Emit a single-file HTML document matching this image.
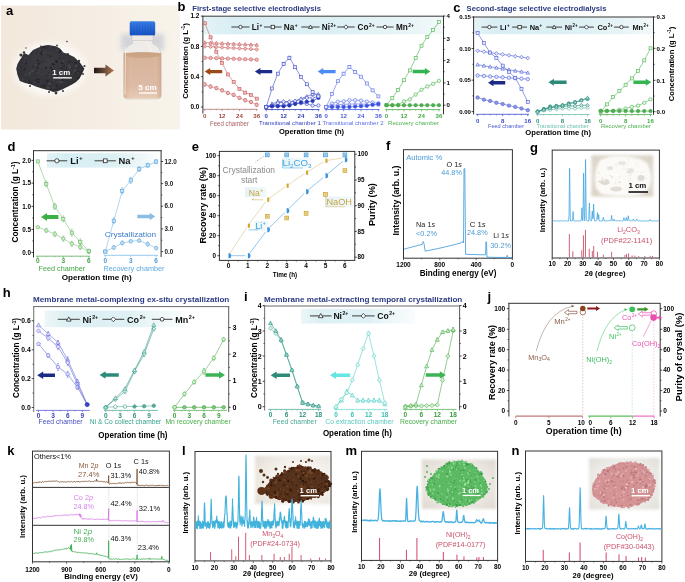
<!DOCTYPE html>
<html><head><meta charset="utf-8"><style>
html,body{margin:0;padding:0;background:#fff;width:685px;height:582px;overflow:hidden}
svg{display:block;font-family:"Liberation Sans",sans-serif;will-change:transform}

</style></head><body><div id="w">
<svg width="685" height="582" viewBox="0 0 685 582">
<rect width="685" height="582" fill="#fff"/>
<defs>
<linearGradient id="abg" x1="0" y1="0" x2="1" y2="0">
<stop offset="0" stop-color="#f2e8dc"/><stop offset="0.5" stop-color="#f5ede3"/><stop offset="1" stop-color="#f8f4eb"/></linearGradient>
<radialGradient id="ahalo" cx="0.5" cy="0.5" r="0.5"><stop offset="0.6" stop-color="#ffffff" stop-opacity="0.95"/><stop offset="1" stop-color="#ffffff" stop-opacity="0"/></radialGradient>
<linearGradient id="aarr" x1="0" y1="0" x2="1" y2="0"><stop offset="0" stop-color="#1e1818"/><stop offset="1" stop-color="#b27a56"/></linearGradient>
<linearGradient id="aliq" x1="0" y1="0" x2="0" y2="1"><stop offset="0" stop-color="#cfa888"/><stop offset="0.12" stop-color="#d8b49a"/><stop offset="0.7" stop-color="#dcbaa6"/><stop offset="1" stop-color="#e6ccb4"/></linearGradient>
<linearGradient id="aliq2" x1="0" y1="0" x2="1" y2="0"><stop offset="0" stop-color="#c09070" stop-opacity="0.45"/><stop offset="0.25" stop-color="#f0d0b4" stop-opacity="0"/><stop offset="0.8" stop-color="#f0d0b4" stop-opacity="0"/><stop offset="1" stop-color="#c09070" stop-opacity="0.45"/></linearGradient>
<linearGradient id="acap" x1="0" y1="0" x2="0" y2="1"><stop offset="0" stop-color="#3a7ee6"/><stop offset="1" stop-color="#1452c4"/></linearGradient>
<radialGradient id="powder" cx="0.45" cy="0.4" r="0.65"><stop offset="0" stop-color="#3c3c42"/><stop offset="0.7" stop-color="#323237"/><stop offset="1" stop-color="#2c2c31"/></radialGradient>
<filter id="ablur"><feGaussianBlur stdDeviation="0.5"/></filter>
<filter id="ablur2" x="-20%" y="-20%" width="140%" height="140%"><feGaussianBlur stdDeviation="2.5"/></filter>
</defs>
<rect x="1.00" y="5.50" width="179.00" height="124.00" fill="url(#abg)" />
<rect x="121" y="34" width="43" height="16.5" fill="#cfd1d8" filter="url(#ablur2)" opacity="0.9"/>
<ellipse cx="50" cy="69" rx="42" ry="31" fill="url(#ahalo)"/>
<defs><clipPath id="aclip"><path d="M16.2,68.5 L18.0,63.0 L21.8,57.0 L24.0,53.0 L28.6,54.9 L33.0,50.0 L38.5,47.4 L43.0,46.0 L47.2,44.9 L51.0,45.5 L55.9,46.2 L60.0,48.5 L63.3,52.4 L69.0,54.5 L74.5,57.3 L79.5,62.3 L84.4,68.5 L82.0,74.0 L79.5,78.4 L76.0,82.0 L72.0,84.6 L67.0,87.0 L62.1,89.6 L57.0,91.5 L53.4,92.1 L48.0,90.0 L41.0,88.3 L36.0,86.5 L31.1,84.6 L25.0,83.0 L19.9,80.9 L17.4,74.7 Z"/></clipPath></defs>
<path d="M16.2,68.5 L18.0,63.0 L21.8,57.0 L24.0,53.0 L28.6,54.9 L33.0,50.0 L38.5,47.4 L43.0,46.0 L47.2,44.9 L51.0,45.5 L55.9,46.2 L60.0,48.5 L63.3,52.4 L69.0,54.5 L74.5,57.3 L79.5,62.3 L84.4,68.5 L82.0,74.0 L79.5,78.4 L76.0,82.0 L72.0,84.6 L67.0,87.0 L62.1,89.6 L57.0,91.5 L53.4,92.1 L48.0,90.0 L41.0,88.3 L36.0,86.5 L31.1,84.6 L25.0,83.0 L19.9,80.9 L17.4,74.7 Z" fill="url(#powder)" filter="url(#ablur)"/>
<g clip-path="url(#aclip)" opacity="0.8"><circle cx="32.4" cy="70.7" r="1.3" fill="#4a4a52"/><circle cx="48.7" cy="72.5" r="0.5" fill="#242428"/><circle cx="73.8" cy="56.7" r="0.7" fill="#1e1e22"/><circle cx="65.5" cy="70.5" r="0.9" fill="#242428"/><circle cx="60.1" cy="51.4" r="1.3" fill="#1e1e22"/><circle cx="52.1" cy="80.3" r="0.6" fill="#404048"/><circle cx="82.1" cy="46.1" r="1.2" fill="#404048"/><circle cx="34.6" cy="73.1" r="1.1" fill="#333339"/><circle cx="79.6" cy="63.4" r="0.9" fill="#242428"/><circle cx="80.6" cy="87.1" r="0.5" fill="#404048"/><circle cx="50.1" cy="56.6" r="1.2" fill="#333339"/><circle cx="75.0" cy="64.6" r="1.0" fill="#333339"/><circle cx="52.9" cy="64.0" r="1.3" fill="#1e1e22"/><circle cx="63.1" cy="89.5" r="1.4" fill="#4a4a52"/><circle cx="62.3" cy="52.0" r="1.4" fill="#4a4a52"/><circle cx="78.4" cy="71.9" r="1.1" fill="#1e1e22"/><circle cx="84.2" cy="57.1" r="0.6" fill="#404048"/><circle cx="74.9" cy="92.5" r="0.8" fill="#404048"/><circle cx="20.6" cy="88.0" r="0.8" fill="#404048"/><circle cx="69.0" cy="86.8" r="1.0" fill="#404048"/><circle cx="68.6" cy="62.5" r="0.8" fill="#242428"/><circle cx="76.8" cy="92.1" r="0.7" fill="#242428"/><circle cx="18.5" cy="44.4" r="1.0" fill="#404048"/><circle cx="18.2" cy="53.7" r="0.8" fill="#333339"/><circle cx="34.2" cy="77.8" r="0.8" fill="#4a4a52"/><circle cx="82.1" cy="87.9" r="0.8" fill="#333339"/><circle cx="76.0" cy="62.9" r="1.1" fill="#242428"/><circle cx="23.1" cy="91.7" r="0.7" fill="#242428"/><circle cx="59.8" cy="79.1" r="0.9" fill="#4a4a52"/><circle cx="33.8" cy="58.8" r="0.5" fill="#4a4a52"/><circle cx="44.6" cy="72.4" r="0.8" fill="#404048"/><circle cx="56.7" cy="50.5" r="0.9" fill="#4a4a52"/><circle cx="62.9" cy="61.3" r="1.2" fill="#4a4a52"/><circle cx="17.5" cy="47.0" r="1.4" fill="#404048"/><circle cx="33.3" cy="66.4" r="1.0" fill="#242428"/><circle cx="28.2" cy="53.1" r="1.3" fill="#4a4a52"/><circle cx="34.2" cy="82.6" r="1.2" fill="#404048"/><circle cx="17.9" cy="71.9" r="0.8" fill="#1e1e22"/><circle cx="31.4" cy="83.4" r="0.8" fill="#1e1e22"/><circle cx="62.8" cy="75.8" r="0.6" fill="#404048"/><circle cx="38.2" cy="60.4" r="0.9" fill="#1e1e22"/><circle cx="75.0" cy="52.3" r="1.2" fill="#4a4a52"/><circle cx="31.0" cy="71.9" r="0.7" fill="#4a4a52"/><circle cx="24.3" cy="70.0" r="0.8" fill="#1e1e22"/><circle cx="73.7" cy="72.2" r="0.8" fill="#4a4a52"/><circle cx="73.1" cy="48.2" r="0.8" fill="#242428"/><circle cx="24.9" cy="58.3" r="0.9" fill="#4a4a52"/><circle cx="59.8" cy="58.2" r="0.9" fill="#242428"/><circle cx="79.5" cy="51.6" r="0.9" fill="#404048"/><circle cx="73.4" cy="74.5" r="0.9" fill="#242428"/><circle cx="81.6" cy="89.4" r="0.5" fill="#1e1e22"/><circle cx="47.5" cy="80.9" r="1.4" fill="#242428"/><circle cx="53.5" cy="87.6" r="1.3" fill="#404048"/><circle cx="83.0" cy="49.9" r="0.5" fill="#1e1e22"/><circle cx="78.3" cy="78.0" r="1.3" fill="#1e1e22"/><circle cx="78.1" cy="72.3" r="0.9" fill="#404048"/><circle cx="24.3" cy="68.7" r="1.1" fill="#1e1e22"/><circle cx="52.2" cy="64.3" r="0.6" fill="#242428"/><circle cx="24.7" cy="91.6" r="0.9" fill="#242428"/><circle cx="70.0" cy="61.2" r="0.6" fill="#1e1e22"/><circle cx="77.2" cy="49.8" r="1.2" fill="#1e1e22"/><circle cx="79.6" cy="83.5" r="0.9" fill="#404048"/><circle cx="55.4" cy="63.6" r="0.7" fill="#4a4a52"/><circle cx="58.6" cy="69.5" r="0.9" fill="#404048"/><circle cx="69.6" cy="44.1" r="1.2" fill="#404048"/><circle cx="19.2" cy="46.4" r="1.4" fill="#333339"/><circle cx="75.0" cy="48.2" r="0.9" fill="#242428"/><circle cx="26.8" cy="47.5" r="1.1" fill="#333339"/><circle cx="56.5" cy="61.7" r="1.4" fill="#1e1e22"/><circle cx="45.6" cy="50.3" r="1.1" fill="#404048"/><circle cx="42.2" cy="47.9" r="0.5" fill="#1e1e22"/><circle cx="47.8" cy="75.9" r="0.8" fill="#242428"/><circle cx="71.3" cy="74.5" r="0.5" fill="#333339"/><circle cx="59.3" cy="81.2" r="0.9" fill="#4a4a52"/><circle cx="63.9" cy="66.6" r="0.7" fill="#1e1e22"/><circle cx="34.6" cy="72.9" r="0.7" fill="#333339"/><circle cx="25.0" cy="45.4" r="0.8" fill="#4a4a52"/><circle cx="78.0" cy="82.8" r="0.6" fill="#4a4a52"/><circle cx="63.6" cy="90.0" r="1.2" fill="#242428"/><circle cx="62.1" cy="80.0" r="1.0" fill="#242428"/><circle cx="72.0" cy="79.1" r="0.6" fill="#333339"/><circle cx="69.4" cy="46.2" r="1.0" fill="#404048"/><circle cx="61.5" cy="62.4" r="0.8" fill="#404048"/><circle cx="74.8" cy="45.2" r="1.1" fill="#404048"/><circle cx="73.7" cy="90.7" r="0.8" fill="#242428"/><circle cx="22.1" cy="92.8" r="1.0" fill="#242428"/><circle cx="65.3" cy="49.2" r="1.3" fill="#404048"/><circle cx="20.2" cy="59.9" r="0.7" fill="#242428"/><circle cx="21.3" cy="92.9" r="0.9" fill="#1e1e22"/><circle cx="64.3" cy="90.2" r="0.8" fill="#4a4a52"/><circle cx="43.4" cy="61.2" r="1.4" fill="#333339"/><circle cx="41.9" cy="55.5" r="1.3" fill="#333339"/><circle cx="82.7" cy="64.3" r="1.2" fill="#242428"/><circle cx="62.5" cy="69.3" r="0.6" fill="#333339"/><circle cx="43.7" cy="87.5" r="0.6" fill="#1e1e22"/><circle cx="67.6" cy="88.9" r="1.4" fill="#242428"/><circle cx="56.5" cy="86.0" r="0.7" fill="#1e1e22"/><circle cx="29.7" cy="72.7" r="1.3" fill="#4a4a52"/><circle cx="74.8" cy="70.4" r="1.1" fill="#4a4a52"/><circle cx="75.0" cy="73.2" r="1.0" fill="#242428"/><circle cx="34.4" cy="54.7" r="0.7" fill="#404048"/><circle cx="71.5" cy="53.8" r="0.8" fill="#242428"/><circle cx="38.2" cy="81.9" r="0.9" fill="#1e1e22"/><circle cx="64.1" cy="78.4" r="0.9" fill="#1e1e22"/><circle cx="73.6" cy="84.3" r="0.5" fill="#242428"/><circle cx="84.5" cy="47.5" r="1.2" fill="#333339"/><circle cx="76.8" cy="46.2" r="1.3" fill="#1e1e22"/><circle cx="60.7" cy="82.1" r="1.4" fill="#404048"/><circle cx="74.9" cy="55.9" r="1.2" fill="#1e1e22"/><circle cx="25.5" cy="74.5" r="1.3" fill="#404048"/><circle cx="33.6" cy="86.4" r="0.7" fill="#4a4a52"/><circle cx="22.3" cy="83.1" r="0.6" fill="#404048"/><circle cx="73.5" cy="58.3" r="0.9" fill="#4a4a52"/><circle cx="66.7" cy="60.5" r="0.8" fill="#404048"/><circle cx="46.1" cy="67.8" r="1.1" fill="#1e1e22"/><circle cx="67.2" cy="68.0" r="1.0" fill="#1e1e22"/><circle cx="24.2" cy="57.5" r="0.6" fill="#333339"/><circle cx="77.2" cy="88.5" r="1.0" fill="#404048"/><circle cx="64.3" cy="77.2" r="1.2" fill="#4a4a52"/><circle cx="36.4" cy="77.1" r="0.6" fill="#4a4a52"/><circle cx="81.2" cy="60.6" r="1.0" fill="#242428"/><circle cx="23.8" cy="68.2" r="0.6" fill="#4a4a52"/><circle cx="36.3" cy="79.7" r="1.1" fill="#1e1e22"/><circle cx="66.4" cy="51.3" r="1.3" fill="#4a4a52"/><circle cx="61.2" cy="50.0" r="0.6" fill="#242428"/><circle cx="38.9" cy="79.3" r="0.9" fill="#242428"/><circle cx="36.7" cy="53.2" r="0.8" fill="#333339"/><circle cx="28.2" cy="47.4" r="1.2" fill="#1e1e22"/><circle cx="53.5" cy="80.2" r="0.6" fill="#4a4a52"/><circle cx="34.7" cy="46.6" r="0.5" fill="#1e1e22"/><circle cx="50.8" cy="56.1" r="0.8" fill="#242428"/><circle cx="39.0" cy="63.8" r="1.2" fill="#242428"/><circle cx="20.8" cy="68.4" r="0.6" fill="#404048"/><circle cx="56.7" cy="77.4" r="1.2" fill="#242428"/><circle cx="66.2" cy="53.1" r="1.0" fill="#1e1e22"/><circle cx="62.2" cy="63.2" r="1.0" fill="#1e1e22"/><circle cx="26.1" cy="63.5" r="1.0" fill="#1e1e22"/><circle cx="27.8" cy="52.8" r="0.8" fill="#4a4a52"/><circle cx="36.2" cy="85.3" r="1.3" fill="#333339"/><circle cx="81.5" cy="62.8" r="1.3" fill="#242428"/><circle cx="37.4" cy="68.4" r="1.1" fill="#242428"/><circle cx="36.7" cy="86.1" r="0.5" fill="#333339"/><circle cx="29.1" cy="75.1" r="1.2" fill="#404048"/><circle cx="61.7" cy="68.1" r="1.1" fill="#242428"/><circle cx="29.7" cy="82.3" r="0.5" fill="#1e1e22"/><circle cx="50.5" cy="75.7" r="0.6" fill="#333339"/><circle cx="35.5" cy="76.2" r="0.6" fill="#1e1e22"/><circle cx="70.7" cy="74.5" r="0.5" fill="#404048"/><circle cx="58.7" cy="68.8" r="1.0" fill="#333339"/><circle cx="80.2" cy="59.8" r="1.1" fill="#4a4a52"/><circle cx="25.3" cy="86.1" r="1.2" fill="#242428"/><circle cx="18.3" cy="47.9" r="1.4" fill="#4a4a52"/><circle cx="30.2" cy="47.1" r="0.9" fill="#1e1e22"/><circle cx="68.2" cy="67.8" r="1.2" fill="#404048"/><circle cx="44.2" cy="85.4" r="0.9" fill="#1e1e22"/><circle cx="48.7" cy="47.3" r="0.7" fill="#333339"/><circle cx="49.7" cy="45.1" r="1.2" fill="#333339"/><circle cx="43.7" cy="52.8" r="1.1" fill="#404048"/><circle cx="41.3" cy="62.2" r="0.8" fill="#242428"/><circle cx="43.7" cy="91.5" r="0.7" fill="#1e1e22"/><circle cx="41.5" cy="85.9" r="0.7" fill="#242428"/><circle cx="30.4" cy="52.4" r="1.0" fill="#333339"/><circle cx="59.9" cy="50.8" r="0.7" fill="#242428"/><circle cx="49.8" cy="46.9" r="0.9" fill="#404048"/><circle cx="37.9" cy="45.6" r="0.7" fill="#404048"/><circle cx="18.7" cy="68.2" r="0.7" fill="#1e1e22"/><circle cx="42.8" cy="53.3" r="1.1" fill="#4a4a52"/><circle cx="39.9" cy="50.1" r="1.2" fill="#404048"/><circle cx="36.1" cy="92.1" r="1.2" fill="#333339"/><circle cx="82.4" cy="67.9" r="0.7" fill="#242428"/><circle cx="72.2" cy="74.8" r="0.8" fill="#4a4a52"/><circle cx="19.9" cy="65.3" r="1.0" fill="#404048"/><circle cx="16.3" cy="45.5" r="0.5" fill="#404048"/><circle cx="50.7" cy="67.6" r="1.1" fill="#1e1e22"/><circle cx="78.1" cy="53.8" r="0.8" fill="#333339"/><circle cx="49.0" cy="61.2" r="0.8" fill="#404048"/><circle cx="67.9" cy="74.9" r="0.6" fill="#333339"/><circle cx="36.2" cy="85.6" r="1.0" fill="#404048"/><circle cx="53.8" cy="70.3" r="0.7" fill="#333339"/><circle cx="67.0" cy="80.0" r="0.8" fill="#242428"/><circle cx="28.7" cy="83.3" r="0.7" fill="#333339"/><circle cx="69.8" cy="67.6" r="1.2" fill="#4a4a52"/><circle cx="51.0" cy="80.9" r="1.4" fill="#333339"/><circle cx="18.9" cy="52.4" r="1.2" fill="#404048"/><circle cx="22.3" cy="77.9" r="0.8" fill="#404048"/><circle cx="57.4" cy="83.3" r="1.3" fill="#404048"/><circle cx="76.2" cy="66.0" r="1.4" fill="#4a4a52"/><circle cx="16.1" cy="53.5" r="0.8" fill="#404048"/><circle cx="37.5" cy="66.1" r="0.7" fill="#1e1e22"/><circle cx="19.4" cy="51.5" r="1.0" fill="#1e1e22"/><circle cx="16.8" cy="55.3" r="0.7" fill="#1e1e22"/><circle cx="54.8" cy="64.6" r="0.8" fill="#242428"/><circle cx="76.9" cy="82.3" r="0.7" fill="#333339"/><circle cx="21.5" cy="84.5" r="1.0" fill="#404048"/><circle cx="75.3" cy="49.0" r="0.6" fill="#4a4a52"/><circle cx="48.1" cy="54.9" r="0.6" fill="#242428"/><circle cx="49.5" cy="76.8" r="0.9" fill="#4a4a52"/><circle cx="61.6" cy="82.1" r="1.3" fill="#4a4a52"/><circle cx="57.0" cy="83.9" r="0.6" fill="#1e1e22"/><circle cx="16.5" cy="58.7" r="0.8" fill="#404048"/><circle cx="29.2" cy="80.9" r="1.1" fill="#242428"/><circle cx="41.2" cy="82.4" r="1.0" fill="#404048"/><circle cx="30.8" cy="61.2" r="0.8" fill="#404048"/><circle cx="45.7" cy="48.1" r="0.8" fill="#1e1e22"/><circle cx="67.7" cy="54.1" r="1.3" fill="#1e1e22"/><circle cx="84.1" cy="74.0" r="1.3" fill="#242428"/><circle cx="41.4" cy="53.4" r="1.4" fill="#242428"/><circle cx="49.4" cy="81.9" r="0.9" fill="#333339"/><circle cx="56.5" cy="45.7" r="0.7" fill="#404048"/><circle cx="22.6" cy="79.4" r="1.0" fill="#4a4a52"/><circle cx="20.2" cy="67.1" r="1.2" fill="#1e1e22"/><circle cx="35.0" cy="65.2" r="0.9" fill="#4a4a52"/><circle cx="29.6" cy="82.3" r="0.6" fill="#1e1e22"/><circle cx="36.7" cy="64.1" r="0.7" fill="#404048"/><circle cx="49.6" cy="83.7" r="1.4" fill="#4a4a52"/><circle cx="83.6" cy="86.9" r="1.3" fill="#4a4a52"/><circle cx="45.8" cy="90.1" r="1.0" fill="#333339"/><circle cx="53.4" cy="61.6" r="0.8" fill="#4a4a52"/><circle cx="48.0" cy="87.5" r="1.2" fill="#4a4a52"/><circle cx="80.2" cy="69.5" r="0.6" fill="#404048"/><circle cx="52.6" cy="70.3" r="1.4" fill="#1e1e22"/><circle cx="16.1" cy="92.2" r="0.8" fill="#333339"/><circle cx="82.6" cy="61.8" r="0.5" fill="#242428"/><circle cx="28.8" cy="44.6" r="1.3" fill="#333339"/><circle cx="73.7" cy="73.6" r="0.9" fill="#404048"/><circle cx="34.1" cy="76.9" r="0.9" fill="#333339"/><circle cx="34.0" cy="46.2" r="0.5" fill="#333339"/><circle cx="84.7" cy="52.1" r="0.7" fill="#242428"/><circle cx="25.4" cy="81.2" r="1.0" fill="#333339"/><circle cx="73.3" cy="71.0" r="0.5" fill="#4a4a52"/><circle cx="19.1" cy="67.8" r="1.3" fill="#404048"/><circle cx="78.5" cy="66.9" r="1.0" fill="#242428"/><circle cx="41.6" cy="75.0" r="0.7" fill="#4a4a52"/><circle cx="63.2" cy="92.6" r="0.6" fill="#242428"/><circle cx="69.4" cy="65.8" r="1.2" fill="#4a4a52"/><circle cx="47.2" cy="91.0" r="1.0" fill="#1e1e22"/><circle cx="25.6" cy="45.9" r="1.3" fill="#333339"/><circle cx="73.1" cy="89.6" r="0.7" fill="#242428"/><circle cx="37.8" cy="73.3" r="0.9" fill="#404048"/><circle cx="35.3" cy="78.8" r="0.6" fill="#4a4a52"/><circle cx="62.1" cy="62.2" r="0.9" fill="#242428"/><circle cx="67.9" cy="84.5" r="0.7" fill="#333339"/><circle cx="79.5" cy="52.9" r="1.3" fill="#333339"/><circle cx="43.4" cy="46.4" r="1.4" fill="#1e1e22"/><circle cx="81.1" cy="59.6" r="1.0" fill="#333339"/><circle cx="18.5" cy="64.5" r="1.4" fill="#333339"/><circle cx="21.5" cy="55.3" r="1.2" fill="#1e1e22"/><circle cx="64.2" cy="49.6" r="1.1" fill="#404048"/><circle cx="72.4" cy="44.3" r="1.4" fill="#4a4a52"/><circle cx="63.8" cy="65.1" r="0.9" fill="#333339"/><circle cx="36.0" cy="71.4" r="0.7" fill="#1e1e22"/><circle cx="82.1" cy="51.1" r="1.1" fill="#1e1e22"/><circle cx="48.2" cy="63.5" r="0.6" fill="#404048"/><circle cx="19.8" cy="81.2" r="0.8" fill="#1e1e22"/><circle cx="60.8" cy="50.4" r="0.5" fill="#1e1e22"/><circle cx="82.3" cy="70.2" r="1.2" fill="#333339"/><circle cx="45.9" cy="52.9" r="0.8" fill="#404048"/><circle cx="25.1" cy="51.1" r="0.8" fill="#1e1e22"/><circle cx="80.7" cy="73.6" r="0.5" fill="#1e1e22"/><circle cx="41.6" cy="51.0" r="0.7" fill="#333339"/></g>
<circle cx="21" cy="55" r="1.6" fill="#38383e"/>
<circle cx="24" cy="52.5" r="1.2" fill="#38383e"/>
<circle cx="68" cy="54" r="1.0" fill="#38383e"/>
<circle cx="79" cy="61" r="1.2" fill="#38383e"/>
<circle cx="84.5" cy="66" r="1.1" fill="#38383e"/>
<circle cx="83" cy="74" r="1.0" fill="#38383e"/>
<circle cx="56" cy="93" r="1.4" fill="#38383e"/>
<circle cx="49" cy="92" r="1.0" fill="#38383e"/>
<circle cx="30" cy="86" r="1.0" fill="#38383e"/>
<circle cx="18" cy="72" r="1.0" fill="#38383e"/>
<circle cx="63" cy="91" r="1.0" fill="#38383e"/>
<circle cx="41" cy="46.5" r="1.0" fill="#38383e"/>
<circle cx="57" cy="45.5" r="0.9" fill="#38383e"/>
<circle cx="67" cy="41.5" r="0.8" fill="#38383e"/>
<circle cx="26" cy="48" r="0.7" fill="#38383e"/>
<text x="61.20" y="74.86" font-size="7.4" fill="#fff" font-weight="bold" text-anchor="middle" textLength="18" lengthAdjust="spacingAndGlyphs" >1 cm</text>
<rect x="53.20" y="77.20" width="18.60" height="1.30" fill="#fff" />
<path d="M94,67.8 L105.5,67.8 L105.5,64.5 L114,70.5 L105.5,76.5 L105.5,73.2 L94,73.2 Z" fill="url(#aarr)"/>
<path d="M132.5,40 L132.5,43.5 Q124,47 123.5,56 L123.5,95.5 Q123.5,99 128,99 L157,99 Q161.4,99 161.4,95.5 L161.4,56 Q161,47 152.8,43.5 L152.8,40 Z" fill="#efebe8" stroke="#c8c0b8" stroke-width="0.5"/>
<path d="M123.8,53 Q142,51.5 161.1,53 L161.1,95.5 Q161.1,98.5 157,98.5 L128,98.5 Q123.8,98.5 123.8,95.5 Z" fill="url(#aliq)"/>
<path d="M123.8,53 Q142,51.5 161.1,53 L161.1,95.5 Q161.1,98.5 157,98.5 L128,98.5 Q123.8,98.5 123.8,95.5 Z" fill="url(#aliq2)"/>
<ellipse cx="142.5" cy="55" rx="17" ry="3" fill="#c49a78" opacity="0.55"/>
<path d="M125.5,47 L125,95" stroke="#ffffff" stroke-width="1.0" opacity="0.6"/>
<path d="M146,42 Q150,46 151,52" stroke="#ffffff" stroke-width="0.8" opacity="0.6" fill="none"/>
<rect x="129.7" y="21.2" width="25.5" height="14.5" rx="1.8" fill="url(#acap)"/>
<line x1="131.20" y1="23.00" x2="131.20" y2="34.50" stroke="#0a3a90" stroke-width="0.5" opacity="0.45"/>
<line x1="134.00" y1="23.00" x2="134.00" y2="34.50" stroke="#0a3a90" stroke-width="0.5" opacity="0.45"/>
<line x1="136.80" y1="23.00" x2="136.80" y2="34.50" stroke="#0a3a90" stroke-width="0.5" opacity="0.45"/>
<line x1="139.60" y1="23.00" x2="139.60" y2="34.50" stroke="#0a3a90" stroke-width="0.5" opacity="0.45"/>
<line x1="142.40" y1="23.00" x2="142.40" y2="34.50" stroke="#0a3a90" stroke-width="0.5" opacity="0.45"/>
<line x1="145.20" y1="23.00" x2="145.20" y2="34.50" stroke="#0a3a90" stroke-width="0.5" opacity="0.45"/>
<line x1="148.00" y1="23.00" x2="148.00" y2="34.50" stroke="#0a3a90" stroke-width="0.5" opacity="0.45"/>
<line x1="150.80" y1="23.00" x2="150.80" y2="34.50" stroke="#0a3a90" stroke-width="0.5" opacity="0.45"/>
<line x1="153.60" y1="23.00" x2="153.60" y2="34.50" stroke="#0a3a90" stroke-width="0.5" opacity="0.45"/>
<rect x="132" y="35.5" width="21" height="5" fill="#ece9e6" stroke="#c0bcb8" stroke-width="0.4"/>
<text x="147.50" y="90.26" font-size="7.4" fill="#fff" font-weight="bold" text-anchor="middle" textLength="18.5" lengthAdjust="spacingAndGlyphs" >5 cm</text>
<rect x="139.00" y="92.40" width="18.00" height="1.30" fill="#fff" />
<text x="6.00" y="14.88" font-size="13" fill="#000" font-weight="bold" >a</text>
<text x="177.40" y="11.28" font-size="13" fill="#000" font-weight="bold" >b</text>
<text x="192.30" y="11.46" font-size="7.4" fill="#2b3a80" font-weight="bold" textLength="128.7" lengthAdjust="spacingAndGlyphs" >First-stage selective electrodialysis</text>
<defs><linearGradient id="legb" x1="0" y1="0" x2="1" y2="0"><stop offset="0" stop-color="#e4f2f5"/><stop offset="0.12" stop-color="#d9eef3"/><stop offset="0.55" stop-color="#dcf0f4"/><stop offset="0.85" stop-color="#e8f4f7"/><stop offset="1" stop-color="#f3f9fa"/></linearGradient></defs>
<rect x="203.50" y="16.80" width="239.50" height="17.50" fill="url(#legb)" />
<line x1="202.40" y1="16.20" x2="444.00" y2="16.20" stroke="#333" stroke-width="1.0" />
<line x1="202.90" y1="15.80" x2="202.90" y2="113.50" stroke="#333" stroke-width="1.0" />
<line x1="443.50" y1="15.80" x2="443.50" y2="114.30" stroke="#333" stroke-width="1.0" />
<line x1="200.90" y1="107.00" x2="202.90" y2="107.00" stroke="#000" stroke-width="0.7" />
<text x="199.30" y="109.30" font-size="6.3999999999999995" fill="#000" font-weight="bold" text-anchor="end" >0.0</text>
<line x1="200.90" y1="76.70" x2="202.90" y2="76.70" stroke="#000" stroke-width="0.7" />
<text x="199.30" y="79.00" font-size="6.3999999999999995" fill="#000" font-weight="bold" text-anchor="end" >0.4</text>
<line x1="200.90" y1="46.40" x2="202.90" y2="46.40" stroke="#000" stroke-width="0.7" />
<text x="199.30" y="48.70" font-size="6.3999999999999995" fill="#000" font-weight="bold" text-anchor="end" >0.8</text>
<line x1="200.90" y1="16.10" x2="202.90" y2="16.10" stroke="#000" stroke-width="0.7" />
<text x="199.30" y="18.40" font-size="6.3999999999999995" fill="#000" font-weight="bold" text-anchor="end" >1.2</text>
<line x1="201.70" y1="91.85" x2="202.90" y2="91.85" stroke="#000" stroke-width="0.6" />
<line x1="201.70" y1="61.55" x2="202.90" y2="61.55" stroke="#000" stroke-width="0.6" />
<line x1="201.70" y1="31.25" x2="202.90" y2="31.25" stroke="#000" stroke-width="0.6" />
<line x1="443.50" y1="105.20" x2="445.50" y2="105.20" stroke="#000" stroke-width="0.7" />
<text x="446.60" y="107.40" font-size="6.1" fill="#000" font-weight="bold" >0</text>
<line x1="443.50" y1="82.90" x2="445.50" y2="82.90" stroke="#000" stroke-width="0.7" />
<text x="446.60" y="85.10" font-size="6.1" fill="#000" font-weight="bold" >1</text>
<line x1="443.50" y1="60.60" x2="445.50" y2="60.60" stroke="#000" stroke-width="0.7" />
<text x="446.60" y="62.80" font-size="6.1" fill="#000" font-weight="bold" >2</text>
<line x1="443.50" y1="38.30" x2="445.50" y2="38.30" stroke="#000" stroke-width="0.7" />
<text x="446.60" y="40.50" font-size="6.1" fill="#000" font-weight="bold" >3</text>
<line x1="443.50" y1="16.00" x2="445.50" y2="16.00" stroke="#000" stroke-width="0.7" />
<text x="446.60" y="18.20" font-size="6.1" fill="#000" font-weight="bold" >4</text>
<line x1="443.50" y1="94.05" x2="444.70" y2="94.05" stroke="#000" stroke-width="0.6" />
<line x1="443.50" y1="71.75" x2="444.70" y2="71.75" stroke="#000" stroke-width="0.6" />
<line x1="443.50" y1="49.45" x2="444.70" y2="49.45" stroke="#000" stroke-width="0.6" />
<line x1="443.50" y1="27.15" x2="444.70" y2="27.15" stroke="#000" stroke-width="0.6" />
<text transform="translate(184.80,61.00) rotate(-90)" x="0" y="2.77" font-size="7.7" fill="#000" font-weight="bold" text-anchor="middle" textLength="75.7" lengthAdjust="spacingAndGlyphs" >Concentration (g L<tspan font-size="4.8" dy="-2.8">-1</tspan><tspan dy="2.8">)</tspan></text>
<line x1="231.40" y1="27.00" x2="249.50" y2="27.00" stroke="#2a2a2a" stroke-width="0.9" />
<circle cx="240.45" cy="27.00" r="1.71" fill="#fff" stroke="#2a2a2a" stroke-width="0.8"/>
<text x="251.70" y="29.95" font-size="8.2" fill="#111" font-weight="bold" >Li<tspan font-size="4.92" dx="0.49" dy="-3.44">+</tspan></text>
<line x1="264.00" y1="27.00" x2="281.60" y2="27.00" stroke="#2a2a2a" stroke-width="0.9" />
<rect x="271.09" y="25.29" width="3.42" height="3.42" fill="#fff" stroke="#2a2a2a" stroke-width="0.8"/>
<text x="283.80" y="29.95" font-size="8.2" fill="#111" font-weight="bold" >Na<tspan font-size="4.92" dx="0.49" dy="-3.44">+</tspan></text>
<line x1="301.30" y1="27.00" x2="319.60" y2="27.00" stroke="#2a2a2a" stroke-width="0.9" />
<path d="M310.45,25.03 L312.33,28.47 L308.57,28.47 Z" fill="#fff" stroke="#2a2a2a" stroke-width="0.8"/>
<text x="321.80" y="29.95" font-size="8.2" fill="#111" font-weight="bold" >Ni<tspan font-size="4.92" dx="0.49" dy="-3.44">2+</tspan></text>
<line x1="337.20" y1="27.00" x2="354.70" y2="27.00" stroke="#2a2a2a" stroke-width="0.9" />
<path d="M345.95,24.86 L348.09,27.00 L345.95,29.14 L343.81,27.00 Z" fill="#fff" stroke="#2a2a2a" stroke-width="0.8"/>
<text x="357.50" y="29.95" font-size="8.2" fill="#111" font-weight="bold" >Co<tspan font-size="4.92" dx="0.49" dy="-3.44">2+</tspan></text>
<line x1="376.50" y1="27.00" x2="393.60" y2="27.00" stroke="#2a2a2a" stroke-width="0.9" />
<circle cx="385.05" cy="27.00" r="1.71" fill="#fff" stroke="#2a2a2a" stroke-width="0.8"/>
<text x="396.00" y="29.95" font-size="8.2" fill="#111" font-weight="bold" >Mn<tspan font-size="4.92" dx="0.49" dy="-3.44">2+</tspan></text>
<polyline points="204.80,42.61 210.57,42.86 216.34,43.12 222.11,43.37 227.88,43.62 233.65,43.88 239.42,44.13 245.19,44.38 250.96,44.63 256.73,44.89" fill="none" stroke="#bf6a6a" stroke-width="0.6" />
<path d="M204.80,40.76 L206.58,44.01 L203.02,44.01 Z" fill="#f2b8b8" stroke="#c25c5c" stroke-width="0.6"/>
<path d="M210.57,41.01 L212.35,44.26 L208.79,44.26 Z" fill="#f2b8b8" stroke="#c25c5c" stroke-width="0.6"/>
<path d="M216.34,41.26 L218.12,44.51 L214.56,44.51 Z" fill="#f2b8b8" stroke="#c25c5c" stroke-width="0.6"/>
<path d="M222.11,41.51 L223.89,44.76 L220.33,44.76 Z" fill="#f2b8b8" stroke="#c25c5c" stroke-width="0.6"/>
<path d="M227.88,41.77 L229.66,45.02 L226.10,45.02 Z" fill="#f2b8b8" stroke="#c25c5c" stroke-width="0.6"/>
<path d="M233.65,42.02 L235.43,45.27 L231.87,45.27 Z" fill="#f2b8b8" stroke="#c25c5c" stroke-width="0.6"/>
<path d="M239.42,42.27 L241.20,45.52 L237.64,45.52 Z" fill="#f2b8b8" stroke="#c25c5c" stroke-width="0.6"/>
<path d="M245.19,42.52 L246.97,45.77 L243.41,45.77 Z" fill="#f2b8b8" stroke="#c25c5c" stroke-width="0.6"/>
<path d="M250.96,42.78 L252.74,46.03 L249.18,46.03 Z" fill="#f2b8b8" stroke="#c25c5c" stroke-width="0.6"/>
<path d="M256.73,43.03 L258.51,46.28 L254.95,46.28 Z" fill="#f2b8b8" stroke="#c25c5c" stroke-width="0.6"/>
<polyline points="204.80,46.40 210.57,46.74 216.34,47.07 222.11,47.41 227.88,47.75 233.65,48.08 239.42,48.42 245.19,48.76 250.96,49.09 256.73,49.43" fill="none" stroke="#bf6a6a" stroke-width="0.6" />
<path d="M204.80,44.50 L206.70,46.40 L204.80,48.30 L202.90,46.40 Z" fill="#f2b8b8" stroke="#c25c5c" stroke-width="0.6"/>
<path d="M210.57,44.84 L212.47,46.74 L210.57,48.64 L208.67,46.74 Z" fill="#f2b8b8" stroke="#c25c5c" stroke-width="0.6"/>
<path d="M216.34,45.17 L218.24,47.07 L216.34,48.97 L214.44,47.07 Z" fill="#f2b8b8" stroke="#c25c5c" stroke-width="0.6"/>
<path d="M222.11,45.51 L224.01,47.41 L222.11,49.31 L220.21,47.41 Z" fill="#f2b8b8" stroke="#c25c5c" stroke-width="0.6"/>
<path d="M227.88,45.85 L229.78,47.75 L227.88,49.65 L225.98,47.75 Z" fill="#f2b8b8" stroke="#c25c5c" stroke-width="0.6"/>
<path d="M233.65,46.18 L235.55,48.08 L233.65,49.98 L231.75,48.08 Z" fill="#f2b8b8" stroke="#c25c5c" stroke-width="0.6"/>
<path d="M239.42,46.52 L241.32,48.42 L239.42,50.32 L237.52,48.42 Z" fill="#f2b8b8" stroke="#c25c5c" stroke-width="0.6"/>
<path d="M245.19,46.86 L247.09,48.76 L245.19,50.66 L243.29,48.76 Z" fill="#f2b8b8" stroke="#c25c5c" stroke-width="0.6"/>
<path d="M250.96,47.19 L252.86,49.09 L250.96,50.99 L249.06,49.09 Z" fill="#f2b8b8" stroke="#c25c5c" stroke-width="0.6"/>
<path d="M256.73,47.53 L258.63,49.43 L256.73,51.33 L254.83,49.43 Z" fill="#f2b8b8" stroke="#c25c5c" stroke-width="0.6"/>
<polyline points="204.80,57.76 210.57,57.97 216.34,58.18 222.11,58.39 227.88,58.60 233.65,58.81 239.42,59.03 245.19,59.24 250.96,59.45 256.73,59.66" fill="none" stroke="#bf6a6a" stroke-width="0.6" />
<circle cx="204.80" cy="57.76" r="1.71" fill="#f2b8b8" stroke="#c25c5c" stroke-width="0.6"/>
<circle cx="210.57" cy="57.97" r="1.71" fill="#f2b8b8" stroke="#c25c5c" stroke-width="0.6"/>
<circle cx="216.34" cy="58.18" r="1.71" fill="#f2b8b8" stroke="#c25c5c" stroke-width="0.6"/>
<circle cx="222.11" cy="58.39" r="1.71" fill="#f2b8b8" stroke="#c25c5c" stroke-width="0.6"/>
<circle cx="227.88" cy="58.60" r="1.71" fill="#f2b8b8" stroke="#c25c5c" stroke-width="0.6"/>
<circle cx="233.65" cy="58.81" r="1.71" fill="#f2b8b8" stroke="#c25c5c" stroke-width="0.6"/>
<circle cx="239.42" cy="59.03" r="1.71" fill="#f2b8b8" stroke="#c25c5c" stroke-width="0.6"/>
<circle cx="245.19" cy="59.24" r="1.71" fill="#f2b8b8" stroke="#c25c5c" stroke-width="0.6"/>
<circle cx="250.96" cy="59.45" r="1.71" fill="#f2b8b8" stroke="#c25c5c" stroke-width="0.6"/>
<circle cx="256.73" cy="59.66" r="1.71" fill="#f2b8b8" stroke="#c25c5c" stroke-width="0.6"/>
<polyline points="204.80,84.50 210.57,86.55 216.34,88.06 222.11,90.34 227.88,92.99 233.65,94.88 239.42,97.91 245.19,100.18 250.96,102.00 256.73,104.80" fill="none" stroke="#bf6a6a" stroke-width="0.6" />
<line x1="204.80" y1="82.90" x2="204.80" y2="86.10" stroke="#c25c5c" stroke-width="0.5" />
<line x1="203.80" y1="82.90" x2="205.80" y2="82.90" stroke="#c25c5c" stroke-width="0.5" />
<line x1="203.80" y1="86.10" x2="205.80" y2="86.10" stroke="#c25c5c" stroke-width="0.5" />
<circle cx="204.80" cy="84.50" r="1.71" fill="#f2b8b8" stroke="#c25c5c" stroke-width="0.6"/>
<line x1="210.57" y1="84.95" x2="210.57" y2="88.15" stroke="#c25c5c" stroke-width="0.5" />
<line x1="209.57" y1="84.95" x2="211.57" y2="84.95" stroke="#c25c5c" stroke-width="0.5" />
<line x1="209.57" y1="88.15" x2="211.57" y2="88.15" stroke="#c25c5c" stroke-width="0.5" />
<circle cx="210.57" cy="86.55" r="1.71" fill="#f2b8b8" stroke="#c25c5c" stroke-width="0.6"/>
<line x1="216.34" y1="86.46" x2="216.34" y2="89.66" stroke="#c25c5c" stroke-width="0.5" />
<line x1="215.34" y1="86.46" x2="217.34" y2="86.46" stroke="#c25c5c" stroke-width="0.5" />
<line x1="215.34" y1="89.66" x2="217.34" y2="89.66" stroke="#c25c5c" stroke-width="0.5" />
<circle cx="216.34" cy="88.06" r="1.71" fill="#f2b8b8" stroke="#c25c5c" stroke-width="0.6"/>
<line x1="222.11" y1="88.74" x2="222.11" y2="91.94" stroke="#c25c5c" stroke-width="0.5" />
<line x1="221.11" y1="88.74" x2="223.11" y2="88.74" stroke="#c25c5c" stroke-width="0.5" />
<line x1="221.11" y1="91.94" x2="223.11" y2="91.94" stroke="#c25c5c" stroke-width="0.5" />
<circle cx="222.11" cy="90.34" r="1.71" fill="#f2b8b8" stroke="#c25c5c" stroke-width="0.6"/>
<line x1="227.88" y1="91.39" x2="227.88" y2="94.59" stroke="#c25c5c" stroke-width="0.5" />
<line x1="226.88" y1="91.39" x2="228.88" y2="91.39" stroke="#c25c5c" stroke-width="0.5" />
<line x1="226.88" y1="94.59" x2="228.88" y2="94.59" stroke="#c25c5c" stroke-width="0.5" />
<circle cx="227.88" cy="92.99" r="1.71" fill="#f2b8b8" stroke="#c25c5c" stroke-width="0.6"/>
<line x1="233.65" y1="93.28" x2="233.65" y2="96.48" stroke="#c25c5c" stroke-width="0.5" />
<line x1="232.65" y1="93.28" x2="234.65" y2="93.28" stroke="#c25c5c" stroke-width="0.5" />
<line x1="232.65" y1="96.48" x2="234.65" y2="96.48" stroke="#c25c5c" stroke-width="0.5" />
<circle cx="233.65" cy="94.88" r="1.71" fill="#f2b8b8" stroke="#c25c5c" stroke-width="0.6"/>
<line x1="239.42" y1="96.31" x2="239.42" y2="99.51" stroke="#c25c5c" stroke-width="0.5" />
<line x1="238.42" y1="96.31" x2="240.42" y2="96.31" stroke="#c25c5c" stroke-width="0.5" />
<line x1="238.42" y1="99.51" x2="240.42" y2="99.51" stroke="#c25c5c" stroke-width="0.5" />
<circle cx="239.42" cy="97.91" r="1.71" fill="#f2b8b8" stroke="#c25c5c" stroke-width="0.6"/>
<line x1="245.19" y1="98.58" x2="245.19" y2="101.78" stroke="#c25c5c" stroke-width="0.5" />
<line x1="244.19" y1="98.58" x2="246.19" y2="98.58" stroke="#c25c5c" stroke-width="0.5" />
<line x1="244.19" y1="101.78" x2="246.19" y2="101.78" stroke="#c25c5c" stroke-width="0.5" />
<circle cx="245.19" cy="100.18" r="1.71" fill="#f2b8b8" stroke="#c25c5c" stroke-width="0.6"/>
<line x1="250.96" y1="100.40" x2="250.96" y2="103.60" stroke="#c25c5c" stroke-width="0.5" />
<line x1="249.96" y1="100.40" x2="251.96" y2="100.40" stroke="#c25c5c" stroke-width="0.5" />
<line x1="249.96" y1="103.60" x2="251.96" y2="103.60" stroke="#c25c5c" stroke-width="0.5" />
<circle cx="250.96" cy="102.00" r="1.71" fill="#f2b8b8" stroke="#c25c5c" stroke-width="0.6"/>
<line x1="256.73" y1="103.20" x2="256.73" y2="106.40" stroke="#c25c5c" stroke-width="0.5" />
<line x1="255.73" y1="103.20" x2="257.73" y2="103.20" stroke="#c25c5c" stroke-width="0.5" />
<line x1="255.73" y1="106.40" x2="257.73" y2="106.40" stroke="#c25c5c" stroke-width="0.5" />
<circle cx="256.73" cy="104.80" r="1.71" fill="#f2b8b8" stroke="#c25c5c" stroke-width="0.6"/>
<polyline points="204.80,23.30 210.57,37.31 216.34,51.70 222.11,63.07 227.88,74.43 233.65,82.00 239.42,88.82 245.19,92.61 250.96,94.88 256.73,98.67" fill="none" stroke="#bf6a6a" stroke-width="0.6" />
<rect x="203.28" y="21.78" width="3.04" height="3.04" fill="#f2b8b8" stroke="#c25c5c" stroke-width="0.6"/>
<rect x="209.05" y="35.79" width="3.04" height="3.04" fill="#f2b8b8" stroke="#c25c5c" stroke-width="0.6"/>
<rect x="214.82" y="50.18" width="3.04" height="3.04" fill="#f2b8b8" stroke="#c25c5c" stroke-width="0.6"/>
<rect x="220.59" y="61.55" width="3.04" height="3.04" fill="#f2b8b8" stroke="#c25c5c" stroke-width="0.6"/>
<rect x="226.36" y="72.91" width="3.04" height="3.04" fill="#f2b8b8" stroke="#c25c5c" stroke-width="0.6"/>
<rect x="232.13" y="80.48" width="3.04" height="3.04" fill="#f2b8b8" stroke="#c25c5c" stroke-width="0.6"/>
<rect x="237.90" y="87.30" width="3.04" height="3.04" fill="#f2b8b8" stroke="#c25c5c" stroke-width="0.6"/>
<rect x="243.67" y="91.09" width="3.04" height="3.04" fill="#f2b8b8" stroke="#c25c5c" stroke-width="0.6"/>
<rect x="249.44" y="93.36" width="3.04" height="3.04" fill="#f2b8b8" stroke="#c25c5c" stroke-width="0.6"/>
<rect x="255.21" y="97.15" width="3.04" height="3.04" fill="#f2b8b8" stroke="#c25c5c" stroke-width="0.6"/>
<line x1="203.00" y1="109.30" x2="257.50" y2="109.30" stroke="#b47272" stroke-width="0.8" />
<line x1="204.80" y1="109.30" x2="204.80" y2="111.10" stroke="#b47272" stroke-width="0.7" />
<text x="204.80" y="117.60" font-size="6.1" fill="#a4453c" font-weight="bold" text-anchor="middle" >0</text>
<line x1="222.11" y1="109.30" x2="222.11" y2="111.10" stroke="#b47272" stroke-width="0.7" />
<text x="222.11" y="117.60" font-size="6.1" fill="#a4453c" font-weight="bold" text-anchor="middle" >12</text>
<line x1="239.42" y1="109.30" x2="239.42" y2="111.10" stroke="#b47272" stroke-width="0.7" />
<text x="239.42" y="117.60" font-size="6.1" fill="#a4453c" font-weight="bold" text-anchor="middle" >24</text>
<line x1="256.73" y1="109.30" x2="256.73" y2="111.10" stroke="#b47272" stroke-width="0.7" />
<text x="256.73" y="117.60" font-size="6.1" fill="#a4453c" font-weight="bold" text-anchor="middle" >36</text>
<line x1="210.57" y1="109.30" x2="210.57" y2="110.40" stroke="#b47272" stroke-width="0.6" />
<line x1="216.34" y1="109.30" x2="216.34" y2="110.40" stroke="#b47272" stroke-width="0.6" />
<line x1="227.88" y1="109.30" x2="227.88" y2="110.40" stroke="#b47272" stroke-width="0.6" />
<line x1="233.65" y1="109.30" x2="233.65" y2="110.40" stroke="#b47272" stroke-width="0.6" />
<line x1="245.19" y1="109.30" x2="245.19" y2="110.40" stroke="#b47272" stroke-width="0.6" />
<line x1="250.96" y1="109.30" x2="250.96" y2="110.40" stroke="#b47272" stroke-width="0.6" />
<text x="229.50" y="125.70" font-size="6.4" fill="#a85f5f" text-anchor="middle" textLength="39" lengthAdjust="spacingAndGlyphs" >Feed chamber</text>
<path d="M222.20,69.90 L210.20,69.90 L210.20,68.10 L204.70,71.60 L210.20,75.10 L210.20,73.30 L222.20,73.30 Z" fill="#9c4a1a" />
<polyline points="266.20,107.00 272.00,106.24 277.80,105.48 283.60,105.48 289.40,104.73 295.20,103.21 301.00,103.21 306.80,103.97 312.60,105.48 318.40,105.48" fill="none" stroke="#3c4cc4" stroke-width="0.6" />
<circle cx="266.20" cy="107.00" r="1.71" fill="#e4e7ff" stroke="#3c4cc4" stroke-width="0.6"/>
<circle cx="272.00" cy="106.24" r="1.71" fill="#e4e7ff" stroke="#3c4cc4" stroke-width="0.6"/>
<circle cx="277.80" cy="105.48" r="1.71" fill="#e4e7ff" stroke="#3c4cc4" stroke-width="0.6"/>
<circle cx="283.60" cy="105.48" r="1.71" fill="#e4e7ff" stroke="#3c4cc4" stroke-width="0.6"/>
<circle cx="289.40" cy="104.73" r="1.71" fill="#e4e7ff" stroke="#3c4cc4" stroke-width="0.6"/>
<circle cx="295.20" cy="103.21" r="1.71" fill="#e4e7ff" stroke="#3c4cc4" stroke-width="0.6"/>
<circle cx="301.00" cy="103.21" r="1.71" fill="#e4e7ff" stroke="#3c4cc4" stroke-width="0.6"/>
<circle cx="306.80" cy="103.97" r="1.71" fill="#e4e7ff" stroke="#3c4cc4" stroke-width="0.6"/>
<circle cx="312.60" cy="105.48" r="1.71" fill="#e4e7ff" stroke="#3c4cc4" stroke-width="0.6"/>
<circle cx="318.40" cy="105.48" r="1.71" fill="#e4e7ff" stroke="#3c4cc4" stroke-width="0.6"/>
<polyline points="266.20,107.00 272.00,103.97 277.80,101.70 283.60,101.70 289.40,101.70 295.20,100.94 301.00,98.67 306.80,96.39 312.60,94.12 318.40,94.12" fill="none" stroke="#3c4cc4" stroke-width="0.6" />
<path d="M266.20,105.14 L267.98,108.39 L264.42,108.39 Z" fill="#e4e7ff" stroke="#3c4cc4" stroke-width="0.6"/>
<line x1="272.00" y1="102.47" x2="272.00" y2="105.47" stroke="#3c4cc4" stroke-width="0.5" />
<line x1="271.00" y1="102.47" x2="273.00" y2="102.47" stroke="#3c4cc4" stroke-width="0.5" />
<line x1="271.00" y1="105.47" x2="273.00" y2="105.47" stroke="#3c4cc4" stroke-width="0.5" />
<path d="M272.00,102.11 L273.78,105.36 L270.22,105.36 Z" fill="#e4e7ff" stroke="#3c4cc4" stroke-width="0.6"/>
<line x1="277.80" y1="99.70" x2="277.80" y2="103.70" stroke="#3c4cc4" stroke-width="0.5" />
<line x1="276.80" y1="99.70" x2="278.80" y2="99.70" stroke="#3c4cc4" stroke-width="0.5" />
<line x1="276.80" y1="103.70" x2="278.80" y2="103.70" stroke="#3c4cc4" stroke-width="0.5" />
<path d="M277.80,99.84 L279.58,103.09 L276.02,103.09 Z" fill="#e4e7ff" stroke="#3c4cc4" stroke-width="0.6"/>
<path d="M283.60,99.84 L285.38,103.09 L281.82,103.09 Z" fill="#e4e7ff" stroke="#3c4cc4" stroke-width="0.6"/>
<path d="M289.40,99.84 L291.18,103.09 L287.62,103.09 Z" fill="#e4e7ff" stroke="#3c4cc4" stroke-width="0.6"/>
<path d="M295.20,99.08 L296.98,102.33 L293.42,102.33 Z" fill="#e4e7ff" stroke="#3c4cc4" stroke-width="0.6"/>
<path d="M301.00,96.81 L302.78,100.06 L299.22,100.06 Z" fill="#e4e7ff" stroke="#3c4cc4" stroke-width="0.6"/>
<path d="M306.80,94.54 L308.58,97.79 L305.02,97.79 Z" fill="#e4e7ff" stroke="#3c4cc4" stroke-width="0.6"/>
<path d="M312.60,92.27 L314.38,95.52 L310.82,95.52 Z" fill="#e4e7ff" stroke="#3c4cc4" stroke-width="0.6"/>
<path d="M318.40,92.27 L320.18,95.52 L316.62,95.52 Z" fill="#e4e7ff" stroke="#3c4cc4" stroke-width="0.6"/>
<polyline points="266.20,107.00 272.00,105.48 277.80,103.21 283.60,101.70 289.40,101.70 295.20,100.94 301.00,99.42 306.80,97.91 312.60,97.91 318.40,96.39" fill="none" stroke="#3c4cc4" stroke-width="0.6" />
<path d="M266.20,105.10 L268.10,107.00 L266.20,108.90 L264.30,107.00 Z" fill="#e4e7ff" stroke="#3c4cc4" stroke-width="0.6"/>
<path d="M272.00,103.58 L273.90,105.48 L272.00,107.39 L270.10,105.48 Z" fill="#e4e7ff" stroke="#3c4cc4" stroke-width="0.6"/>
<path d="M277.80,101.31 L279.70,103.21 L277.80,105.11 L275.90,103.21 Z" fill="#e4e7ff" stroke="#3c4cc4" stroke-width="0.6"/>
<path d="M283.60,99.80 L285.50,101.70 L283.60,103.60 L281.70,101.70 Z" fill="#e4e7ff" stroke="#3c4cc4" stroke-width="0.6"/>
<path d="M289.40,99.80 L291.30,101.70 L289.40,103.60 L287.50,101.70 Z" fill="#e4e7ff" stroke="#3c4cc4" stroke-width="0.6"/>
<path d="M295.20,99.04 L297.10,100.94 L295.20,102.84 L293.30,100.94 Z" fill="#e4e7ff" stroke="#3c4cc4" stroke-width="0.6"/>
<path d="M301.00,97.52 L302.90,99.42 L301.00,101.33 L299.10,99.42 Z" fill="#e4e7ff" stroke="#3c4cc4" stroke-width="0.6"/>
<path d="M306.80,96.01 L308.70,97.91 L306.80,99.81 L304.90,97.91 Z" fill="#e4e7ff" stroke="#3c4cc4" stroke-width="0.6"/>
<path d="M312.60,96.01 L314.50,97.91 L312.60,99.81 L310.70,97.91 Z" fill="#e4e7ff" stroke="#3c4cc4" stroke-width="0.6"/>
<path d="M318.40,94.49 L320.30,96.39 L318.40,98.30 L316.50,96.39 Z" fill="#e4e7ff" stroke="#3c4cc4" stroke-width="0.6"/>
<polyline points="266.20,107.00 272.00,106.24 277.80,106.24 283.60,106.24 289.40,105.48 295.20,103.97 301.00,102.45 306.80,101.70 312.60,100.94 318.40,97.91" fill="none" stroke="#2536b8" stroke-width="0.6" />
<circle cx="266.20" cy="107.00" r="1.71" fill="#2536b8" stroke="#2536b8" stroke-width="0.6"/>
<circle cx="272.00" cy="106.24" r="1.71" fill="#2536b8" stroke="#2536b8" stroke-width="0.6"/>
<circle cx="277.80" cy="106.24" r="1.71" fill="#2536b8" stroke="#2536b8" stroke-width="0.6"/>
<circle cx="283.60" cy="106.24" r="1.71" fill="#2536b8" stroke="#2536b8" stroke-width="0.6"/>
<circle cx="289.40" cy="105.48" r="1.71" fill="#2536b8" stroke="#2536b8" stroke-width="0.6"/>
<circle cx="295.20" cy="103.97" r="1.71" fill="#2536b8" stroke="#2536b8" stroke-width="0.6"/>
<circle cx="301.00" cy="102.45" r="1.71" fill="#2536b8" stroke="#2536b8" stroke-width="0.6"/>
<circle cx="306.80" cy="101.70" r="1.71" fill="#2536b8" stroke="#2536b8" stroke-width="0.6"/>
<circle cx="312.60" cy="100.94" r="1.71" fill="#2536b8" stroke="#2536b8" stroke-width="0.6"/>
<circle cx="318.40" cy="97.91" r="1.71" fill="#2536b8" stroke="#2536b8" stroke-width="0.6"/>
<polyline points="266.20,107.00 272.00,88.44 277.80,73.67 283.60,63.82 289.40,57.76 295.20,67.23 301.00,77.08 306.80,84.28 312.60,91.85 318.40,96.39" fill="none" stroke="#3c4cc4" stroke-width="0.6" />
<rect x="264.68" y="105.48" width="3.04" height="3.04" fill="#e4e7ff" stroke="#3c4cc4" stroke-width="0.6"/>
<rect x="270.48" y="86.92" width="3.04" height="3.04" fill="#e4e7ff" stroke="#3c4cc4" stroke-width="0.6"/>
<rect x="276.28" y="72.15" width="3.04" height="3.04" fill="#e4e7ff" stroke="#3c4cc4" stroke-width="0.6"/>
<line x1="283.60" y1="62.32" x2="283.60" y2="65.32" stroke="#3c4cc4" stroke-width="0.5" />
<line x1="282.60" y1="62.32" x2="284.60" y2="62.32" stroke="#3c4cc4" stroke-width="0.5" />
<line x1="282.60" y1="65.32" x2="284.60" y2="65.32" stroke="#3c4cc4" stroke-width="0.5" />
<rect x="282.08" y="62.30" width="3.04" height="3.04" fill="#e4e7ff" stroke="#3c4cc4" stroke-width="0.6"/>
<line x1="289.40" y1="56.26" x2="289.40" y2="59.26" stroke="#3c4cc4" stroke-width="0.5" />
<line x1="288.40" y1="56.26" x2="290.40" y2="56.26" stroke="#3c4cc4" stroke-width="0.5" />
<line x1="288.40" y1="59.26" x2="290.40" y2="59.26" stroke="#3c4cc4" stroke-width="0.5" />
<rect x="287.88" y="56.24" width="3.04" height="3.04" fill="#e4e7ff" stroke="#3c4cc4" stroke-width="0.6"/>
<rect x="293.68" y="65.71" width="3.04" height="3.04" fill="#e4e7ff" stroke="#3c4cc4" stroke-width="0.6"/>
<rect x="299.48" y="75.56" width="3.04" height="3.04" fill="#e4e7ff" stroke="#3c4cc4" stroke-width="0.6"/>
<rect x="305.28" y="82.76" width="3.04" height="3.04" fill="#e4e7ff" stroke="#3c4cc4" stroke-width="0.6"/>
<rect x="311.08" y="90.33" width="3.04" height="3.04" fill="#e4e7ff" stroke="#3c4cc4" stroke-width="0.6"/>
<rect x="316.88" y="94.88" width="3.04" height="3.04" fill="#e4e7ff" stroke="#3c4cc4" stroke-width="0.6"/>
<line x1="264.80" y1="109.50" x2="319.50" y2="109.50" stroke="#2f3fb5" stroke-width="0.8" />
<line x1="266.20" y1="109.50" x2="266.20" y2="111.30" stroke="#2f3fb5" stroke-width="0.7" />
<text x="266.20" y="117.60" font-size="6.1" fill="#2f3fb5" font-weight="bold" text-anchor="middle" >0</text>
<line x1="283.60" y1="109.50" x2="283.60" y2="111.30" stroke="#2f3fb5" stroke-width="0.7" />
<text x="283.60" y="117.60" font-size="6.1" fill="#2f3fb5" font-weight="bold" text-anchor="middle" >12</text>
<line x1="301.00" y1="109.50" x2="301.00" y2="111.30" stroke="#2f3fb5" stroke-width="0.7" />
<text x="301.00" y="117.60" font-size="6.1" fill="#2f3fb5" font-weight="bold" text-anchor="middle" >24</text>
<line x1="318.40" y1="109.50" x2="318.40" y2="111.30" stroke="#2f3fb5" stroke-width="0.7" />
<text x="318.40" y="117.60" font-size="6.1" fill="#2f3fb5" font-weight="bold" text-anchor="middle" >36</text>
<line x1="272.00" y1="109.50" x2="272.00" y2="110.60" stroke="#2f3fb5" stroke-width="0.6" />
<line x1="277.80" y1="109.50" x2="277.80" y2="110.60" stroke="#2f3fb5" stroke-width="0.6" />
<line x1="289.40" y1="109.50" x2="289.40" y2="110.60" stroke="#2f3fb5" stroke-width="0.6" />
<line x1="295.20" y1="109.50" x2="295.20" y2="110.60" stroke="#2f3fb5" stroke-width="0.6" />
<line x1="306.80" y1="109.50" x2="306.80" y2="110.60" stroke="#2f3fb5" stroke-width="0.6" />
<line x1="312.60" y1="109.50" x2="312.60" y2="110.60" stroke="#2f3fb5" stroke-width="0.6" />
<text x="290.00" y="124.83" font-size="6.2" fill="#3444c0" text-anchor="middle" textLength="62" lengthAdjust="spacingAndGlyphs" >Transitional chamber 1</text>
<path d="M272.20,69.90 L260.40,69.90 L260.40,68.10 L254.90,71.60 L260.40,75.10 L260.40,73.30 L272.20,73.30 Z" fill="#1c2a88" />
<polyline points="326.20,107.00 332.00,103.52 337.80,101.70 343.60,101.32 349.40,100.18 355.20,100.18 361.00,100.56 366.80,101.70 372.60,102.45 378.40,103.21" fill="none" stroke="#5b6ee8" stroke-width="0.6" />
<circle cx="326.20" cy="107.00" r="1.71" fill="#eceeff" stroke="#5b6ee8" stroke-width="0.6"/>
<circle cx="332.00" cy="103.52" r="1.71" fill="#eceeff" stroke="#5b6ee8" stroke-width="0.6"/>
<circle cx="337.80" cy="101.70" r="1.71" fill="#eceeff" stroke="#5b6ee8" stroke-width="0.6"/>
<circle cx="343.60" cy="101.32" r="1.71" fill="#eceeff" stroke="#5b6ee8" stroke-width="0.6"/>
<circle cx="349.40" cy="100.18" r="1.71" fill="#eceeff" stroke="#5b6ee8" stroke-width="0.6"/>
<circle cx="355.20" cy="100.18" r="1.71" fill="#eceeff" stroke="#5b6ee8" stroke-width="0.6"/>
<circle cx="361.00" cy="100.56" r="1.71" fill="#eceeff" stroke="#5b6ee8" stroke-width="0.6"/>
<circle cx="366.80" cy="101.70" r="1.71" fill="#eceeff" stroke="#5b6ee8" stroke-width="0.6"/>
<circle cx="372.60" cy="102.45" r="1.71" fill="#eceeff" stroke="#5b6ee8" stroke-width="0.6"/>
<circle cx="378.40" cy="103.21" r="1.71" fill="#eceeff" stroke="#5b6ee8" stroke-width="0.6"/>
<polyline points="326.20,107.00 332.00,105.48 337.80,104.73 343.60,104.35 349.40,103.97 355.20,103.97 361.00,103.97 366.80,104.35 372.60,104.73 378.40,104.73" fill="none" stroke="#5b6ee8" stroke-width="0.6" />
<path d="M326.20,105.25 L327.87,108.31 L324.53,108.31 Z" fill="#eceeff" stroke="#5b6ee8" stroke-width="0.6"/>
<path d="M332.00,103.74 L333.67,106.80 L330.33,106.80 Z" fill="#eceeff" stroke="#5b6ee8" stroke-width="0.6"/>
<path d="M337.80,102.98 L339.47,106.04 L336.13,106.04 Z" fill="#eceeff" stroke="#5b6ee8" stroke-width="0.6"/>
<path d="M343.60,102.60 L345.27,105.66 L341.93,105.66 Z" fill="#eceeff" stroke="#5b6ee8" stroke-width="0.6"/>
<path d="M349.40,102.22 L351.07,105.28 L347.73,105.28 Z" fill="#eceeff" stroke="#5b6ee8" stroke-width="0.6"/>
<path d="M355.20,102.22 L356.87,105.28 L353.53,105.28 Z" fill="#eceeff" stroke="#5b6ee8" stroke-width="0.6"/>
<path d="M361.00,102.22 L362.67,105.28 L359.33,105.28 Z" fill="#eceeff" stroke="#5b6ee8" stroke-width="0.6"/>
<path d="M366.80,102.60 L368.47,105.66 L365.13,105.66 Z" fill="#eceeff" stroke="#5b6ee8" stroke-width="0.6"/>
<path d="M372.60,102.98 L374.27,106.04 L370.93,106.04 Z" fill="#eceeff" stroke="#5b6ee8" stroke-width="0.6"/>
<path d="M378.40,102.98 L380.07,106.04 L376.73,106.04 Z" fill="#eceeff" stroke="#5b6ee8" stroke-width="0.6"/>
<polyline points="326.20,107.00 332.00,107.00 337.80,107.00 343.60,107.00 349.40,107.00 355.20,106.62 361.00,106.24 366.80,105.86 372.60,104.73 378.40,103.97" fill="none" stroke="#3b50e0" stroke-width="0.6" />
<circle cx="326.20" cy="107.00" r="1.71" fill="#3b50e0" stroke="#3b50e0" stroke-width="0.6"/>
<circle cx="332.00" cy="107.00" r="1.71" fill="#3b50e0" stroke="#3b50e0" stroke-width="0.6"/>
<circle cx="337.80" cy="107.00" r="1.71" fill="#3b50e0" stroke="#3b50e0" stroke-width="0.6"/>
<circle cx="343.60" cy="107.00" r="1.71" fill="#3b50e0" stroke="#3b50e0" stroke-width="0.6"/>
<circle cx="349.40" cy="107.00" r="1.71" fill="#3b50e0" stroke="#3b50e0" stroke-width="0.6"/>
<circle cx="355.20" cy="106.62" r="1.71" fill="#3b50e0" stroke="#3b50e0" stroke-width="0.6"/>
<circle cx="361.00" cy="106.24" r="1.71" fill="#3b50e0" stroke="#3b50e0" stroke-width="0.6"/>
<circle cx="366.80" cy="105.86" r="1.71" fill="#3b50e0" stroke="#3b50e0" stroke-width="0.6"/>
<circle cx="372.60" cy="104.73" r="1.71" fill="#3b50e0" stroke="#3b50e0" stroke-width="0.6"/>
<circle cx="378.40" cy="103.97" r="1.71" fill="#3b50e0" stroke="#3b50e0" stroke-width="0.6"/>
<polyline points="326.20,107.00 332.00,94.12 337.80,81.25 343.60,73.67 349.40,66.85 355.20,72.16 361.00,76.70 366.80,83.52 372.60,90.34 378.40,96.39" fill="none" stroke="#5b6ee8" stroke-width="0.6" />
<rect x="324.68" y="105.48" width="3.04" height="3.04" fill="#eceeff" stroke="#5b6ee8" stroke-width="0.6"/>
<rect x="330.48" y="92.60" width="3.04" height="3.04" fill="#eceeff" stroke="#5b6ee8" stroke-width="0.6"/>
<rect x="336.28" y="79.73" width="3.04" height="3.04" fill="#eceeff" stroke="#5b6ee8" stroke-width="0.6"/>
<line x1="343.60" y1="72.37" x2="343.60" y2="74.97" stroke="#5b6ee8" stroke-width="0.5" />
<line x1="342.60" y1="72.37" x2="344.60" y2="72.37" stroke="#5b6ee8" stroke-width="0.5" />
<line x1="342.60" y1="74.97" x2="344.60" y2="74.97" stroke="#5b6ee8" stroke-width="0.5" />
<rect x="342.08" y="72.15" width="3.04" height="3.04" fill="#eceeff" stroke="#5b6ee8" stroke-width="0.6"/>
<line x1="349.40" y1="65.55" x2="349.40" y2="68.15" stroke="#5b6ee8" stroke-width="0.5" />
<line x1="348.40" y1="65.55" x2="350.40" y2="65.55" stroke="#5b6ee8" stroke-width="0.5" />
<line x1="348.40" y1="68.15" x2="350.40" y2="68.15" stroke="#5b6ee8" stroke-width="0.5" />
<rect x="347.88" y="65.33" width="3.04" height="3.04" fill="#eceeff" stroke="#5b6ee8" stroke-width="0.6"/>
<line x1="355.20" y1="70.86" x2="355.20" y2="73.45" stroke="#5b6ee8" stroke-width="0.5" />
<line x1="354.20" y1="70.86" x2="356.20" y2="70.86" stroke="#5b6ee8" stroke-width="0.5" />
<line x1="354.20" y1="73.45" x2="356.20" y2="73.45" stroke="#5b6ee8" stroke-width="0.5" />
<rect x="353.68" y="70.64" width="3.04" height="3.04" fill="#eceeff" stroke="#5b6ee8" stroke-width="0.6"/>
<rect x="359.48" y="75.18" width="3.04" height="3.04" fill="#eceeff" stroke="#5b6ee8" stroke-width="0.6"/>
<rect x="365.28" y="82.00" width="3.04" height="3.04" fill="#eceeff" stroke="#5b6ee8" stroke-width="0.6"/>
<rect x="371.08" y="88.82" width="3.04" height="3.04" fill="#eceeff" stroke="#5b6ee8" stroke-width="0.6"/>
<rect x="376.88" y="94.88" width="3.04" height="3.04" fill="#eceeff" stroke="#5b6ee8" stroke-width="0.6"/>
<line x1="324.80" y1="109.50" x2="379.50" y2="109.50" stroke="#4a5fe0" stroke-width="0.8" />
<line x1="326.20" y1="109.50" x2="326.20" y2="111.30" stroke="#4a5fe0" stroke-width="0.7" />
<text x="326.20" y="117.60" font-size="6.1" fill="#4a5fe0" font-weight="bold" text-anchor="middle" >0</text>
<line x1="343.60" y1="109.50" x2="343.60" y2="111.30" stroke="#4a5fe0" stroke-width="0.7" />
<text x="343.60" y="117.60" font-size="6.1" fill="#4a5fe0" font-weight="bold" text-anchor="middle" >12</text>
<line x1="361.00" y1="109.50" x2="361.00" y2="111.30" stroke="#4a5fe0" stroke-width="0.7" />
<text x="361.00" y="117.60" font-size="6.1" fill="#4a5fe0" font-weight="bold" text-anchor="middle" >24</text>
<line x1="378.40" y1="109.50" x2="378.40" y2="111.30" stroke="#4a5fe0" stroke-width="0.7" />
<text x="378.40" y="117.60" font-size="6.1" fill="#4a5fe0" font-weight="bold" text-anchor="middle" >36</text>
<line x1="332.00" y1="109.50" x2="332.00" y2="110.60" stroke="#4a5fe0" stroke-width="0.6" />
<line x1="337.80" y1="109.50" x2="337.80" y2="110.60" stroke="#4a5fe0" stroke-width="0.6" />
<line x1="349.40" y1="109.50" x2="349.40" y2="110.60" stroke="#4a5fe0" stroke-width="0.6" />
<line x1="355.20" y1="109.50" x2="355.20" y2="110.60" stroke="#4a5fe0" stroke-width="0.6" />
<line x1="366.80" y1="109.50" x2="366.80" y2="110.60" stroke="#4a5fe0" stroke-width="0.6" />
<line x1="372.60" y1="109.50" x2="372.60" y2="110.60" stroke="#4a5fe0" stroke-width="0.6" />
<text x="353.00" y="124.83" font-size="6.2" fill="#5a6de6" text-anchor="middle" textLength="61" lengthAdjust="spacingAndGlyphs" >Transitional chamber 2</text>
<path d="M335.60,69.90 L323.20,69.90 L323.20,68.10 L317.70,71.60 L323.20,75.10 L323.20,73.30 L335.60,73.30 Z" fill="#4a8af2" />
<polyline points="386.50,105.20 392.33,105.20 398.16,104.75 403.99,101.41 409.82,99.40 415.65,94.50 421.48,89.81 427.31,86.47 433.14,83.79 438.97,80.89" fill="none" stroke="#4bb34f" stroke-width="0.6" />
<circle cx="386.50" cy="105.20" r="1.71" fill="#e9f7e6" stroke="#4bb34f" stroke-width="0.6"/>
<circle cx="392.33" cy="105.20" r="1.71" fill="#e9f7e6" stroke="#4bb34f" stroke-width="0.6"/>
<circle cx="398.16" cy="104.75" r="1.71" fill="#e9f7e6" stroke="#4bb34f" stroke-width="0.6"/>
<circle cx="403.99" cy="101.41" r="1.71" fill="#e9f7e6" stroke="#4bb34f" stroke-width="0.6"/>
<circle cx="409.82" cy="99.40" r="1.71" fill="#e9f7e6" stroke="#4bb34f" stroke-width="0.6"/>
<circle cx="415.65" cy="94.50" r="1.71" fill="#e9f7e6" stroke="#4bb34f" stroke-width="0.6"/>
<circle cx="421.48" cy="89.81" r="1.71" fill="#e9f7e6" stroke="#4bb34f" stroke-width="0.6"/>
<circle cx="427.31" cy="86.47" r="1.71" fill="#e9f7e6" stroke="#4bb34f" stroke-width="0.6"/>
<circle cx="433.14" cy="83.79" r="1.71" fill="#e9f7e6" stroke="#4bb34f" stroke-width="0.6"/>
<circle cx="438.97" cy="80.89" r="1.71" fill="#e9f7e6" stroke="#4bb34f" stroke-width="0.6"/>
<polyline points="386.50,105.20 392.33,97.84 398.16,90.04 403.99,80.22 409.82,70.41 415.65,57.92 421.48,45.66 427.31,36.96 433.14,30.05 438.97,22.02" fill="none" stroke="#4bb34f" stroke-width="0.6" />
<rect x="384.98" y="103.68" width="3.04" height="3.04" fill="#e9f7e6" stroke="#4bb34f" stroke-width="0.6"/>
<rect x="390.81" y="96.32" width="3.04" height="3.04" fill="#e9f7e6" stroke="#4bb34f" stroke-width="0.6"/>
<rect x="396.64" y="88.52" width="3.04" height="3.04" fill="#e9f7e6" stroke="#4bb34f" stroke-width="0.6"/>
<rect x="402.47" y="78.70" width="3.04" height="3.04" fill="#e9f7e6" stroke="#4bb34f" stroke-width="0.6"/>
<rect x="408.30" y="68.89" width="3.04" height="3.04" fill="#e9f7e6" stroke="#4bb34f" stroke-width="0.6"/>
<rect x="414.13" y="56.40" width="3.04" height="3.04" fill="#e9f7e6" stroke="#4bb34f" stroke-width="0.6"/>
<rect x="419.96" y="44.14" width="3.04" height="3.04" fill="#e9f7e6" stroke="#4bb34f" stroke-width="0.6"/>
<rect x="425.79" y="35.44" width="3.04" height="3.04" fill="#e9f7e6" stroke="#4bb34f" stroke-width="0.6"/>
<rect x="431.62" y="28.53" width="3.04" height="3.04" fill="#e9f7e6" stroke="#4bb34f" stroke-width="0.6"/>
<rect x="437.45" y="20.50" width="3.04" height="3.04" fill="#e9f7e6" stroke="#4bb34f" stroke-width="0.6"/>
<polyline points="386.50,105.20 392.33,105.20 398.16,105.20 403.99,105.20 409.82,105.20 415.65,105.20 421.48,105.20 427.31,105.20 433.14,105.20 438.97,105.20" fill="none" stroke="#3fa043" stroke-width="0.6" />
<circle cx="386.50" cy="105.20" r="1.71" fill="#4cb050" stroke="#3fa043" stroke-width="0.6"/>
<circle cx="392.33" cy="105.20" r="1.71" fill="#4cb050" stroke="#3fa043" stroke-width="0.6"/>
<circle cx="398.16" cy="105.20" r="1.71" fill="#4cb050" stroke="#3fa043" stroke-width="0.6"/>
<circle cx="403.99" cy="105.20" r="1.71" fill="#4cb050" stroke="#3fa043" stroke-width="0.6"/>
<circle cx="409.82" cy="105.20" r="1.71" fill="#4cb050" stroke="#3fa043" stroke-width="0.6"/>
<circle cx="415.65" cy="105.20" r="1.71" fill="#4cb050" stroke="#3fa043" stroke-width="0.6"/>
<circle cx="421.48" cy="105.20" r="1.71" fill="#4cb050" stroke="#3fa043" stroke-width="0.6"/>
<circle cx="427.31" cy="105.20" r="1.71" fill="#4cb050" stroke="#3fa043" stroke-width="0.6"/>
<circle cx="433.14" cy="105.20" r="1.71" fill="#4cb050" stroke="#3fa043" stroke-width="0.6"/>
<circle cx="438.97" cy="105.20" r="1.71" fill="#4cb050" stroke="#3fa043" stroke-width="0.6"/>
<line x1="385.30" y1="109.60" x2="440.20" y2="109.60" stroke="#44aa44" stroke-width="0.8" />
<line x1="386.50" y1="109.60" x2="386.50" y2="111.40" stroke="#44aa44" stroke-width="0.7" />
<text x="386.50" y="117.60" font-size="6.1" fill="#44aa44" font-weight="bold" text-anchor="middle" >0</text>
<line x1="403.99" y1="109.60" x2="403.99" y2="111.40" stroke="#44aa44" stroke-width="0.7" />
<text x="403.99" y="117.60" font-size="6.1" fill="#44aa44" font-weight="bold" text-anchor="middle" >12</text>
<line x1="421.48" y1="109.60" x2="421.48" y2="111.40" stroke="#44aa44" stroke-width="0.7" />
<text x="421.48" y="117.60" font-size="6.1" fill="#44aa44" font-weight="bold" text-anchor="middle" >24</text>
<line x1="438.97" y1="109.60" x2="438.97" y2="111.40" stroke="#44aa44" stroke-width="0.7" />
<text x="438.97" y="117.60" font-size="6.1" fill="#44aa44" font-weight="bold" text-anchor="middle" >36</text>
<line x1="392.33" y1="109.60" x2="392.33" y2="110.70" stroke="#44aa44" stroke-width="0.6" />
<line x1="398.16" y1="109.60" x2="398.16" y2="110.70" stroke="#44aa44" stroke-width="0.6" />
<line x1="409.82" y1="109.60" x2="409.82" y2="110.70" stroke="#44aa44" stroke-width="0.6" />
<line x1="415.65" y1="109.60" x2="415.65" y2="110.70" stroke="#44aa44" stroke-width="0.6" />
<line x1="427.31" y1="109.60" x2="427.31" y2="110.70" stroke="#44aa44" stroke-width="0.6" />
<line x1="433.14" y1="109.60" x2="433.14" y2="110.70" stroke="#44aa44" stroke-width="0.6" />
<text x="413.50" y="125.23" font-size="6.2" fill="#4cae4c" text-anchor="middle" textLength="51" lengthAdjust="spacingAndGlyphs" >Recovery chamber</text>
<path d="M412.70,69.80 L424.90,69.80 L424.90,68.00 L430.40,71.50 L424.90,75.00 L424.90,73.20 L412.70,73.20 Z" fill="#34b552" />
<text x="311.50" y="134.04" font-size="7.6" fill="#000" font-weight="bold" text-anchor="middle" textLength="65.2" lengthAdjust="spacingAndGlyphs" >Operation time (h)</text>
<text x="453.30" y="11.88" font-size="13" fill="#000" font-weight="bold" >c</text>
<text x="466.60" y="11.26" font-size="7.4" fill="#2b3a80" font-weight="bold" textLength="139.9" lengthAdjust="spacingAndGlyphs" >Second-stage selective electrodialysis</text>
<rect x="474.20" y="17.50" width="178.80" height="16.70" fill="url(#legb)" />
<line x1="473.10" y1="17.00" x2="654.00" y2="17.00" stroke="#333" stroke-width="1.0" />
<line x1="473.60" y1="16.60" x2="473.60" y2="114.50" stroke="#333" stroke-width="1.0" />
<line x1="653.50" y1="16.60" x2="653.50" y2="114.80" stroke="#333" stroke-width="1.0" />
<line x1="471.60" y1="111.60" x2="473.60" y2="111.60" stroke="#000" stroke-width="0.7" />
<text x="471.00" y="113.80" font-size="6.1" fill="#000" font-weight="bold" text-anchor="end" >0.00</text>
<line x1="471.60" y1="80.10" x2="473.60" y2="80.10" stroke="#000" stroke-width="0.7" />
<text x="471.00" y="82.30" font-size="6.1" fill="#000" font-weight="bold" text-anchor="end" >0.05</text>
<line x1="471.60" y1="48.50" x2="473.60" y2="48.50" stroke="#000" stroke-width="0.7" />
<text x="471.00" y="50.70" font-size="6.1" fill="#000" font-weight="bold" text-anchor="end" >0.10</text>
<line x1="471.60" y1="17.00" x2="473.60" y2="17.00" stroke="#000" stroke-width="0.7" />
<text x="471.00" y="19.20" font-size="6.1" fill="#000" font-weight="bold" text-anchor="end" >0.15</text>
<line x1="472.40" y1="95.85" x2="473.60" y2="95.85" stroke="#000" stroke-width="0.6" />
<line x1="472.40" y1="64.30" x2="473.60" y2="64.30" stroke="#000" stroke-width="0.6" />
<line x1="472.40" y1="32.75" x2="473.60" y2="32.75" stroke="#000" stroke-width="0.6" />
<line x1="653.50" y1="111.70" x2="655.50" y2="111.70" stroke="#000" stroke-width="0.7" />
<text x="656.60" y="113.90" font-size="6.1" fill="#000" font-weight="bold" >0.0</text>
<line x1="653.50" y1="80.30" x2="655.50" y2="80.30" stroke="#000" stroke-width="0.7" />
<text x="656.60" y="82.50" font-size="6.1" fill="#000" font-weight="bold" >0.1</text>
<line x1="653.50" y1="48.30" x2="655.50" y2="48.30" stroke="#000" stroke-width="0.7" />
<text x="656.60" y="50.50" font-size="6.1" fill="#000" font-weight="bold" >0.2</text>
<line x1="653.50" y1="17.00" x2="655.50" y2="17.00" stroke="#000" stroke-width="0.7" />
<text x="656.60" y="19.20" font-size="6.1" fill="#000" font-weight="bold" >0.3</text>
<line x1="653.50" y1="96.00" x2="654.70" y2="96.00" stroke="#000" stroke-width="0.6" />
<line x1="653.50" y1="64.30" x2="654.70" y2="64.30" stroke="#000" stroke-width="0.6" />
<line x1="653.50" y1="32.60" x2="654.70" y2="32.60" stroke="#000" stroke-width="0.6" />
<text transform="translate(671.30,64.00) rotate(-90)" x="0" y="2.74" font-size="7.6" fill="#000" font-weight="bold" text-anchor="middle" textLength="74.5" lengthAdjust="spacingAndGlyphs" >Concentration (g L<tspan font-size="4.8" dy="-2.8">-1</tspan><tspan dy="2.8">)</tspan></text>
<line x1="481.50" y1="27.10" x2="497.30" y2="27.10" stroke="#2a2a2a" stroke-width="0.9" />
<circle cx="489.40" cy="27.10" r="1.71" fill="#fff" stroke="#2a2a2a" stroke-width="0.8"/>
<text x="499.90" y="29.76" font-size="7.4" fill="#111" font-weight="bold" >Li<tspan font-size="4.44" dx="0.44" dy="-3.11">+</tspan></text>
<line x1="512.20" y1="27.10" x2="527.00" y2="27.10" stroke="#2a2a2a" stroke-width="0.9" />
<rect x="517.89" y="25.39" width="3.42" height="3.42" fill="#fff" stroke="#2a2a2a" stroke-width="0.8"/>
<text x="529.70" y="29.76" font-size="7.4" fill="#111" font-weight="bold" >Na<tspan font-size="4.44" dx="0.44" dy="-3.11">+</tspan></text>
<line x1="546.30" y1="27.10" x2="562.00" y2="27.10" stroke="#2a2a2a" stroke-width="0.9" />
<path d="M554.15,25.13 L556.03,28.57 L552.27,28.57 Z" fill="#fff" stroke="#2a2a2a" stroke-width="0.8"/>
<text x="564.70" y="29.76" font-size="7.4" fill="#111" font-weight="bold" >Ni<tspan font-size="4.44" dx="0.44" dy="-3.11">2+</tspan></text>
<line x1="579.00" y1="27.10" x2="593.90" y2="27.10" stroke="#2a2a2a" stroke-width="0.9" />
<path d="M586.45,24.96 L588.59,27.10 L586.45,29.24 L584.31,27.10 Z" fill="#fff" stroke="#2a2a2a" stroke-width="0.8"/>
<text x="597.40" y="29.76" font-size="7.4" fill="#111" font-weight="bold" >Co<tspan font-size="4.44" dx="0.44" dy="-3.11">2+</tspan></text>
<line x1="614.00" y1="27.10" x2="628.90" y2="27.10" stroke="#2a2a2a" stroke-width="0.9" />
<circle cx="621.45" cy="27.10" r="1.71" fill="#fff" stroke="#2a2a2a" stroke-width="0.8"/>
<text x="632.40" y="29.76" font-size="7.4" fill="#111" font-weight="bold" >Mn<tspan font-size="4.44" dx="0.44" dy="-3.11">2+</tspan></text>
<polyline points="477.60,50.80 483.87,51.71 490.14,52.62 496.41,53.52 502.68,54.43 508.95,55.33 515.22,56.24 521.49,57.14 527.76,58.05" fill="none" stroke="#4a5ad2" stroke-width="0.6" />
<path d="M477.60,48.90 L479.50,50.80 L477.60,52.70 L475.70,50.80 Z" fill="#e2e6ff" stroke="#4a5ad2" stroke-width="0.6"/>
<path d="M483.87,49.81 L485.77,51.71 L483.87,53.61 L481.97,51.71 Z" fill="#e2e6ff" stroke="#4a5ad2" stroke-width="0.6"/>
<path d="M490.14,50.72 L492.04,52.62 L490.14,54.52 L488.24,52.62 Z" fill="#e2e6ff" stroke="#4a5ad2" stroke-width="0.6"/>
<path d="M496.41,51.62 L498.31,53.52 L496.41,55.42 L494.51,53.52 Z" fill="#e2e6ff" stroke="#4a5ad2" stroke-width="0.6"/>
<path d="M502.68,52.53 L504.58,54.43 L502.68,56.33 L500.78,54.43 Z" fill="#e2e6ff" stroke="#4a5ad2" stroke-width="0.6"/>
<path d="M508.95,53.43 L510.85,55.33 L508.95,57.23 L507.05,55.33 Z" fill="#e2e6ff" stroke="#4a5ad2" stroke-width="0.6"/>
<path d="M515.22,54.34 L517.12,56.24 L515.22,58.14 L513.32,56.24 Z" fill="#e2e6ff" stroke="#4a5ad2" stroke-width="0.6"/>
<path d="M521.49,55.24 L523.39,57.14 L521.49,59.04 L519.59,57.14 Z" fill="#e2e6ff" stroke="#4a5ad2" stroke-width="0.6"/>
<path d="M527.76,56.15 L529.66,58.05 L527.76,59.95 L525.86,58.05 Z" fill="#e2e6ff" stroke="#4a5ad2" stroke-width="0.6"/>
<polyline points="477.60,64.73 483.87,65.74 490.14,66.74 496.41,67.75 502.68,68.76 508.95,69.77 515.22,70.78 521.49,71.78 527.76,72.79" fill="none" stroke="#4a5ad2" stroke-width="0.6" />
<path d="M477.60,62.87 L479.38,66.12 L475.82,66.12 Z" fill="#e2e6ff" stroke="#4a5ad2" stroke-width="0.6"/>
<path d="M483.87,63.88 L485.65,67.13 L482.09,67.13 Z" fill="#e2e6ff" stroke="#4a5ad2" stroke-width="0.6"/>
<path d="M490.14,64.89 L491.92,68.14 L488.36,68.14 Z" fill="#e2e6ff" stroke="#4a5ad2" stroke-width="0.6"/>
<path d="M496.41,65.89 L498.19,69.14 L494.63,69.14 Z" fill="#e2e6ff" stroke="#4a5ad2" stroke-width="0.6"/>
<path d="M502.68,66.90 L504.46,70.15 L500.90,70.15 Z" fill="#e2e6ff" stroke="#4a5ad2" stroke-width="0.6"/>
<path d="M508.95,67.91 L510.73,71.16 L507.17,71.16 Z" fill="#e2e6ff" stroke="#4a5ad2" stroke-width="0.6"/>
<path d="M515.22,68.92 L517.00,72.17 L513.44,72.17 Z" fill="#e2e6ff" stroke="#4a5ad2" stroke-width="0.6"/>
<path d="M521.49,69.93 L523.27,73.18 L519.71,73.18 Z" fill="#e2e6ff" stroke="#4a5ad2" stroke-width="0.6"/>
<path d="M527.76,70.93 L529.54,74.18 L525.98,74.18 Z" fill="#e2e6ff" stroke="#4a5ad2" stroke-width="0.6"/>
<polyline points="477.60,75.50 483.87,75.95 490.14,76.40 496.41,76.85 502.68,77.30 508.95,77.75 515.22,78.19 521.49,78.64 527.76,79.09" fill="none" stroke="#4a5ad2" stroke-width="0.6" />
<circle cx="477.60" cy="75.50" r="1.71" fill="#e2e6ff" stroke="#4a5ad2" stroke-width="0.6"/>
<circle cx="483.87" cy="75.95" r="1.71" fill="#e2e6ff" stroke="#4a5ad2" stroke-width="0.6"/>
<circle cx="490.14" cy="76.40" r="1.71" fill="#e2e6ff" stroke="#4a5ad2" stroke-width="0.6"/>
<circle cx="496.41" cy="76.85" r="1.71" fill="#e2e6ff" stroke="#4a5ad2" stroke-width="0.6"/>
<circle cx="502.68" cy="77.30" r="1.71" fill="#e2e6ff" stroke="#4a5ad2" stroke-width="0.6"/>
<circle cx="508.95" cy="77.75" r="1.71" fill="#e2e6ff" stroke="#4a5ad2" stroke-width="0.6"/>
<circle cx="515.22" cy="78.19" r="1.71" fill="#e2e6ff" stroke="#4a5ad2" stroke-width="0.6"/>
<circle cx="521.49" cy="78.64" r="1.71" fill="#e2e6ff" stroke="#4a5ad2" stroke-width="0.6"/>
<circle cx="527.76" cy="79.09" r="1.71" fill="#e2e6ff" stroke="#4a5ad2" stroke-width="0.6"/>
<polyline points="477.60,97.49 483.87,99.63 490.14,100.89 496.41,102.78 502.68,104.04 508.95,105.61 515.22,106.88 521.49,108.45 527.76,110.21" fill="none" stroke="#4a5ad2" stroke-width="0.6" />
<circle cx="477.60" cy="97.49" r="1.71" fill="#8f97e4" stroke="#4a5ad2" stroke-width="0.6"/>
<circle cx="483.87" cy="99.63" r="1.71" fill="#8f97e4" stroke="#4a5ad2" stroke-width="0.6"/>
<circle cx="490.14" cy="100.89" r="1.71" fill="#8f97e4" stroke="#4a5ad2" stroke-width="0.6"/>
<circle cx="496.41" cy="102.78" r="1.71" fill="#8f97e4" stroke="#4a5ad2" stroke-width="0.6"/>
<circle cx="502.68" cy="104.04" r="1.71" fill="#8f97e4" stroke="#4a5ad2" stroke-width="0.6"/>
<circle cx="508.95" cy="105.61" r="1.71" fill="#8f97e4" stroke="#4a5ad2" stroke-width="0.6"/>
<circle cx="515.22" cy="106.88" r="1.71" fill="#8f97e4" stroke="#4a5ad2" stroke-width="0.6"/>
<circle cx="521.49" cy="108.45" r="1.71" fill="#8f97e4" stroke="#4a5ad2" stroke-width="0.6"/>
<circle cx="527.76" cy="110.21" r="1.71" fill="#8f97e4" stroke="#4a5ad2" stroke-width="0.6"/>
<polyline points="477.60,33.10 483.87,42.93 490.14,52.57 496.41,58.05 502.68,65.61 508.95,71.91 515.22,77.77 521.49,88.92 527.76,102.15" fill="none" stroke="#4a5ad2" stroke-width="0.6" />
<rect x="476.08" y="31.58" width="3.04" height="3.04" fill="#e2e6ff" stroke="#4a5ad2" stroke-width="0.6"/>
<rect x="482.35" y="41.41" width="3.04" height="3.04" fill="#e2e6ff" stroke="#4a5ad2" stroke-width="0.6"/>
<rect x="488.62" y="51.05" width="3.04" height="3.04" fill="#e2e6ff" stroke="#4a5ad2" stroke-width="0.6"/>
<rect x="494.89" y="56.53" width="3.04" height="3.04" fill="#e2e6ff" stroke="#4a5ad2" stroke-width="0.6"/>
<rect x="501.16" y="64.09" width="3.04" height="3.04" fill="#e2e6ff" stroke="#4a5ad2" stroke-width="0.6"/>
<rect x="507.43" y="70.39" width="3.04" height="3.04" fill="#e2e6ff" stroke="#4a5ad2" stroke-width="0.6"/>
<rect x="513.70" y="76.25" width="3.04" height="3.04" fill="#e2e6ff" stroke="#4a5ad2" stroke-width="0.6"/>
<rect x="519.97" y="87.40" width="3.04" height="3.04" fill="#e2e6ff" stroke="#4a5ad2" stroke-width="0.6"/>
<rect x="526.24" y="100.63" width="3.04" height="3.04" fill="#e2e6ff" stroke="#4a5ad2" stroke-width="0.6"/>
<line x1="476.00" y1="114.30" x2="529.00" y2="114.30" stroke="#3a4ac8" stroke-width="0.8" />
<line x1="477.60" y1="114.30" x2="477.60" y2="116.10" stroke="#3a4ac8" stroke-width="0.7" />
<text x="477.60" y="123.20" font-size="6.1" fill="#3a4ac8" font-weight="bold" text-anchor="middle" >0</text>
<line x1="502.68" y1="114.30" x2="502.68" y2="116.10" stroke="#3a4ac8" stroke-width="0.7" />
<text x="502.68" y="123.20" font-size="6.1" fill="#3a4ac8" font-weight="bold" text-anchor="middle" >8</text>
<line x1="527.76" y1="114.30" x2="527.76" y2="116.10" stroke="#3a4ac8" stroke-width="0.7" />
<text x="527.76" y="123.20" font-size="6.1" fill="#3a4ac8" font-weight="bold" text-anchor="middle" >16</text>
<line x1="483.87" y1="114.30" x2="483.87" y2="115.40" stroke="#3a4ac8" stroke-width="0.6" />
<line x1="490.14" y1="114.30" x2="490.14" y2="115.40" stroke="#3a4ac8" stroke-width="0.6" />
<line x1="496.41" y1="114.30" x2="496.41" y2="115.40" stroke="#3a4ac8" stroke-width="0.6" />
<line x1="508.95" y1="114.30" x2="508.95" y2="115.40" stroke="#3a4ac8" stroke-width="0.6" />
<line x1="515.22" y1="114.30" x2="515.22" y2="115.40" stroke="#3a4ac8" stroke-width="0.6" />
<line x1="521.49" y1="114.30" x2="521.49" y2="115.40" stroke="#3a4ac8" stroke-width="0.6" />
<text x="506.00" y="128.36" font-size="6.0" fill="#4a5ad2" text-anchor="middle" textLength="36" lengthAdjust="spacingAndGlyphs" >Feed chamber</text>
<path d="M505.20,81.00 L493.50,81.00 L493.50,79.20 L488.00,82.70 L493.50,86.20 L493.50,84.40 L505.20,84.40 Z" fill="#1c2a88" />
<polyline points="537.60,111.60 543.84,110.34 550.08,109.71 556.32,109.08 562.56,108.45 568.80,108.45 575.04,108.45 581.28,107.82 587.52,107.82" fill="none" stroke="#5fb5a5" stroke-width="0.6" />
<circle cx="537.60" cy="111.60" r="1.61" fill="#ffffff" stroke="#5fb5a5" stroke-width="0.6"/>
<circle cx="543.84" cy="110.34" r="1.61" fill="#ffffff" stroke="#5fb5a5" stroke-width="0.6"/>
<circle cx="550.08" cy="109.71" r="1.61" fill="#ffffff" stroke="#5fb5a5" stroke-width="0.6"/>
<circle cx="556.32" cy="109.08" r="1.61" fill="#ffffff" stroke="#5fb5a5" stroke-width="0.6"/>
<circle cx="562.56" cy="108.45" r="1.61" fill="#ffffff" stroke="#5fb5a5" stroke-width="0.6"/>
<circle cx="568.80" cy="108.45" r="1.61" fill="#ffffff" stroke="#5fb5a5" stroke-width="0.6"/>
<circle cx="575.04" cy="108.45" r="1.61" fill="#ffffff" stroke="#5fb5a5" stroke-width="0.6"/>
<circle cx="581.28" cy="107.82" r="1.61" fill="#ffffff" stroke="#5fb5a5" stroke-width="0.6"/>
<circle cx="587.52" cy="107.82" r="1.61" fill="#ffffff" stroke="#5fb5a5" stroke-width="0.6"/>
<polyline points="537.60,111.60 543.84,109.08 550.08,107.82 556.32,107.19 562.56,106.56 568.80,105.93 575.04,105.93 581.28,105.30 587.52,105.30" fill="none" stroke="#2f8f7e" stroke-width="0.6" />
<path d="M537.60,109.70 L539.50,111.60 L537.60,113.50 L535.70,111.60 Z" fill="#bfe3dc" stroke="#2f8f7e" stroke-width="0.6"/>
<path d="M543.84,107.18 L545.74,109.08 L543.84,110.98 L541.94,109.08 Z" fill="#bfe3dc" stroke="#2f8f7e" stroke-width="0.6"/>
<path d="M550.08,105.92 L551.98,107.82 L550.08,109.72 L548.18,107.82 Z" fill="#bfe3dc" stroke="#2f8f7e" stroke-width="0.6"/>
<path d="M556.32,105.29 L558.22,107.19 L556.32,109.09 L554.42,107.19 Z" fill="#bfe3dc" stroke="#2f8f7e" stroke-width="0.6"/>
<path d="M562.56,104.66 L564.46,106.56 L562.56,108.46 L560.66,106.56 Z" fill="#bfe3dc" stroke="#2f8f7e" stroke-width="0.6"/>
<path d="M568.80,104.03 L570.70,105.93 L568.80,107.83 L566.90,105.93 Z" fill="#bfe3dc" stroke="#2f8f7e" stroke-width="0.6"/>
<path d="M575.04,104.03 L576.94,105.93 L575.04,107.83 L573.14,105.93 Z" fill="#bfe3dc" stroke="#2f8f7e" stroke-width="0.6"/>
<path d="M581.28,103.40 L583.18,105.30 L581.28,107.20 L579.38,105.30 Z" fill="#bfe3dc" stroke="#2f8f7e" stroke-width="0.6"/>
<path d="M587.52,103.40 L589.42,105.30 L587.52,107.20 L585.62,105.30 Z" fill="#bfe3dc" stroke="#2f8f7e" stroke-width="0.6"/>
<polyline points="537.60,111.60 543.84,109.08 550.08,106.56 556.32,105.93 562.56,105.30 568.80,103.41 575.04,102.15 581.28,100.26 587.52,99.00" fill="none" stroke="#2f8f7e" stroke-width="0.6" />
<circle cx="537.60" cy="111.60" r="1.71" fill="#5aa89a" stroke="#2f8f7e" stroke-width="0.6"/>
<circle cx="543.84" cy="109.08" r="1.71" fill="#5aa89a" stroke="#2f8f7e" stroke-width="0.6"/>
<circle cx="550.08" cy="106.56" r="1.71" fill="#5aa89a" stroke="#2f8f7e" stroke-width="0.6"/>
<circle cx="556.32" cy="105.93" r="1.71" fill="#5aa89a" stroke="#2f8f7e" stroke-width="0.6"/>
<circle cx="562.56" cy="105.30" r="1.71" fill="#5aa89a" stroke="#2f8f7e" stroke-width="0.6"/>
<circle cx="568.80" cy="103.41" r="1.71" fill="#5aa89a" stroke="#2f8f7e" stroke-width="0.6"/>
<circle cx="575.04" cy="102.15" r="1.71" fill="#5aa89a" stroke="#2f8f7e" stroke-width="0.6"/>
<circle cx="581.28" cy="100.26" r="1.71" fill="#5aa89a" stroke="#2f8f7e" stroke-width="0.6"/>
<circle cx="587.52" cy="99.00" r="1.71" fill="#5aa89a" stroke="#2f8f7e" stroke-width="0.6"/>
<polyline points="537.60,111.60 543.84,109.71 550.08,107.82 556.32,106.56 562.56,105.30 568.80,104.04 575.04,102.15 581.28,100.26 587.52,97.74" fill="none" stroke="#2f8f7e" stroke-width="0.6" />
<path d="M537.60,109.74 L539.38,112.99 L535.82,112.99 Z" fill="#bfe3dc" stroke="#2f8f7e" stroke-width="0.6"/>
<path d="M543.84,107.85 L545.62,111.10 L542.06,111.10 Z" fill="#bfe3dc" stroke="#2f8f7e" stroke-width="0.6"/>
<path d="M550.08,105.96 L551.86,109.21 L548.30,109.21 Z" fill="#bfe3dc" stroke="#2f8f7e" stroke-width="0.6"/>
<path d="M556.32,104.70 L558.10,107.95 L554.54,107.95 Z" fill="#bfe3dc" stroke="#2f8f7e" stroke-width="0.6"/>
<path d="M562.56,103.44 L564.34,106.69 L560.78,106.69 Z" fill="#bfe3dc" stroke="#2f8f7e" stroke-width="0.6"/>
<path d="M568.80,102.18 L570.58,105.43 L567.02,105.43 Z" fill="#bfe3dc" stroke="#2f8f7e" stroke-width="0.6"/>
<path d="M575.04,100.29 L576.82,103.54 L573.26,103.54 Z" fill="#bfe3dc" stroke="#2f8f7e" stroke-width="0.6"/>
<path d="M581.28,98.40 L583.06,101.65 L579.50,101.65 Z" fill="#bfe3dc" stroke="#2f8f7e" stroke-width="0.6"/>
<path d="M587.52,95.88 L589.30,99.13 L585.74,99.13 Z" fill="#bfe3dc" stroke="#2f8f7e" stroke-width="0.6"/>
<line x1="536.00" y1="114.50" x2="589.50" y2="114.50" stroke="#70c0b0" stroke-width="0.8" />
<line x1="537.60" y1="114.50" x2="537.60" y2="116.30" stroke="#70c0b0" stroke-width="0.7" />
<text x="537.60" y="123.20" font-size="6.1" fill="#2f8f7e" font-weight="bold" text-anchor="middle" >0</text>
<line x1="562.56" y1="114.50" x2="562.56" y2="116.30" stroke="#70c0b0" stroke-width="0.7" />
<text x="562.56" y="123.20" font-size="6.1" fill="#2f8f7e" font-weight="bold" text-anchor="middle" >8</text>
<line x1="587.52" y1="114.50" x2="587.52" y2="116.30" stroke="#70c0b0" stroke-width="0.7" />
<text x="587.52" y="123.20" font-size="6.1" fill="#2f8f7e" font-weight="bold" text-anchor="middle" >16</text>
<line x1="543.84" y1="114.50" x2="543.84" y2="115.60" stroke="#70c0b0" stroke-width="0.6" />
<line x1="550.08" y1="114.50" x2="550.08" y2="115.60" stroke="#70c0b0" stroke-width="0.6" />
<line x1="556.32" y1="114.50" x2="556.32" y2="115.60" stroke="#70c0b0" stroke-width="0.6" />
<line x1="568.80" y1="114.50" x2="568.80" y2="115.60" stroke="#70c0b0" stroke-width="0.6" />
<line x1="575.04" y1="114.50" x2="575.04" y2="115.60" stroke="#70c0b0" stroke-width="0.6" />
<line x1="581.28" y1="114.50" x2="581.28" y2="115.60" stroke="#70c0b0" stroke-width="0.6" />
<text x="562.50" y="128.36" font-size="6.0" fill="#6cc0b0" text-anchor="middle" textLength="52" lengthAdjust="spacingAndGlyphs" >Transitional chamber</text>
<path d="M566.60,80.60 L553.90,80.60 L553.90,78.80 L548.40,82.30 L553.90,85.80 L553.90,84.00 L566.60,84.00 Z" fill="#2e8b7a" />
<polyline points="600.70,110.75 606.93,110.75 613.15,110.75 619.38,109.80 625.60,108.53 631.83,106.95 638.05,105.68 644.28,102.82 650.50,99.34" fill="none" stroke="#4bb34f" stroke-width="0.6" />
<circle cx="600.70" cy="110.75" r="1.71" fill="#e9f7e6" stroke="#4bb34f" stroke-width="0.6"/>
<circle cx="606.93" cy="110.75" r="1.71" fill="#e9f7e6" stroke="#4bb34f" stroke-width="0.6"/>
<circle cx="613.15" cy="110.75" r="1.71" fill="#e9f7e6" stroke="#4bb34f" stroke-width="0.6"/>
<circle cx="619.38" cy="109.80" r="1.71" fill="#e9f7e6" stroke="#4bb34f" stroke-width="0.6"/>
<circle cx="625.60" cy="108.53" r="1.71" fill="#e9f7e6" stroke="#4bb34f" stroke-width="0.6"/>
<circle cx="631.83" cy="106.95" r="1.71" fill="#e9f7e6" stroke="#4bb34f" stroke-width="0.6"/>
<circle cx="638.05" cy="105.68" r="1.71" fill="#e9f7e6" stroke="#4bb34f" stroke-width="0.6"/>
<circle cx="644.28" cy="102.82" r="1.71" fill="#e9f7e6" stroke="#4bb34f" stroke-width="0.6"/>
<circle cx="650.50" cy="99.34" r="1.71" fill="#e9f7e6" stroke="#4bb34f" stroke-width="0.6"/>
<polyline points="600.70,111.70 606.93,104.41 613.15,97.12 619.38,91.09 625.60,84.75 631.83,78.42 638.05,70.81 644.28,60.35 650.50,48.30" fill="none" stroke="#4bb34f" stroke-width="0.6" />
<rect x="599.18" y="110.18" width="3.04" height="3.04" fill="#e9f7e6" stroke="#4bb34f" stroke-width="0.6"/>
<rect x="605.41" y="102.89" width="3.04" height="3.04" fill="#e9f7e6" stroke="#4bb34f" stroke-width="0.6"/>
<rect x="611.63" y="95.60" width="3.04" height="3.04" fill="#e9f7e6" stroke="#4bb34f" stroke-width="0.6"/>
<rect x="617.86" y="89.58" width="3.04" height="3.04" fill="#e9f7e6" stroke="#4bb34f" stroke-width="0.6"/>
<rect x="624.08" y="83.23" width="3.04" height="3.04" fill="#e9f7e6" stroke="#4bb34f" stroke-width="0.6"/>
<rect x="630.31" y="76.90" width="3.04" height="3.04" fill="#e9f7e6" stroke="#4bb34f" stroke-width="0.6"/>
<rect x="636.53" y="69.29" width="3.04" height="3.04" fill="#e9f7e6" stroke="#4bb34f" stroke-width="0.6"/>
<rect x="642.76" y="58.83" width="3.04" height="3.04" fill="#e9f7e6" stroke="#4bb34f" stroke-width="0.6"/>
<rect x="648.98" y="46.78" width="3.04" height="3.04" fill="#e9f7e6" stroke="#4bb34f" stroke-width="0.6"/>
<polyline points="600.70,111.07 606.93,111.07 613.15,111.07 619.38,111.07 625.60,111.07 631.83,111.07 638.05,111.07 644.28,111.07 650.50,111.07" fill="none" stroke="#3fa043" stroke-width="0.6" />
<circle cx="600.70" cy="111.07" r="1.71" fill="#4cb050" stroke="#3fa043" stroke-width="0.6"/>
<circle cx="606.93" cy="111.07" r="1.71" fill="#4cb050" stroke="#3fa043" stroke-width="0.6"/>
<circle cx="613.15" cy="111.07" r="1.71" fill="#4cb050" stroke="#3fa043" stroke-width="0.6"/>
<circle cx="619.38" cy="111.07" r="1.71" fill="#4cb050" stroke="#3fa043" stroke-width="0.6"/>
<circle cx="625.60" cy="111.07" r="1.71" fill="#4cb050" stroke="#3fa043" stroke-width="0.6"/>
<circle cx="631.83" cy="111.07" r="1.71" fill="#4cb050" stroke="#3fa043" stroke-width="0.6"/>
<circle cx="638.05" cy="111.07" r="1.71" fill="#4cb050" stroke="#3fa043" stroke-width="0.6"/>
<circle cx="644.28" cy="111.07" r="1.71" fill="#4cb050" stroke="#3fa043" stroke-width="0.6"/>
<circle cx="650.50" cy="111.07" r="1.71" fill="#4cb050" stroke="#3fa043" stroke-width="0.6"/>
<line x1="599.00" y1="114.60" x2="652.00" y2="114.60" stroke="#44aa44" stroke-width="0.8" />
<line x1="600.70" y1="114.60" x2="600.70" y2="116.40" stroke="#44aa44" stroke-width="0.7" />
<text x="600.70" y="123.20" font-size="6.1" fill="#44aa44" font-weight="bold" text-anchor="middle" >0</text>
<line x1="625.60" y1="114.60" x2="625.60" y2="116.40" stroke="#44aa44" stroke-width="0.7" />
<text x="625.60" y="123.20" font-size="6.1" fill="#44aa44" font-weight="bold" text-anchor="middle" >8</text>
<line x1="650.50" y1="114.60" x2="650.50" y2="116.40" stroke="#44aa44" stroke-width="0.7" />
<text x="650.50" y="123.20" font-size="6.1" fill="#44aa44" font-weight="bold" text-anchor="middle" >16</text>
<line x1="606.93" y1="114.60" x2="606.93" y2="115.70" stroke="#44aa44" stroke-width="0.6" />
<line x1="613.15" y1="114.60" x2="613.15" y2="115.70" stroke="#44aa44" stroke-width="0.6" />
<line x1="619.38" y1="114.60" x2="619.38" y2="115.70" stroke="#44aa44" stroke-width="0.6" />
<line x1="631.83" y1="114.60" x2="631.83" y2="115.70" stroke="#44aa44" stroke-width="0.6" />
<line x1="638.05" y1="114.60" x2="638.05" y2="115.70" stroke="#44aa44" stroke-width="0.6" />
<line x1="644.28" y1="114.60" x2="644.28" y2="115.70" stroke="#44aa44" stroke-width="0.6" />
<text x="626.00" y="128.36" font-size="6.0" fill="#4cae4c" text-anchor="middle" textLength="50" lengthAdjust="spacingAndGlyphs" >Recovery chamber</text>
<path d="M633.40,80.60 L645.80,80.60 L645.80,78.80 L651.30,82.30 L645.80,85.80 L645.80,84.00 L633.40,84.00 Z" fill="#34b552" />
<text x="558.20" y="134.54" font-size="7.6" fill="#000" font-weight="bold" text-anchor="middle" textLength="65.7" lengthAdjust="spacingAndGlyphs" >Operation time (h)</text>
<text x="7.60" y="150.98" font-size="13" fill="#000" font-weight="bold" >d</text>
<defs><linearGradient id="legd" x1="0" y1="0" x2="1" y2="0"><stop offset="0" stop-color="#e2f2f5"/><stop offset="0.15" stop-color="#d6eef3"/><stop offset="0.6" stop-color="#dcf0f4"/><stop offset="0.85" stop-color="#eef7f9"/><stop offset="1" stop-color="#ffffff"/></linearGradient></defs>
<rect x="47.00" y="153.20" width="113.20" height="14.40" fill="url(#legd)" />
<line x1="33.00" y1="150.70" x2="161.60" y2="150.70" stroke="#333" stroke-width="1.0" />
<line x1="33.50" y1="150.30" x2="33.50" y2="257.50" stroke="#333" stroke-width="1.0" />
<line x1="161.10" y1="150.30" x2="161.10" y2="257.00" stroke="#333" stroke-width="1.0" />
<line x1="31.50" y1="252.50" x2="33.50" y2="252.50" stroke="#000" stroke-width="0.7" />
<text x="31.00" y="254.77" font-size="6.3" fill="#000" font-weight="bold" text-anchor="end" >0.0</text>
<line x1="31.50" y1="229.40" x2="33.50" y2="229.40" stroke="#000" stroke-width="0.7" />
<text x="31.00" y="231.67" font-size="6.3" fill="#000" font-weight="bold" text-anchor="end" >0.5</text>
<line x1="31.50" y1="206.40" x2="33.50" y2="206.40" stroke="#000" stroke-width="0.7" />
<text x="31.00" y="208.67" font-size="6.3" fill="#000" font-weight="bold" text-anchor="end" >1.0</text>
<line x1="31.50" y1="183.10" x2="33.50" y2="183.10" stroke="#000" stroke-width="0.7" />
<text x="31.00" y="185.37" font-size="6.3" fill="#000" font-weight="bold" text-anchor="end" >1.5</text>
<line x1="31.50" y1="160.40" x2="33.50" y2="160.40" stroke="#000" stroke-width="0.7" />
<text x="31.00" y="162.67" font-size="6.3" fill="#000" font-weight="bold" text-anchor="end" >2.0</text>
<line x1="32.30" y1="240.95" x2="33.50" y2="240.95" stroke="#000" stroke-width="0.6" />
<line x1="32.30" y1="217.90" x2="33.50" y2="217.90" stroke="#000" stroke-width="0.6" />
<line x1="32.30" y1="194.75" x2="33.50" y2="194.75" stroke="#000" stroke-width="0.6" />
<line x1="32.30" y1="171.75" x2="33.50" y2="171.75" stroke="#000" stroke-width="0.6" />
<line x1="161.10" y1="251.60" x2="163.10" y2="251.60" stroke="#000" stroke-width="0.7" />
<text x="164.40" y="253.87" font-size="6.3" fill="#1a1a1a" font-weight="bold" >0.0</text>
<line x1="161.10" y1="228.90" x2="163.10" y2="228.90" stroke="#000" stroke-width="0.7" />
<text x="164.40" y="231.17" font-size="6.3" fill="#1a1a1a" font-weight="bold" >3.0</text>
<line x1="161.10" y1="206.20" x2="163.10" y2="206.20" stroke="#000" stroke-width="0.7" />
<text x="164.40" y="208.47" font-size="6.3" fill="#1a1a1a" font-weight="bold" >6.0</text>
<line x1="161.10" y1="183.60" x2="163.10" y2="183.60" stroke="#000" stroke-width="0.7" />
<text x="164.40" y="185.87" font-size="6.3" fill="#1a1a1a" font-weight="bold" >9.0</text>
<line x1="161.10" y1="161.50" x2="163.10" y2="161.50" stroke="#000" stroke-width="0.7" />
<text x="164.40" y="163.77" font-size="6.3" fill="#1a1a1a" font-weight="bold" >12.0</text>
<line x1="161.10" y1="240.25" x2="162.30" y2="240.25" stroke="#000" stroke-width="0.6" />
<line x1="161.10" y1="217.55" x2="162.30" y2="217.55" stroke="#000" stroke-width="0.6" />
<line x1="161.10" y1="194.90" x2="162.30" y2="194.90" stroke="#000" stroke-width="0.6" />
<line x1="161.10" y1="172.55" x2="162.30" y2="172.55" stroke="#000" stroke-width="0.6" />
<text transform="translate(15.30,202.00) rotate(-90)" x="0" y="2.99" font-size="8.3" fill="#000" font-weight="bold" text-anchor="middle" textLength="81" lengthAdjust="spacingAndGlyphs" >Concentration (g L<tspan font-size="5.2" dy="-3">-1</tspan><tspan dy="3">)</tspan></text>
<line x1="46.60" y1="160.80" x2="67.20" y2="160.80" stroke="#2a2a2a" stroke-width="0.9" />
<circle cx="56.90" cy="160.80" r="2.09" fill="#fff" stroke="#2a2a2a" stroke-width="0.8"/>
<text x="70.30" y="164.18" font-size="9.4" fill="#111" font-weight="bold" >Li<tspan font-size="5.64" dx="0.56" dy="-3.95">+</tspan></text>
<line x1="94.60" y1="160.80" x2="115.90" y2="160.80" stroke="#2a2a2a" stroke-width="0.9" />
<rect x="103.35" y="158.90" width="3.80" height="3.80" fill="#fff" stroke="#2a2a2a" stroke-width="0.8"/>
<text x="118.60" y="164.18" font-size="9.4" fill="#111" font-weight="bold" >Na<tspan font-size="5.64" dx="0.56" dy="-3.95">+</tspan></text>
<polyline points="37.80,227.20 46.30,230.42 54.80,234.10 63.30,238.70 71.80,243.76 80.30,246.98 88.80,251.58" fill="none" stroke="#7fbf7f" stroke-width="0.6" />
<circle cx="37.80" cy="227.20" r="1.80" fill="#c8ebc0" stroke="#6fb86f" stroke-width="0.6"/>
<line x1="46.30" y1="228.22" x2="46.30" y2="232.62" stroke="#6fb86f" stroke-width="0.5" />
<line x1="45.30" y1="228.22" x2="47.30" y2="228.22" stroke="#6fb86f" stroke-width="0.5" />
<line x1="45.30" y1="232.62" x2="47.30" y2="232.62" stroke="#6fb86f" stroke-width="0.5" />
<circle cx="46.30" cy="230.42" r="1.80" fill="#c8ebc0" stroke="#6fb86f" stroke-width="0.6"/>
<line x1="54.80" y1="231.60" x2="54.80" y2="236.60" stroke="#6fb86f" stroke-width="0.5" />
<line x1="53.80" y1="231.60" x2="55.80" y2="231.60" stroke="#6fb86f" stroke-width="0.5" />
<line x1="53.80" y1="236.60" x2="55.80" y2="236.60" stroke="#6fb86f" stroke-width="0.5" />
<circle cx="54.80" cy="234.10" r="1.80" fill="#c8ebc0" stroke="#6fb86f" stroke-width="0.6"/>
<line x1="63.30" y1="236.20" x2="63.30" y2="241.20" stroke="#6fb86f" stroke-width="0.5" />
<line x1="62.30" y1="236.20" x2="64.30" y2="236.20" stroke="#6fb86f" stroke-width="0.5" />
<line x1="62.30" y1="241.20" x2="64.30" y2="241.20" stroke="#6fb86f" stroke-width="0.5" />
<circle cx="63.30" cy="238.70" r="1.80" fill="#c8ebc0" stroke="#6fb86f" stroke-width="0.6"/>
<line x1="71.80" y1="241.26" x2="71.80" y2="246.26" stroke="#6fb86f" stroke-width="0.5" />
<line x1="70.80" y1="241.26" x2="72.80" y2="241.26" stroke="#6fb86f" stroke-width="0.5" />
<line x1="70.80" y1="246.26" x2="72.80" y2="246.26" stroke="#6fb86f" stroke-width="0.5" />
<circle cx="71.80" cy="243.76" r="1.80" fill="#c8ebc0" stroke="#6fb86f" stroke-width="0.6"/>
<line x1="80.30" y1="244.48" x2="80.30" y2="249.48" stroke="#6fb86f" stroke-width="0.5" />
<line x1="79.30" y1="244.48" x2="81.30" y2="244.48" stroke="#6fb86f" stroke-width="0.5" />
<line x1="79.30" y1="249.48" x2="81.30" y2="249.48" stroke="#6fb86f" stroke-width="0.5" />
<circle cx="80.30" cy="246.98" r="1.80" fill="#c8ebc0" stroke="#6fb86f" stroke-width="0.6"/>
<line x1="88.80" y1="249.58" x2="88.80" y2="253.58" stroke="#6fb86f" stroke-width="0.5" />
<line x1="87.80" y1="249.58" x2="89.80" y2="249.58" stroke="#6fb86f" stroke-width="0.5" />
<line x1="87.80" y1="253.58" x2="89.80" y2="253.58" stroke="#6fb86f" stroke-width="0.5" />
<circle cx="88.80" cy="251.58" r="1.80" fill="#c8ebc0" stroke="#6fb86f" stroke-width="0.6"/>
<polyline points="37.80,161.42 46.30,183.96 54.80,206.50 63.30,218.92 71.80,232.72 80.30,241.92 88.80,251.12" fill="none" stroke="#7fbf7f" stroke-width="0.6" />
<rect x="36.18" y="159.81" width="3.23" height="3.23" fill="#c8ebc0" stroke="#6fb86f" stroke-width="0.6"/>
<line x1="46.30" y1="180.96" x2="46.30" y2="186.96" stroke="#6fb86f" stroke-width="0.5" />
<line x1="45.30" y1="180.96" x2="47.30" y2="180.96" stroke="#6fb86f" stroke-width="0.5" />
<line x1="45.30" y1="186.96" x2="47.30" y2="186.96" stroke="#6fb86f" stroke-width="0.5" />
<rect x="44.68" y="182.34" width="3.23" height="3.23" fill="#c8ebc0" stroke="#6fb86f" stroke-width="0.6"/>
<line x1="54.80" y1="203.50" x2="54.80" y2="209.50" stroke="#6fb86f" stroke-width="0.5" />
<line x1="53.80" y1="203.50" x2="55.80" y2="203.50" stroke="#6fb86f" stroke-width="0.5" />
<line x1="53.80" y1="209.50" x2="55.80" y2="209.50" stroke="#6fb86f" stroke-width="0.5" />
<rect x="53.18" y="204.88" width="3.23" height="3.23" fill="#c8ebc0" stroke="#6fb86f" stroke-width="0.6"/>
<line x1="63.30" y1="215.92" x2="63.30" y2="221.92" stroke="#6fb86f" stroke-width="0.5" />
<line x1="62.30" y1="215.92" x2="64.30" y2="215.92" stroke="#6fb86f" stroke-width="0.5" />
<line x1="62.30" y1="221.92" x2="64.30" y2="221.92" stroke="#6fb86f" stroke-width="0.5" />
<rect x="61.68" y="217.31" width="3.23" height="3.23" fill="#c8ebc0" stroke="#6fb86f" stroke-width="0.6"/>
<line x1="71.80" y1="229.22" x2="71.80" y2="236.22" stroke="#6fb86f" stroke-width="0.5" />
<line x1="70.80" y1="229.22" x2="72.80" y2="229.22" stroke="#6fb86f" stroke-width="0.5" />
<line x1="70.80" y1="236.22" x2="72.80" y2="236.22" stroke="#6fb86f" stroke-width="0.5" />
<rect x="70.19" y="231.10" width="3.23" height="3.23" fill="#c8ebc0" stroke="#6fb86f" stroke-width="0.6"/>
<line x1="80.30" y1="238.92" x2="80.30" y2="244.92" stroke="#6fb86f" stroke-width="0.5" />
<line x1="79.30" y1="238.92" x2="81.30" y2="238.92" stroke="#6fb86f" stroke-width="0.5" />
<line x1="79.30" y1="244.92" x2="81.30" y2="244.92" stroke="#6fb86f" stroke-width="0.5" />
<rect x="78.69" y="240.30" width="3.23" height="3.23" fill="#c8ebc0" stroke="#6fb86f" stroke-width="0.6"/>
<line x1="88.80" y1="249.12" x2="88.80" y2="253.12" stroke="#6fb86f" stroke-width="0.5" />
<line x1="87.80" y1="249.12" x2="89.80" y2="249.12" stroke="#6fb86f" stroke-width="0.5" />
<line x1="87.80" y1="253.12" x2="89.80" y2="253.12" stroke="#6fb86f" stroke-width="0.5" />
<rect x="87.19" y="249.50" width="3.23" height="3.23" fill="#c8ebc0" stroke="#6fb86f" stroke-width="0.6"/>
<line x1="36.00" y1="256.20" x2="90.00" y2="256.20" stroke="#5cb05c" stroke-width="0.8" />
<line x1="37.80" y1="256.20" x2="37.80" y2="258.00" stroke="#5cb05c" stroke-width="0.7" />
<text x="37.80" y="263.14" font-size="6.5" fill="#44a044" font-weight="bold" text-anchor="middle" >0</text>
<line x1="63.30" y1="256.20" x2="63.30" y2="258.00" stroke="#5cb05c" stroke-width="0.7" />
<text x="63.30" y="263.14" font-size="6.5" fill="#44a044" font-weight="bold" text-anchor="middle" >3</text>
<line x1="88.80" y1="256.20" x2="88.80" y2="258.00" stroke="#5cb05c" stroke-width="0.7" />
<text x="88.80" y="263.14" font-size="6.5" fill="#44a044" font-weight="bold" text-anchor="middle" >6</text>
<line x1="46.30" y1="256.20" x2="46.30" y2="257.30" stroke="#5cb05c" stroke-width="0.6" />
<line x1="54.80" y1="256.20" x2="54.80" y2="257.30" stroke="#5cb05c" stroke-width="0.6" />
<line x1="71.80" y1="256.20" x2="71.80" y2="257.30" stroke="#5cb05c" stroke-width="0.6" />
<line x1="80.30" y1="256.20" x2="80.30" y2="257.30" stroke="#5cb05c" stroke-width="0.6" />
<text x="61.90" y="270.59" font-size="7.2" fill="#44a644" text-anchor="middle" textLength="46.6" lengthAdjust="spacingAndGlyphs" >Feed chamber</text>
<path d="M58.40,215.10 L47.00,215.10 L47.00,213.00 L41.00,217.00 L47.00,221.00 L47.00,218.90 L58.40,218.90 Z" fill="#3cb043" />
<polyline points="105.30,251.60 113.78,247.47 122.26,242.97 130.74,241.32 139.22,240.50 147.70,244.10 156.18,248.07" fill="none" stroke="#7fb8e4" stroke-width="0.6" />
<circle cx="105.30" cy="251.60" r="1.80" fill="#bfe0f6" stroke="#5aa5dc" stroke-width="0.6"/>
<line x1="113.78" y1="245.47" x2="113.78" y2="249.47" stroke="#5aa5dc" stroke-width="0.5" />
<line x1="112.78" y1="245.47" x2="114.78" y2="245.47" stroke="#5aa5dc" stroke-width="0.5" />
<line x1="112.78" y1="249.47" x2="114.78" y2="249.47" stroke="#5aa5dc" stroke-width="0.5" />
<circle cx="113.78" cy="247.47" r="1.80" fill="#bfe0f6" stroke="#5aa5dc" stroke-width="0.6"/>
<line x1="122.26" y1="240.97" x2="122.26" y2="244.97" stroke="#5aa5dc" stroke-width="0.5" />
<line x1="121.26" y1="240.97" x2="123.26" y2="240.97" stroke="#5aa5dc" stroke-width="0.5" />
<line x1="121.26" y1="244.97" x2="123.26" y2="244.97" stroke="#5aa5dc" stroke-width="0.5" />
<circle cx="122.26" cy="242.97" r="1.80" fill="#bfe0f6" stroke="#5aa5dc" stroke-width="0.6"/>
<line x1="130.74" y1="239.82" x2="130.74" y2="242.82" stroke="#5aa5dc" stroke-width="0.5" />
<line x1="129.74" y1="239.82" x2="131.74" y2="239.82" stroke="#5aa5dc" stroke-width="0.5" />
<line x1="129.74" y1="242.82" x2="131.74" y2="242.82" stroke="#5aa5dc" stroke-width="0.5" />
<circle cx="130.74" cy="241.32" r="1.80" fill="#bfe0f6" stroke="#5aa5dc" stroke-width="0.6"/>
<line x1="139.22" y1="239.00" x2="139.22" y2="242.00" stroke="#5aa5dc" stroke-width="0.5" />
<line x1="138.22" y1="239.00" x2="140.22" y2="239.00" stroke="#5aa5dc" stroke-width="0.5" />
<line x1="138.22" y1="242.00" x2="140.22" y2="242.00" stroke="#5aa5dc" stroke-width="0.5" />
<circle cx="139.22" cy="240.50" r="1.80" fill="#bfe0f6" stroke="#5aa5dc" stroke-width="0.6"/>
<line x1="147.70" y1="242.10" x2="147.70" y2="246.10" stroke="#5aa5dc" stroke-width="0.5" />
<line x1="146.70" y1="242.10" x2="148.70" y2="242.10" stroke="#5aa5dc" stroke-width="0.5" />
<line x1="146.70" y1="246.10" x2="148.70" y2="246.10" stroke="#5aa5dc" stroke-width="0.5" />
<circle cx="147.70" cy="244.10" r="1.80" fill="#bfe0f6" stroke="#5aa5dc" stroke-width="0.6"/>
<line x1="156.18" y1="246.57" x2="156.18" y2="249.57" stroke="#5aa5dc" stroke-width="0.5" />
<line x1="155.18" y1="246.57" x2="157.18" y2="246.57" stroke="#5aa5dc" stroke-width="0.5" />
<line x1="155.18" y1="249.57" x2="157.18" y2="249.57" stroke="#5aa5dc" stroke-width="0.5" />
<circle cx="156.18" cy="248.07" r="1.80" fill="#bfe0f6" stroke="#5aa5dc" stroke-width="0.6"/>
<polyline points="105.30,251.60 113.78,220.85 122.26,190.85 130.74,180.35 139.22,169.10 147.70,165.35 156.18,161.60" fill="none" stroke="#7fb8e4" stroke-width="0.6" />
<rect x="103.69" y="249.98" width="3.23" height="3.23" fill="#bfe0f6" stroke="#5aa5dc" stroke-width="0.6"/>
<line x1="113.78" y1="217.85" x2="113.78" y2="223.85" stroke="#5aa5dc" stroke-width="0.5" />
<line x1="112.78" y1="217.85" x2="114.78" y2="217.85" stroke="#5aa5dc" stroke-width="0.5" />
<line x1="112.78" y1="223.85" x2="114.78" y2="223.85" stroke="#5aa5dc" stroke-width="0.5" />
<rect x="112.17" y="219.23" width="3.23" height="3.23" fill="#bfe0f6" stroke="#5aa5dc" stroke-width="0.6"/>
<line x1="122.26" y1="187.85" x2="122.26" y2="193.85" stroke="#5aa5dc" stroke-width="0.5" />
<line x1="121.26" y1="187.85" x2="123.26" y2="187.85" stroke="#5aa5dc" stroke-width="0.5" />
<line x1="121.26" y1="193.85" x2="123.26" y2="193.85" stroke="#5aa5dc" stroke-width="0.5" />
<rect x="120.64" y="189.23" width="3.23" height="3.23" fill="#bfe0f6" stroke="#5aa5dc" stroke-width="0.6"/>
<line x1="130.74" y1="177.35" x2="130.74" y2="183.35" stroke="#5aa5dc" stroke-width="0.5" />
<line x1="129.74" y1="177.35" x2="131.74" y2="177.35" stroke="#5aa5dc" stroke-width="0.5" />
<line x1="129.74" y1="183.35" x2="131.74" y2="183.35" stroke="#5aa5dc" stroke-width="0.5" />
<rect x="129.12" y="178.73" width="3.23" height="3.23" fill="#bfe0f6" stroke="#5aa5dc" stroke-width="0.6"/>
<line x1="139.22" y1="166.60" x2="139.22" y2="171.60" stroke="#5aa5dc" stroke-width="0.5" />
<line x1="138.22" y1="166.60" x2="140.22" y2="166.60" stroke="#5aa5dc" stroke-width="0.5" />
<line x1="138.22" y1="171.60" x2="140.22" y2="171.60" stroke="#5aa5dc" stroke-width="0.5" />
<rect x="137.60" y="167.48" width="3.23" height="3.23" fill="#bfe0f6" stroke="#5aa5dc" stroke-width="0.6"/>
<line x1="147.70" y1="163.35" x2="147.70" y2="167.35" stroke="#5aa5dc" stroke-width="0.5" />
<line x1="146.70" y1="163.35" x2="148.70" y2="163.35" stroke="#5aa5dc" stroke-width="0.5" />
<line x1="146.70" y1="167.35" x2="148.70" y2="167.35" stroke="#5aa5dc" stroke-width="0.5" />
<rect x="146.08" y="163.73" width="3.23" height="3.23" fill="#bfe0f6" stroke="#5aa5dc" stroke-width="0.6"/>
<line x1="156.18" y1="159.60" x2="156.18" y2="163.60" stroke="#5aa5dc" stroke-width="0.5" />
<line x1="155.18" y1="159.60" x2="157.18" y2="159.60" stroke="#5aa5dc" stroke-width="0.5" />
<line x1="155.18" y1="163.60" x2="157.18" y2="163.60" stroke="#5aa5dc" stroke-width="0.5" />
<rect x="154.56" y="159.98" width="3.23" height="3.23" fill="#bfe0f6" stroke="#5aa5dc" stroke-width="0.6"/>
<line x1="104.00" y1="255.30" x2="158.00" y2="255.30" stroke="#80bce8" stroke-width="0.8" />
<line x1="105.30" y1="255.30" x2="105.30" y2="257.10" stroke="#80bce8" stroke-width="0.7" />
<text x="105.30" y="263.14" font-size="6.5" fill="#4a98d8" font-weight="bold" text-anchor="middle" >0</text>
<line x1="130.74" y1="255.30" x2="130.74" y2="257.10" stroke="#80bce8" stroke-width="0.7" />
<text x="130.74" y="263.14" font-size="6.5" fill="#4a98d8" font-weight="bold" text-anchor="middle" >3</text>
<line x1="156.18" y1="255.30" x2="156.18" y2="257.10" stroke="#80bce8" stroke-width="0.7" />
<text x="156.18" y="263.14" font-size="6.5" fill="#4a98d8" font-weight="bold" text-anchor="middle" >6</text>
<line x1="113.78" y1="255.30" x2="113.78" y2="256.40" stroke="#80bce8" stroke-width="0.6" />
<line x1="122.26" y1="255.30" x2="122.26" y2="256.40" stroke="#80bce8" stroke-width="0.6" />
<line x1="139.22" y1="255.30" x2="139.22" y2="256.40" stroke="#80bce8" stroke-width="0.6" />
<line x1="147.70" y1="255.30" x2="147.70" y2="256.40" stroke="#80bce8" stroke-width="0.6" />
<text x="134.00" y="270.59" font-size="7.2" fill="#5aa8e0" text-anchor="middle" textLength="61" lengthAdjust="spacingAndGlyphs" >Recovery chamber</text>
<path d="M137.30,214.70 L149.70,214.70 L149.70,212.75 L155.20,216.50 L149.70,220.25 L149.70,218.30 L137.30,218.30 Z" fill="#8cbce2" />
<text x="130.50" y="236.88" font-size="8.0" fill="#3c7cc8" text-anchor="middle" textLength="51.3" lengthAdjust="spacingAndGlyphs" >Crystallization</text>
<text x="96.80" y="280.32" font-size="8.1" fill="#000" font-weight="bold" text-anchor="middle" textLength="70" lengthAdjust="spacingAndGlyphs" >Operation time (h)</text>
<text x="191.80" y="150.78" font-size="13" fill="#000" font-weight="bold" >e</text>
<rect x="219.40" y="151.40" width="135.40" height="109.00" fill="none" stroke="#333" stroke-width="1.0"/>
<line x1="217.40" y1="255.70" x2="219.40" y2="255.70" stroke="#000" stroke-width="0.7" />
<text x="216.00" y="257.97" font-size="6.3" fill="#000" font-weight="bold" text-anchor="end" >0</text>
<line x1="217.40" y1="235.70" x2="219.40" y2="235.70" stroke="#000" stroke-width="0.7" />
<text x="216.00" y="237.97" font-size="6.3" fill="#000" font-weight="bold" text-anchor="end" >20</text>
<line x1="217.40" y1="215.70" x2="219.40" y2="215.70" stroke="#000" stroke-width="0.7" />
<text x="216.00" y="217.97" font-size="6.3" fill="#000" font-weight="bold" text-anchor="end" >40</text>
<line x1="217.40" y1="195.70" x2="219.40" y2="195.70" stroke="#000" stroke-width="0.7" />
<text x="216.00" y="197.97" font-size="6.3" fill="#000" font-weight="bold" text-anchor="end" >60</text>
<line x1="217.40" y1="175.70" x2="219.40" y2="175.70" stroke="#000" stroke-width="0.7" />
<text x="216.00" y="177.97" font-size="6.3" fill="#000" font-weight="bold" text-anchor="end" >80</text>
<line x1="217.40" y1="155.70" x2="219.40" y2="155.70" stroke="#000" stroke-width="0.7" />
<text x="216.00" y="157.97" font-size="6.3" fill="#000" font-weight="bold" text-anchor="end" >100</text>
<line x1="218.20" y1="245.70" x2="219.40" y2="245.70" stroke="#000" stroke-width="0.6" />
<line x1="218.20" y1="225.70" x2="219.40" y2="225.70" stroke="#000" stroke-width="0.6" />
<line x1="218.20" y1="205.70" x2="219.40" y2="205.70" stroke="#000" stroke-width="0.6" />
<line x1="218.20" y1="185.70" x2="219.40" y2="185.70" stroke="#000" stroke-width="0.6" />
<line x1="218.20" y1="165.70" x2="219.40" y2="165.70" stroke="#000" stroke-width="0.6" />
<line x1="354.80" y1="257.20" x2="356.80" y2="257.20" stroke="#000" stroke-width="0.7" />
<text x="357.60" y="259.47" font-size="6.3" fill="#000" font-weight="bold" >80</text>
<line x1="354.80" y1="231.40" x2="356.80" y2="231.40" stroke="#000" stroke-width="0.7" />
<text x="357.60" y="233.67" font-size="6.3" fill="#000" font-weight="bold" >85</text>
<line x1="354.80" y1="205.70" x2="356.80" y2="205.70" stroke="#000" stroke-width="0.7" />
<text x="357.60" y="207.97" font-size="6.3" fill="#000" font-weight="bold" >90</text>
<line x1="354.80" y1="180.00" x2="356.80" y2="180.00" stroke="#000" stroke-width="0.7" />
<text x="357.60" y="182.27" font-size="6.3" fill="#000" font-weight="bold" >95</text>
<line x1="354.80" y1="154.20" x2="356.80" y2="154.20" stroke="#000" stroke-width="0.7" />
<text x="357.60" y="156.47" font-size="6.3" fill="#000" font-weight="bold" >100</text>
<line x1="354.80" y1="244.30" x2="356.00" y2="244.30" stroke="#000" stroke-width="0.6" />
<line x1="354.80" y1="218.50" x2="356.00" y2="218.50" stroke="#000" stroke-width="0.6" />
<line x1="354.80" y1="192.80" x2="356.00" y2="192.80" stroke="#000" stroke-width="0.6" />
<line x1="354.80" y1="167.10" x2="356.00" y2="167.10" stroke="#000" stroke-width="0.6" />
<line x1="228.50" y1="260.40" x2="228.50" y2="262.40" stroke="#333" stroke-width="0.7" />
<text x="228.50" y="267.94" font-size="6.5" fill="#000" font-weight="bold" text-anchor="middle" >0</text>
<line x1="247.90" y1="260.40" x2="247.90" y2="262.40" stroke="#333" stroke-width="0.7" />
<text x="247.90" y="267.94" font-size="6.5" fill="#000" font-weight="bold" text-anchor="middle" >1</text>
<line x1="267.30" y1="260.40" x2="267.30" y2="262.40" stroke="#333" stroke-width="0.7" />
<text x="267.30" y="267.94" font-size="6.5" fill="#000" font-weight="bold" text-anchor="middle" >2</text>
<line x1="286.70" y1="260.40" x2="286.70" y2="262.40" stroke="#333" stroke-width="0.7" />
<text x="286.70" y="267.94" font-size="6.5" fill="#000" font-weight="bold" text-anchor="middle" >3</text>
<line x1="306.10" y1="260.40" x2="306.10" y2="262.40" stroke="#333" stroke-width="0.7" />
<text x="306.10" y="267.94" font-size="6.5" fill="#000" font-weight="bold" text-anchor="middle" >4</text>
<line x1="325.50" y1="260.40" x2="325.50" y2="262.40" stroke="#333" stroke-width="0.7" />
<text x="325.50" y="267.94" font-size="6.5" fill="#000" font-weight="bold" text-anchor="middle" >5</text>
<line x1="344.90" y1="260.40" x2="344.90" y2="262.40" stroke="#333" stroke-width="0.7" />
<text x="344.90" y="267.94" font-size="6.5" fill="#000" font-weight="bold" text-anchor="middle" >6</text>
<line x1="238.20" y1="260.40" x2="238.20" y2="261.60" stroke="#333" stroke-width="0.6" />
<line x1="257.60" y1="260.40" x2="257.60" y2="261.60" stroke="#333" stroke-width="0.6" />
<line x1="277.00" y1="260.40" x2="277.00" y2="261.60" stroke="#333" stroke-width="0.6" />
<line x1="296.40" y1="260.40" x2="296.40" y2="261.60" stroke="#333" stroke-width="0.6" />
<line x1="315.80" y1="260.40" x2="315.80" y2="261.60" stroke="#333" stroke-width="0.6" />
<line x1="335.20" y1="260.40" x2="335.20" y2="261.60" stroke="#333" stroke-width="0.6" />
<text x="284.90" y="276.51" font-size="7.8" fill="#000" font-weight="bold" text-anchor="middle" textLength="24.5" lengthAdjust="spacingAndGlyphs" >Time (h)</text>
<text transform="translate(202.80,205.30) rotate(-90)" x="0" y="2.99" font-size="8.3" fill="#000" font-weight="bold" text-anchor="middle" textLength="76.5" lengthAdjust="spacingAndGlyphs" >Recovery rate (%)</text>
<text transform="translate(371.60,204.60) rotate(-90)" x="0" y="2.99" font-size="8.3" fill="#000" font-weight="bold" text-anchor="middle" textLength="43" lengthAdjust="spacingAndGlyphs" >Purity (%)</text>
<defs><linearGradient id="lblbg" x1="0" y1="0" x2="1" y2="0"><stop offset="0" stop-color="#e4f3f8"/><stop offset="1" stop-color="#f2f9fb"/></linearGradient></defs>
<rect x="282.00" y="157.80" width="29.50" height="10.00" fill="url(#lblbg)" />
<rect x="245.00" y="187.20" width="21.50" height="10.00" fill="url(#lblbg)" />
<rect x="325.00" y="196.60" width="28.50" height="10.50" fill="url(#lblbg)" />
<rect x="254.50" y="220.80" width="13.00" height="10.00" fill="url(#lblbg)" />
<polyline points="228.50,255.70 247.90,225.70 267.30,199.70 286.70,185.70 306.10,172.70 325.50,160.70 344.90,157.70" fill="none" stroke="#d8c48a" stroke-width="0.6" />
<polyline points="228.50,255.70 247.90,255.70 267.30,229.70 286.70,210.70 306.10,191.70 325.50,175.70 344.90,159.70" fill="none" stroke="#6aaee4" stroke-width="0.7" />
<rect x="226.90" y="253.50" width="3.2" height="4.4" fill="#fff"/>
<rect x="228.40" y="253.60" width="2.1" height="4.2" fill="#d4a52c"/>
<rect x="246.30" y="223.50" width="3.2" height="4.4" fill="#fff"/>
<rect x="247.80" y="223.60" width="2.1" height="4.2" fill="#d4a52c"/>
<rect x="265.70" y="197.50" width="3.2" height="4.4" fill="#fff"/>
<rect x="267.20" y="197.60" width="2.1" height="4.2" fill="#d4a52c"/>
<rect x="285.10" y="183.50" width="3.2" height="4.4" fill="#fff"/>
<rect x="286.60" y="183.60" width="2.1" height="4.2" fill="#d4a52c"/>
<rect x="304.50" y="170.50" width="3.2" height="4.4" fill="#fff"/>
<rect x="306.00" y="170.60" width="2.1" height="4.2" fill="#d4a52c"/>
<rect x="323.90" y="158.50" width="3.2" height="4.4" fill="#fff"/>
<rect x="325.40" y="158.60" width="2.1" height="4.2" fill="#d4a52c"/>
<rect x="343.30" y="155.50" width="3.2" height="4.4" fill="#fff"/>
<rect x="344.80" y="155.60" width="2.1" height="4.2" fill="#d4a52c"/>
<circle cx="228.50" cy="255.70" r="2.60" fill="#fff"/>
<path d="M228.50,253.10 A2.60,2.60 0 0 1 228.50,258.30 Z" fill="#3a92dc"/>
<circle cx="247.90" cy="255.70" r="2.60" fill="#fff"/>
<path d="M247.90,253.10 A2.60,2.60 0 0 1 247.90,258.30 Z" fill="#3a92dc"/>
<circle cx="267.30" cy="229.70" r="2.60" fill="#fff"/>
<path d="M267.30,227.10 A2.60,2.60 0 0 1 267.30,232.30 Z" fill="#3a92dc"/>
<circle cx="286.70" cy="210.70" r="2.60" fill="#fff"/>
<path d="M286.70,208.10 A2.60,2.60 0 0 1 286.70,213.30 Z" fill="#3a92dc"/>
<circle cx="306.10" cy="191.70" r="2.60" fill="#fff"/>
<path d="M306.10,189.10 A2.60,2.60 0 0 1 306.10,194.30 Z" fill="#3a92dc"/>
<circle cx="325.50" cy="175.70" r="2.60" fill="#fff"/>
<path d="M325.50,173.10 A2.60,2.60 0 0 1 325.50,178.30 Z" fill="#3a92dc"/>
<circle cx="344.90" cy="159.70" r="2.60" fill="#fff"/>
<path d="M344.90,157.10 A2.60,2.60 0 0 1 344.90,162.30 Z" fill="#3a92dc"/>
<rect x="265.40" y="153.00" width="3.80" height="3.80" fill="#cfe7f8" stroke="#3a96d8" stroke-width="0.7"/>
<line x1="266.16" y1="153.76" x2="268.44" y2="156.04" stroke="#3a96d8" stroke-width="0.6" />
<line x1="266.16" y1="156.04" x2="268.44" y2="153.76" stroke="#3a96d8" stroke-width="0.6" />
<rect x="284.80" y="153.00" width="3.80" height="3.80" fill="#cfe7f8" stroke="#3a96d8" stroke-width="0.7"/>
<line x1="285.56" y1="153.76" x2="287.84" y2="156.04" stroke="#3a96d8" stroke-width="0.6" />
<line x1="285.56" y1="156.04" x2="287.84" y2="153.76" stroke="#3a96d8" stroke-width="0.6" />
<rect x="304.20" y="153.00" width="3.80" height="3.80" fill="#cfe7f8" stroke="#3a96d8" stroke-width="0.7"/>
<line x1="304.96" y1="153.76" x2="307.24" y2="156.04" stroke="#3a96d8" stroke-width="0.6" />
<line x1="304.96" y1="156.04" x2="307.24" y2="153.76" stroke="#3a96d8" stroke-width="0.6" />
<rect x="323.60" y="153.00" width="3.80" height="3.80" fill="#cfe7f8" stroke="#3a96d8" stroke-width="0.7"/>
<line x1="324.36" y1="153.76" x2="326.64" y2="156.04" stroke="#3a96d8" stroke-width="0.6" />
<line x1="324.36" y1="156.04" x2="326.64" y2="153.76" stroke="#3a96d8" stroke-width="0.6" />
<rect x="343.00" y="153.00" width="3.80" height="3.80" fill="#cfe7f8" stroke="#3a96d8" stroke-width="0.7"/>
<line x1="343.76" y1="153.76" x2="346.04" y2="156.04" stroke="#3a96d8" stroke-width="0.6" />
<line x1="343.76" y1="156.04" x2="346.04" y2="153.76" stroke="#3a96d8" stroke-width="0.6" />
<rect x="265.40" y="214.40" width="3.80" height="3.80" fill="#f2e2a8" stroke="#caa030" stroke-width="0.7"/>
<line x1="266.16" y1="215.16" x2="268.44" y2="217.44" stroke="#caa030" stroke-width="0.6" />
<line x1="266.16" y1="217.44" x2="268.44" y2="215.16" stroke="#caa030" stroke-width="0.6" />
<rect x="284.80" y="216.10" width="3.80" height="3.80" fill="#f2e2a8" stroke="#caa030" stroke-width="0.7"/>
<line x1="285.56" y1="216.86" x2="287.84" y2="219.14" stroke="#caa030" stroke-width="0.6" />
<line x1="285.56" y1="219.14" x2="287.84" y2="216.86" stroke="#caa030" stroke-width="0.6" />
<rect x="304.20" y="211.50" width="3.80" height="3.80" fill="#f2e2a8" stroke="#caa030" stroke-width="0.7"/>
<line x1="304.96" y1="212.26" x2="307.24" y2="214.54" stroke="#caa030" stroke-width="0.6" />
<line x1="304.96" y1="214.54" x2="307.24" y2="212.26" stroke="#caa030" stroke-width="0.6" />
<rect x="323.60" y="192.50" width="3.80" height="3.80" fill="#f2e2a8" stroke="#caa030" stroke-width="0.7"/>
<line x1="324.36" y1="193.26" x2="326.64" y2="195.54" stroke="#caa030" stroke-width="0.6" />
<line x1="324.36" y1="195.54" x2="326.64" y2="193.26" stroke="#caa030" stroke-width="0.6" />
<rect x="343.00" y="168.70" width="3.80" height="3.80" fill="#f2e2a8" stroke="#caa030" stroke-width="0.7"/>
<line x1="343.76" y1="169.46" x2="346.04" y2="171.74" stroke="#caa030" stroke-width="0.6" />
<line x1="343.76" y1="171.74" x2="346.04" y2="169.46" stroke="#caa030" stroke-width="0.6" />
<text x="248.80" y="172.80" font-size="8.6" fill="#8a8a8a" text-anchor="middle" textLength="52.5" lengthAdjust="spacingAndGlyphs" >Crystallization</text>
<text x="249.20" y="183.10" font-size="8.6" fill="#8a8a8a" text-anchor="middle" textLength="16.4" lengthAdjust="spacingAndGlyphs" >start</text>
<line x1="255.50" y1="162.00" x2="264.00" y2="156.20" stroke="#666" stroke-width="0.5" stroke-dasharray="1,0.8"/>
<text x="282.60" y="165.80" font-size="8.6" fill="#4aa6e0" textLength="29" lengthAdjust="spacingAndGlyphs" >Li<tspan font-size="5.6" dy="2">2</tspan><tspan dy="-2">CO</tspan><tspan font-size="5.6" dy="2">3</tspan></text>
<line x1="282.50" y1="159.50" x2="282.50" y2="168.00" stroke="#4aa6e0" stroke-width="0.5" />
<line x1="282.50" y1="168.00" x2="303.00" y2="168.00" stroke="#4aa6e0" stroke-width="0.5" />
<text x="256.00" y="195.50" font-size="8.6" fill="#c8a43a" text-anchor="middle" >Na<tspan font-size="5.16" dx="0.52" dy="-3.61">+</tspan></text>
<line x1="252.00" y1="199.80" x2="263.00" y2="199.80" stroke="#c8a43a" stroke-width="0.5" />
<line x1="252.00" y1="199.80" x2="254.00" y2="198.80" stroke="#c8a43a" stroke-width="0.5" />
<text x="326.50" y="204.90" font-size="8.6" fill="#c8a43a" textLength="25.5" lengthAdjust="spacingAndGlyphs" >NaOH</text>
<line x1="326.00" y1="197.00" x2="326.00" y2="206.80" stroke="#d4b060" stroke-width="0.5" />
<line x1="326.00" y1="206.80" x2="345.00" y2="206.80" stroke="#d4b060" stroke-width="0.5" />
<text x="260.70" y="229.10" font-size="8.6" fill="#3aa0e0" text-anchor="middle" >Li<tspan font-size="5.16" dx="0.52" dy="-3.61">+</tspan></text>
<line x1="248.50" y1="229.80" x2="258.00" y2="229.80" stroke="#3a9ae0" stroke-width="0.5" />
<text x="386.00" y="149.58" font-size="13" fill="#000" font-weight="bold" >f</text>
<rect x="403.50" y="149.70" width="108.90" height="108.50" fill="none" stroke="#333" stroke-width="1.0"/>
<line x1="403.50" y1="258.20" x2="403.50" y2="260.20" stroke="#333" stroke-width="0.7" />
<text x="403.50" y="267.34" font-size="6.5" fill="#000" font-weight="bold" text-anchor="middle" >1200</text>
<line x1="439.80" y1="258.20" x2="439.80" y2="260.20" stroke="#333" stroke-width="0.7" />
<text x="439.80" y="267.34" font-size="6.5" fill="#000" font-weight="bold" text-anchor="middle" >800</text>
<line x1="476.10" y1="258.20" x2="476.10" y2="260.20" stroke="#333" stroke-width="0.7" />
<text x="476.10" y="267.34" font-size="6.5" fill="#000" font-weight="bold" text-anchor="middle" >400</text>
<line x1="512.40" y1="258.20" x2="512.40" y2="260.20" stroke="#333" stroke-width="0.7" />
<text x="512.40" y="267.34" font-size="6.5" fill="#000" font-weight="bold" text-anchor="middle" >0</text>
<line x1="421.65" y1="258.20" x2="421.65" y2="259.40" stroke="#333" stroke-width="0.6" />
<line x1="457.95" y1="258.20" x2="457.95" y2="259.40" stroke="#333" stroke-width="0.6" />
<line x1="494.25" y1="258.20" x2="494.25" y2="259.40" stroke="#333" stroke-width="0.6" />
<text x="458.00" y="275.75" font-size="8.2" fill="#000" font-weight="bold" text-anchor="middle" textLength="76.7" lengthAdjust="spacingAndGlyphs" >Binding energy (eV)</text>
<text transform="translate(396.10,200.50) rotate(-90)" x="0" y="3.10" font-size="8.6" fill="#000" font-weight="bold" text-anchor="middle" textLength="69.9" lengthAdjust="spacingAndGlyphs" >Intensity (arb. u.)</text>
<polyline points="404.00,249.10 412.00,247.00 422.30,244.30 423.20,241.50 424.00,243.50 425.20,251.20 440.00,248.10 455.00,244.50 461.00,242.90 462.50,241.50 463.50,243.00 464.00,168.70 464.80,168.70 465.60,254.30 475.00,254.60 485.60,254.80 485.90,241.90 486.50,241.90 487.00,257.20 495.00,257.40 506.50,257.40 507.20,255.30 508.00,257.50 512.00,257.60" fill="none" stroke="#3a98da" stroke-width="0.8" />
<text x="406.20" y="160.10" font-size="7.5" fill="#4a9ad4" textLength="36" lengthAdjust="spacingAndGlyphs" >Automic %</text>
<text x="446.40" y="167.26" font-size="7.4" fill="#222" textLength="15.5" lengthAdjust="spacingAndGlyphs" >O 1<tspan font-style="italic">s</tspan></text>
<text x="441.20" y="175.06" font-size="7.4" fill="#4a9ad4" textLength="20.7" lengthAdjust="spacingAndGlyphs" >44.8%</text>
<text x="416.10" y="226.66" font-size="7.4" fill="#222" textLength="19" lengthAdjust="spacingAndGlyphs" >Na 1<tspan font-style="italic">s</tspan></text>
<text x="416.10" y="235.86" font-size="7.4" fill="#4a9ad4" textLength="21" lengthAdjust="spacingAndGlyphs" >&lt;0.2%</text>
<text x="469.70" y="226.66" font-size="7.4" fill="#222" textLength="16" lengthAdjust="spacingAndGlyphs" >C 1<tspan font-style="italic">s</tspan></text>
<text x="467.00" y="234.66" font-size="7.4" fill="#4a9ad4" textLength="20.6" lengthAdjust="spacingAndGlyphs" >24.8%</text>
<text x="493.20" y="238.36" font-size="7.4" fill="#222" textLength="15.7" lengthAdjust="spacingAndGlyphs" >Li 1<tspan font-style="italic">s</tspan></text>
<text x="490.30" y="248.06" font-size="7.4" fill="#4a9ad4" textLength="20.6" lengthAdjust="spacingAndGlyphs" >30.2%</text>
<text x="530.00" y="151.68" font-size="13" fill="#000" font-weight="bold" >g</text>
<defs><radialGradient id="gph" cx="0.5" cy="0.5" r="0.7"><stop offset="0.3" stop-color="#ece8e0"/><stop offset="1" stop-color="#d6cfc2"/></radialGradient>
<filter id="blur06"><feGaussianBlur stdDeviation="0.6"/></filter><filter id="blur15" x="-10%" y="-10%" width="120%" height="120%"><feGaussianBlur stdDeviation="1.5"/></filter><filter id="blur1"><feGaussianBlur stdDeviation="1.2"/></filter></defs>
<rect x="591.40" y="155.30" width="61.80" height="41.20" fill="url(#gph)" filter="url(#blur15)"/>
<path d="M600,160 L610,156.5 L620,155.8 L630,157 L640,159 L647,163 L650,170 L651.5,178 L650,186 L646,192 L638,195 L625,196 L612,195.5 L601,194 L596,188 L595,178 L596.5,168 Z" fill="#fbfaf7" filter="url(#blur1)"/>
<ellipse cx="605" cy="182" rx="5" ry="3" fill="#dedad2" filter="url(#blur06)"/>
<ellipse cx="616" cy="189" rx="6" ry="2.5" fill="#e2ddd4" filter="url(#blur06)"/>
<ellipse cx="630" cy="171" rx="4" ry="2.5" fill="#e6e2da" filter="url(#blur06)"/>
<ellipse cx="641" cy="178" rx="3.5" ry="3" fill="#e0dcd4" filter="url(#blur06)"/>
<ellipse cx="610" cy="168" rx="3" ry="2" fill="#e8e4dc" filter="url(#blur06)"/>
<ellipse cx="622" cy="163" rx="4" ry="2" fill="#ebe7e0" filter="url(#blur06)"/>
<circle cx="618.5" cy="182.3" r="0.8" fill="#ebe7de"/>
<circle cx="626.5" cy="171.0" r="0.7" fill="#ffffff"/>
<circle cx="639.6" cy="178.8" r="0.4" fill="#ebe7de"/>
<circle cx="617.0" cy="174.6" r="0.7" fill="#ffffff"/>
<circle cx="609.5" cy="165.9" r="0.4" fill="#f4f2ec"/>
<circle cx="634.6" cy="178.6" r="0.7" fill="#ffffff"/>
<circle cx="620.6" cy="182.6" r="0.5" fill="#e4dfd4"/>
<circle cx="603.0" cy="170.5" r="0.5" fill="#ffffff"/>
<circle cx="609.6" cy="185.6" r="0.4" fill="#ebe7de"/>
<circle cx="609.6" cy="167.4" r="0.7" fill="#e4dfd4"/>
<circle cx="598.6" cy="179.7" r="0.6" fill="#ffffff"/>
<circle cx="629.0" cy="161.5" r="0.5" fill="#e4dfd4"/>
<circle cx="599.0" cy="173.3" r="0.8" fill="#e4dfd4"/>
<circle cx="617.6" cy="172.9" r="0.7" fill="#ffffff"/>
<circle cx="623.5" cy="169.0" r="0.7" fill="#ebe7de"/>
<circle cx="630.0" cy="174.8" r="0.7" fill="#e4dfd4"/>
<circle cx="614.7" cy="185.0" r="0.7" fill="#f4f2ec"/>
<circle cx="630.2" cy="178.3" r="0.6" fill="#ebe7de"/>
<circle cx="643.2" cy="181.6" r="0.8" fill="#f4f2ec"/>
<circle cx="619.5" cy="186.9" r="0.8" fill="#ebe7de"/>
<circle cx="637.4" cy="172.1" r="0.8" fill="#f4f2ec"/>
<circle cx="644.2" cy="181.7" r="0.5" fill="#ffffff"/>
<circle cx="603.1" cy="186.3" r="0.7" fill="#ffffff"/>
<circle cx="604.7" cy="180.2" r="0.9" fill="#f4f2ec"/>
<circle cx="632.0" cy="168.8" r="0.6" fill="#e4dfd4"/>
<circle cx="616.4" cy="165.9" r="0.5" fill="#ebe7de"/>
<circle cx="628.6" cy="183.8" r="0.5" fill="#f4f2ec"/>
<circle cx="628.4" cy="169.3" r="0.6" fill="#ffffff"/>
<circle cx="609.2" cy="181.3" r="0.7" fill="#ffffff"/>
<circle cx="616.2" cy="164.0" r="0.8" fill="#ebe7de"/>
<circle cx="599.6" cy="180.5" r="1.0" fill="#f4f2ec"/>
<circle cx="609.9" cy="182.8" r="0.7" fill="#f4f2ec"/>
<circle cx="629.2" cy="177.8" r="0.5" fill="#ffffff"/>
<circle cx="638.5" cy="184.9" r="0.5" fill="#ffffff"/>
<circle cx="598.3" cy="172.0" r="0.8" fill="#ebe7de"/>
<circle cx="637.3" cy="166.0" r="0.5" fill="#e4dfd4"/>
<circle cx="642.4" cy="172.1" r="0.7" fill="#ebe7de"/>
<circle cx="638.1" cy="161.4" r="0.7" fill="#f4f2ec"/>
<circle cx="619.3" cy="182.3" r="0.8" fill="#e4dfd4"/>
<circle cx="601.6" cy="178.0" r="0.7" fill="#ffffff"/>
<circle cx="641.0" cy="172.0" r="0.5" fill="#ebe7de"/>
<circle cx="623.7" cy="166.2" r="0.8" fill="#ebe7de"/>
<circle cx="618.6" cy="167.3" r="0.6" fill="#ffffff"/>
<circle cx="615.4" cy="182.7" r="0.7" fill="#e4dfd4"/>
<circle cx="609.7" cy="165.3" r="0.9" fill="#ffffff"/>
<circle cx="631.1" cy="160.7" r="0.8" fill="#ffffff"/>
<circle cx="628.6" cy="188.0" r="0.8" fill="#ebe7de"/>
<circle cx="627.5" cy="164.0" r="0.5" fill="#e4dfd4"/>
<circle cx="599.2" cy="181.7" r="1.0" fill="#e4dfd4"/>
<circle cx="630.3" cy="178.8" r="0.7" fill="#e4dfd4"/>
<circle cx="628.8" cy="189.6" r="0.9" fill="#ebe7de"/>
<circle cx="602.2" cy="177.9" r="0.9" fill="#ebe7de"/>
<circle cx="627.6" cy="170.6" r="0.6" fill="#ffffff"/>
<circle cx="612.1" cy="177.0" r="0.9" fill="#e4dfd4"/>
<circle cx="644.6" cy="185.1" r="0.8" fill="#f4f2ec"/>
<circle cx="602.4" cy="186.2" r="0.8" fill="#ffffff"/>
<circle cx="627.3" cy="175.9" r="0.8" fill="#f4f2ec"/>
<circle cx="626.5" cy="169.5" r="0.9" fill="#f4f2ec"/>
<circle cx="614.5" cy="167.1" r="0.7" fill="#ffffff"/>
<circle cx="646.0" cy="178.2" r="0.8" fill="#ebe7de"/>
<circle cx="598.2" cy="173.1" r="0.7" fill="#ffffff"/>
<circle cx="628.5" cy="168.7" r="0.6" fill="#e4dfd4"/>
<circle cx="600.3" cy="175.9" r="0.6" fill="#f4f2ec"/>
<circle cx="626.2" cy="172.2" r="0.8" fill="#f4f2ec"/>
<circle cx="610.7" cy="162.1" r="0.7" fill="#ffffff"/>
<circle cx="604.6" cy="173.4" r="0.4" fill="#f4f2ec"/>
<circle cx="626.4" cy="162.2" r="0.9" fill="#ffffff"/>
<circle cx="631.4" cy="186.9" r="0.8" fill="#ebe7de"/>
<circle cx="614.4" cy="187.5" r="0.7" fill="#ebe7de"/>
<circle cx="627.6" cy="173.1" r="0.5" fill="#ebe7de"/>
<circle cx="625.6" cy="163.3" r="0.7" fill="#ebe7de"/>
<circle cx="603.9" cy="180.9" r="0.7" fill="#ffffff"/>
<circle cx="616.8" cy="164.7" r="0.7" fill="#f4f2ec"/>
<circle cx="610.1" cy="175.6" r="0.7" fill="#e4dfd4"/>
<circle cx="644.7" cy="168.1" r="0.5" fill="#f4f2ec"/>
<circle cx="628.9" cy="180.8" r="0.7" fill="#ebe7de"/>
<circle cx="614.9" cy="165.6" r="0.5" fill="#e4dfd4"/>
<circle cx="628.2" cy="159.3" r="0.5" fill="#e4dfd4"/>
<circle cx="638.2" cy="189.2" r="1.0" fill="#ffffff"/>
<circle cx="622.8" cy="170.5" r="0.9" fill="#ffffff"/>
<circle cx="646.7" cy="175.0" r="0.5" fill="#f4f2ec"/>
<circle cx="639.5" cy="175.6" r="0.7" fill="#e4dfd4"/>
<circle cx="613.8" cy="189.9" r="0.4" fill="#f4f2ec"/>
<circle cx="619.7" cy="176.9" r="0.6" fill="#e4dfd4"/>
<circle cx="616.4" cy="175.6" r="1.0" fill="#ffffff"/>
<circle cx="631.3" cy="175.0" r="0.6" fill="#ebe7de"/>
<circle cx="632.2" cy="171.7" r="0.9" fill="#f4f2ec"/>
<circle cx="635.5" cy="164.0" r="1.0" fill="#f4f2ec"/>
<circle cx="637.7" cy="189.9" r="0.7" fill="#e4dfd4"/>
<circle cx="628.3" cy="178.3" r="0.8" fill="#f4f2ec"/>
<text x="637.40" y="188.46" font-size="7.4" fill="#111" font-weight="bold" text-anchor="middle" textLength="18" lengthAdjust="spacingAndGlyphs" >1 cm</text>
<rect x="628.50" y="191.20" width="19.50" height="1.60" fill="#111" />
<rect x="552.20" y="150.10" width="107.20" height="107.90" fill="none" stroke="#333" stroke-width="1.0"/>
<text transform="translate(542.30,200.00) rotate(-90)" x="0" y="2.92" font-size="8.1" fill="#000" font-weight="bold" text-anchor="middle" textLength="64.3" lengthAdjust="spacingAndGlyphs" >Intensity (arb. u.)</text>
<line x1="552.20" y1="258.00" x2="552.20" y2="260.00" stroke="#333" stroke-width="0.7" />
<text x="552.20" y="265.94" font-size="6.5" fill="#000" font-weight="bold" text-anchor="middle" >10</text>
<line x1="567.51" y1="258.00" x2="567.51" y2="260.00" stroke="#333" stroke-width="0.7" />
<text x="567.51" y="265.94" font-size="6.5" fill="#000" font-weight="bold" text-anchor="middle" >20</text>
<line x1="582.83" y1="258.00" x2="582.83" y2="260.00" stroke="#333" stroke-width="0.7" />
<text x="582.83" y="265.94" font-size="6.5" fill="#000" font-weight="bold" text-anchor="middle" >30</text>
<line x1="598.14" y1="258.00" x2="598.14" y2="260.00" stroke="#333" stroke-width="0.7" />
<text x="598.14" y="265.94" font-size="6.5" fill="#000" font-weight="bold" text-anchor="middle" >40</text>
<line x1="613.46" y1="258.00" x2="613.46" y2="260.00" stroke="#333" stroke-width="0.7" />
<text x="613.46" y="265.94" font-size="6.5" fill="#000" font-weight="bold" text-anchor="middle" >50</text>
<line x1="628.77" y1="258.00" x2="628.77" y2="260.00" stroke="#333" stroke-width="0.7" />
<text x="628.77" y="265.94" font-size="6.5" fill="#000" font-weight="bold" text-anchor="middle" >60</text>
<line x1="644.09" y1="258.00" x2="644.09" y2="260.00" stroke="#333" stroke-width="0.7" />
<text x="644.09" y="265.94" font-size="6.5" fill="#000" font-weight="bold" text-anchor="middle" >70</text>
<line x1="659.40" y1="258.00" x2="659.40" y2="260.00" stroke="#333" stroke-width="0.7" />
<text x="659.40" y="265.94" font-size="6.5" fill="#000" font-weight="bold" text-anchor="middle" >80</text>
<line x1="559.86" y1="258.00" x2="559.86" y2="259.20" stroke="#333" stroke-width="0.6" />
<line x1="575.17" y1="258.00" x2="575.17" y2="259.20" stroke="#333" stroke-width="0.6" />
<line x1="590.49" y1="258.00" x2="590.49" y2="259.20" stroke="#333" stroke-width="0.6" />
<line x1="605.80" y1="258.00" x2="605.80" y2="259.20" stroke="#333" stroke-width="0.6" />
<line x1="621.11" y1="258.00" x2="621.11" y2="259.20" stroke="#333" stroke-width="0.6" />
<line x1="636.43" y1="258.00" x2="636.43" y2="259.20" stroke="#333" stroke-width="0.6" />
<line x1="651.74" y1="258.00" x2="651.74" y2="259.20" stroke="#333" stroke-width="0.6" />
<text x="605.00" y="275.64" font-size="7.9" fill="#000" font-weight="bold" text-anchor="middle" textLength="41" lengthAdjust="spacingAndGlyphs" >2θ (degree)</text>
<polyline points="552.60,221.22 553.00,221.21 553.40,220.59 553.80,220.61 554.21,221.13 554.61,221.07 555.01,221.02 555.41,220.77 555.81,220.97 556.21,220.97 556.62,220.96 557.02,220.66 557.42,220.85 557.82,220.83 558.22,221.06 558.62,221.25 559.02,221.21 559.43,220.93 559.83,220.86 560.23,220.74 560.63,220.58 561.03,220.57 561.43,220.88 561.83,220.77 562.24,220.82 562.64,221.17 563.04,220.92 563.44,220.94 563.84,220.72 564.24,220.57 564.65,220.78 565.05,220.65 565.45,220.91 565.85,221.25 566.25,221.02 566.65,220.68 567.05,221.18 567.46,221.11 567.86,221.06 568.26,221.18 568.66,221.00 569.06,215.18 569.46,176.63 569.62,168.44 569.86,185.90 570.27,217.63 570.67,221.05 571.07,221.05 571.47,220.87 571.87,220.92 572.27,220.83 572.68,218.78 573.08,211.52 573.12,211.63 573.48,216.90 573.88,220.99 574.28,221.18 574.68,220.87 575.08,220.95 575.49,221.19 575.89,221.06 576.29,220.89 576.69,220.71 577.09,220.78 577.49,221.04 577.90,220.67 578.30,221.19 578.70,220.74 579.10,221.19 579.50,220.77 579.90,221.22 580.30,221.04 580.71,220.90 581.11,220.88 581.51,218.47 581.91,208.04 581.94,207.77 582.31,217.02 582.71,220.66 583.11,212.41 583.52,176.27 583.61,173.20 583.92,196.73 584.32,219.63 584.72,220.83 585.12,206.73 585.52,161.49 585.58,159.49 585.93,193.73 586.33,219.40 586.73,220.70 587.13,221.16 587.53,220.62 587.93,220.92 588.33,221.14 588.74,219.73 589.14,208.75 589.38,202.97 589.54,205.43 589.94,218.92 590.34,220.54 590.74,220.80 591.14,220.67 591.55,220.76 591.95,215.78 592.27,211.22 592.35,210.97 592.75,218.95 593.15,217.22 593.55,204.48 593.64,204.02 593.96,212.08 594.36,220.19 594.76,221.03 595.16,220.82 595.56,220.58 595.96,221.24 596.36,220.65 596.77,220.21 597.17,215.71 597.44,212.48 597.57,213.50 597.97,219.38 598.37,218.26 598.66,214.57 598.77,215.70 599.18,220.76 599.58,221.07 599.98,221.18 600.38,221.08 600.78,221.15 601.18,221.04 601.58,220.88 601.99,220.71 602.39,220.98 602.79,220.03 603.19,217.44 603.37,217.16 603.59,218.25 603.99,220.07 604.39,220.94 604.80,220.82 605.20,220.91 605.60,220.65 606.00,221.22 606.40,220.73 606.80,220.97 607.21,220.84 607.61,220.56 608.01,220.94 608.41,220.65 608.81,220.59 609.21,220.57 609.61,220.66 610.02,220.62 610.42,220.99 610.82,220.80 611.22,218.82 611.58,215.40 611.62,215.53 612.02,219.26 612.42,220.82 612.83,220.72 613.23,220.86 613.63,219.98 614.01,219.11 614.03,219.05 614.43,219.89 614.83,220.77 615.24,220.92 615.64,220.55 616.04,220.57 616.44,220.84 616.84,220.63 617.24,221.06 617.64,220.72 618.05,220.62 618.45,220.68 618.85,220.71 619.25,220.70 619.65,220.91 620.05,220.88 620.46,220.77 620.86,221.00 621.26,220.70 621.66,221.18 622.06,221.22 622.46,221.06 622.86,220.83 623.27,220.46 623.67,218.66 623.89,217.69 624.07,218.36 624.47,220.35 624.87,220.65 625.27,220.60 625.67,220.65 626.08,218.25 626.32,217.51 626.48,218.18 626.88,220.22 627.28,220.68 627.68,220.45 628.08,216.95 628.30,215.76 628.49,216.99 628.89,219.72 629.29,220.72 629.69,221.14 630.09,221.02 630.49,220.56 630.89,220.87 631.30,220.84 631.70,220.89 632.10,220.70 632.50,220.94 632.90,220.19 633.30,219.07 633.46,218.91 633.70,219.77 634.11,220.34 634.51,221.07 634.91,220.68 635.31,220.95 635.71,220.80 636.11,220.41 636.52,219.35 636.66,218.93 636.92,219.27 637.32,220.41 637.72,220.60 638.12,221.14 638.52,221.00 638.92,221.22 639.33,221.03 639.73,220.57 640.13,221.01 640.53,221.09 640.93,221.06 641.33,220.90 641.74,220.80 642.14,220.87 642.54,221.11 642.94,220.74 643.34,220.92 643.74,220.88 644.14,221.22 644.55,221.11 644.95,221.20 645.35,221.14 645.75,220.76 646.15,220.71 646.55,220.89 646.95,220.73 647.36,220.85 647.76,221.03 648.16,221.19 648.56,220.96 648.96,221.10 649.36,220.23 649.77,219.49 649.88,219.85 650.17,219.71 650.57,220.70 650.97,220.59 651.37,220.61 651.77,221.18 652.17,221.24 652.58,221.00 652.98,220.64 653.38,220.76 653.78,220.71 654.18,221.02 654.58,221.03 654.98,220.86 655.39,220.92 655.79,220.63 656.19,220.93 656.59,221.21 656.99,221.08 657.39,220.62 657.80,220.91 658.20,221.05 658.60,220.73 659.00,221.18" fill="none" stroke="#41a6e2" stroke-width="0.8" stroke-linejoin="round"/>
<line x1="569.35" y1="257.50" x2="569.35" y2="234.10" stroke="#c8506a" stroke-width="0.9" />
<line x1="572.87" y1="257.50" x2="572.87" y2="251.20" stroke="#c8506a" stroke-width="0.9" />
<line x1="581.76" y1="257.50" x2="581.76" y2="250.20" stroke="#c8506a" stroke-width="0.9" />
<line x1="583.44" y1="257.50" x2="583.44" y2="235.30" stroke="#c8506a" stroke-width="0.9" />
<line x1="585.43" y1="257.50" x2="585.43" y2="230.00" stroke="#c8506a" stroke-width="0.9" />
<line x1="589.26" y1="257.50" x2="589.26" y2="248.70" stroke="#c8506a" stroke-width="0.9" />
<line x1="592.32" y1="257.50" x2="592.32" y2="251.00" stroke="#c8506a" stroke-width="0.9" />
<line x1="593.70" y1="257.50" x2="593.70" y2="246.00" stroke="#c8506a" stroke-width="0.9" />
<line x1="597.53" y1="257.50" x2="597.53" y2="251.80" stroke="#c8506a" stroke-width="0.9" />
<line x1="603.35" y1="257.50" x2="603.35" y2="254.70" stroke="#c8506a" stroke-width="0.9" />
<line x1="611.62" y1="257.50" x2="611.62" y2="251.80" stroke="#c8506a" stroke-width="0.9" />
<line x1="624.94" y1="257.50" x2="624.94" y2="255.00" stroke="#c8506a" stroke-width="0.9" />
<line x1="626.47" y1="257.50" x2="626.47" y2="254.00" stroke="#c8506a" stroke-width="0.9" />
<line x1="628.47" y1="257.50" x2="628.47" y2="253.50" stroke="#c8506a" stroke-width="0.9" />
<line x1="632.14" y1="257.50" x2="632.14" y2="255.50" stroke="#c8506a" stroke-width="0.9" />
<line x1="634.90" y1="257.50" x2="634.90" y2="255.50" stroke="#c8506a" stroke-width="0.9" />
<line x1="638.73" y1="257.50" x2="638.73" y2="256.00" stroke="#c8506a" stroke-width="0.9" />
<line x1="644.85" y1="257.50" x2="644.85" y2="256.00" stroke="#c8506a" stroke-width="0.9" />
<line x1="650.21" y1="257.50" x2="650.21" y2="255.80" stroke="#c8506a" stroke-width="0.9" />
<line x1="652.51" y1="257.50" x2="652.51" y2="256.00" stroke="#c8506a" stroke-width="0.9" />
<text x="617.20" y="232.24" font-size="7.6" fill="#c8506a" textLength="22.6" lengthAdjust="spacingAndGlyphs" >Li<tspan font-size="5.2" dy="2">2</tspan><tspan dy="-2">CO</tspan><tspan font-size="5.2" dy="2">3</tspan></text>
<text x="601.10" y="243.24" font-size="7.6" fill="#c8506a" textLength="51.1" lengthAdjust="spacingAndGlyphs" >(PDF#22-1141)</text>
<text x="2.80" y="297.38" font-size="13" fill="#000" font-weight="bold" >h</text>
<text x="33.10" y="301.64" font-size="7.6" fill="#2b3a80" font-weight="bold" textLength="196.2" lengthAdjust="spacingAndGlyphs" >Membrane metal-complexing ex-situ crystallization</text>
<defs><linearGradient id="legh" x1="0" y1="0" x2="1" y2="0"><stop offset="0" stop-color="#ecf6f7"/><stop offset="0.15" stop-color="#ddf0f4"/><stop offset="0.6" stop-color="#dff1f4"/><stop offset="1" stop-color="#f4fafb" stop-opacity="0.6"/></linearGradient></defs>
<rect x="44.70" y="310.50" width="140.00" height="16.70" fill="url(#legh)" />
<line x1="33.10" y1="306.60" x2="229.20" y2="306.60" stroke="#6a6a6a" stroke-width="1.0" />
<line x1="33.70" y1="306.20" x2="33.70" y2="412.00" stroke="#7a7a7a" stroke-width="1.1" />
<line x1="228.70" y1="306.20" x2="228.70" y2="412.00" stroke="#5a5a5a" stroke-width="1.0" />
<line x1="31.70" y1="407.50" x2="33.70" y2="407.50" stroke="#000" stroke-width="0.7" />
<text x="30.80" y="409.95" font-size="6.8" fill="#000" font-weight="bold" text-anchor="end" >0.0</text>
<line x1="31.70" y1="378.60" x2="33.70" y2="378.60" stroke="#000" stroke-width="0.7" />
<text x="30.80" y="381.05" font-size="6.8" fill="#000" font-weight="bold" text-anchor="end" >0.2</text>
<line x1="31.70" y1="349.80" x2="33.70" y2="349.80" stroke="#000" stroke-width="0.7" />
<text x="30.80" y="352.25" font-size="6.8" fill="#000" font-weight="bold" text-anchor="end" >0.4</text>
<line x1="31.70" y1="320.80" x2="33.70" y2="320.80" stroke="#000" stroke-width="0.7" />
<text x="30.80" y="323.25" font-size="6.8" fill="#000" font-weight="bold" text-anchor="end" >0.6</text>
<line x1="32.50" y1="393.05" x2="33.70" y2="393.05" stroke="#000" stroke-width="0.6" />
<line x1="32.50" y1="364.20" x2="33.70" y2="364.20" stroke="#000" stroke-width="0.6" />
<line x1="32.50" y1="335.30" x2="33.70" y2="335.30" stroke="#000" stroke-width="0.6" />
<line x1="228.70" y1="407.30" x2="230.70" y2="407.30" stroke="#000" stroke-width="0.7" />
<text x="232.40" y="409.86" font-size="7.1" fill="#000" font-weight="bold" >0</text>
<line x1="228.70" y1="380.60" x2="230.70" y2="380.60" stroke="#000" stroke-width="0.7" />
<text x="232.40" y="383.16" font-size="7.1" fill="#000" font-weight="bold" >1</text>
<line x1="228.70" y1="354.20" x2="230.70" y2="354.20" stroke="#000" stroke-width="0.7" />
<text x="232.40" y="356.76" font-size="7.1" fill="#000" font-weight="bold" >2</text>
<line x1="228.70" y1="327.60" x2="230.70" y2="327.60" stroke="#000" stroke-width="0.7" />
<text x="232.40" y="330.16" font-size="7.1" fill="#000" font-weight="bold" >3</text>
<line x1="228.70" y1="393.95" x2="229.90" y2="393.95" stroke="#000" stroke-width="0.6" />
<line x1="228.70" y1="367.40" x2="229.90" y2="367.40" stroke="#000" stroke-width="0.6" />
<line x1="228.70" y1="340.90" x2="229.90" y2="340.90" stroke="#000" stroke-width="0.6" />
<text transform="translate(15.80,358.00) rotate(-90)" x="0" y="2.99" font-size="8.3" fill="#000" font-weight="bold" text-anchor="middle" textLength="80" lengthAdjust="spacingAndGlyphs" >Concentration (g L<tspan font-size="5.2" dy="-3">-1</tspan><tspan dy="3">)</tspan></text>
<line x1="57.80" y1="319.30" x2="79.80" y2="319.30" stroke="#2a2a2a" stroke-width="0.9" />
<path d="M68.80,316.90 L71.10,321.10 L66.50,321.10 Z" fill="#fff" stroke="#2a2a2a" stroke-width="0.8"/>
<text x="82.60" y="322.54" font-size="9.0" fill="#111" font-weight="bold" >Ni<tspan font-size="5.40" dx="0.54" dy="-3.78">2+</tspan></text>
<line x1="102.40" y1="319.30" x2="124.30" y2="319.30" stroke="#2a2a2a" stroke-width="0.9" />
<path d="M113.35,316.93 L115.72,319.30 L113.35,321.68 L110.97,319.30 Z" fill="#fff" stroke="#2a2a2a" stroke-width="0.8"/>
<text x="127.10" y="322.54" font-size="9.0" fill="#111" font-weight="bold" >Co<tspan font-size="5.40" dx="0.54" dy="-3.78">2+</tspan></text>
<line x1="151.80" y1="319.30" x2="172.40" y2="319.30" stroke="#2a2a2a" stroke-width="0.9" />
<polygon points="162.10,317.21 164.09,318.65 163.33,320.99 160.87,320.99 160.11,318.65" fill="#fff" stroke="#2a2a2a" stroke-width="0.8"/>
<text x="175.20" y="322.54" font-size="9.0" fill="#111" font-weight="bold" >Mn<tspan font-size="5.40" dx="0.54" dy="-3.78">2+</tspan></text>
<polyline points="38.50,325.13 48.24,333.81 57.98,342.48 67.72,359.81 77.46,381.49" fill="none" stroke="#6a6fd8" stroke-width="0.6" />
<path d="M38.50,322.95 L40.59,326.77 L36.41,326.77 Z" fill="#e0e0ff" stroke="#6a6fd8" stroke-width="0.6"/>
<line x1="48.24" y1="331.81" x2="48.24" y2="335.81" stroke="#6a6fd8" stroke-width="0.5" />
<line x1="47.24" y1="331.81" x2="49.24" y2="331.81" stroke="#6a6fd8" stroke-width="0.5" />
<line x1="47.24" y1="335.81" x2="49.24" y2="335.81" stroke="#6a6fd8" stroke-width="0.5" />
<path d="M48.24,331.62 L50.33,335.44 L46.15,335.44 Z" fill="#e0e0ff" stroke="#6a6fd8" stroke-width="0.6"/>
<line x1="57.98" y1="340.48" x2="57.98" y2="344.48" stroke="#6a6fd8" stroke-width="0.5" />
<line x1="56.98" y1="340.48" x2="58.98" y2="340.48" stroke="#6a6fd8" stroke-width="0.5" />
<line x1="56.98" y1="344.48" x2="58.98" y2="344.48" stroke="#6a6fd8" stroke-width="0.5" />
<path d="M57.98,340.29 L60.07,344.11 L55.89,344.11 Z" fill="#e0e0ff" stroke="#6a6fd8" stroke-width="0.6"/>
<line x1="67.72" y1="356.81" x2="67.72" y2="362.81" stroke="#6a6fd8" stroke-width="0.5" />
<line x1="66.72" y1="356.81" x2="68.72" y2="356.81" stroke="#6a6fd8" stroke-width="0.5" />
<line x1="66.72" y1="362.81" x2="68.72" y2="362.81" stroke="#6a6fd8" stroke-width="0.5" />
<path d="M67.72,357.63 L69.81,361.45 L65.63,361.45 Z" fill="#e0e0ff" stroke="#6a6fd8" stroke-width="0.6"/>
<line x1="77.46" y1="379.49" x2="77.46" y2="383.49" stroke="#6a6fd8" stroke-width="0.5" />
<line x1="76.46" y1="379.49" x2="78.46" y2="379.49" stroke="#6a6fd8" stroke-width="0.5" />
<line x1="76.46" y1="383.49" x2="78.46" y2="383.49" stroke="#6a6fd8" stroke-width="0.5" />
<path d="M77.46,379.31 L79.55,383.13 L75.37,383.13 Z" fill="#e0e0ff" stroke="#6a6fd8" stroke-width="0.6"/>
<polyline points="38.50,330.91 48.24,338.14 57.98,346.81 67.72,362.70 77.46,384.38" fill="none" stroke="#6a6fd8" stroke-width="0.6" />
<path d="M38.50,328.78 L40.64,330.91 L38.50,333.05 L36.36,330.91 Z" fill="#e0e0ff" stroke="#6a6fd8" stroke-width="0.6"/>
<line x1="48.24" y1="336.14" x2="48.24" y2="340.14" stroke="#6a6fd8" stroke-width="0.5" />
<line x1="47.24" y1="336.14" x2="49.24" y2="336.14" stroke="#6a6fd8" stroke-width="0.5" />
<line x1="47.24" y1="340.14" x2="49.24" y2="340.14" stroke="#6a6fd8" stroke-width="0.5" />
<path d="M48.24,336.00 L50.38,338.14 L48.24,340.28 L46.10,338.14 Z" fill="#e0e0ff" stroke="#6a6fd8" stroke-width="0.6"/>
<line x1="57.98" y1="344.31" x2="57.98" y2="349.31" stroke="#6a6fd8" stroke-width="0.5" />
<line x1="56.98" y1="344.31" x2="58.98" y2="344.31" stroke="#6a6fd8" stroke-width="0.5" />
<line x1="56.98" y1="349.31" x2="58.98" y2="349.31" stroke="#6a6fd8" stroke-width="0.5" />
<path d="M57.98,344.67 L60.12,346.81 L57.98,348.95 L55.84,346.81 Z" fill="#e0e0ff" stroke="#6a6fd8" stroke-width="0.6"/>
<line x1="67.72" y1="359.70" x2="67.72" y2="365.70" stroke="#6a6fd8" stroke-width="0.5" />
<line x1="66.72" y1="359.70" x2="68.72" y2="359.70" stroke="#6a6fd8" stroke-width="0.5" />
<line x1="66.72" y1="365.70" x2="68.72" y2="365.70" stroke="#6a6fd8" stroke-width="0.5" />
<path d="M67.72,360.57 L69.86,362.70 L67.72,364.84 L65.58,362.70 Z" fill="#e0e0ff" stroke="#6a6fd8" stroke-width="0.6"/>
<line x1="77.46" y1="382.38" x2="77.46" y2="386.38" stroke="#6a6fd8" stroke-width="0.5" />
<line x1="76.46" y1="382.38" x2="78.46" y2="382.38" stroke="#6a6fd8" stroke-width="0.5" />
<line x1="76.46" y1="386.38" x2="78.46" y2="386.38" stroke="#6a6fd8" stroke-width="0.5" />
<path d="M77.46,382.24 L79.60,384.38 L77.46,386.52 L75.32,384.38 Z" fill="#e0e0ff" stroke="#6a6fd8" stroke-width="0.6"/>
<polyline points="38.50,343.92 48.24,355.48 57.98,367.04 67.72,374.26 77.46,387.27" fill="none" stroke="#6a6fd8" stroke-width="0.6" />
<polygon points="38.50,341.93 40.39,343.31 39.67,345.53 37.33,345.53 36.61,343.31" fill="#e0e0ff" stroke="#6a6fd8" stroke-width="0.6"/>
<line x1="48.24" y1="353.48" x2="48.24" y2="357.48" stroke="#6a6fd8" stroke-width="0.5" />
<line x1="47.24" y1="353.48" x2="49.24" y2="353.48" stroke="#6a6fd8" stroke-width="0.5" />
<line x1="47.24" y1="357.48" x2="49.24" y2="357.48" stroke="#6a6fd8" stroke-width="0.5" />
<polygon points="48.24,353.49 50.13,354.87 49.41,357.09 47.07,357.09 46.35,354.87" fill="#e0e0ff" stroke="#6a6fd8" stroke-width="0.6"/>
<line x1="57.98" y1="363.54" x2="57.98" y2="370.54" stroke="#6a6fd8" stroke-width="0.5" />
<line x1="56.98" y1="363.54" x2="58.98" y2="363.54" stroke="#6a6fd8" stroke-width="0.5" />
<line x1="56.98" y1="370.54" x2="58.98" y2="370.54" stroke="#6a6fd8" stroke-width="0.5" />
<polygon points="57.98,365.05 59.87,366.43 59.15,368.65 56.81,368.65 56.09,366.43" fill="#e0e0ff" stroke="#6a6fd8" stroke-width="0.6"/>
<line x1="67.72" y1="371.26" x2="67.72" y2="377.26" stroke="#6a6fd8" stroke-width="0.5" />
<line x1="66.72" y1="371.26" x2="68.72" y2="371.26" stroke="#6a6fd8" stroke-width="0.5" />
<line x1="66.72" y1="377.26" x2="68.72" y2="377.26" stroke="#6a6fd8" stroke-width="0.5" />
<polygon points="67.72,372.28 69.61,373.65 68.89,375.87 66.55,375.87 65.83,373.65" fill="#e0e0ff" stroke="#6a6fd8" stroke-width="0.6"/>
<line x1="77.46" y1="385.27" x2="77.46" y2="389.27" stroke="#6a6fd8" stroke-width="0.5" />
<line x1="76.46" y1="385.27" x2="78.46" y2="385.27" stroke="#6a6fd8" stroke-width="0.5" />
<line x1="76.46" y1="389.27" x2="78.46" y2="389.27" stroke="#6a6fd8" stroke-width="0.5" />
<polygon points="77.46,385.28 79.35,386.66 78.63,388.88 76.29,388.88 75.57,386.66" fill="#e0e0ff" stroke="#6a6fd8" stroke-width="0.6"/>
<polyline points="77.46,381.49 87.20,404.61" fill="none" stroke="#6a6fd8" stroke-width="0.6" />
<polyline points="77.46,384.38 87.20,404.61" fill="none" stroke="#6a6fd8" stroke-width="0.6" />
<polyline points="77.46,387.27 87.20,404.61" fill="none" stroke="#6a6fd8" stroke-width="0.6" />
<circle cx="87.20" cy="404.61" r="2.09" fill="#3a40c8" stroke="#2a30b0" stroke-width="0.6"/>
<line x1="36.00" y1="410.40" x2="90.00" y2="410.40" stroke="#5a60d0" stroke-width="0.8" />
<line x1="38.50" y1="410.40" x2="38.50" y2="412.20" stroke="#5a60d0" stroke-width="0.7" />
<text x="38.50" y="418.34" font-size="6.5" fill="#3a40b8" font-weight="bold" text-anchor="middle" >0</text>
<line x1="53.11" y1="410.40" x2="53.11" y2="412.20" stroke="#5a60d0" stroke-width="0.7" />
<text x="53.11" y="418.34" font-size="6.5" fill="#3a40b8" font-weight="bold" text-anchor="middle" >3</text>
<line x1="67.72" y1="410.40" x2="67.72" y2="412.20" stroke="#5a60d0" stroke-width="0.7" />
<text x="67.72" y="418.34" font-size="6.5" fill="#3a40b8" font-weight="bold" text-anchor="middle" >6</text>
<line x1="82.33" y1="410.40" x2="82.33" y2="412.20" stroke="#5a60d0" stroke-width="0.7" />
<text x="82.33" y="418.34" font-size="6.5" fill="#3a40b8" font-weight="bold" text-anchor="middle" >9</text>
<line x1="45.80" y1="410.40" x2="45.80" y2="411.50" stroke="#5a60d0" stroke-width="0.6" />
<line x1="60.41" y1="410.40" x2="60.41" y2="411.50" stroke="#5a60d0" stroke-width="0.6" />
<line x1="75.03" y1="410.40" x2="75.03" y2="411.50" stroke="#5a60d0" stroke-width="0.6" />
<text x="60.50" y="424.25" font-size="6.8" fill="#4a50c0" text-anchor="middle" textLength="44" lengthAdjust="spacingAndGlyphs" >Feed chamber</text>
<path d="M55.00,373.50 L43.20,373.50 L43.20,371.55 L37.20,375.30 L43.20,379.05 L43.20,377.10 L55.00,377.10 Z" fill="#1c2a88" />
<polyline points="105.70,407.30 115.32,406.77 124.94,406.50 134.56,406.50 144.18,406.24 153.80,405.70" fill="none" stroke="#5ab0a0" stroke-width="0.6" />
<polygon points="105.70,405.31 107.59,406.69 106.87,408.91 104.53,408.91 103.81,406.69" fill="#5aa89a" stroke="#3a9a8a" stroke-width="0.6"/>
<polygon points="115.32,404.78 117.21,406.15 116.49,408.37 114.15,408.37 113.43,406.15" fill="#ffffff" stroke="#3a9a8a" stroke-width="0.6"/>
<polygon points="124.94,404.52 126.83,405.89 126.11,408.11 123.77,408.11 123.05,405.89" fill="#ffffff" stroke="#3a9a8a" stroke-width="0.6"/>
<polygon points="134.56,404.52 136.45,405.89 135.73,408.11 133.39,408.11 132.67,405.89" fill="#5aa89a" stroke="#3a9a8a" stroke-width="0.6"/>
<polygon points="144.18,404.25 146.07,405.62 145.35,407.84 143.01,407.84 142.29,405.62" fill="#5aa89a" stroke="#3a9a8a" stroke-width="0.6"/>
<polygon points="153.80,403.72 155.69,405.09 154.97,407.31 152.63,407.31 151.91,405.09" fill="#5aa89a" stroke="#3a9a8a" stroke-width="0.6"/>
<polyline points="105.70,407.30 115.32,399.32 124.94,391.34 134.56,371.39 144.18,354.10 153.80,328.83" fill="none" stroke="#3a9a8a" stroke-width="0.6" />
<path d="M105.70,405.16 L107.84,407.30 L105.70,409.44 L103.56,407.30 Z" fill="#c8ebe4" stroke="#3a9a8a" stroke-width="0.6"/>
<line x1="115.32" y1="397.82" x2="115.32" y2="400.82" stroke="#3a9a8a" stroke-width="0.5" />
<line x1="114.32" y1="397.82" x2="116.32" y2="397.82" stroke="#3a9a8a" stroke-width="0.5" />
<line x1="114.32" y1="400.82" x2="116.32" y2="400.82" stroke="#3a9a8a" stroke-width="0.5" />
<path d="M115.32,397.18 L117.46,399.32 L115.32,401.46 L113.18,399.32 Z" fill="#c8ebe4" stroke="#3a9a8a" stroke-width="0.6"/>
<line x1="124.94" y1="389.34" x2="124.94" y2="393.34" stroke="#3a9a8a" stroke-width="0.5" />
<line x1="123.94" y1="389.34" x2="125.94" y2="389.34" stroke="#3a9a8a" stroke-width="0.5" />
<line x1="123.94" y1="393.34" x2="125.94" y2="393.34" stroke="#3a9a8a" stroke-width="0.5" />
<path d="M124.94,389.20 L127.08,391.34 L124.94,393.48 L122.80,391.34 Z" fill="#c8ebe4" stroke="#3a9a8a" stroke-width="0.6"/>
<line x1="134.56" y1="369.39" x2="134.56" y2="373.39" stroke="#3a9a8a" stroke-width="0.5" />
<line x1="133.56" y1="369.39" x2="135.56" y2="369.39" stroke="#3a9a8a" stroke-width="0.5" />
<line x1="133.56" y1="373.39" x2="135.56" y2="373.39" stroke="#3a9a8a" stroke-width="0.5" />
<path d="M134.56,369.25 L136.70,371.39 L134.56,373.53 L132.42,371.39 Z" fill="#c8ebe4" stroke="#3a9a8a" stroke-width="0.6"/>
<line x1="144.18" y1="351.60" x2="144.18" y2="356.60" stroke="#3a9a8a" stroke-width="0.5" />
<line x1="143.18" y1="351.60" x2="145.18" y2="351.60" stroke="#3a9a8a" stroke-width="0.5" />
<line x1="143.18" y1="356.60" x2="145.18" y2="356.60" stroke="#3a9a8a" stroke-width="0.5" />
<path d="M144.18,351.96 L146.32,354.10 L144.18,356.24 L142.04,354.10 Z" fill="#c8ebe4" stroke="#3a9a8a" stroke-width="0.6"/>
<line x1="153.80" y1="326.83" x2="153.80" y2="330.83" stroke="#3a9a8a" stroke-width="0.5" />
<line x1="152.80" y1="326.83" x2="154.80" y2="326.83" stroke="#3a9a8a" stroke-width="0.5" />
<line x1="152.80" y1="330.83" x2="154.80" y2="330.83" stroke="#3a9a8a" stroke-width="0.5" />
<path d="M153.80,326.69 L155.94,328.83 L153.80,330.97 L151.66,328.83 Z" fill="#c8ebe4" stroke="#3a9a8a" stroke-width="0.6"/>
<polyline points="105.70,407.30 115.32,397.99 124.94,388.68 134.56,370.06 144.18,351.44 153.80,324.84" fill="none" stroke="#3a9a8a" stroke-width="0.6" />
<path d="M105.70,405.22 L107.69,408.86 L103.71,408.86 Z" fill="#c8ebe4" stroke="#3a9a8a" stroke-width="0.6"/>
<path d="M115.32,395.91 L117.31,399.55 L113.33,399.55 Z" fill="#c8ebe4" stroke="#3a9a8a" stroke-width="0.6"/>
<path d="M124.94,386.60 L126.93,390.24 L122.95,390.24 Z" fill="#c8ebe4" stroke="#3a9a8a" stroke-width="0.6"/>
<path d="M134.56,367.98 L136.55,371.62 L132.57,371.62 Z" fill="#c8ebe4" stroke="#3a9a8a" stroke-width="0.6"/>
<path d="M144.18,349.36 L146.17,353.00 L142.19,353.00 Z" fill="#c8ebe4" stroke="#3a9a8a" stroke-width="0.6"/>
<path d="M153.80,322.76 L155.79,326.40 L151.81,326.40 Z" fill="#c8ebe4" stroke="#3a9a8a" stroke-width="0.6"/>
<line x1="104.00" y1="410.40" x2="158.00" y2="410.40" stroke="#5ab0a0" stroke-width="0.8" />
<line x1="105.70" y1="410.40" x2="105.70" y2="412.20" stroke="#5ab0a0" stroke-width="0.7" />
<text x="105.70" y="418.34" font-size="6.5" fill="#2f8f7e" font-weight="bold" text-anchor="middle" >0</text>
<line x1="120.13" y1="410.40" x2="120.13" y2="412.20" stroke="#5ab0a0" stroke-width="0.7" />
<text x="120.13" y="418.34" font-size="6.5" fill="#2f8f7e" font-weight="bold" text-anchor="middle" >3</text>
<line x1="134.56" y1="410.40" x2="134.56" y2="412.20" stroke="#5ab0a0" stroke-width="0.7" />
<text x="134.56" y="418.34" font-size="6.5" fill="#2f8f7e" font-weight="bold" text-anchor="middle" >6</text>
<line x1="148.99" y1="410.40" x2="148.99" y2="412.20" stroke="#5ab0a0" stroke-width="0.7" />
<text x="148.99" y="418.34" font-size="6.5" fill="#2f8f7e" font-weight="bold" text-anchor="middle" >9</text>
<line x1="112.92" y1="410.40" x2="112.92" y2="411.50" stroke="#5ab0a0" stroke-width="0.6" />
<line x1="127.34" y1="410.40" x2="127.34" y2="411.50" stroke="#5ab0a0" stroke-width="0.6" />
<line x1="141.78" y1="410.40" x2="141.78" y2="411.50" stroke="#5ab0a0" stroke-width="0.6" />
<text x="125.60" y="424.25" font-size="6.8" fill="#3aa08e" text-anchor="middle" textLength="71.5" lengthAdjust="spacingAndGlyphs" >Ni &amp; Co collect chamber</text>
<path d="M118.80,373.20 L105.60,373.20 L105.60,371.25 L99.60,375.00 L105.60,378.75 L105.60,376.80 L118.80,376.80 Z" fill="#2e8b7a" />
<polyline points="174.60,407.30 184.40,407.30 194.20,407.30 204.00,407.30 213.80,407.30 223.60,407.30" fill="none" stroke="#3a9a3a" stroke-width="0.6" />
<circle cx="174.60" cy="407.30" r="1.80" fill="#80cc80" stroke="#3a9a3a" stroke-width="0.6"/>
<circle cx="184.40" cy="407.30" r="1.80" fill="#80cc80" stroke="#3a9a3a" stroke-width="0.6"/>
<circle cx="194.20" cy="407.30" r="1.80" fill="#80cc80" stroke="#3a9a3a" stroke-width="0.6"/>
<circle cx="204.00" cy="407.30" r="1.80" fill="#80cc80" stroke="#3a9a3a" stroke-width="0.6"/>
<circle cx="213.80" cy="407.30" r="1.80" fill="#80cc80" stroke="#3a9a3a" stroke-width="0.6"/>
<circle cx="223.60" cy="407.30" r="1.80" fill="#80cc80" stroke="#3a9a3a" stroke-width="0.6"/>
<polyline points="174.60,407.30 184.40,394.00 194.20,382.03 204.00,371.39 213.80,358.09 223.60,339.47" fill="none" stroke="#4fb34f" stroke-width="0.6" />
<polygon points="174.60,405.31 176.49,406.69 175.77,408.91 173.43,408.91 172.71,406.69" fill="#d4f0d0" stroke="#4fb34f" stroke-width="0.6"/>
<line x1="184.40" y1="392.00" x2="184.40" y2="396.00" stroke="#4fb34f" stroke-width="0.5" />
<line x1="183.40" y1="392.00" x2="185.40" y2="392.00" stroke="#4fb34f" stroke-width="0.5" />
<line x1="183.40" y1="396.00" x2="185.40" y2="396.00" stroke="#4fb34f" stroke-width="0.5" />
<polygon points="184.40,392.01 186.29,393.39 185.57,395.61 183.23,395.61 182.51,393.39" fill="#d4f0d0" stroke="#4fb34f" stroke-width="0.6"/>
<line x1="194.20" y1="380.03" x2="194.20" y2="384.03" stroke="#4fb34f" stroke-width="0.5" />
<line x1="193.20" y1="380.03" x2="195.20" y2="380.03" stroke="#4fb34f" stroke-width="0.5" />
<line x1="193.20" y1="384.03" x2="195.20" y2="384.03" stroke="#4fb34f" stroke-width="0.5" />
<polygon points="194.20,380.04 196.09,381.42 195.37,383.64 193.03,383.64 192.31,381.42" fill="#d4f0d0" stroke="#4fb34f" stroke-width="0.6"/>
<line x1="204.00" y1="368.39" x2="204.00" y2="374.39" stroke="#4fb34f" stroke-width="0.5" />
<line x1="203.00" y1="368.39" x2="205.00" y2="368.39" stroke="#4fb34f" stroke-width="0.5" />
<line x1="203.00" y1="374.39" x2="205.00" y2="374.39" stroke="#4fb34f" stroke-width="0.5" />
<polygon points="204.00,369.40 205.89,370.78 205.17,373.00 202.83,373.00 202.11,370.78" fill="#d4f0d0" stroke="#4fb34f" stroke-width="0.6"/>
<line x1="213.80" y1="356.09" x2="213.80" y2="360.09" stroke="#4fb34f" stroke-width="0.5" />
<line x1="212.80" y1="356.09" x2="214.80" y2="356.09" stroke="#4fb34f" stroke-width="0.5" />
<line x1="212.80" y1="360.09" x2="214.80" y2="360.09" stroke="#4fb34f" stroke-width="0.5" />
<polygon points="213.80,356.10 215.69,357.48 214.97,359.70 212.63,359.70 211.91,357.48" fill="#d4f0d0" stroke="#4fb34f" stroke-width="0.6"/>
<line x1="223.60" y1="337.47" x2="223.60" y2="341.47" stroke="#4fb34f" stroke-width="0.5" />
<line x1="222.60" y1="337.47" x2="224.60" y2="337.47" stroke="#4fb34f" stroke-width="0.5" />
<line x1="222.60" y1="341.47" x2="224.60" y2="341.47" stroke="#4fb34f" stroke-width="0.5" />
<polygon points="223.60,337.48 225.49,338.86 224.77,341.08 222.43,341.08 221.71,338.86" fill="#d4f0d0" stroke="#4fb34f" stroke-width="0.6"/>
<line x1="173.00" y1="410.40" x2="227.00" y2="410.40" stroke="#5cb85c" stroke-width="0.8" />
<line x1="174.60" y1="410.40" x2="174.60" y2="412.20" stroke="#5cb85c" stroke-width="0.7" />
<text x="174.60" y="418.34" font-size="6.5" fill="#3a9a3a" font-weight="bold" text-anchor="middle" >0</text>
<line x1="189.30" y1="410.40" x2="189.30" y2="412.20" stroke="#5cb85c" stroke-width="0.7" />
<text x="189.30" y="418.34" font-size="6.5" fill="#3a9a3a" font-weight="bold" text-anchor="middle" >3</text>
<line x1="204.00" y1="410.40" x2="204.00" y2="412.20" stroke="#5cb85c" stroke-width="0.7" />
<text x="204.00" y="418.34" font-size="6.5" fill="#3a9a3a" font-weight="bold" text-anchor="middle" >6</text>
<line x1="218.70" y1="410.40" x2="218.70" y2="412.20" stroke="#5cb85c" stroke-width="0.7" />
<text x="218.70" y="418.34" font-size="6.5" fill="#3a9a3a" font-weight="bold" text-anchor="middle" >9</text>
<line x1="181.95" y1="410.40" x2="181.95" y2="411.50" stroke="#5cb85c" stroke-width="0.6" />
<line x1="196.65" y1="410.40" x2="196.65" y2="411.50" stroke="#5cb85c" stroke-width="0.6" />
<line x1="211.35" y1="410.40" x2="211.35" y2="411.50" stroke="#5cb85c" stroke-width="0.6" />
<text x="198.10" y="424.25" font-size="6.8" fill="#4aae4a" text-anchor="middle" textLength="65.2" lengthAdjust="spacingAndGlyphs" >Mn recovery chamber</text>
<path d="M205.40,373.20 L219.00,373.20 L219.00,371.25 L225.00,375.00 L219.00,378.75 L219.00,376.80 L205.40,376.80 Z" fill="#3cb455" />
<text x="132.90" y="437.76" font-size="8.5" fill="#000" font-weight="bold" text-anchor="middle" textLength="69.3" lengthAdjust="spacingAndGlyphs" >Operation time (h)</text>
<text x="244.10" y="300.88" font-size="13" fill="#000" font-weight="bold" >i</text>
<text x="264.00" y="301.64" font-size="7.6" fill="#2b3a80" font-weight="bold" textLength="198.3" lengthAdjust="spacingAndGlyphs" >Membrane metal-extracting temporal crystallization</text>
<defs><linearGradient id="legi" x1="0" y1="0" x2="1" y2="0"><stop offset="0" stop-color="#ecf6f7"/><stop offset="0.15" stop-color="#ddf0f4"/><stop offset="0.6" stop-color="#dff1f4"/><stop offset="1" stop-color="#f4fafb" stop-opacity="0.6"/></linearGradient></defs>
<rect x="301.00" y="308.80" width="114.00" height="14.70" fill="url(#legi)" />
<line x1="263.50" y1="306.00" x2="460.10" y2="306.00" stroke="#6a6a6a" stroke-width="1.0" />
<line x1="264.60" y1="305.60" x2="264.60" y2="410.50" stroke="#7a7a7a" stroke-width="1.1" />
<line x1="459.60" y1="305.60" x2="459.60" y2="410.50" stroke="#5a5a5a" stroke-width="1.0" />
<line x1="262.60" y1="406.70" x2="264.60" y2="406.70" stroke="#000" stroke-width="0.7" />
<text x="261.60" y="409.26" font-size="7.1" fill="#000" font-weight="bold" text-anchor="end" >0</text>
<line x1="262.60" y1="381.30" x2="264.60" y2="381.30" stroke="#000" stroke-width="0.7" />
<text x="261.60" y="383.86" font-size="7.1" fill="#000" font-weight="bold" text-anchor="end" >1</text>
<line x1="262.60" y1="356.00" x2="264.60" y2="356.00" stroke="#000" stroke-width="0.7" />
<text x="261.60" y="358.56" font-size="7.1" fill="#000" font-weight="bold" text-anchor="end" >2</text>
<line x1="262.60" y1="331.00" x2="264.60" y2="331.00" stroke="#000" stroke-width="0.7" />
<text x="261.60" y="333.56" font-size="7.1" fill="#000" font-weight="bold" text-anchor="end" >3</text>
<line x1="262.60" y1="305.60" x2="264.60" y2="305.60" stroke="#000" stroke-width="0.7" />
<text x="261.60" y="308.16" font-size="7.1" fill="#000" font-weight="bold" text-anchor="end" >4</text>
<line x1="263.40" y1="394.00" x2="264.60" y2="394.00" stroke="#000" stroke-width="0.6" />
<line x1="263.40" y1="368.65" x2="264.60" y2="368.65" stroke="#000" stroke-width="0.6" />
<line x1="263.40" y1="343.50" x2="264.60" y2="343.50" stroke="#000" stroke-width="0.6" />
<line x1="263.40" y1="318.30" x2="264.60" y2="318.30" stroke="#000" stroke-width="0.6" />
<line x1="459.60" y1="406.70" x2="461.60" y2="406.70" stroke="#000" stroke-width="0.7" />
<text x="462.80" y="409.26" font-size="7.1" fill="#000" font-weight="bold" >0</text>
<line x1="459.60" y1="381.30" x2="461.60" y2="381.30" stroke="#000" stroke-width="0.7" />
<text x="462.80" y="383.86" font-size="7.1" fill="#000" font-weight="bold" >1</text>
<line x1="459.60" y1="356.00" x2="461.60" y2="356.00" stroke="#000" stroke-width="0.7" />
<text x="462.80" y="358.56" font-size="7.1" fill="#000" font-weight="bold" >2</text>
<line x1="459.60" y1="331.00" x2="461.60" y2="331.00" stroke="#000" stroke-width="0.7" />
<text x="462.80" y="333.56" font-size="7.1" fill="#000" font-weight="bold" >3</text>
<line x1="459.60" y1="305.60" x2="461.60" y2="305.60" stroke="#000" stroke-width="0.7" />
<text x="462.80" y="308.16" font-size="7.1" fill="#000" font-weight="bold" >4</text>
<line x1="459.60" y1="394.00" x2="460.80" y2="394.00" stroke="#000" stroke-width="0.6" />
<line x1="459.60" y1="368.65" x2="460.80" y2="368.65" stroke="#000" stroke-width="0.6" />
<line x1="459.60" y1="343.50" x2="460.80" y2="343.50" stroke="#000" stroke-width="0.6" />
<line x1="459.60" y1="318.30" x2="460.80" y2="318.30" stroke="#000" stroke-width="0.6" />
<text transform="translate(254.30,358.00) rotate(-90)" x="0" y="2.99" font-size="8.3" fill="#000" font-weight="bold" text-anchor="middle" textLength="80" lengthAdjust="spacingAndGlyphs" >Concentration (g L<tspan font-size="5.2" dy="-3">-1</tspan><tspan dy="3">)</tspan></text>
<line x1="309.90" y1="315.90" x2="331.60" y2="315.90" stroke="#2a2a2a" stroke-width="0.9" />
<path d="M320.75,313.50 L323.05,317.70 L318.45,317.70 Z" fill="#fff" stroke="#2a2a2a" stroke-width="0.8"/>
<text x="333.40" y="319.00" font-size="8.6" fill="#111" font-weight="bold" >Ni<tspan font-size="5.16" dx="0.52" dy="-3.61">2+</tspan></text>
<line x1="352.00" y1="315.90" x2="374.70" y2="315.90" stroke="#2a2a2a" stroke-width="0.9" />
<path d="M363.35,313.52 L365.73,315.90 L363.35,318.27 L360.98,315.90 Z" fill="#fff" stroke="#2a2a2a" stroke-width="0.8"/>
<text x="377.20" y="319.00" font-size="8.6" fill="#111" font-weight="bold" >Co<tspan font-size="5.16" dx="0.52" dy="-3.61">2+</tspan></text>
<polyline points="270.50,328.27 275.84,333.33 281.19,340.92 286.53,354.83 291.88,370.01 297.22,386.46 302.56,402.15 307.91,404.17 313.25,405.44 318.60,406.19" fill="none" stroke="#4fb0a0" stroke-width="0.6" />
<path d="M270.50,326.13 L272.64,328.27 L270.50,330.41 L268.36,328.27 Z" fill="#d8f0ec" stroke="#4fb0a0" stroke-width="0.6"/>
<path d="M275.84,331.19 L277.98,333.33 L275.84,335.47 L273.71,333.33 Z" fill="#d8f0ec" stroke="#4fb0a0" stroke-width="0.6"/>
<path d="M281.19,338.78 L283.33,340.92 L281.19,343.06 L279.05,340.92 Z" fill="#d8f0ec" stroke="#4fb0a0" stroke-width="0.6"/>
<path d="M286.53,352.70 L288.67,354.83 L286.53,356.97 L284.39,354.83 Z" fill="#d8f0ec" stroke="#4fb0a0" stroke-width="0.6"/>
<path d="M291.88,367.88 L294.01,370.01 L291.88,372.15 L289.74,370.01 Z" fill="#d8f0ec" stroke="#4fb0a0" stroke-width="0.6"/>
<path d="M297.22,384.32 L299.36,386.46 L297.22,388.60 L295.08,386.46 Z" fill="#d8f0ec" stroke="#4fb0a0" stroke-width="0.6"/>
<path d="M302.56,400.01 L304.70,402.15 L302.56,404.28 L300.43,402.15 Z" fill="#d8f0ec" stroke="#4fb0a0" stroke-width="0.6"/>
<path d="M307.91,402.03 L310.05,404.17 L307.91,406.31 L305.77,404.17 Z" fill="#d8f0ec" stroke="#4fb0a0" stroke-width="0.6"/>
<path d="M313.25,403.30 L315.39,405.44 L313.25,407.57 L311.11,405.44 Z" fill="#d8f0ec" stroke="#4fb0a0" stroke-width="0.6"/>
<path d="M318.60,404.06 L320.73,406.19 L318.60,408.33 L316.46,406.19 Z" fill="#d8f0ec" stroke="#4fb0a0" stroke-width="0.6"/>
<polyline points="270.50,323.21 275.84,330.80 281.19,339.65 286.53,354.83 291.88,370.01 297.22,386.46 302.56,402.90 307.91,404.17 313.25,405.44 318.60,406.19" fill="none" stroke="#2f9280" stroke-width="0.6" />
<path d="M270.50,321.13 L272.49,324.77 L268.51,324.77 Z" fill="#9fd6cc" stroke="#2f9280" stroke-width="0.6"/>
<path d="M275.84,328.72 L277.83,332.36 L273.86,332.36 Z" fill="#9fd6cc" stroke="#2f9280" stroke-width="0.6"/>
<line x1="281.19" y1="338.15" x2="281.19" y2="341.15" stroke="#2f9280" stroke-width="0.5" />
<line x1="280.19" y1="338.15" x2="282.19" y2="338.15" stroke="#2f9280" stroke-width="0.5" />
<line x1="280.19" y1="341.15" x2="282.19" y2="341.15" stroke="#2f9280" stroke-width="0.5" />
<path d="M281.19,337.58 L283.17,341.21 L279.20,341.21 Z" fill="#9fd6cc" stroke="#2f9280" stroke-width="0.6"/>
<path d="M286.53,352.76 L288.52,356.39 L284.55,356.39 Z" fill="#9fd6cc" stroke="#2f9280" stroke-width="0.6"/>
<path d="M291.88,367.94 L293.86,371.57 L289.89,371.57 Z" fill="#9fd6cc" stroke="#2f9280" stroke-width="0.6"/>
<path d="M297.22,384.38 L299.21,388.02 L295.23,388.02 Z" fill="#9fd6cc" stroke="#2f9280" stroke-width="0.6"/>
<line x1="302.56" y1="401.40" x2="302.56" y2="404.40" stroke="#2f9280" stroke-width="0.5" />
<line x1="301.56" y1="401.40" x2="303.56" y2="401.40" stroke="#2f9280" stroke-width="0.5" />
<line x1="301.56" y1="404.40" x2="303.56" y2="404.40" stroke="#2f9280" stroke-width="0.5" />
<path d="M302.56,400.83 L304.55,404.46 L300.58,404.46 Z" fill="#9fd6cc" stroke="#2f9280" stroke-width="0.6"/>
<line x1="307.91" y1="402.67" x2="307.91" y2="405.67" stroke="#2f9280" stroke-width="0.5" />
<line x1="306.91" y1="402.67" x2="308.91" y2="402.67" stroke="#2f9280" stroke-width="0.5" />
<line x1="306.91" y1="405.67" x2="308.91" y2="405.67" stroke="#2f9280" stroke-width="0.5" />
<path d="M307.91,402.09 L309.89,405.73 L305.92,405.73 Z" fill="#9fd6cc" stroke="#2f9280" stroke-width="0.6"/>
<path d="M313.25,403.36 L315.24,406.99 L311.27,406.99 Z" fill="#9fd6cc" stroke="#2f9280" stroke-width="0.6"/>
<path d="M318.60,404.12 L320.58,407.75 L316.61,407.75 Z" fill="#9fd6cc" stroke="#2f9280" stroke-width="0.6"/>
<line x1="268.00" y1="409.40" x2="321.00" y2="409.40" stroke="#5ab0a0" stroke-width="0.8" />
<line x1="270.50" y1="409.40" x2="270.50" y2="411.20" stroke="#5ab0a0" stroke-width="0.7" />
<text x="270.50" y="417.14" font-size="6.5" fill="#2f9280" font-weight="bold" text-anchor="middle" >0</text>
<line x1="286.53" y1="409.40" x2="286.53" y2="411.20" stroke="#5ab0a0" stroke-width="0.7" />
<text x="286.53" y="417.14" font-size="6.5" fill="#2f9280" font-weight="bold" text-anchor="middle" >6</text>
<line x1="302.56" y1="409.40" x2="302.56" y2="411.20" stroke="#5ab0a0" stroke-width="0.7" />
<text x="302.56" y="417.14" font-size="6.5" fill="#2f9280" font-weight="bold" text-anchor="middle" >12</text>
<line x1="318.60" y1="409.40" x2="318.60" y2="411.20" stroke="#5ab0a0" stroke-width="0.7" />
<text x="318.60" y="417.14" font-size="6.5" fill="#2f9280" font-weight="bold" text-anchor="middle" >18</text>
<line x1="275.84" y1="409.40" x2="275.84" y2="410.50" stroke="#5ab0a0" stroke-width="0.6" />
<line x1="281.19" y1="409.40" x2="281.19" y2="410.50" stroke="#5ab0a0" stroke-width="0.6" />
<line x1="291.88" y1="409.40" x2="291.88" y2="410.50" stroke="#5ab0a0" stroke-width="0.6" />
<line x1="297.22" y1="409.40" x2="297.22" y2="410.50" stroke="#5ab0a0" stroke-width="0.6" />
<line x1="307.91" y1="409.40" x2="307.91" y2="410.50" stroke="#5ab0a0" stroke-width="0.6" />
<line x1="313.25" y1="409.40" x2="313.25" y2="410.50" stroke="#5ab0a0" stroke-width="0.6" />
<text x="294.70" y="424.25" font-size="6.8" fill="#4aa898" text-anchor="middle" textLength="44" lengthAdjust="spacingAndGlyphs" >Feed chamber</text>
<path d="M290.00,373.50 L276.70,373.50 L276.70,371.55 L270.70,375.30 L276.70,379.05 L276.70,377.10 L290.00,377.10 Z" fill="#2e8b7a" />
<polyline points="336.00,406.70 341.42,400.38 346.84,391.52 352.26,395.31 357.68,400.38 363.10,400.38 368.52,400.38 373.94,400.38 379.36,400.38 384.78,404.17" fill="none" stroke="#52d0c6" stroke-width="0.6" />
<path d="M336.00,404.62 L337.99,408.26 L334.01,408.26 Z" fill="#d8f6f3" stroke="#52d0c6" stroke-width="0.6"/>
<line x1="341.42" y1="398.88" x2="341.42" y2="401.88" stroke="#52d0c6" stroke-width="0.5" />
<line x1="340.42" y1="398.88" x2="342.42" y2="398.88" stroke="#52d0c6" stroke-width="0.5" />
<line x1="340.42" y1="401.88" x2="342.42" y2="401.88" stroke="#52d0c6" stroke-width="0.5" />
<path d="M341.42,398.30 L343.41,401.93 L339.43,401.93 Z" fill="#d8f6f3" stroke="#52d0c6" stroke-width="0.6"/>
<line x1="346.84" y1="389.52" x2="346.84" y2="393.52" stroke="#52d0c6" stroke-width="0.5" />
<line x1="345.84" y1="389.52" x2="347.84" y2="389.52" stroke="#52d0c6" stroke-width="0.5" />
<line x1="345.84" y1="393.52" x2="347.84" y2="393.52" stroke="#52d0c6" stroke-width="0.5" />
<path d="M346.84,389.44 L348.83,393.08 L344.85,393.08 Z" fill="#d8f6f3" stroke="#52d0c6" stroke-width="0.6"/>
<line x1="352.26" y1="393.81" x2="352.26" y2="396.81" stroke="#52d0c6" stroke-width="0.5" />
<line x1="351.26" y1="393.81" x2="353.26" y2="393.81" stroke="#52d0c6" stroke-width="0.5" />
<line x1="351.26" y1="396.81" x2="353.26" y2="396.81" stroke="#52d0c6" stroke-width="0.5" />
<path d="M352.26,393.24 L354.25,396.87 L350.27,396.87 Z" fill="#d8f6f3" stroke="#52d0c6" stroke-width="0.6"/>
<line x1="357.68" y1="398.38" x2="357.68" y2="402.38" stroke="#52d0c6" stroke-width="0.5" />
<line x1="356.68" y1="398.38" x2="358.68" y2="398.38" stroke="#52d0c6" stroke-width="0.5" />
<line x1="356.68" y1="402.38" x2="358.68" y2="402.38" stroke="#52d0c6" stroke-width="0.5" />
<path d="M357.68,398.30 L359.67,401.93 L355.69,401.93 Z" fill="#d8f6f3" stroke="#52d0c6" stroke-width="0.6"/>
<line x1="363.10" y1="398.38" x2="363.10" y2="402.38" stroke="#52d0c6" stroke-width="0.5" />
<line x1="362.10" y1="398.38" x2="364.10" y2="398.38" stroke="#52d0c6" stroke-width="0.5" />
<line x1="362.10" y1="402.38" x2="364.10" y2="402.38" stroke="#52d0c6" stroke-width="0.5" />
<path d="M363.10,398.30 L365.09,401.93 L361.11,401.93 Z" fill="#d8f6f3" stroke="#52d0c6" stroke-width="0.6"/>
<line x1="368.52" y1="398.38" x2="368.52" y2="402.38" stroke="#52d0c6" stroke-width="0.5" />
<line x1="367.52" y1="398.38" x2="369.52" y2="398.38" stroke="#52d0c6" stroke-width="0.5" />
<line x1="367.52" y1="402.38" x2="369.52" y2="402.38" stroke="#52d0c6" stroke-width="0.5" />
<path d="M368.52,398.30 L370.51,401.93 L366.53,401.93 Z" fill="#d8f6f3" stroke="#52d0c6" stroke-width="0.6"/>
<line x1="373.94" y1="398.38" x2="373.94" y2="402.38" stroke="#52d0c6" stroke-width="0.5" />
<line x1="372.94" y1="398.38" x2="374.94" y2="398.38" stroke="#52d0c6" stroke-width="0.5" />
<line x1="372.94" y1="402.38" x2="374.94" y2="402.38" stroke="#52d0c6" stroke-width="0.5" />
<path d="M373.94,398.30 L375.93,401.93 L371.95,401.93 Z" fill="#d8f6f3" stroke="#52d0c6" stroke-width="0.6"/>
<line x1="379.36" y1="398.38" x2="379.36" y2="402.38" stroke="#52d0c6" stroke-width="0.5" />
<line x1="378.36" y1="398.38" x2="380.36" y2="398.38" stroke="#52d0c6" stroke-width="0.5" />
<line x1="378.36" y1="402.38" x2="380.36" y2="402.38" stroke="#52d0c6" stroke-width="0.5" />
<path d="M379.36,398.30 L381.35,401.93 L377.37,401.93 Z" fill="#d8f6f3" stroke="#52d0c6" stroke-width="0.6"/>
<line x1="384.78" y1="402.67" x2="384.78" y2="405.67" stroke="#52d0c6" stroke-width="0.5" />
<line x1="383.78" y1="402.67" x2="385.78" y2="402.67" stroke="#52d0c6" stroke-width="0.5" />
<line x1="383.78" y1="405.67" x2="385.78" y2="405.67" stroke="#52d0c6" stroke-width="0.5" />
<path d="M384.78,402.09 L386.77,405.73 L382.79,405.73 Z" fill="#d8f6f3" stroke="#52d0c6" stroke-width="0.6"/>
<polyline points="336.00,406.70 341.42,399.11 346.84,392.78 352.26,380.13 357.68,364.95 363.10,348.51 368.52,333.33 373.94,356.10 379.36,380.13 384.78,402.90" fill="none" stroke="#52d0c6" stroke-width="0.6" />
<path d="M336.00,404.56 L338.14,406.70 L336.00,408.84 L333.86,406.70 Z" fill="#d8f6f3" stroke="#52d0c6" stroke-width="0.6"/>
<path d="M341.42,396.97 L343.56,399.11 L341.42,401.25 L339.28,399.11 Z" fill="#d8f6f3" stroke="#52d0c6" stroke-width="0.6"/>
<path d="M346.84,390.65 L348.98,392.78 L346.84,394.92 L344.70,392.78 Z" fill="#d8f6f3" stroke="#52d0c6" stroke-width="0.6"/>
<path d="M352.26,378.00 L354.40,380.13 L352.26,382.27 L350.12,380.13 Z" fill="#d8f6f3" stroke="#52d0c6" stroke-width="0.6"/>
<path d="M357.68,362.82 L359.82,364.95 L357.68,367.09 L355.54,364.95 Z" fill="#d8f6f3" stroke="#52d0c6" stroke-width="0.6"/>
<path d="M363.10,346.37 L365.24,348.51 L363.10,350.65 L360.96,348.51 Z" fill="#d8f6f3" stroke="#52d0c6" stroke-width="0.6"/>
<line x1="368.52" y1="331.53" x2="368.52" y2="335.13" stroke="#52d0c6" stroke-width="0.5" />
<line x1="367.52" y1="331.53" x2="369.52" y2="331.53" stroke="#52d0c6" stroke-width="0.5" />
<line x1="367.52" y1="335.13" x2="369.52" y2="335.13" stroke="#52d0c6" stroke-width="0.5" />
<path d="M368.52,331.19 L370.66,333.33 L368.52,335.47 L366.38,333.33 Z" fill="#d8f6f3" stroke="#52d0c6" stroke-width="0.6"/>
<path d="M373.94,353.96 L376.08,356.10 L373.94,358.24 L371.80,356.10 Z" fill="#d8f6f3" stroke="#52d0c6" stroke-width="0.6"/>
<path d="M379.36,378.00 L381.50,380.13 L379.36,382.27 L377.22,380.13 Z" fill="#d8f6f3" stroke="#52d0c6" stroke-width="0.6"/>
<path d="M384.78,400.77 L386.92,402.90 L384.78,405.04 L382.64,402.90 Z" fill="#d8f6f3" stroke="#52d0c6" stroke-width="0.6"/>
<line x1="334.00" y1="409.40" x2="387.50" y2="409.40" stroke="#7adcd4" stroke-width="0.8" />
<line x1="336.00" y1="409.40" x2="336.00" y2="411.20" stroke="#7adcd4" stroke-width="0.7" />
<text x="336.00" y="417.14" font-size="6.5" fill="#3cc0b4" font-weight="bold" text-anchor="middle" >0</text>
<line x1="352.26" y1="409.40" x2="352.26" y2="411.20" stroke="#7adcd4" stroke-width="0.7" />
<text x="352.26" y="417.14" font-size="6.5" fill="#3cc0b4" font-weight="bold" text-anchor="middle" >6</text>
<line x1="368.52" y1="409.40" x2="368.52" y2="411.20" stroke="#7adcd4" stroke-width="0.7" />
<text x="368.52" y="417.14" font-size="6.5" fill="#3cc0b4" font-weight="bold" text-anchor="middle" >12</text>
<line x1="384.78" y1="409.40" x2="384.78" y2="411.20" stroke="#7adcd4" stroke-width="0.7" />
<text x="384.78" y="417.14" font-size="6.5" fill="#3cc0b4" font-weight="bold" text-anchor="middle" >18</text>
<line x1="341.42" y1="409.40" x2="341.42" y2="410.50" stroke="#7adcd4" stroke-width="0.6" />
<line x1="346.84" y1="409.40" x2="346.84" y2="410.50" stroke="#7adcd4" stroke-width="0.6" />
<line x1="357.68" y1="409.40" x2="357.68" y2="410.50" stroke="#7adcd4" stroke-width="0.6" />
<line x1="363.10" y1="409.40" x2="363.10" y2="410.50" stroke="#7adcd4" stroke-width="0.6" />
<line x1="373.94" y1="409.40" x2="373.94" y2="410.50" stroke="#7adcd4" stroke-width="0.6" />
<line x1="379.36" y1="409.40" x2="379.36" y2="410.50" stroke="#7adcd4" stroke-width="0.6" />
<text x="359.50" y="424.25" font-size="6.8" fill="#5cc8c0" text-anchor="middle" textLength="68.3" lengthAdjust="spacingAndGlyphs" >Co extraction chamber</text>
<path d="M350.20,373.50 L335.90,373.50 L335.90,371.55 L329.90,375.30 L335.90,379.05 L335.90,377.10 L350.20,377.10 Z" fill="#66e6e2" />
<polyline points="405.40,406.19 410.71,406.19 416.02,405.94 421.34,405.94 426.65,405.69 431.96,405.44 437.27,404.93 442.58,380.13 447.90,356.10 453.21,330.80" fill="none" stroke="#47ad47" stroke-width="0.6" />
<path d="M405.40,404.06 L407.54,406.19 L405.40,408.33 L403.26,406.19 Z" fill="#d8f2d4" stroke="#47ad47" stroke-width="0.6"/>
<path d="M410.71,404.06 L412.85,406.19 L410.71,408.33 L408.57,406.19 Z" fill="#d8f2d4" stroke="#47ad47" stroke-width="0.6"/>
<path d="M416.02,403.80 L418.16,405.94 L416.02,408.08 L413.89,405.94 Z" fill="#d8f2d4" stroke="#47ad47" stroke-width="0.6"/>
<path d="M421.34,403.80 L423.47,405.94 L421.34,408.08 L419.20,405.94 Z" fill="#d8f2d4" stroke="#47ad47" stroke-width="0.6"/>
<path d="M426.65,403.55 L428.79,405.69 L426.65,407.83 L424.51,405.69 Z" fill="#d8f2d4" stroke="#47ad47" stroke-width="0.6"/>
<path d="M431.96,403.30 L434.10,405.44 L431.96,407.57 L429.82,405.44 Z" fill="#d8f2d4" stroke="#47ad47" stroke-width="0.6"/>
<path d="M437.27,402.79 L439.41,404.93 L437.27,407.07 L435.13,404.93 Z" fill="#d8f2d4" stroke="#47ad47" stroke-width="0.6"/>
<path d="M442.58,378.00 L444.72,380.13 L442.58,382.27 L440.45,380.13 Z" fill="#d8f2d4" stroke="#47ad47" stroke-width="0.6"/>
<path d="M447.90,353.96 L450.03,356.10 L447.90,358.24 L445.76,356.10 Z" fill="#d8f2d4" stroke="#47ad47" stroke-width="0.6"/>
<path d="M453.21,328.66 L455.35,330.80 L453.21,332.94 L451.07,330.80 Z" fill="#d8f2d4" stroke="#47ad47" stroke-width="0.6"/>
<polyline points="405.40,406.70 410.71,405.44 416.02,404.17 421.34,385.19 426.65,366.22 431.96,349.77 437.27,339.65 442.58,332.06 447.90,330.80 453.21,329.53" fill="none" stroke="#47ad47" stroke-width="0.6" />
<path d="M405.40,404.62 L407.39,408.26 L403.41,408.26 Z" fill="#d8f2d4" stroke="#47ad47" stroke-width="0.6"/>
<path d="M410.71,403.36 L412.70,406.99 L408.73,406.99 Z" fill="#d8f2d4" stroke="#47ad47" stroke-width="0.6"/>
<path d="M416.02,402.09 L418.01,405.73 L414.04,405.73 Z" fill="#d8f2d4" stroke="#47ad47" stroke-width="0.6"/>
<path d="M421.34,383.12 L423.32,386.75 L419.35,386.75 Z" fill="#d8f2d4" stroke="#47ad47" stroke-width="0.6"/>
<path d="M426.65,364.14 L428.63,367.78 L424.66,367.78 Z" fill="#d8f2d4" stroke="#47ad47" stroke-width="0.6"/>
<path d="M431.96,347.70 L433.95,351.33 L429.97,351.33 Z" fill="#d8f2d4" stroke="#47ad47" stroke-width="0.6"/>
<line x1="437.27" y1="338.15" x2="437.27" y2="341.15" stroke="#47ad47" stroke-width="0.5" />
<line x1="436.27" y1="338.15" x2="438.27" y2="338.15" stroke="#47ad47" stroke-width="0.5" />
<line x1="436.27" y1="341.15" x2="438.27" y2="341.15" stroke="#47ad47" stroke-width="0.5" />
<path d="M437.27,337.58 L439.26,341.21 L435.29,341.21 Z" fill="#d8f2d4" stroke="#47ad47" stroke-width="0.6"/>
<line x1="442.58" y1="330.56" x2="442.58" y2="333.56" stroke="#47ad47" stroke-width="0.5" />
<line x1="441.58" y1="330.56" x2="443.58" y2="330.56" stroke="#47ad47" stroke-width="0.5" />
<line x1="441.58" y1="333.56" x2="443.58" y2="333.56" stroke="#47ad47" stroke-width="0.5" />
<path d="M442.58,329.99 L444.57,333.62 L440.60,333.62 Z" fill="#d8f2d4" stroke="#47ad47" stroke-width="0.6"/>
<line x1="447.90" y1="329.30" x2="447.90" y2="332.30" stroke="#47ad47" stroke-width="0.5" />
<line x1="446.90" y1="329.30" x2="448.90" y2="329.30" stroke="#47ad47" stroke-width="0.5" />
<line x1="446.90" y1="332.30" x2="448.90" y2="332.30" stroke="#47ad47" stroke-width="0.5" />
<path d="M447.90,328.72 L449.88,332.36 L445.91,332.36 Z" fill="#d8f2d4" stroke="#47ad47" stroke-width="0.6"/>
<line x1="453.21" y1="327.53" x2="453.21" y2="331.53" stroke="#47ad47" stroke-width="0.5" />
<line x1="452.21" y1="327.53" x2="454.21" y2="327.53" stroke="#47ad47" stroke-width="0.5" />
<line x1="452.21" y1="331.53" x2="454.21" y2="331.53" stroke="#47ad47" stroke-width="0.5" />
<path d="M453.21,327.46 L455.19,331.09 L451.22,331.09 Z" fill="#d8f2d4" stroke="#47ad47" stroke-width="0.6"/>
<line x1="403.00" y1="409.40" x2="456.50" y2="409.40" stroke="#5cb85c" stroke-width="0.8" />
<line x1="405.40" y1="409.40" x2="405.40" y2="411.20" stroke="#5cb85c" stroke-width="0.7" />
<text x="405.40" y="417.14" font-size="6.5" fill="#3a9a3a" font-weight="bold" text-anchor="middle" >0</text>
<line x1="421.34" y1="409.40" x2="421.34" y2="411.20" stroke="#5cb85c" stroke-width="0.7" />
<text x="421.34" y="417.14" font-size="6.5" fill="#3a9a3a" font-weight="bold" text-anchor="middle" >6</text>
<line x1="437.27" y1="409.40" x2="437.27" y2="411.20" stroke="#5cb85c" stroke-width="0.7" />
<text x="437.27" y="417.14" font-size="6.5" fill="#3a9a3a" font-weight="bold" text-anchor="middle" >12</text>
<line x1="453.21" y1="409.40" x2="453.21" y2="411.20" stroke="#5cb85c" stroke-width="0.7" />
<text x="453.21" y="417.14" font-size="6.5" fill="#3a9a3a" font-weight="bold" text-anchor="middle" >18</text>
<line x1="410.71" y1="409.40" x2="410.71" y2="410.50" stroke="#5cb85c" stroke-width="0.6" />
<line x1="416.02" y1="409.40" x2="416.02" y2="410.50" stroke="#5cb85c" stroke-width="0.6" />
<line x1="426.65" y1="409.40" x2="426.65" y2="410.50" stroke="#5cb85c" stroke-width="0.6" />
<line x1="431.96" y1="409.40" x2="431.96" y2="410.50" stroke="#5cb85c" stroke-width="0.6" />
<line x1="442.58" y1="409.40" x2="442.58" y2="410.50" stroke="#5cb85c" stroke-width="0.6" />
<line x1="447.90" y1="409.40" x2="447.90" y2="410.50" stroke="#5cb85c" stroke-width="0.6" />
<text x="428.50" y="424.25" font-size="6.8" fill="#4aae4a" text-anchor="middle" textLength="57" lengthAdjust="spacingAndGlyphs" >Recovery chamber</text>
<path d="M425.80,373.20 L439.80,373.20 L439.80,371.25 L445.80,375.00 L439.80,378.75 L439.80,376.80 L425.80,376.80 Z" fill="#3cb455" />
<text x="357.40" y="436.46" font-size="8.5" fill="#000" font-weight="bold" text-anchor="middle" textLength="69" lengthAdjust="spacingAndGlyphs" >Operation time (h)</text>
<text x="487.50" y="300.98" font-size="13" fill="#000" font-weight="bold" >j</text>
<line x1="508.40" y1="303.30" x2="660.60" y2="303.30" stroke="#333" stroke-width="1.0" />
<line x1="508.90" y1="302.90" x2="508.90" y2="416.50" stroke="#333" stroke-width="1.0" />
<line x1="660.20" y1="303.40" x2="660.20" y2="416.50" stroke="#333" stroke-width="1.0" />
<line x1="506.90" y1="411.00" x2="508.90" y2="411.00" stroke="#000" stroke-width="0.7" />
<text x="505.20" y="413.34" font-size="6.5" fill="#000" font-weight="bold" text-anchor="end" >0</text>
<line x1="506.90" y1="390.50" x2="508.90" y2="390.50" stroke="#000" stroke-width="0.7" />
<text x="505.20" y="392.84" font-size="6.5" fill="#000" font-weight="bold" text-anchor="end" >20</text>
<line x1="506.90" y1="370.10" x2="508.90" y2="370.10" stroke="#000" stroke-width="0.7" />
<text x="505.20" y="372.44" font-size="6.5" fill="#000" font-weight="bold" text-anchor="end" >40</text>
<line x1="506.90" y1="349.70" x2="508.90" y2="349.70" stroke="#000" stroke-width="0.7" />
<text x="505.20" y="352.04" font-size="6.5" fill="#000" font-weight="bold" text-anchor="end" >60</text>
<line x1="506.90" y1="329.30" x2="508.90" y2="329.30" stroke="#000" stroke-width="0.7" />
<text x="505.20" y="331.64" font-size="6.5" fill="#000" font-weight="bold" text-anchor="end" >80</text>
<line x1="506.90" y1="308.60" x2="508.90" y2="308.60" stroke="#000" stroke-width="0.7" />
<text x="505.20" y="310.94" font-size="6.5" fill="#000" font-weight="bold" text-anchor="end" >100</text>
<line x1="507.70" y1="400.75" x2="508.90" y2="400.75" stroke="#000" stroke-width="0.6" />
<line x1="507.70" y1="380.30" x2="508.90" y2="380.30" stroke="#000" stroke-width="0.6" />
<line x1="507.70" y1="359.90" x2="508.90" y2="359.90" stroke="#000" stroke-width="0.6" />
<line x1="507.70" y1="339.50" x2="508.90" y2="339.50" stroke="#000" stroke-width="0.6" />
<line x1="507.70" y1="318.95" x2="508.90" y2="318.95" stroke="#000" stroke-width="0.6" />
<line x1="660.20" y1="411.00" x2="662.20" y2="411.00" stroke="#000" stroke-width="0.7" />
<text x="663.20" y="413.34" font-size="6.5" fill="#000" font-weight="bold" >0</text>
<line x1="660.20" y1="390.50" x2="662.20" y2="390.50" stroke="#000" stroke-width="0.7" />
<text x="663.20" y="392.84" font-size="6.5" fill="#000" font-weight="bold" >20</text>
<line x1="660.20" y1="370.10" x2="662.20" y2="370.10" stroke="#000" stroke-width="0.7" />
<text x="663.20" y="372.44" font-size="6.5" fill="#000" font-weight="bold" >40</text>
<line x1="660.20" y1="349.70" x2="662.20" y2="349.70" stroke="#000" stroke-width="0.7" />
<text x="663.20" y="352.04" font-size="6.5" fill="#000" font-weight="bold" >60</text>
<line x1="660.20" y1="329.30" x2="662.20" y2="329.30" stroke="#000" stroke-width="0.7" />
<text x="663.20" y="331.64" font-size="6.5" fill="#000" font-weight="bold" >80</text>
<line x1="660.20" y1="308.60" x2="662.20" y2="308.60" stroke="#000" stroke-width="0.7" />
<text x="663.20" y="310.94" font-size="6.5" fill="#000" font-weight="bold" >100</text>
<line x1="660.20" y1="400.75" x2="661.40" y2="400.75" stroke="#000" stroke-width="0.6" />
<line x1="660.20" y1="380.30" x2="661.40" y2="380.30" stroke="#000" stroke-width="0.6" />
<line x1="660.20" y1="359.90" x2="661.40" y2="359.90" stroke="#000" stroke-width="0.6" />
<line x1="660.20" y1="339.50" x2="661.40" y2="339.50" stroke="#000" stroke-width="0.6" />
<line x1="660.20" y1="318.95" x2="661.40" y2="318.95" stroke="#000" stroke-width="0.6" />
<text transform="translate(491.70,362.50) rotate(-90)" x="0" y="3.10" font-size="8.6" fill="#000" font-weight="bold" text-anchor="middle" textLength="75" lengthAdjust="spacingAndGlyphs" >Recovery rate (%)</text>
<text transform="translate(678.60,357.00) rotate(-90)" x="0" y="3.10" font-size="8.6" fill="#000" font-weight="bold" text-anchor="middle" textLength="88.8" lengthAdjust="spacingAndGlyphs" >Purity of crystal (%)</text>
<line x1="515.70" y1="416.10" x2="582.60" y2="416.10" stroke="#c07a7a" stroke-width="1.1" />
<line x1="588.40" y1="416.10" x2="632.50" y2="416.10" stroke="#5cc05c" stroke-width="1.1" />
<line x1="632.50" y1="416.10" x2="654.10" y2="416.10" stroke="#e860b8" stroke-width="1.1" />
<line x1="515.70" y1="416.10" x2="515.70" y2="418.30" stroke="#c07a7a" stroke-width="0.8" />
<line x1="548.90" y1="416.10" x2="548.90" y2="418.30" stroke="#c07a7a" stroke-width="0.8" />
<line x1="582.60" y1="416.10" x2="582.60" y2="418.30" stroke="#c07a7a" stroke-width="0.8" />
<line x1="589.60" y1="416.10" x2="589.60" y2="418.30" stroke="#5cc05c" stroke-width="0.8" />
<line x1="610.80" y1="416.10" x2="610.80" y2="418.30" stroke="#5cc05c" stroke-width="0.8" />
<line x1="632.50" y1="416.10" x2="632.50" y2="418.30" stroke="#5cc05c" stroke-width="0.8" />
<line x1="654.10" y1="416.10" x2="654.10" y2="418.30" stroke="#e860b8" stroke-width="0.8" />
<text x="515.70" y="425.20" font-size="6.4" fill="#000" font-weight="bold" text-anchor="middle" >0</text>
<text x="548.90" y="425.20" font-size="6.4" fill="#000" font-weight="bold" text-anchor="middle" >5</text>
<text x="581.30" y="425.20" font-size="6.4" fill="#000" font-weight="bold" text-anchor="middle" >10</text>
<text x="590.20" y="425.20" font-size="6.4" fill="#000" font-weight="bold" text-anchor="middle" >0</text>
<text x="610.80" y="425.20" font-size="6.4" fill="#000" font-weight="bold" text-anchor="middle" >6</text>
<text x="632.50" y="425.20" font-size="6.4" fill="#000" font-weight="bold" text-anchor="middle" >12</text>
<text x="654.10" y="425.20" font-size="6.4" fill="#000" font-weight="bold" text-anchor="middle" >18</text>
<text x="583.70" y="434.27" font-size="8.8" fill="#000" font-weight="bold" text-anchor="middle" textLength="75.8" lengthAdjust="spacingAndGlyphs" >Operation time (h)</text>
<line x1="582.80" y1="314.00" x2="582.80" y2="415.50" stroke="#d0a0b0" stroke-width="0.6" stroke-dasharray="1.5,1.5"/>
<line x1="632.20" y1="331.00" x2="632.20" y2="415.50" stroke="#a0d8c0" stroke-width="0.6" stroke-dasharray="1.5,1.5"/>
<line x1="653.80" y1="321.00" x2="653.80" y2="415.50" stroke="#e8a8c8" stroke-width="0.6" stroke-dasharray="1.5,1.5"/>
<circle cx="582.8" cy="312.2" r="2.7" fill="#fff" stroke="#8a4a2a" stroke-width="0.7"/>
<circle cx="582.8" cy="308.5" r="2.7" fill="#8a4218"/>
<path d="M587.30,307.40 L596.00,307.40 L596.00,306.00 L600.00,308.50 L596.00,311.00 L596.00,309.60 L587.30,309.60 Z" fill="#8a1a1a" />
<path d="M577.00,311.30 L568.50,311.30 L568.50,309.70 L564.50,312.50 L568.50,315.30 L568.50,313.70 L577.00,313.70 Z" fill="#fff" stroke="#8a5a4a" stroke-width="0.7"/>
<text x="562.40" y="324.44" font-size="7.6" fill="#8a5a48" text-anchor="middle" >Mn<tspan font-size="4.56" dx="0.46" dy="-3.19">2+</tspan></text>
<text x="538.90" y="359.66" font-size="7.4" fill="#8a5a48" text-anchor="middle" textLength="21.5" lengthAdjust="spacingAndGlyphs" >Mn<tspan font-size="5.0" dy="1.8">3</tspan><tspan dy="-1.8">O</tspan><tspan font-size="5.0" dy="1.8">4</tspan></text>
<path d="M536.2,351.2 Q546,312 572.5,306.3" fill="none" stroke="#8a6a5a" stroke-width="0.5"/>
<path d="M574.5,306 L571.3,304.8 L571.8,307.5 Z" fill="#8a6a5a"/>
<circle cx="632.2" cy="327.8" r="2.9" fill="#fff" stroke="#3cbf5c" stroke-width="0.7"/>
<circle cx="632.2" cy="309.3" r="2.9" fill="#3cbf5c"/>
<path d="M637.30,308.20 L644.50,308.20 L644.50,306.80 L648.50,309.30 L644.50,311.80 L644.50,310.40 L637.30,310.40 Z" fill="#3a9a2a" />
<path d="M627.30,326.60 L618.20,326.60 L618.20,325.00 L614.20,327.80 L618.20,330.60 L618.20,329.00 L627.30,329.00 Z" fill="#fff" stroke="#3cbf5c" stroke-width="0.7"/>
<text x="615.30" y="339.26" font-size="7.4" fill="#3cbf5c" text-anchor="middle" >Ni<tspan font-size="4.44" dx="0.44" dy="-3.11">2+</tspan></text>
<text x="599.10" y="361.86" font-size="7.4" fill="#3cbf5c" text-anchor="middle" textLength="25.8" lengthAdjust="spacingAndGlyphs" >Ni(OH)<tspan font-size="5.0" dy="1.8">2</tspan></text>
<path d="M597,351.2 Q605,318 625.8,309.6" fill="none" stroke="#3cbf5c" stroke-width="0.5"/>
<path d="M627.5,309.2 L624.3,308.2 L624.9,310.9 Z" fill="#3cbf5c"/>
<circle cx="653.6" cy="313.7" r="2.9" fill="#fff" stroke="#e850b0" stroke-width="0.8"/>
<circle cx="653.6" cy="317.6" r="3.3" fill="#e850b0"/>
<path d="M657.00,316.70 L659.00,316.70 L659.00,315.40 L662.00,317.60 L659.00,319.80 L659.00,318.50 L657.00,318.50 Z" fill="#e850b0" />
<path d="M651.40,312.80 L642.30,312.80 L642.30,311.20 L638.30,314.00 L642.30,316.80 L642.30,315.20 L651.40,315.20 Z" fill="#fff" stroke="#e850b0" stroke-width="0.7"/>
<text x="629.50" y="319.86" font-size="7.4" fill="#e850b0" text-anchor="middle" >Co<tspan font-size="4.44" dx="0.44" dy="-3.11">2+</tspan></text>
<text x="646.10" y="345.86" font-size="7.4" fill="#e850b0" text-anchor="middle" textLength="28.2" lengthAdjust="spacingAndGlyphs" >Co(OH)<tspan font-size="5.0" dy="1.8">2</tspan></text>
<line x1="643.40" y1="336.60" x2="651.00" y2="321.00" stroke="#e850b0" stroke-width="0.5" />
<text x="7.20" y="454.58" font-size="13" fill="#000" font-weight="bold" >k</text>
<rect x="32.50" y="451.10" width="136.90" height="110.70" fill="none" stroke="#333" stroke-width="1.0"/>
<line x1="32.50" y1="487.40" x2="168.90" y2="487.40" stroke="#333" stroke-width="1.0" />
<line x1="32.50" y1="525.30" x2="168.90" y2="525.30" stroke="#333" stroke-width="1.0" />
<line x1="32.50" y1="561.80" x2="32.50" y2="563.80" stroke="#333" stroke-width="0.7" />
<text x="32.50" y="571.54" font-size="6.5" fill="#000" font-weight="bold" text-anchor="middle" >1200</text>
<line x1="66.60" y1="561.80" x2="66.60" y2="563.80" stroke="#333" stroke-width="0.7" />
<text x="66.60" y="571.54" font-size="6.5" fill="#000" font-weight="bold" text-anchor="middle" >900</text>
<line x1="100.70" y1="561.80" x2="100.70" y2="563.80" stroke="#333" stroke-width="0.7" />
<text x="100.70" y="571.54" font-size="6.5" fill="#000" font-weight="bold" text-anchor="middle" >600</text>
<line x1="134.80" y1="561.80" x2="134.80" y2="563.80" stroke="#333" stroke-width="0.7" />
<text x="134.80" y="571.54" font-size="6.5" fill="#000" font-weight="bold" text-anchor="middle" >300</text>
<line x1="168.90" y1="561.80" x2="168.90" y2="563.80" stroke="#333" stroke-width="0.7" />
<text x="168.90" y="571.54" font-size="6.5" fill="#000" font-weight="bold" text-anchor="middle" >0</text>
<line x1="49.55" y1="561.80" x2="49.55" y2="563.00" stroke="#333" stroke-width="0.6" />
<line x1="83.65" y1="561.80" x2="83.65" y2="563.00" stroke="#333" stroke-width="0.6" />
<line x1="117.75" y1="561.80" x2="117.75" y2="563.00" stroke="#333" stroke-width="0.6" />
<line x1="151.85" y1="561.80" x2="151.85" y2="563.00" stroke="#333" stroke-width="0.6" />
<text x="101.00" y="579.34" font-size="7.9" fill="#000" font-weight="bold" text-anchor="middle" textLength="73.6" lengthAdjust="spacingAndGlyphs" >Binding energy (eV)</text>
<text transform="translate(22.30,506.50) rotate(-90)" x="0" y="2.84" font-size="7.9" fill="#000" font-weight="bold" text-anchor="middle" textLength="62.8" lengthAdjust="spacingAndGlyphs" >Intensity (arb. u.)</text>
<line x1="108.80" y1="488.00" x2="108.80" y2="561.00" stroke="#aaa" stroke-width="0.5" stroke-dasharray="1,1.2"/>
<line x1="137.20" y1="488.00" x2="137.20" y2="561.00" stroke="#aaa" stroke-width="0.5" stroke-dasharray="1,1.2"/>
<polyline points="32.80,482.47 33.30,483.07 33.80,482.95 34.30,482.46 34.80,482.63 35.30,482.55 35.80,482.69 36.30,482.77 36.80,482.10 37.30,482.00 37.80,482.69 38.30,482.28 38.80,482.54 39.30,481.81 39.80,482.17 40.30,482.38 40.80,481.89 41.30,482.50 41.80,482.42 42.30,481.59 42.80,481.55 43.30,481.97 43.80,482.29 44.30,481.74 44.80,481.55 45.30,481.70 45.80,481.30 46.30,481.43 46.80,481.59 47.30,481.60 47.80,481.32 48.30,481.28 48.80,481.22 49.30,481.40 49.80,481.21 50.30,480.92 50.80,481.62 51.30,481.32 51.80,481.36 52.30,480.91 52.80,481.59 53.30,481.43 53.80,480.72 54.30,480.87 54.80,481.18 55.30,481.13 55.80,481.29 56.30,480.79 56.80,481.11 57.30,481.13 57.80,481.10 58.30,481.66 58.80,482.22 59.30,482.31 59.80,481.99 60.30,482.05 60.80,481.54 61.30,481.72 61.80,482.21 62.30,481.85 62.80,481.62 63.30,481.95 63.80,482.08 64.30,482.04 64.80,481.76 65.30,481.81 65.80,481.86 66.30,482.09 66.80,481.85 67.30,481.72 67.80,481.80 68.30,481.38 68.80,481.38 69.30,481.96 69.80,482.20 70.30,481.84 70.80,481.65 71.30,481.44 71.80,481.73 72.30,482.15 72.80,481.95 73.30,481.73 73.80,482.00 74.30,481.43 74.80,481.67 75.30,482.05 75.80,481.71 76.30,481.59 76.80,481.41 77.30,481.65 77.80,482.00 78.30,481.14 78.80,481.83 79.30,481.85 79.80,481.90 80.30,481.76 80.80,481.81 81.30,481.53 81.80,481.56 82.30,481.43 82.80,481.09 83.30,481.81 83.80,481.53 84.30,481.18 84.80,481.45 85.30,481.42 85.80,481.29 86.30,481.27 86.80,481.43 87.30,481.50 87.80,481.48 88.30,481.33 88.80,480.93 89.30,481.10 89.80,481.04 90.30,481.40 90.80,481.64 91.30,481.57 91.80,481.56 92.30,481.56 92.80,481.05 93.30,481.57 93.80,481.40 94.30,480.86 94.80,480.79 95.30,480.78 95.80,481.43 96.05,480.98 96.30,480.87 96.50,479.04 96.80,481.13 96.95,480.89 97.30,481.00 97.80,481.37 98.30,481.09 98.80,481.23 99.30,481.67 99.80,481.48 100.30,481.40 100.80,481.58 101.30,481.21 101.80,481.58 102.30,481.65 102.80,481.49 103.30,481.46 103.80,482.21 104.30,481.90 104.80,481.67 105.30,482.07 105.80,482.30 106.30,481.63 106.80,481.67 107.30,481.82 107.80,482.38 108.25,482.21 108.30,482.76 108.70,475.57 108.80,483.24 109.15,483.39 109.30,484.12 109.80,483.93 110.30,483.65 110.80,483.36 111.30,483.71 111.80,483.46 112.30,483.59 112.80,483.34 113.30,483.59 113.80,483.04 114.30,483.23 114.80,483.80 115.30,483.69 115.80,483.15 116.30,483.62 116.80,483.10 117.30,483.64 117.80,483.43 118.30,483.11 118.80,482.93 119.30,482.69 119.80,483.44 120.30,482.66 120.80,483.33 121.30,483.43 121.80,483.05 122.30,482.66 122.80,483.26 123.30,483.33 123.80,483.06 124.30,482.85 124.80,482.71 125.30,482.65 125.80,482.50 126.30,482.89 126.80,482.64 127.30,482.40 127.80,482.29 128.30,482.77 128.80,482.41 129.30,482.56 129.80,482.38 130.30,482.84 130.80,482.84 131.30,482.02 131.80,482.15 132.30,482.24 132.80,482.80 133.30,482.59 133.80,482.16 134.30,482.02 134.80,482.41 135.30,482.53 135.80,482.75 136.30,483.04 136.65,484.09 136.80,484.16 137.10,468.98 137.30,485.25 137.55,484.98 137.80,485.50 138.30,484.93 138.80,485.01 139.30,485.69 139.80,485.06 140.30,485.56 140.80,485.42 141.30,485.64 141.80,485.22 142.30,485.20 142.80,485.16 143.30,485.69 143.80,485.45 144.30,485.77 144.80,485.72 145.30,485.05 145.80,485.43 146.30,485.03 146.80,484.97 147.30,485.01 147.80,485.73 148.30,485.66 148.80,485.70 149.30,485.27 149.80,485.52 150.30,485.68 150.80,485.32 151.30,485.50 151.80,485.19 152.30,485.07 152.80,485.24 153.30,485.80 153.80,485.51 154.30,485.84 154.80,485.43 155.30,485.27 155.80,485.73 156.30,485.78 156.80,485.05 157.30,485.64 157.80,485.13 158.30,485.15 158.80,485.85 159.30,485.10 159.80,485.28 160.30,485.96 160.80,485.45 161.30,485.18 161.80,485.23 162.30,485.31 162.80,485.76 163.30,485.19 163.80,485.92 164.30,485.45 164.80,485.99 165.30,485.94 165.80,485.39 166.30,485.36 166.80,485.56 167.30,485.23 167.80,485.73 168.30,485.18" fill="none" stroke="#7a4a26" stroke-width="0.8" stroke-linejoin="round"/>
<polyline points="32.80,518.91 33.30,518.84 33.80,517.97 34.30,517.93 34.80,518.55 35.30,518.39 35.80,518.27 36.30,517.88 36.80,518.08 37.30,518.02 37.80,517.93 38.30,517.49 38.80,517.67 39.30,517.57 39.80,517.80 40.30,517.98 40.80,517.88 41.30,517.45 41.80,517.30 42.30,517.07 42.80,516.80 43.30,516.73 43.80,517.06 44.30,516.86 44.80,516.85 45.30,517.25 45.80,516.86 46.30,516.83 46.80,516.47 47.30,516.21 47.80,516.42 48.30,516.19 48.80,516.46 49.30,516.84 49.80,516.48 50.30,515.97 50.80,516.55 51.30,516.40 51.80,516.28 52.30,516.37 52.80,516.17 53.30,516.13 53.80,515.68 54.30,516.18 54.80,516.10 55.30,515.31 55.80,515.78 56.30,515.68 56.80,515.39 57.30,515.42 57.80,515.36 58.30,515.73 58.80,515.33 59.30,515.61 59.80,515.17 60.30,515.62 60.80,515.62 61.30,515.21 61.80,515.28 62.30,515.58 62.80,515.39 63.30,515.16 63.80,514.90 64.30,514.97 64.80,515.29 65.30,514.79 65.80,515.44 66.30,514.85 66.80,515.41 67.30,514.85 67.80,515.41 68.30,515.17 68.80,514.97 69.30,514.96 69.80,515.06 70.30,514.99 70.80,514.72 71.30,514.61 71.80,514.87 72.30,515.23 72.80,514.93 73.30,514.42 73.80,515.07 74.30,514.97 74.80,515.11 75.30,514.45 75.80,514.93 76.30,514.29 76.80,514.81 77.30,514.45 77.80,514.39 78.30,514.95 78.80,514.38 79.30,515.45 79.35,515.82 79.80,513.63 80.25,516.49 80.30,517.16 80.35,516.82 80.80,514.51 81.25,517.72 81.30,518.08 81.80,518.60 82.30,519.07 82.80,518.55 83.30,519.34 83.80,518.52 84.30,519.16 84.80,518.54 85.30,518.76 85.80,519.27 86.30,518.70 86.80,518.73 87.30,519.20 87.80,518.94 88.30,518.64 88.80,519.50 89.30,518.76 89.80,518.67 90.30,518.96 90.80,519.21 91.30,519.34 91.80,518.78 92.30,519.00 92.80,518.73 93.30,519.12 93.80,519.42 94.30,519.41 94.80,519.56 95.30,519.44 95.80,519.55 96.30,519.42 96.80,519.22 97.30,519.01 97.80,519.42 98.30,519.12 98.80,518.94 99.30,519.26 99.80,519.65 100.30,518.99 100.80,519.42 101.30,519.26 101.80,519.38 102.30,519.05 102.80,519.80 103.30,519.18 103.80,519.51 104.30,519.35 104.80,519.00 105.30,519.50 105.80,519.13 106.30,519.07 106.80,519.06 107.30,519.19 107.80,519.20 108.25,519.98 108.30,519.90 108.70,508.65 108.80,520.60 109.15,520.88 109.30,520.29 109.80,520.56 110.30,520.39 110.80,520.70 111.30,520.74 111.80,520.91 112.30,520.83 112.80,520.43 113.30,520.59 113.80,520.69 114.30,520.23 114.80,520.26 115.30,520.61 115.80,520.35 116.30,520.91 116.80,520.48 117.30,520.36 117.80,520.44 118.30,520.49 118.80,520.49 119.30,520.77 119.80,520.73 120.30,520.59 120.80,520.90 121.30,520.52 121.80,521.15 122.30,521.21 122.80,521.01 123.30,520.75 123.80,520.83 124.30,520.90 124.80,520.43 125.30,520.77 125.80,520.87 126.30,520.57 126.80,520.50 127.30,521.14 127.80,520.76 128.30,520.90 128.80,521.27 129.30,521.00 129.80,520.72 130.30,521.35 130.80,520.81 131.30,520.50 131.80,521.11 132.30,520.59 132.80,520.78 133.30,521.27 133.80,521.13 134.30,520.54 134.80,520.94 135.30,520.91 135.80,521.02 136.30,520.91 136.65,521.35 136.80,520.93 137.10,510.40 137.30,521.34 137.55,521.92 137.80,521.22 138.30,521.83 138.80,521.32 139.30,521.66 139.80,521.50 140.30,521.57 140.80,521.83 141.30,521.51 141.80,521.26 142.30,521.26 142.80,521.22 143.30,521.92 143.80,521.73 144.30,522.01 144.80,521.77 145.30,521.17 145.80,521.74 146.30,521.85 146.80,521.80 147.30,521.60 147.80,521.47 148.30,521.56 148.80,521.87 149.30,521.39 149.80,521.62 150.30,521.58 150.80,522.01 151.30,521.87 151.80,521.99 152.30,521.90 152.80,521.42 153.30,521.36 153.80,521.59 154.30,521.38 154.80,521.53 155.30,521.76 155.80,521.98 156.30,521.68 156.80,521.89 157.30,521.24 157.80,521.47 158.30,522.05 158.80,521.28 159.30,521.53 159.80,521.21 160.30,521.23 160.80,521.96 161.30,522.04 161.80,521.73 162.30,521.27 162.35,521.42 162.80,520.27 163.25,521.93 163.30,521.95 163.80,521.84 164.30,522.03 164.80,521.78 165.30,522.28 165.80,522.76 166.30,522.70 166.80,522.22 167.30,522.72 167.80,523.01 168.30,522.71" fill="none" stroke="#d672e4" stroke-width="0.8" stroke-linejoin="round"/>
<polyline points="32.80,553.26 33.30,553.48 33.80,553.27 34.30,553.42 34.80,553.38 35.30,552.82 35.80,552.71 36.30,553.39 36.80,552.81 37.30,552.73 37.80,553.36 38.30,552.83 38.80,553.10 39.30,552.72 39.80,552.80 40.30,552.31 40.80,552.68 41.30,552.83 41.80,552.46 42.30,552.60 42.80,552.48 43.30,551.88 43.80,552.44 44.30,552.23 44.80,551.91 45.30,551.61 45.80,552.30 46.30,551.89 46.80,552.05 47.30,552.14 47.80,551.93 48.30,552.06 48.80,551.53 49.30,551.84 49.80,551.46 50.30,551.84 50.80,551.72 51.30,550.89 51.80,550.79 52.30,550.74 52.80,551.29 53.30,550.68 53.80,550.73 54.30,550.31 54.80,550.37 55.30,550.13 55.80,549.97 56.30,550.05 56.80,549.93 57.30,550.13 57.80,549.87 58.30,550.03 58.80,549.91 59.30,549.97 59.80,549.62 60.30,549.11 60.80,549.68 61.30,549.71 61.80,549.60 62.30,549.24 62.80,549.31 63.30,548.79 63.80,549.29 64.30,549.00 64.80,548.68 65.30,548.43 65.80,549.08 66.30,549.14 66.80,548.17 67.30,548.65 67.80,548.14 68.30,547.74 68.80,547.71 69.30,547.97 69.80,548.56 69.95,548.02 70.30,548.99 70.40,545.52 70.80,549.75 70.85,549.47 71.05,550.23 71.30,550.65 71.50,544.48 71.80,551.32 71.95,550.90 72.30,551.15 72.80,551.92 73.30,551.46 73.80,551.65 74.30,551.89 74.80,552.12 75.30,551.76 75.80,551.71 76.30,552.50 76.80,552.05 77.30,552.68 77.80,552.67 78.30,552.25 78.80,552.37 79.30,552.47 79.80,552.63 80.30,552.64 80.80,552.65 81.30,552.76 81.80,553.09 82.30,552.75 82.80,552.73 83.30,553.04 83.80,552.65 84.30,552.77 84.80,553.43 85.30,553.08 85.80,553.16 86.30,552.73 86.80,553.15 87.30,553.36 87.80,552.91 88.30,553.50 88.80,553.57 89.30,553.11 89.80,553.68 90.30,553.59 90.80,553.84 91.30,553.60 91.80,553.98 92.30,554.06 92.80,553.47 93.30,553.57 93.80,554.18 94.30,554.49 94.80,553.91 95.30,554.15 95.80,554.33 96.25,554.13 96.30,554.18 96.70,552.79 96.80,554.30 97.15,554.59 97.30,554.36 97.80,554.54 98.30,555.02 98.80,554.47 99.30,555.07 99.80,555.34 100.30,555.08 100.80,555.12 101.30,555.76 101.80,555.37 102.30,555.44 102.80,555.78 103.30,556.14 103.80,555.72 104.30,556.03 104.80,556.16 105.30,556.73 105.80,556.49 106.30,556.99 106.80,556.49 107.30,556.76 107.80,557.26 108.25,558.03 108.30,557.70 108.70,540.74 108.80,558.02 109.15,558.82 109.30,558.70 109.80,559.38 110.30,559.40 110.80,558.82 111.30,558.90 111.80,559.38 112.30,559.23 112.80,559.38 113.30,558.96 113.80,558.77 114.30,558.91 114.80,559.36 115.30,558.89 115.80,558.96 116.30,559.03 116.80,559.03 117.30,559.02 117.80,559.48 118.30,558.79 118.80,558.65 119.30,559.50 119.80,559.44 120.30,559.54 120.80,559.04 121.30,559.51 121.80,559.48 122.30,558.85 122.80,559.32 123.30,559.40 123.80,559.25 124.30,559.12 124.80,558.91 125.30,558.96 125.80,558.85 126.30,558.71 126.80,559.18 127.30,558.91 127.80,559.38 128.30,558.69 128.80,559.46 129.30,559.27 129.80,559.48 130.30,559.46 130.80,559.46 131.30,559.17 131.80,558.66 132.30,559.32 132.80,558.80 133.30,558.92 133.80,559.25 134.30,559.12 134.80,559.02 135.30,559.50 135.80,559.20 136.30,558.96 136.65,558.88 136.80,559.43 137.10,554.90 137.30,559.35 137.55,558.97 137.80,558.83 138.30,559.13 138.80,559.39 139.30,558.80 139.80,559.36 140.30,559.48 140.80,559.38 141.30,559.39 141.80,558.66 142.30,559.22 142.80,559.43 143.30,558.69 143.80,558.89 144.30,558.89 144.80,559.12 145.30,559.03 145.80,559.08 146.30,559.35 146.80,558.65 147.30,558.70 147.80,558.76 148.30,558.76 148.80,558.71 149.30,559.53 149.55,559.42 149.80,558.73 150.00,557.90 150.30,558.93 150.45,558.93 150.80,558.97 151.30,559.23 151.80,559.18 152.30,558.97 152.80,558.82 153.30,558.95 153.80,558.76 154.30,559.15 154.80,559.29 155.30,558.99 155.80,558.72 156.30,558.81 156.80,558.99 157.30,559.19 157.80,559.35 158.30,558.99 158.80,559.37 159.30,559.21 159.80,559.04 160.30,558.99 160.80,559.10 161.30,559.28 161.35,559.03 161.80,556.38 162.25,559.23 162.30,559.05 162.80,559.40 163.30,559.65 163.80,559.18 164.30,559.60 164.80,559.69 165.30,560.20 165.80,560.35 166.30,559.94 166.80,560.51 167.30,560.51 167.80,560.13 168.30,560.41" fill="none" stroke="#3aaa4a" stroke-width="0.8" stroke-linejoin="round"/>
<text x="34.10" y="458.93" font-size="7.3" fill="#111" textLength="36.9" lengthAdjust="spacingAndGlyphs" >Others&lt;1%</text>
<text x="78.70" y="467.63" font-size="7.3" fill="#8a5c3c" textLength="19.7" lengthAdjust="spacingAndGlyphs" >Mn 2<tspan font-style="italic">p</tspan></text>
<text x="78.10" y="477.13" font-size="7.3" fill="#8a5c3c" textLength="21.3" lengthAdjust="spacingAndGlyphs" >27.4%</text>
<text x="105.70" y="467.63" font-size="7.3" fill="#111" textLength="15.5" lengthAdjust="spacingAndGlyphs" >O 1<tspan font-style="italic">s</tspan></text>
<text x="110.40" y="478.03" font-size="7.3" fill="#111" textLength="20.8" lengthAdjust="spacingAndGlyphs" >31.3%</text>
<text x="133.60" y="463.53" font-size="7.3" fill="#111" textLength="15.0" lengthAdjust="spacingAndGlyphs" >C 1<tspan font-style="italic">s</tspan></text>
<text x="138.80" y="473.83" font-size="7.3" fill="#111" textLength="20.8" lengthAdjust="spacingAndGlyphs" >40.8%</text>
<text x="73.50" y="500.43" font-size="7.3" fill="#d882e8" textLength="19.7" lengthAdjust="spacingAndGlyphs" >Co 2<tspan font-style="italic">p</tspan></text>
<text x="73.50" y="508.63" font-size="7.3" fill="#d882e8" textLength="20.3" lengthAdjust="spacingAndGlyphs" >24.8%</text>
<text x="110.40" y="506.23" font-size="7.3" fill="#111" textLength="21.2" lengthAdjust="spacingAndGlyphs" >42.4%</text>
<text x="138.80" y="510.73" font-size="7.3" fill="#111" textLength="21.4" lengthAdjust="spacingAndGlyphs" >32.1%</text>
<text x="73.50" y="534.13" font-size="7.3" fill="#44ae54" textLength="18.7" lengthAdjust="spacingAndGlyphs" >Ni 2<tspan font-style="italic">p</tspan></text>
<text x="73.50" y="542.43" font-size="7.3" fill="#44ae54" textLength="20.3" lengthAdjust="spacingAndGlyphs" >29.8%</text>
<text x="110.40" y="541.03" font-size="7.3" fill="#111" textLength="20.8" lengthAdjust="spacingAndGlyphs" >46.3%</text>
<text x="137.80" y="550.33" font-size="7.3" fill="#111" textLength="21.1" lengthAdjust="spacingAndGlyphs" >23.4%</text>
<text x="182.10" y="454.58" font-size="13" fill="#000" font-weight="bold" >l</text>
<defs><radialGradient id="lph" cx="0.6" cy="0.5" r="0.72"><stop offset="0.3" stop-color="#fbfaf8"/><stop offset="1" stop-color="#e6e0d6"/></radialGradient></defs>
<rect x="255.00" y="455.70" width="75.60" height="48.40" fill="url(#lph)" filter="url(#blur15)"/>
<defs><clipPath id="lclip"><path d="M265.0,491.0 L268.0,484.0 L274.0,478.0 L281.0,474.0 L288.0,470.0 L295.0,467.0 L300.0,466.0 L306.0,467.0 L312.0,469.0 L318.0,471.0 L324.0,474.0 L328.0,479.0 L330.0,484.0 L328.0,490.0 L321.0,495.0 L312.0,498.0 L303.0,501.0 L295.0,502.0 L285.0,501.0 L277.0,499.0 L270.0,496.0 Z"/></clipPath></defs>
<path d="M265.0,491.0 L268.0,484.0 L274.0,478.0 L281.0,474.0 L288.0,470.0 L295.0,467.0 L300.0,466.0 L306.0,467.0 L312.0,469.0 L318.0,471.0 L324.0,474.0 L328.0,479.0 L330.0,484.0 L328.0,490.0 L321.0,495.0 L312.0,498.0 L303.0,501.0 L295.0,502.0 L285.0,501.0 L277.0,499.0 L270.0,496.0 Z" fill="#55301a" filter="url(#blur06)"/>
<g clip-path="url(#lclip)"><circle cx="268.3" cy="488.2" r="1.24" fill="#7c4a2a"/><circle cx="262.2" cy="489.2" r="0.65" fill="#5a3018"/><circle cx="266.1" cy="486.3" r="0.65" fill="#7c4a2a"/><circle cx="290.4" cy="489.4" r="1.15" fill="#2e1408"/><circle cx="275.6" cy="473.0" r="0.82" fill="#7c4a2a"/><circle cx="278.0" cy="471.7" r="0.63" fill="#3c1c0c"/><circle cx="298.4" cy="479.8" r="0.53" fill="#4a2412"/><circle cx="268.3" cy="474.2" r="0.76" fill="#5a3018"/><circle cx="308.2" cy="472.6" r="1.01" fill="#7c4a2a"/><circle cx="304.5" cy="484.2" r="1.02" fill="#7c4a2a"/><circle cx="329.9" cy="483.7" r="1.17" fill="#2e1408"/><circle cx="293.2" cy="500.5" r="0.91" fill="#3c1c0c"/><circle cx="322.5" cy="491.1" r="0.82" fill="#6a3a1e"/><circle cx="267.3" cy="496.2" r="1.18" fill="#3c1c0c"/><circle cx="301.9" cy="501.8" r="0.54" fill="#7c4a2a"/><circle cx="316.5" cy="482.5" r="0.56" fill="#2e1408"/><circle cx="303.4" cy="498.8" r="0.77" fill="#6a3a1e"/><circle cx="276.5" cy="500.2" r="1.11" fill="#3c1c0c"/><circle cx="314.1" cy="496.0" r="0.51" fill="#7c4a2a"/><circle cx="298.4" cy="476.3" r="0.95" fill="#7c4a2a"/><circle cx="258.3" cy="483.0" r="1.12" fill="#7c4a2a"/><circle cx="286.4" cy="478.9" r="0.84" fill="#4a2412"/><circle cx="327.5" cy="484.1" r="1.28" fill="#5a3018"/><circle cx="282.7" cy="500.8" r="0.67" fill="#7c4a2a"/><circle cx="321.9" cy="483.6" r="0.96" fill="#3c1c0c"/><circle cx="310.6" cy="483.4" r="0.71" fill="#5a3018"/><circle cx="284.7" cy="493.1" r="0.56" fill="#3c1c0c"/><circle cx="301.4" cy="498.7" r="0.51" fill="#6a3a1e"/><circle cx="277.2" cy="493.2" r="1.27" fill="#7c4a2a"/><circle cx="300.6" cy="477.9" r="0.81" fill="#2e1408"/><circle cx="313.4" cy="498.9" r="1.15" fill="#4a2412"/><circle cx="291.8" cy="476.5" r="1.00" fill="#5a3018"/><circle cx="305.6" cy="501.5" r="1.21" fill="#5a3018"/><circle cx="300.9" cy="486.0" r="0.59" fill="#5a3018"/><circle cx="311.1" cy="481.8" r="1.06" fill="#6a3a1e"/><circle cx="263.9" cy="492.6" r="0.89" fill="#5a3018"/><circle cx="307.8" cy="498.4" r="0.56" fill="#4a2412"/><circle cx="265.1" cy="486.0" r="0.99" fill="#3c1c0c"/><circle cx="287.5" cy="501.9" r="0.66" fill="#3c1c0c"/><circle cx="314.9" cy="489.1" r="0.70" fill="#3c1c0c"/><circle cx="303.8" cy="494.3" r="0.96" fill="#4a2412"/><circle cx="305.2" cy="487.9" r="0.86" fill="#6a3a1e"/><circle cx="277.5" cy="470.8" r="0.97" fill="#4a2412"/><circle cx="264.8" cy="474.2" r="0.88" fill="#6a3a1e"/><circle cx="283.3" cy="466.2" r="0.52" fill="#2e1408"/><circle cx="302.3" cy="486.2" r="0.75" fill="#4a2412"/><circle cx="303.9" cy="484.0" r="0.94" fill="#2e1408"/><circle cx="327.5" cy="489.1" r="1.09" fill="#4a2412"/><circle cx="303.2" cy="466.5" r="0.78" fill="#2e1408"/><circle cx="284.1" cy="484.9" r="1.19" fill="#3c1c0c"/><circle cx="311.8" cy="473.1" r="1.00" fill="#7c4a2a"/><circle cx="291.1" cy="485.5" r="0.56" fill="#3c1c0c"/><circle cx="271.0" cy="469.5" r="1.20" fill="#2e1408"/><circle cx="277.2" cy="500.1" r="1.06" fill="#7c4a2a"/><circle cx="263.3" cy="490.4" r="0.57" fill="#5a3018"/><circle cx="321.4" cy="486.7" r="0.88" fill="#4a2412"/><circle cx="305.7" cy="482.3" r="1.12" fill="#2e1408"/><circle cx="310.0" cy="479.4" r="0.51" fill="#6a3a1e"/><circle cx="311.5" cy="495.6" r="0.91" fill="#6a3a1e"/><circle cx="281.2" cy="473.3" r="1.21" fill="#6a3a1e"/><circle cx="279.1" cy="489.4" r="1.01" fill="#4a2412"/><circle cx="310.3" cy="476.0" r="0.97" fill="#6a3a1e"/><circle cx="297.3" cy="490.7" r="0.78" fill="#3c1c0c"/><circle cx="285.5" cy="466.0" r="0.72" fill="#4a2412"/><circle cx="312.8" cy="492.5" r="1.24" fill="#7c4a2a"/><circle cx="274.8" cy="493.2" r="1.04" fill="#2e1408"/><circle cx="312.9" cy="468.0" r="0.86" fill="#3c1c0c"/><circle cx="303.0" cy="475.2" r="0.99" fill="#2e1408"/><circle cx="287.0" cy="470.1" r="0.75" fill="#5a3018"/><circle cx="307.2" cy="484.8" r="0.86" fill="#3c1c0c"/><circle cx="296.2" cy="474.3" r="1.12" fill="#3c1c0c"/><circle cx="306.2" cy="483.4" r="0.59" fill="#5a3018"/><circle cx="275.8" cy="469.9" r="1.27" fill="#2e1408"/><circle cx="304.5" cy="500.3" r="0.70" fill="#2e1408"/><circle cx="318.7" cy="484.9" r="1.07" fill="#4a2412"/><circle cx="298.7" cy="500.6" r="0.93" fill="#5a3018"/><circle cx="258.1" cy="484.0" r="0.63" fill="#2e1408"/><circle cx="302.8" cy="480.9" r="1.25" fill="#2e1408"/><circle cx="275.6" cy="492.3" r="0.66" fill="#3c1c0c"/><circle cx="274.6" cy="494.0" r="1.20" fill="#6a3a1e"/><circle cx="265.7" cy="487.5" r="0.66" fill="#2e1408"/><circle cx="315.4" cy="471.3" r="1.24" fill="#3c1c0c"/><circle cx="301.8" cy="501.5" r="1.28" fill="#6a3a1e"/><circle cx="262.8" cy="480.1" r="0.76" fill="#2e1408"/><circle cx="307.1" cy="475.2" r="0.57" fill="#7c4a2a"/><circle cx="281.2" cy="494.3" r="0.72" fill="#3c1c0c"/><circle cx="300.6" cy="501.3" r="0.84" fill="#3c1c0c"/><circle cx="303.7" cy="493.7" r="1.13" fill="#4a2412"/><circle cx="258.6" cy="487.5" r="1.22" fill="#5a3018"/><circle cx="310.0" cy="470.7" r="1.26" fill="#7c4a2a"/><circle cx="267.7" cy="476.5" r="1.11" fill="#7c4a2a"/><circle cx="274.9" cy="482.3" r="1.08" fill="#2e1408"/><circle cx="307.2" cy="495.7" r="1.23" fill="#6a3a1e"/><circle cx="285.6" cy="494.9" r="1.18" fill="#5a3018"/><circle cx="302.6" cy="500.9" r="1.27" fill="#5a3018"/><circle cx="290.3" cy="497.3" r="0.83" fill="#3c1c0c"/><circle cx="266.0" cy="483.7" r="0.52" fill="#3c1c0c"/><circle cx="271.3" cy="482.8" r="1.14" fill="#5a3018"/><circle cx="301.9" cy="488.0" r="0.63" fill="#5a3018"/><circle cx="260.6" cy="488.7" r="1.14" fill="#7c4a2a"/><circle cx="291.0" cy="497.0" r="0.60" fill="#7c4a2a"/><circle cx="322.3" cy="473.3" r="1.24" fill="#5a3018"/><circle cx="287.5" cy="491.6" r="0.99" fill="#6a3a1e"/><circle cx="315.8" cy="496.2" r="0.52" fill="#4a2412"/><circle cx="296.2" cy="485.7" r="0.73" fill="#2e1408"/><circle cx="276.6" cy="495.8" r="0.58" fill="#2e1408"/><circle cx="265.1" cy="475.3" r="1.00" fill="#2e1408"/><circle cx="302.5" cy="497.1" r="0.85" fill="#7c4a2a"/><circle cx="272.1" cy="471.2" r="0.99" fill="#5a3018"/><circle cx="302.1" cy="498.5" r="1.01" fill="#5a3018"/><circle cx="299.6" cy="497.7" r="0.97" fill="#4a2412"/><circle cx="297.4" cy="500.3" r="1.15" fill="#4a2412"/><circle cx="285.9" cy="493.8" r="1.24" fill="#4a2412"/><circle cx="296.8" cy="475.8" r="0.58" fill="#4a2412"/><circle cx="301.2" cy="488.2" r="0.81" fill="#7c4a2a"/><circle cx="305.5" cy="473.3" r="1.13" fill="#4a2412"/><circle cx="302.7" cy="498.3" r="1.14" fill="#3c1c0c"/><circle cx="303.0" cy="499.0" r="1.23" fill="#6a3a1e"/><circle cx="313.2" cy="493.0" r="1.11" fill="#5a3018"/><circle cx="326.9" cy="483.8" r="1.14" fill="#7c4a2a"/><circle cx="299.5" cy="486.3" r="0.94" fill="#5a3018"/><circle cx="314.7" cy="476.6" r="0.65" fill="#3c1c0c"/><circle cx="303.4" cy="500.7" r="1.29" fill="#2e1408"/><circle cx="301.4" cy="486.7" r="1.26" fill="#7c4a2a"/><circle cx="303.9" cy="486.8" r="0.81" fill="#7c4a2a"/><circle cx="270.5" cy="482.8" r="0.98" fill="#3c1c0c"/><circle cx="289.2" cy="481.1" r="0.66" fill="#7c4a2a"/><circle cx="264.3" cy="488.7" r="0.82" fill="#4a2412"/><circle cx="285.2" cy="480.4" r="1.13" fill="#6a3a1e"/><circle cx="319.2" cy="473.4" r="1.06" fill="#2e1408"/><circle cx="319.2" cy="478.7" r="0.65" fill="#5a3018"/><circle cx="326.1" cy="482.1" r="0.71" fill="#3c1c0c"/><circle cx="292.9" cy="467.3" r="1.15" fill="#7c4a2a"/><circle cx="307.8" cy="492.1" r="0.93" fill="#6a3a1e"/><circle cx="297.4" cy="467.5" r="0.82" fill="#2e1408"/><circle cx="306.8" cy="499.6" r="0.74" fill="#3c1c0c"/><circle cx="315.4" cy="484.8" r="1.01" fill="#5a3018"/><circle cx="311.9" cy="487.0" r="1.27" fill="#6a3a1e"/><circle cx="278.7" cy="497.1" r="0.96" fill="#5a3018"/><circle cx="316.9" cy="490.3" r="0.90" fill="#4a2412"/><circle cx="284.5" cy="468.2" r="1.28" fill="#3c1c0c"/><circle cx="302.9" cy="488.1" r="0.69" fill="#7c4a2a"/><circle cx="287.4" cy="486.5" r="0.66" fill="#7c4a2a"/><circle cx="312.3" cy="484.7" r="0.72" fill="#6a3a1e"/><circle cx="269.6" cy="479.8" r="1.27" fill="#5a3018"/><circle cx="300.5" cy="479.1" r="0.86" fill="#2e1408"/><circle cx="318.7" cy="490.8" r="1.11" fill="#3c1c0c"/><circle cx="267.6" cy="496.0" r="0.81" fill="#4a2412"/><circle cx="310.3" cy="473.0" r="0.98" fill="#7c4a2a"/><circle cx="316.0" cy="479.8" r="0.92" fill="#5a3018"/><circle cx="284.0" cy="496.8" r="0.89" fill="#6a3a1e"/><circle cx="276.2" cy="480.2" r="1.07" fill="#6a3a1e"/><circle cx="325.2" cy="486.8" r="0.97" fill="#2e1408"/><circle cx="311.3" cy="497.7" r="0.81" fill="#6a3a1e"/><circle cx="293.9" cy="479.7" r="1.29" fill="#6a3a1e"/><circle cx="324.7" cy="492.1" r="0.84" fill="#7c4a2a"/><circle cx="293.8" cy="500.5" r="0.54" fill="#3c1c0c"/><circle cx="322.3" cy="477.8" r="0.87" fill="#4a2412"/><circle cx="284.3" cy="480.1" r="1.00" fill="#7c4a2a"/><circle cx="318.6" cy="495.9" r="0.79" fill="#4a2412"/><circle cx="311.0" cy="492.9" r="1.03" fill="#7c4a2a"/><circle cx="270.8" cy="475.0" r="1.05" fill="#6a3a1e"/><circle cx="298.6" cy="470.4" r="1.30" fill="#6a3a1e"/><circle cx="292.3" cy="474.8" r="0.59" fill="#6a3a1e"/><circle cx="300.1" cy="469.3" r="0.79" fill="#6a3a1e"/><circle cx="270.4" cy="473.7" r="1.06" fill="#4a2412"/><circle cx="273.1" cy="471.8" r="0.65" fill="#4a2412"/><circle cx="264.9" cy="483.8" r="0.66" fill="#2e1408"/><circle cx="302.6" cy="485.2" r="0.72" fill="#7c4a2a"/><circle cx="300.9" cy="484.6" r="0.68" fill="#6a3a1e"/><circle cx="303.5" cy="486.5" r="1.04" fill="#5a3018"/><circle cx="297.4" cy="502.7" r="0.89" fill="#6a3a1e"/><circle cx="299.2" cy="494.8" r="1.10" fill="#3c1c0c"/><circle cx="301.8" cy="472.0" r="1.16" fill="#4a2412"/><circle cx="264.8" cy="489.6" r="0.81" fill="#4a2412"/><circle cx="274.2" cy="495.3" r="1.29" fill="#6a3a1e"/><circle cx="286.0" cy="500.0" r="1.16" fill="#4a2412"/><circle cx="274.3" cy="489.1" r="0.58" fill="#6a3a1e"/><circle cx="303.1" cy="486.6" r="0.95" fill="#7c4a2a"/><circle cx="303.8" cy="472.1" r="1.16" fill="#3c1c0c"/><circle cx="308.8" cy="488.0" r="1.03" fill="#3c1c0c"/><circle cx="285.4" cy="471.4" r="1.11" fill="#6a3a1e"/><circle cx="291.2" cy="491.0" r="0.79" fill="#2e1408"/><circle cx="278.0" cy="500.0" r="0.76" fill="#7c4a2a"/><circle cx="262.7" cy="476.3" r="1.25" fill="#6a3a1e"/><circle cx="264.2" cy="490.5" r="0.74" fill="#6a3a1e"/><circle cx="300.4" cy="502.4" r="1.08" fill="#5a3018"/><circle cx="294.2" cy="495.4" r="0.79" fill="#6a3a1e"/><circle cx="281.8" cy="471.0" r="1.14" fill="#2e1408"/><circle cx="264.4" cy="477.4" r="0.93" fill="#5a3018"/><circle cx="280.0" cy="480.9" r="1.11" fill="#6a3a1e"/><circle cx="300.4" cy="475.7" r="0.55" fill="#4a2412"/><circle cx="261.7" cy="476.3" r="1.02" fill="#7c4a2a"/><circle cx="318.5" cy="489.5" r="1.13" fill="#3c1c0c"/><circle cx="284.5" cy="492.6" r="0.58" fill="#6a3a1e"/><circle cx="318.7" cy="491.7" r="0.62" fill="#2e1408"/><circle cx="303.5" cy="472.7" r="1.07" fill="#7c4a2a"/><circle cx="296.5" cy="470.3" r="1.11" fill="#7c4a2a"/><circle cx="274.9" cy="497.8" r="0.77" fill="#4a2412"/><circle cx="267.6" cy="484.6" r="1.08" fill="#2e1408"/><circle cx="288.3" cy="481.2" r="1.11" fill="#2e1408"/><circle cx="292.7" cy="485.0" r="0.80" fill="#3c1c0c"/><circle cx="321.0" cy="472.0" r="1.01" fill="#5a3018"/><circle cx="291.7" cy="485.5" r="0.59" fill="#7c4a2a"/><circle cx="309.4" cy="479.2" r="0.63" fill="#2e1408"/><circle cx="283.5" cy="489.5" r="0.66" fill="#7c4a2a"/><circle cx="275.5" cy="482.2" r="1.21" fill="#7c4a2a"/><circle cx="289.6" cy="490.0" r="1.02" fill="#4a2412"/><circle cx="320.6" cy="475.4" r="0.51" fill="#7c4a2a"/><circle cx="299.8" cy="482.0" r="0.59" fill="#4a2412"/><circle cx="276.5" cy="495.3" r="0.98" fill="#7c4a2a"/><circle cx="279.9" cy="479.0" r="0.65" fill="#6a3a1e"/><circle cx="265.9" cy="494.4" r="1.25" fill="#2e1408"/><circle cx="262.9" cy="478.9" r="0.88" fill="#6a3a1e"/><circle cx="271.3" cy="485.2" r="1.26" fill="#2e1408"/><circle cx="260.3" cy="478.6" r="0.89" fill="#4a2412"/><circle cx="280.5" cy="489.2" r="0.61" fill="#7c4a2a"/><circle cx="325.7" cy="481.5" r="1.12" fill="#3c1c0c"/><circle cx="284.4" cy="476.3" r="0.51" fill="#7c4a2a"/><circle cx="314.0" cy="476.9" r="0.70" fill="#7c4a2a"/><circle cx="282.8" cy="479.3" r="0.63" fill="#6a3a1e"/><circle cx="315.1" cy="498.3" r="1.15" fill="#4a2412"/><circle cx="270.6" cy="469.6" r="0.71" fill="#5a3018"/><circle cx="319.7" cy="488.7" r="0.64" fill="#4a2412"/><circle cx="308.4" cy="468.3" r="1.16" fill="#3c1c0c"/><circle cx="277.2" cy="496.0" r="0.92" fill="#7c4a2a"/><circle cx="290.4" cy="478.9" r="1.10" fill="#5a3018"/><circle cx="306.4" cy="475.8" r="1.13" fill="#7c4a2a"/><circle cx="304.4" cy="498.7" r="1.13" fill="#7c4a2a"/><circle cx="300.9" cy="497.5" r="0.92" fill="#4a2412"/><circle cx="327.4" cy="477.9" r="0.75" fill="#7c4a2a"/><circle cx="311.7" cy="488.8" r="0.87" fill="#2e1408"/><circle cx="303.0" cy="486.1" r="0.61" fill="#2e1408"/><circle cx="274.7" cy="492.0" r="1.27" fill="#3c1c0c"/><circle cx="291.7" cy="482.3" r="0.80" fill="#2e1408"/><circle cx="274.7" cy="485.6" r="0.59" fill="#3c1c0c"/><circle cx="314.5" cy="470.3" r="1.08" fill="#5a3018"/><circle cx="310.5" cy="496.3" r="1.25" fill="#2e1408"/><circle cx="287.8" cy="494.5" r="0.81" fill="#2e1408"/><circle cx="307.4" cy="488.3" r="0.80" fill="#3c1c0c"/><circle cx="277.3" cy="500.2" r="0.95" fill="#2e1408"/><circle cx="278.7" cy="474.2" r="0.81" fill="#3c1c0c"/><circle cx="301.0" cy="488.5" r="1.04" fill="#2e1408"/><circle cx="300.8" cy="491.5" r="0.53" fill="#7c4a2a"/><circle cx="285.0" cy="480.9" r="0.68" fill="#4a2412"/><circle cx="317.6" cy="483.0" r="1.12" fill="#6a3a1e"/><circle cx="314.7" cy="478.1" r="0.91" fill="#2e1408"/><circle cx="297.8" cy="491.0" r="1.05" fill="#7c4a2a"/><circle cx="282.7" cy="494.6" r="0.51" fill="#7c4a2a"/><circle cx="278.6" cy="477.0" r="1.13" fill="#4a2412"/><circle cx="279.0" cy="471.5" r="0.51" fill="#6a3a1e"/><circle cx="301.5" cy="493.8" r="0.85" fill="#5a3018"/><circle cx="275.5" cy="493.4" r="1.13" fill="#3c1c0c"/><circle cx="283.0" cy="479.1" r="1.11" fill="#6a3a1e"/><circle cx="273.6" cy="480.6" r="0.90" fill="#4a2412"/><circle cx="279.7" cy="480.2" r="1.25" fill="#2e1408"/><circle cx="284.7" cy="466.3" r="0.95" fill="#3c1c0c"/><circle cx="282.8" cy="477.9" r="0.57" fill="#4a2412"/><circle cx="271.0" cy="485.7" r="0.77" fill="#3c1c0c"/><circle cx="313.5" cy="479.1" r="0.87" fill="#3c1c0c"/></g>
<circle cx="266.3" cy="487.7" r="1.27" fill="#5a3018"/><circle cx="265.2" cy="488.5" r="1.08" fill="#6a3a1e"/><circle cx="267.1" cy="486.2" r="1.16" fill="#5a3018"/><circle cx="268.6" cy="484.1" r="0.94" fill="#5a3018"/><circle cx="264.7" cy="490.7" r="0.67" fill="#3c1c0c"/><circle cx="266.6" cy="486.3" r="0.69" fill="#4a2412"/><circle cx="267.4" cy="485.3" r="0.82" fill="#6a3a1e"/><circle cx="275.0" cy="478.6" r="1.02" fill="#5a3018"/><circle cx="270.6" cy="480.7" r="1.16" fill="#4a2412"/><circle cx="271.6" cy="480.7" r="0.68" fill="#6a3a1e"/><circle cx="272.4" cy="480.0" r="1.21" fill="#4a2412"/><circle cx="273.2" cy="480.3" r="0.79" fill="#3c1c0c"/><circle cx="270.8" cy="481.9" r="1.29" fill="#3c1c0c"/><circle cx="269.7" cy="483.3" r="0.96" fill="#5a3018"/><circle cx="273.7" cy="477.8" r="1.03" fill="#4a2412"/><circle cx="276.0" cy="477.2" r="0.99" fill="#4a2412"/><circle cx="280.2" cy="475.4" r="0.68" fill="#3c1c0c"/><circle cx="275.1" cy="478.1" r="0.94" fill="#4a2412"/><circle cx="278.2" cy="476.2" r="0.94" fill="#6a3a1e"/><circle cx="276.5" cy="475.8" r="1.08" fill="#5a3018"/><circle cx="277.4" cy="476.2" r="0.78" fill="#5a3018"/><circle cx="288.4" cy="471.5" r="0.87" fill="#3c1c0c"/><circle cx="281.9" cy="473.1" r="1.10" fill="#5a3018"/><circle cx="284.6" cy="470.9" r="1.60" fill="#5a3018"/><circle cx="281.8" cy="474.3" r="1.39" fill="#3c1c0c"/><circle cx="286.2" cy="472.1" r="1.13" fill="#6a3a1e"/><circle cx="285.0" cy="472.5" r="1.28" fill="#6a3a1e"/><circle cx="288.0" cy="471.3" r="0.89" fill="#4a2412"/><circle cx="289.5" cy="468.5" r="1.12" fill="#6a3a1e"/><circle cx="293.3" cy="468.9" r="0.89" fill="#3c1c0c"/><circle cx="289.2" cy="471.2" r="0.63" fill="#3c1c0c"/><circle cx="291.4" cy="469.6" r="1.04" fill="#4a2412"/><circle cx="291.9" cy="468.3" r="1.52" fill="#3c1c0c"/><circle cx="293.5" cy="468.2" r="1.19" fill="#6a3a1e"/><circle cx="293.6" cy="467.7" r="0.95" fill="#3c1c0c"/><circle cx="298.2" cy="467.0" r="0.76" fill="#5a3018"/><circle cx="299.5" cy="465.7" r="1.50" fill="#6a3a1e"/><circle cx="297.6" cy="466.0" r="0.98" fill="#4a2412"/><circle cx="298.6" cy="467.4" r="0.87" fill="#6a3a1e"/><circle cx="298.2" cy="467.7" r="1.13" fill="#6a3a1e"/><circle cx="298.0" cy="467.8" r="0.96" fill="#4a2412"/><circle cx="298.5" cy="467.6" r="0.69" fill="#3c1c0c"/><circle cx="301.7" cy="467.4" r="1.28" fill="#6a3a1e"/><circle cx="301.9" cy="467.9" r="1.09" fill="#6a3a1e"/><circle cx="302.6" cy="467.9" r="1.19" fill="#6a3a1e"/><circle cx="301.3" cy="467.0" r="1.54" fill="#4a2412"/><circle cx="305.5" cy="467.6" r="1.45" fill="#6a3a1e"/><circle cx="301.7" cy="466.6" r="0.75" fill="#3c1c0c"/><circle cx="300.9" cy="466.6" r="1.21" fill="#5a3018"/><circle cx="309.0" cy="467.6" r="0.65" fill="#5a3018"/><circle cx="308.5" cy="467.7" r="1.39" fill="#6a3a1e"/><circle cx="310.5" cy="467.6" r="1.15" fill="#3c1c0c"/><circle cx="308.2" cy="467.5" r="0.92" fill="#6a3a1e"/><circle cx="311.4" cy="468.8" r="0.77" fill="#6a3a1e"/><circle cx="307.3" cy="467.6" r="0.85" fill="#4a2412"/><circle cx="308.2" cy="468.4" r="1.01" fill="#3c1c0c"/><circle cx="314.8" cy="469.4" r="1.50" fill="#3c1c0c"/><circle cx="312.2" cy="470.0" r="0.63" fill="#6a3a1e"/><circle cx="314.5" cy="469.8" r="0.86" fill="#6a3a1e"/><circle cx="316.3" cy="470.7" r="1.54" fill="#5a3018"/><circle cx="312.3" cy="470.1" r="0.85" fill="#3c1c0c"/><circle cx="314.0" cy="471.0" r="1.44" fill="#3c1c0c"/><circle cx="318.5" cy="470.5" r="1.37" fill="#3c1c0c"/><circle cx="322.0" cy="473.9" r="1.48" fill="#4a2412"/><circle cx="320.0" cy="473.3" r="1.41" fill="#5a3018"/><circle cx="319.2" cy="471.4" r="0.90" fill="#5a3018"/><circle cx="324.2" cy="473.8" r="1.15" fill="#4a2412"/><circle cx="320.4" cy="473.4" r="1.28" fill="#5a3018"/><circle cx="320.5" cy="472.5" r="1.25" fill="#6a3a1e"/><circle cx="321.1" cy="472.5" r="1.07" fill="#6a3a1e"/><circle cx="328.1" cy="478.1" r="0.63" fill="#3c1c0c"/><circle cx="323.0" cy="474.5" r="1.36" fill="#3c1c0c"/><circle cx="327.6" cy="477.3" r="1.28" fill="#6a3a1e"/><circle cx="327.0" cy="476.5" r="0.97" fill="#4a2412"/><circle cx="326.1" cy="478.4" r="0.66" fill="#4a2412"/><circle cx="326.1" cy="476.0" r="1.44" fill="#5a3018"/><circle cx="324.3" cy="474.1" r="1.16" fill="#4a2412"/><circle cx="329.1" cy="482.0" r="1.40" fill="#5a3018"/><circle cx="328.2" cy="481.4" r="1.25" fill="#3c1c0c"/><circle cx="329.0" cy="483.0" r="1.26" fill="#3c1c0c"/><circle cx="330.8" cy="483.8" r="1.37" fill="#3c1c0c"/><circle cx="327.0" cy="479.9" r="1.09" fill="#5a3018"/><circle cx="327.8" cy="482.4" r="0.83" fill="#6a3a1e"/><circle cx="328.1" cy="481.2" r="1.01" fill="#3c1c0c"/><circle cx="328.7" cy="486.0" r="1.46" fill="#6a3a1e"/><circle cx="330.0" cy="486.1" r="1.24" fill="#3c1c0c"/><circle cx="329.1" cy="484.4" r="0.87" fill="#5a3018"/><circle cx="328.4" cy="489.1" r="1.04" fill="#3c1c0c"/><circle cx="329.0" cy="485.5" r="0.70" fill="#6a3a1e"/><circle cx="329.5" cy="485.0" r="1.20" fill="#3c1c0c"/><circle cx="328.4" cy="486.2" r="0.95" fill="#3c1c0c"/><circle cx="321.3" cy="494.7" r="0.67" fill="#6a3a1e"/><circle cx="322.5" cy="494.8" r="1.22" fill="#3c1c0c"/><circle cx="320.9" cy="493.8" r="0.94" fill="#6a3a1e"/><circle cx="327.0" cy="490.0" r="1.14" fill="#4a2412"/><circle cx="320.9" cy="493.8" r="1.09" fill="#4a2412"/><circle cx="322.2" cy="492.9" r="1.04" fill="#3c1c0c"/><circle cx="327.7" cy="490.4" r="0.79" fill="#3c1c0c"/><circle cx="315.3" cy="496.9" r="1.19" fill="#6a3a1e"/><circle cx="313.7" cy="496.7" r="0.73" fill="#6a3a1e"/><circle cx="317.1" cy="495.9" r="0.96" fill="#5a3018"/><circle cx="318.6" cy="495.6" r="1.33" fill="#3c1c0c"/><circle cx="317.1" cy="495.6" r="0.62" fill="#3c1c0c"/><circle cx="318.2" cy="496.7" r="1.50" fill="#5a3018"/><circle cx="314.6" cy="496.9" r="1.18" fill="#5a3018"/><circle cx="309.4" cy="498.3" r="0.65" fill="#4a2412"/><circle cx="307.8" cy="499.1" r="0.85" fill="#5a3018"/><circle cx="311.2" cy="498.8" r="0.98" fill="#6a3a1e"/><circle cx="308.5" cy="497.8" r="0.79" fill="#5a3018"/><circle cx="308.5" cy="498.9" r="0.86" fill="#3c1c0c"/><circle cx="304.5" cy="499.2" r="0.81" fill="#4a2412"/><circle cx="304.6" cy="499.5" r="1.13" fill="#6a3a1e"/><circle cx="302.1" cy="501.1" r="0.79" fill="#4a2412"/><circle cx="299.5" cy="499.9" r="1.09" fill="#3c1c0c"/><circle cx="296.5" cy="500.5" r="1.15" fill="#6a3a1e"/><circle cx="298.5" cy="502.1" r="1.50" fill="#6a3a1e"/><circle cx="298.6" cy="502.1" r="0.97" fill="#5a3018"/><circle cx="302.9" cy="501.5" r="1.13" fill="#3c1c0c"/><circle cx="295.3" cy="501.0" r="1.01" fill="#6a3a1e"/><circle cx="289.6" cy="501.8" r="1.28" fill="#3c1c0c"/><circle cx="288.8" cy="500.8" r="0.89" fill="#4a2412"/><circle cx="288.2" cy="501.8" r="0.71" fill="#5a3018"/><circle cx="294.7" cy="500.8" r="1.39" fill="#5a3018"/><circle cx="293.1" cy="502.3" r="1.46" fill="#5a3018"/><circle cx="287.6" cy="499.9" r="0.74" fill="#6a3a1e"/><circle cx="289.2" cy="501.6" r="1.35" fill="#3c1c0c"/><circle cx="279.7" cy="499.0" r="1.36" fill="#6a3a1e"/><circle cx="282.8" cy="501.2" r="1.53" fill="#3c1c0c"/><circle cx="283.1" cy="499.3" r="1.09" fill="#6a3a1e"/><circle cx="283.2" cy="499.2" r="0.90" fill="#4a2412"/><circle cx="282.2" cy="500.9" r="0.92" fill="#4a2412"/><circle cx="278.5" cy="498.6" r="1.15" fill="#5a3018"/><circle cx="279.0" cy="498.4" r="1.56" fill="#5a3018"/><circle cx="270.9" cy="497.2" r="1.59" fill="#3c1c0c"/><circle cx="269.6" cy="496.2" r="1.04" fill="#3c1c0c"/><circle cx="276.0" cy="497.3" r="1.56" fill="#3c1c0c"/><circle cx="272.7" cy="496.9" r="0.80" fill="#5a3018"/><circle cx="272.2" cy="497.4" r="1.27" fill="#6a3a1e"/><circle cx="270.0" cy="496.6" r="1.11" fill="#6a3a1e"/><circle cx="273.8" cy="497.1" r="0.94" fill="#5a3018"/><circle cx="265.6" cy="491.8" r="1.19" fill="#5a3018"/><circle cx="267.1" cy="493.4" r="1.59" fill="#4a2412"/><circle cx="269.5" cy="494.8" r="0.78" fill="#4a2412"/><circle cx="267.5" cy="494.7" r="1.28" fill="#4a2412"/><circle cx="268.4" cy="493.6" r="0.80" fill="#5a3018"/><circle cx="267.9" cy="492.4" r="1.14" fill="#5a3018"/><circle cx="266.4" cy="492.4" r="1.26" fill="#4a2412"/>
<circle cx="261" cy="471" r="2.0" fill="#55301a"/>
<circle cx="264" cy="475" r="1.5" fill="#55301a"/>
<circle cx="267.5" cy="477.5" r="1.4" fill="#55301a"/>
<circle cx="271" cy="480" r="1.6" fill="#55301a"/>
<circle cx="276" cy="469" r="1.5" fill="#55301a"/>
<circle cx="285" cy="467" r="1.2" fill="#55301a"/>
<circle cx="293" cy="462" r="1.0" fill="#55301a"/>
<circle cx="301" cy="461" r="1.0" fill="#55301a"/>
<circle cx="306" cy="462" r="1.1" fill="#55301a"/>
<circle cx="309" cy="460" r="1.5" fill="#55301a"/>
<circle cx="312" cy="461" r="1.0" fill="#55301a"/>
<circle cx="283" cy="477" r="1.3" fill="#55301a"/>
<circle cx="278" cy="474" r="1.2" fill="#55301a"/>
<circle cx="263" cy="482" r="1.2" fill="#55301a"/>
<circle cx="270" cy="487" r="1.5" fill="#55301a"/>
<ellipse cx="261.6" cy="490.9" rx="4.3" ry="4" fill="#5c321a"/>
<text x="308.30" y="493.24" font-size="7.6" fill="#fff" font-weight="bold" text-anchor="middle" textLength="17.4" lengthAdjust="spacingAndGlyphs" >1 cm</text>
<rect x="300.60" y="495.00" width="18.40" height="1.40" fill="#fff" />
<rect x="195.00" y="451.50" width="136.00" height="109.40" fill="none" stroke="#333" stroke-width="1.0"/>
<text transform="translate(185.60,502.80) rotate(-90)" x="0" y="2.81" font-size="7.8" fill="#000" font-weight="bold" text-anchor="middle" textLength="61.6" lengthAdjust="spacingAndGlyphs" >Intensity (arb. u.)</text>
<line x1="195.00" y1="560.90" x2="195.00" y2="562.90" stroke="#333" stroke-width="0.7" />
<text x="195.00" y="569.54" font-size="6.5" fill="#000" font-weight="bold" text-anchor="middle" >10</text>
<line x1="214.43" y1="560.90" x2="214.43" y2="562.90" stroke="#333" stroke-width="0.7" />
<text x="214.43" y="569.54" font-size="6.5" fill="#000" font-weight="bold" text-anchor="middle" >20</text>
<line x1="233.86" y1="560.90" x2="233.86" y2="562.90" stroke="#333" stroke-width="0.7" />
<text x="233.86" y="569.54" font-size="6.5" fill="#000" font-weight="bold" text-anchor="middle" >30</text>
<line x1="253.29" y1="560.90" x2="253.29" y2="562.90" stroke="#333" stroke-width="0.7" />
<text x="253.29" y="569.54" font-size="6.5" fill="#000" font-weight="bold" text-anchor="middle" >40</text>
<line x1="272.71" y1="560.90" x2="272.71" y2="562.90" stroke="#333" stroke-width="0.7" />
<text x="272.71" y="569.54" font-size="6.5" fill="#000" font-weight="bold" text-anchor="middle" >50</text>
<line x1="292.14" y1="560.90" x2="292.14" y2="562.90" stroke="#333" stroke-width="0.7" />
<text x="292.14" y="569.54" font-size="6.5" fill="#000" font-weight="bold" text-anchor="middle" >60</text>
<line x1="311.57" y1="560.90" x2="311.57" y2="562.90" stroke="#333" stroke-width="0.7" />
<text x="311.57" y="569.54" font-size="6.5" fill="#000" font-weight="bold" text-anchor="middle" >70</text>
<line x1="331.00" y1="560.90" x2="331.00" y2="562.90" stroke="#333" stroke-width="0.7" />
<text x="331.00" y="569.54" font-size="6.5" fill="#000" font-weight="bold" text-anchor="middle" >80</text>
<line x1="204.71" y1="560.90" x2="204.71" y2="562.10" stroke="#333" stroke-width="0.6" />
<line x1="224.14" y1="560.90" x2="224.14" y2="562.10" stroke="#333" stroke-width="0.6" />
<line x1="243.57" y1="560.90" x2="243.57" y2="562.10" stroke="#333" stroke-width="0.6" />
<line x1="263.00" y1="560.90" x2="263.00" y2="562.10" stroke="#333" stroke-width="0.6" />
<line x1="282.43" y1="560.90" x2="282.43" y2="562.10" stroke="#333" stroke-width="0.6" />
<line x1="301.86" y1="560.90" x2="301.86" y2="562.10" stroke="#333" stroke-width="0.6" />
<line x1="321.29" y1="560.90" x2="321.29" y2="562.10" stroke="#333" stroke-width="0.6" />
<text x="263.30" y="576.04" font-size="7.9" fill="#000" font-weight="bold" text-anchor="middle" textLength="41" lengthAdjust="spacingAndGlyphs" >2θ (degree)</text>
<polyline points="195.50,524.00 195.64,522.81 195.79,523.21 195.93,528.32 196.07,521.55 196.21,521.60 196.36,524.91 196.50,524.51 196.64,528.31 196.79,526.66 196.93,522.64 197.07,522.39 197.21,523.72 197.36,528.66 197.50,526.64 197.64,520.83 197.79,525.38 197.93,522.22 198.07,523.39 198.21,518.37 198.36,515.78 198.39,519.67 198.50,521.53 198.64,521.76 198.79,525.52 198.93,524.17 199.07,521.57 199.21,525.84 199.36,522.93 199.50,520.97 199.64,523.09 199.79,528.56 199.93,525.84 200.07,528.26 200.21,527.42 200.36,527.20 200.50,521.80 200.64,525.89 200.79,524.75 200.93,527.86 201.07,522.75 201.21,528.50 201.36,527.79 201.50,524.18 201.64,526.21 201.79,524.37 201.93,526.01 202.07,527.79 202.21,523.63 202.36,527.11 202.50,521.17 202.64,525.37 202.79,524.26 202.93,525.09 203.07,528.34 203.21,528.30 203.36,522.07 203.50,523.25 203.64,523.77 203.79,526.96 203.93,525.27 204.07,520.61 204.21,510.09 204.36,503.87 204.50,503.50 204.56,502.85 204.64,504.09 204.79,509.21 204.93,510.89 205.07,519.45 205.21,525.66 205.36,522.20 205.50,525.81 205.64,522.80 205.79,523.69 205.93,525.93 206.07,526.44 206.21,522.87 206.36,526.57 206.50,523.72 206.64,528.49 206.79,526.76 206.93,525.24 207.07,523.84 207.21,526.01 207.36,523.18 207.50,526.10 207.64,522.12 207.79,521.46 207.93,524.68 208.07,527.47 208.21,521.51 208.36,523.47 208.50,522.91 208.64,522.74 208.79,523.52 208.93,524.01 209.07,523.88 209.21,528.17 209.36,525.32 209.50,527.00 209.64,523.59 209.79,524.86 209.93,527.90 210.07,525.79 210.21,526.13 210.36,522.93 210.50,519.16 210.64,517.45 210.79,512.79 210.93,504.69 211.07,502.63 211.12,500.01 211.21,499.17 211.36,504.30 211.50,510.66 211.64,514.45 211.79,518.70 211.93,524.05 212.07,523.59 212.21,521.46 212.36,523.88 212.50,521.59 212.64,527.77 212.79,523.76 212.93,524.02 213.07,525.70 213.21,526.75 213.36,521.20 213.50,521.55 213.64,523.96 213.79,521.19 213.93,525.34 214.07,521.16 214.21,526.39 214.36,527.70 214.50,525.12 214.64,522.85 214.79,528.46 214.93,526.69 215.07,522.49 215.21,526.23 215.36,520.76 215.50,523.47 215.64,522.89 215.79,521.37 215.93,520.62 216.07,521.47 216.21,522.40 216.36,520.16 216.50,517.45 216.64,522.20 216.71,519.34 216.79,515.96 216.93,523.03 217.07,520.54 217.21,519.36 217.36,522.15 217.50,523.48 217.64,520.60 217.79,525.62 217.93,527.72 218.07,523.04 218.21,526.41 218.36,521.48 218.50,524.96 218.64,524.72 218.79,527.44 218.93,522.24 219.07,526.98 219.21,522.69 219.36,528.47 219.50,521.46 219.64,523.07 219.79,522.09 219.93,523.93 220.07,523.02 220.21,526.57 220.36,527.48 220.50,525.28 220.64,523.65 220.79,527.68 220.93,527.79 221.07,524.36 221.21,521.78 221.36,525.22 221.50,524.04 221.64,521.45 221.79,528.23 221.93,527.48 222.07,524.96 222.21,524.45 222.36,526.60 222.50,526.77 222.64,524.48 222.79,526.71 222.93,522.84 223.07,523.23 223.21,527.90 223.36,527.51 223.50,523.68 223.64,521.49 223.79,525.51 223.93,527.25 224.07,526.15 224.21,518.81 224.36,522.83 224.50,515.98 224.64,514.99 224.79,514.34 224.93,514.72 225.07,509.13 225.21,507.88 225.36,502.02 225.50,499.61 225.64,497.26 225.79,497.83 225.93,495.98 225.97,500.59 226.07,500.00 226.21,496.03 226.36,498.44 226.50,503.30 226.64,504.59 226.79,508.40 226.93,513.60 227.07,514.75 227.21,513.26 227.36,520.10 227.50,522.52 227.64,523.43 227.79,526.21 227.93,524.46 228.07,522.48 228.21,524.60 228.36,527.37 228.50,526.23 228.64,522.78 228.79,526.73 228.93,526.57 229.07,525.76 229.21,525.71 229.36,524.93 229.50,523.16 229.64,527.19 229.79,523.73 229.93,523.67 230.07,520.99 230.21,528.23 230.36,525.25 230.50,524.68 230.64,524.58 230.79,527.63 230.93,521.79 231.07,521.27 231.21,526.37 231.36,524.97 231.50,525.61 231.64,523.82 231.79,524.08 231.93,519.36 232.07,513.23 232.21,510.70 232.36,506.69 232.50,498.75 232.53,498.98 232.64,506.32 232.79,506.06 232.93,511.53 233.07,513.78 233.21,520.57 233.36,519.26 233.50,526.22 233.64,527.47 233.79,522.11 233.93,527.30 234.07,526.49 234.21,525.37 234.36,526.49 234.50,523.07 234.64,526.94 234.79,525.55 234.93,525.30 235.07,522.94 235.21,521.91 235.36,522.89 235.50,525.39 235.64,523.86 235.79,523.19 235.93,526.70 236.07,525.50 236.21,527.89 236.36,526.67 236.50,526.19 236.64,522.85 236.79,528.12 236.93,527.50 237.07,522.32 237.21,523.81 237.36,525.22 237.50,525.68 237.64,523.88 237.79,521.66 237.93,521.42 238.07,516.81 238.21,509.53 238.36,507.21 238.50,491.40 238.64,485.44 238.79,476.63 238.89,476.79 238.93,476.06 239.07,478.76 239.21,493.14 239.36,503.13 239.50,509.16 239.64,516.50 239.79,521.82 239.93,522.14 240.07,521.61 240.21,524.64 240.36,519.62 240.50,519.49 240.64,521.39 240.79,517.17 240.93,522.23 241.01,521.92 241.07,515.71 241.21,517.16 241.36,519.38 241.50,521.05 241.64,523.59 241.79,523.61 241.93,526.29 242.07,525.00 242.21,524.64 242.36,522.54 242.50,521.89 242.64,517.29 242.79,516.94 242.93,517.68 242.94,518.88 243.07,516.80 243.21,520.59 243.36,523.63 243.50,521.56 243.64,521.48 243.79,520.63 243.93,522.58 244.07,522.83 244.21,521.50 244.36,523.50 244.50,522.92 244.64,526.56 244.79,520.54 244.93,518.47 245.07,519.31 245.21,513.71 245.36,503.34 245.50,489.61 245.64,480.12 245.79,466.02 245.93,457.86 246.03,454.76 246.07,459.46 246.21,462.88 246.36,476.90 246.50,485.28 246.64,503.24 246.79,507.64 246.93,515.06 247.07,521.52 247.21,519.99 247.36,525.85 247.50,520.92 247.64,528.06 247.79,524.36 247.93,527.01 248.07,524.16 248.21,523.47 248.36,528.02 248.50,522.33 248.64,525.85 248.79,522.81 248.93,524.66 249.07,518.13 249.21,521.08 249.36,517.89 249.50,515.84 249.64,514.99 249.69,510.19 249.79,509.96 249.93,510.84 250.07,515.62 250.21,521.81 250.36,524.44 250.50,523.86 250.64,522.69 250.79,527.51 250.93,524.28 251.07,527.67 251.21,525.82 251.36,525.06 251.50,521.25 251.64,522.96 251.79,526.14 251.93,524.88 252.07,523.23 252.21,525.57 252.36,524.89 252.50,522.62 252.64,526.11 252.79,521.88 252.93,527.44 253.07,525.55 253.21,525.72 253.36,524.61 253.50,516.99 253.64,521.02 253.74,522.79 253.79,517.25 253.93,518.23 254.07,524.68 254.21,522.48 254.36,522.83 254.50,526.25 254.64,524.77 254.79,527.60 254.93,521.40 255.07,524.48 255.21,525.69 255.36,525.22 255.50,521.57 255.64,522.96 255.79,527.41 255.93,523.82 256.07,519.92 256.21,522.54 256.36,519.16 256.44,523.58 256.50,521.66 256.64,517.40 256.79,522.46 256.93,522.94 257.07,522.13 257.21,526.58 257.36,527.61 257.50,521.87 257.64,526.78 257.79,522.55 257.93,523.87 258.07,526.98 258.21,521.28 258.36,527.13 258.50,526.68 258.64,525.89 258.79,527.42 258.93,521.34 259.07,527.68 259.21,523.66 259.36,525.77 259.50,524.42 259.64,526.78 259.79,526.60 259.93,522.88 260.07,525.04 260.21,528.62 260.36,525.41 260.50,524.10 260.64,528.07 260.79,528.01 260.93,525.18 261.07,524.99 261.21,521.05 261.36,520.48 261.50,514.51 261.64,508.43 261.79,508.70 261.93,501.06 262.04,504.30 262.07,503.61 262.21,502.42 262.36,509.15 262.50,516.41 262.64,517.89 262.79,523.06 262.93,525.95 263.07,524.95 263.21,520.84 263.36,526.51 263.50,522.84 263.64,522.38 263.79,525.70 263.93,526.59 264.07,521.95 264.21,521.66 264.36,527.30 264.50,523.03 264.64,528.25 264.79,522.37 264.93,521.78 265.07,523.94 265.21,523.20 265.36,523.82 265.50,521.24 265.64,528.16 265.79,527.64 265.93,525.17 266.07,521.97 266.21,528.10 266.36,522.03 266.50,522.75 266.64,526.00 266.79,522.71 266.93,521.40 267.07,526.50 267.21,525.47 267.36,524.70 267.50,522.76 267.64,521.79 267.79,519.52 267.82,523.50 267.93,519.50 268.07,521.14 268.21,524.82 268.36,523.17 268.50,520.82 268.64,523.01 268.79,522.59 268.93,526.05 269.07,526.50 269.21,521.75 269.36,523.90 269.50,521.19 269.64,522.69 269.79,527.84 269.93,522.26 270.07,528.41 270.21,525.74 270.36,523.00 270.50,525.40 270.64,527.61 270.79,523.13 270.93,521.81 271.07,526.13 271.21,521.62 271.36,521.83 271.50,527.73 271.64,526.62 271.79,524.21 271.93,527.75 272.07,521.77 272.21,524.86 272.36,522.59 272.50,524.31 272.64,521.16 272.79,525.14 272.93,524.60 273.07,525.06 273.21,524.57 273.36,525.01 273.50,520.04 273.64,519.62 273.79,522.38 273.93,513.82 274.07,514.46 274.21,509.88 274.36,509.36 274.50,507.83 274.57,503.91 274.64,508.61 274.79,506.27 274.93,513.67 275.07,516.41 275.21,520.18 275.36,519.18 275.50,524.56 275.64,526.27 275.79,525.84 275.93,527.93 276.07,527.63 276.21,526.02 276.36,523.73 276.50,522.20 276.64,526.35 276.79,521.79 276.93,525.36 277.07,521.04 277.21,523.77 277.36,522.84 277.50,521.38 277.64,522.23 277.79,525.55 277.93,523.38 278.07,523.02 278.21,523.19 278.36,522.26 278.50,524.32 278.64,522.29 278.79,521.27 278.93,523.30 279.07,525.65 279.21,518.72 279.36,523.18 279.50,518.62 279.64,517.22 279.79,518.51 279.93,514.64 280.07,512.90 280.21,514.43 280.36,511.97 280.36,513.20 280.50,514.55 280.64,517.89 280.79,513.04 280.93,520.14 281.07,516.25 281.21,520.09 281.36,518.76 281.50,521.70 281.64,520.86 281.79,522.82 281.93,523.28 282.07,521.76 282.21,528.32 282.36,520.83 282.50,527.88 282.64,527.66 282.79,527.65 282.93,528.33 283.07,526.11 283.21,524.92 283.36,520.66 283.50,521.73 283.64,523.26 283.79,522.11 283.93,521.18 284.07,518.56 284.21,517.92 284.36,516.25 284.41,516.56 284.50,517.77 284.64,516.57 284.79,520.35 284.93,522.17 285.07,520.71 285.21,525.12 285.36,520.86 285.50,527.09 285.64,525.19 285.79,525.90 285.93,527.27 286.07,527.46 286.21,524.63 286.36,522.20 286.50,521.40 286.64,527.17 286.79,528.16 286.93,522.86 287.07,522.50 287.21,521.71 287.36,524.35 287.50,525.30 287.64,522.18 287.79,526.34 287.93,527.67 288.07,526.19 288.21,522.32 288.36,520.19 288.50,521.64 288.64,515.55 288.79,513.53 288.93,512.14 289.07,509.74 289.21,508.55 289.23,509.69 289.36,510.59 289.50,513.68 289.64,517.81 289.79,519.03 289.93,522.65 290.07,518.29 290.21,525.92 290.36,520.21 290.50,525.10 290.64,522.60 290.79,526.67 290.93,523.87 291.07,521.41 291.21,521.70 291.36,516.92 291.50,509.32 291.64,508.94 291.79,501.55 291.93,501.76 292.07,498.99 292.12,500.17 292.21,500.81 292.36,503.42 292.50,504.42 292.64,511.38 292.79,510.91 292.93,519.50 293.07,516.06 293.21,524.64 293.36,524.57 293.50,527.25 293.64,526.74 293.79,523.12 293.93,522.22 294.07,524.04 294.21,527.19 294.36,526.20 294.50,527.87 294.64,525.81 294.79,521.45 294.93,525.24 295.07,519.80 295.21,521.17 295.36,522.12 295.50,523.29 295.64,516.81 295.79,521.69 295.79,520.33 295.93,520.33 296.07,524.53 296.21,520.59 296.36,522.96 296.50,523.88 296.64,522.06 296.79,525.81 296.93,527.45 297.07,528.17 297.21,526.50 297.36,528.07 297.50,521.28 297.64,526.87 297.79,528.12 297.93,527.35 298.07,526.09 298.21,527.87 298.36,521.21 298.50,521.82 298.64,522.56 298.79,527.17 298.93,527.90 299.07,523.15 299.21,528.37 299.36,522.34 299.50,523.15 299.64,521.62 299.79,525.41 299.93,525.51 300.07,525.14 300.21,524.67 300.36,521.75 300.50,513.53 300.64,510.87 300.79,508.53 300.93,506.49 301.07,502.59 301.19,500.52 301.21,505.22 301.36,503.40 301.50,510.70 301.64,512.78 301.79,513.63 301.93,520.00 302.07,523.28 302.21,525.55 302.36,522.30 302.50,524.59 302.64,523.72 302.79,527.72 302.93,525.05 303.07,527.95 303.21,525.94 303.36,524.80 303.50,526.31 303.64,524.09 303.79,526.10 303.93,525.07 304.07,523.53 304.21,525.23 304.36,526.89 304.50,521.34 304.64,524.71 304.79,528.20 304.93,527.29 305.07,521.52 305.21,526.01 305.36,523.62 305.50,526.72 305.64,521.81 305.79,526.61 305.93,524.74 306.07,523.66 306.21,524.99 306.36,523.00 306.50,523.73 306.64,524.84 306.79,526.16 306.93,525.85 307.07,524.02 307.21,521.69 307.36,523.28 307.50,526.77 307.64,523.47 307.79,522.38 307.93,524.26 308.07,522.32 308.21,523.90 308.36,523.43 308.50,518.73 308.64,520.74 308.79,525.12 308.90,520.68 308.93,519.81 309.07,524.59 309.21,521.49 309.36,519.40 309.50,520.48 309.64,524.37 309.79,520.78 309.93,525.68 310.07,524.35 310.21,523.79 310.36,523.34 310.50,524.80 310.64,523.63 310.79,528.40 310.93,526.15 311.07,528.07 311.21,521.46 311.36,526.44 311.50,526.77 311.64,524.37 311.79,524.66 311.93,526.12 312.07,527.63 312.21,526.17 312.36,521.24 312.50,523.27 312.64,523.13 312.79,520.73 312.93,519.88 313.07,522.66 313.14,522.73 313.21,517.87 313.36,517.28 313.50,517.19 313.64,518.51 313.79,525.91 313.93,519.47 314.07,522.00 314.21,527.68 314.36,524.84 314.50,521.34 314.64,521.06 314.79,526.00 314.93,525.34 315.07,525.04 315.21,521.43 315.36,526.38 315.50,526.68 315.64,527.64 315.79,521.13 315.93,524.71 316.07,523.52 316.21,525.62 316.36,528.14 316.50,525.27 316.64,523.41 316.79,526.71 316.93,524.71 317.07,522.15 317.21,527.83 317.36,521.91 317.50,526.46 317.64,528.37 317.79,521.55 317.93,528.02 318.07,522.10 318.21,526.46 318.36,527.44 318.50,526.18 318.64,520.63 318.79,523.13 318.93,525.43 319.07,519.33 319.21,518.85 319.31,518.11 319.36,518.80 319.50,518.82 319.64,525.39 319.79,521.77 319.93,521.62 320.07,524.72 320.21,526.36 320.36,524.13 320.50,526.22 320.64,521.34 320.79,523.05 320.93,528.47 321.07,527.67 321.21,523.12 321.36,523.92 321.50,523.10 321.64,526.95 321.79,527.47 321.93,521.64 322.07,525.89 322.21,526.60 322.36,524.69 322.50,522.13 322.64,528.18 322.79,526.96 322.93,525.76 323.07,526.34 323.21,524.77 323.36,523.43 323.50,521.42 323.64,522.82 323.79,523.92 323.93,522.71 324.07,527.01 324.21,527.02 324.36,523.10 324.50,526.01 324.64,527.81 324.79,524.79 324.93,522.13 325.07,521.00 325.21,518.19 325.36,520.90 325.50,522.80 325.64,520.09 325.68,523.68 325.79,522.53 325.93,519.33 326.07,523.39 326.21,518.82 326.36,523.20 326.50,522.23 326.64,526.95 326.79,523.72 326.93,520.99 327.07,522.24 327.21,524.71 327.36,524.92 327.50,522.87 327.64,527.85 327.79,524.72 327.93,524.49 328.07,524.04 328.21,527.68 328.36,525.74 328.50,522.56 328.64,522.76 328.79,527.69 328.93,527.02 329.07,523.21 329.21,528.58 329.36,522.67 329.50,521.03 329.64,523.03 329.79,524.10 329.93,526.85 330.07,524.20 330.21,524.02 330.36,523.73 330.50,525.37" fill="none" stroke="#41b2dc" stroke-width="1.1" stroke-linejoin="round"/>
<line x1="210.54" y1="560.40" x2="210.54" y2="552.00" stroke="#d04868" stroke-width="0.9" />
<line x1="231.72" y1="560.40" x2="231.72" y2="549.30" stroke="#d04868" stroke-width="0.9" />
<line x1="235.80" y1="560.40" x2="235.80" y2="556.40" stroke="#d04868" stroke-width="0.9" />
<line x1="238.52" y1="560.40" x2="238.52" y2="536.70" stroke="#d04868" stroke-width="0.9" />
<line x1="245.71" y1="560.40" x2="245.71" y2="532.80" stroke="#d04868" stroke-width="0.9" />
<line x1="249.40" y1="560.40" x2="249.40" y2="555.10" stroke="#d04868" stroke-width="0.9" />
<line x1="261.83" y1="560.40" x2="261.83" y2="555.00" stroke="#d04868" stroke-width="0.9" />
<line x1="274.07" y1="560.40" x2="274.07" y2="553.80" stroke="#d04868" stroke-width="0.9" />
<line x1="280.29" y1="560.40" x2="280.29" y2="557.00" stroke="#d04868" stroke-width="0.9" />
<line x1="284.37" y1="560.40" x2="284.37" y2="557.00" stroke="#d04868" stroke-width="0.9" />
<line x1="289.23" y1="560.40" x2="289.23" y2="553.80" stroke="#d04868" stroke-width="0.9" />
<line x1="291.95" y1="560.40" x2="291.95" y2="546.70" stroke="#d04868" stroke-width="0.9" />
<line x1="301.08" y1="560.40" x2="301.08" y2="555.00" stroke="#d04868" stroke-width="0.9" />
<line x1="310.79" y1="560.40" x2="310.79" y2="558.50" stroke="#d04868" stroke-width="0.9" />
<line x1="319.54" y1="560.40" x2="319.54" y2="557.50" stroke="#d04868" stroke-width="0.9" />
<line x1="325.56" y1="560.40" x2="325.56" y2="558.50" stroke="#d04868" stroke-width="0.9" />
<text x="262.30" y="535.94" font-size="7.6" fill="#c8506a" textLength="21.1" lengthAdjust="spacingAndGlyphs" >Mn<tspan font-size="5.4" dy="2">3</tspan><tspan dy="-2">O</tspan><tspan font-size="5.4" dy="2">4</tspan></text>
<text x="250.20" y="546.24" font-size="7.6" fill="#c8506a" textLength="49.6" lengthAdjust="spacingAndGlyphs" >(PDF#24-0734)</text>
<text x="345.40" y="454.58" font-size="13" fill="#000" font-weight="bold" >m</text>
<defs><radialGradient id="mph" cx="0.5" cy="0.5" r="0.72"><stop offset="0.3" stop-color="#f4f2ee"/><stop offset="1" stop-color="#dcd7ce"/></radialGradient></defs>
<rect x="421.70" y="459.40" width="74.50" height="49.60" fill="url(#mph)" filter="url(#blur15)"/>
<defs><clipPath id="mclip"><path d="M426.0,490.0 L428.0,482.0 L433.0,475.0 L440.0,468.0 L448.0,463.0 L456.0,461.0 L465.0,462.0 L474.0,466.0 L481.0,473.0 L486.0,481.0 L487.5,489.0 L484.0,496.0 L476.0,502.0 L466.0,505.5 L455.0,506.5 L444.0,505.0 L435.0,500.0 L429.0,495.0 Z"/></clipPath></defs>
<path d="M426.0,490.0 L428.0,482.0 L433.0,475.0 L440.0,468.0 L448.0,463.0 L456.0,461.0 L465.0,462.0 L474.0,466.0 L481.0,473.0 L486.0,481.0 L487.5,489.0 L484.0,496.0 L476.0,502.0 L466.0,505.5 L455.0,506.5 L444.0,505.0 L435.0,500.0 L429.0,495.0 Z" fill="#5cba62" filter="url(#blur06)"/>
<g clip-path="url(#mclip)"><circle cx="469.5" cy="501.2" r="0.88" fill="#9ce2a2"/><circle cx="473.6" cy="464.1" r="0.78" fill="#6cc474"/><circle cx="465.4" cy="499.9" r="0.97" fill="#58b662"/><circle cx="439.1" cy="497.3" r="0.54" fill="#84d48a"/><circle cx="479.5" cy="474.5" r="0.76" fill="#44984e"/><circle cx="458.6" cy="468.8" r="0.77" fill="#4aa856"/><circle cx="430.2" cy="479.0" r="0.89" fill="#4aa856"/><circle cx="483.3" cy="487.0" r="0.55" fill="#58b662"/><circle cx="433.2" cy="489.2" r="0.71" fill="#9ce2a2"/><circle cx="471.2" cy="499.9" r="0.78" fill="#84d48a"/><circle cx="468.7" cy="488.8" r="0.90" fill="#44984e"/><circle cx="456.8" cy="463.0" r="0.85" fill="#44984e"/><circle cx="477.6" cy="491.7" r="0.84" fill="#9ce2a2"/><circle cx="465.3" cy="506.0" r="1.03" fill="#9ce2a2"/><circle cx="447.8" cy="506.6" r="0.80" fill="#4aa856"/><circle cx="475.9" cy="483.5" r="0.52" fill="#58b662"/><circle cx="470.7" cy="501.1" r="1.09" fill="#58b662"/><circle cx="432.3" cy="484.9" r="0.95" fill="#84d48a"/><circle cx="439.7" cy="478.1" r="1.09" fill="#58b662"/><circle cx="461.6" cy="493.0" r="0.71" fill="#4aa856"/><circle cx="441.9" cy="499.2" r="0.68" fill="#58b662"/><circle cx="471.0" cy="504.1" r="0.60" fill="#9ce2a2"/><circle cx="437.3" cy="498.0" r="0.91" fill="#44984e"/><circle cx="475.7" cy="480.0" r="1.09" fill="#44984e"/><circle cx="430.7" cy="471.9" r="0.79" fill="#9ce2a2"/><circle cx="440.6" cy="463.9" r="0.65" fill="#6cc474"/><circle cx="482.0" cy="493.1" r="0.96" fill="#9ce2a2"/><circle cx="472.1" cy="488.5" r="1.01" fill="#44984e"/><circle cx="450.9" cy="499.1" r="0.60" fill="#58b662"/><circle cx="473.6" cy="470.0" r="0.59" fill="#84d48a"/><circle cx="455.4" cy="467.4" r="0.65" fill="#44984e"/><circle cx="429.0" cy="480.7" r="0.52" fill="#84d48a"/><circle cx="471.6" cy="475.4" r="0.59" fill="#4aa856"/><circle cx="439.2" cy="474.7" r="0.85" fill="#9ce2a2"/><circle cx="447.7" cy="500.4" r="0.67" fill="#44984e"/><circle cx="482.4" cy="485.3" r="1.07" fill="#58b662"/><circle cx="454.3" cy="497.7" r="0.65" fill="#6cc474"/><circle cx="432.7" cy="493.4" r="0.95" fill="#84d48a"/><circle cx="462.6" cy="489.5" r="0.56" fill="#58b662"/><circle cx="438.2" cy="467.5" r="0.54" fill="#58b662"/><circle cx="449.6" cy="476.9" r="0.82" fill="#4aa856"/><circle cx="432.0" cy="497.7" r="0.87" fill="#84d48a"/><circle cx="463.9" cy="497.5" r="0.93" fill="#6cc474"/><circle cx="457.1" cy="465.4" r="0.80" fill="#44984e"/><circle cx="460.3" cy="462.9" r="0.50" fill="#9ce2a2"/><circle cx="469.3" cy="472.6" r="0.84" fill="#44984e"/><circle cx="459.3" cy="507.4" r="0.86" fill="#44984e"/><circle cx="475.3" cy="487.9" r="0.69" fill="#4aa856"/><circle cx="467.8" cy="464.4" r="0.79" fill="#6cc474"/><circle cx="476.2" cy="494.8" r="0.80" fill="#44984e"/><circle cx="445.7" cy="499.4" r="0.67" fill="#6cc474"/><circle cx="432.4" cy="481.1" r="0.54" fill="#4aa856"/><circle cx="474.9" cy="481.9" r="0.69" fill="#9ce2a2"/><circle cx="462.9" cy="488.1" r="0.54" fill="#9ce2a2"/><circle cx="424.9" cy="483.3" r="0.91" fill="#44984e"/><circle cx="434.5" cy="490.1" r="0.73" fill="#9ce2a2"/><circle cx="460.6" cy="485.6" r="0.90" fill="#58b662"/><circle cx="456.5" cy="504.1" r="0.99" fill="#44984e"/><circle cx="430.4" cy="493.5" r="0.74" fill="#4aa856"/><circle cx="430.7" cy="485.6" r="1.08" fill="#58b662"/><circle cx="468.9" cy="486.3" r="0.72" fill="#6cc474"/><circle cx="477.8" cy="470.5" r="0.88" fill="#6cc474"/><circle cx="441.4" cy="464.6" r="0.92" fill="#44984e"/><circle cx="454.3" cy="500.6" r="0.80" fill="#4aa856"/><circle cx="434.2" cy="469.6" r="1.08" fill="#58b662"/><circle cx="463.6" cy="493.2" r="1.03" fill="#44984e"/><circle cx="470.5" cy="498.1" r="0.55" fill="#4aa856"/><circle cx="441.7" cy="473.9" r="0.95" fill="#58b662"/><circle cx="469.0" cy="483.4" r="0.76" fill="#44984e"/><circle cx="442.9" cy="500.5" r="0.91" fill="#4aa856"/><circle cx="460.7" cy="486.0" r="0.81" fill="#84d48a"/><circle cx="474.4" cy="473.9" r="0.64" fill="#44984e"/><circle cx="452.6" cy="498.6" r="1.06" fill="#9ce2a2"/><circle cx="438.3" cy="493.4" r="0.90" fill="#44984e"/><circle cx="465.1" cy="497.2" r="0.66" fill="#84d48a"/><circle cx="470.7" cy="482.3" r="0.71" fill="#44984e"/><circle cx="480.6" cy="476.0" r="0.51" fill="#6cc474"/><circle cx="438.3" cy="476.7" r="0.76" fill="#9ce2a2"/><circle cx="456.2" cy="486.1" r="0.83" fill="#58b662"/><circle cx="469.8" cy="482.2" r="0.72" fill="#58b662"/><circle cx="448.0" cy="490.4" r="0.98" fill="#9ce2a2"/><circle cx="449.0" cy="483.0" r="0.61" fill="#9ce2a2"/><circle cx="467.7" cy="476.0" r="0.84" fill="#6cc474"/><circle cx="482.8" cy="473.8" r="0.51" fill="#6cc474"/><circle cx="474.9" cy="491.0" r="1.00" fill="#44984e"/><circle cx="459.0" cy="489.4" r="0.99" fill="#6cc474"/><circle cx="434.1" cy="480.3" r="0.91" fill="#44984e"/><circle cx="447.3" cy="494.6" r="0.71" fill="#4aa856"/><circle cx="454.0" cy="482.2" r="0.98" fill="#44984e"/><circle cx="476.9" cy="491.1" r="0.91" fill="#84d48a"/><circle cx="443.9" cy="495.0" r="0.60" fill="#6cc474"/><circle cx="429.6" cy="484.6" r="0.89" fill="#84d48a"/><circle cx="471.1" cy="486.3" r="0.72" fill="#4aa856"/><circle cx="433.7" cy="494.9" r="0.94" fill="#6cc474"/><circle cx="439.8" cy="490.3" r="0.63" fill="#6cc474"/><circle cx="474.4" cy="487.6" r="0.82" fill="#44984e"/><circle cx="453.1" cy="481.3" r="0.72" fill="#9ce2a2"/><circle cx="471.5" cy="502.8" r="0.98" fill="#4aa856"/><circle cx="449.6" cy="473.9" r="0.97" fill="#6cc474"/><circle cx="426.2" cy="479.3" r="1.08" fill="#9ce2a2"/><circle cx="461.4" cy="499.8" r="0.92" fill="#4aa856"/><circle cx="474.9" cy="485.0" r="0.87" fill="#6cc474"/><circle cx="475.4" cy="486.3" r="0.95" fill="#84d48a"/><circle cx="477.3" cy="476.6" r="1.03" fill="#84d48a"/><circle cx="459.4" cy="501.0" r="0.67" fill="#9ce2a2"/><circle cx="454.1" cy="461.5" r="0.72" fill="#58b662"/><circle cx="457.6" cy="502.5" r="0.71" fill="#44984e"/><circle cx="463.6" cy="470.7" r="0.58" fill="#58b662"/><circle cx="482.6" cy="471.6" r="0.95" fill="#44984e"/><circle cx="454.3" cy="463.4" r="0.63" fill="#6cc474"/><circle cx="426.0" cy="480.7" r="0.81" fill="#58b662"/><circle cx="469.8" cy="500.6" r="0.87" fill="#9ce2a2"/><circle cx="459.6" cy="463.4" r="0.89" fill="#4aa856"/><circle cx="467.7" cy="504.0" r="0.63" fill="#9ce2a2"/><circle cx="453.7" cy="501.5" r="0.78" fill="#58b662"/><circle cx="460.5" cy="470.5" r="0.76" fill="#4aa856"/><circle cx="453.7" cy="463.6" r="1.10" fill="#9ce2a2"/><circle cx="459.6" cy="487.4" r="0.97" fill="#6cc474"/><circle cx="447.6" cy="505.0" r="0.77" fill="#9ce2a2"/><circle cx="459.9" cy="504.4" r="0.99" fill="#9ce2a2"/><circle cx="453.5" cy="480.5" r="1.05" fill="#84d48a"/><circle cx="434.3" cy="484.0" r="0.73" fill="#44984e"/><circle cx="430.3" cy="490.5" r="0.54" fill="#4aa856"/><circle cx="456.2" cy="469.3" r="0.65" fill="#9ce2a2"/><circle cx="464.2" cy="461.7" r="0.62" fill="#4aa856"/><circle cx="462.9" cy="479.8" r="0.68" fill="#44984e"/><circle cx="475.0" cy="499.2" r="1.06" fill="#58b662"/><circle cx="448.8" cy="472.1" r="0.63" fill="#84d48a"/><circle cx="474.7" cy="499.7" r="0.80" fill="#58b662"/><circle cx="448.8" cy="471.2" r="0.89" fill="#4aa856"/><circle cx="485.3" cy="485.3" r="0.67" fill="#4aa856"/><circle cx="449.2" cy="469.4" r="0.57" fill="#6cc474"/><circle cx="453.4" cy="481.1" r="0.93" fill="#6cc474"/><circle cx="449.7" cy="467.9" r="0.82" fill="#6cc474"/><circle cx="438.1" cy="497.6" r="0.88" fill="#4aa856"/><circle cx="468.7" cy="495.9" r="0.77" fill="#44984e"/><circle cx="433.9" cy="488.6" r="0.63" fill="#84d48a"/><circle cx="481.5" cy="486.4" r="0.77" fill="#84d48a"/><circle cx="460.7" cy="461.5" r="0.95" fill="#4aa856"/><circle cx="443.0" cy="484.6" r="0.98" fill="#4aa856"/><circle cx="449.8" cy="471.7" r="1.08" fill="#9ce2a2"/><circle cx="460.8" cy="492.6" r="0.87" fill="#84d48a"/><circle cx="457.9" cy="491.9" r="0.82" fill="#58b662"/><circle cx="448.3" cy="477.9" r="0.57" fill="#44984e"/><circle cx="448.7" cy="467.3" r="0.55" fill="#84d48a"/><circle cx="460.6" cy="501.8" r="0.65" fill="#9ce2a2"/><circle cx="430.4" cy="473.9" r="0.81" fill="#44984e"/><circle cx="463.7" cy="470.0" r="1.08" fill="#44984e"/><circle cx="438.3" cy="500.6" r="0.52" fill="#9ce2a2"/><circle cx="475.5" cy="488.4" r="0.98" fill="#9ce2a2"/><circle cx="468.7" cy="505.0" r="0.55" fill="#4aa856"/><circle cx="460.5" cy="463.9" r="0.82" fill="#84d48a"/><circle cx="451.3" cy="498.2" r="0.79" fill="#4aa856"/><circle cx="434.0" cy="497.8" r="0.53" fill="#4aa856"/><circle cx="436.8" cy="475.5" r="0.99" fill="#84d48a"/><circle cx="456.3" cy="474.7" r="0.69" fill="#58b662"/><circle cx="452.8" cy="503.6" r="1.04" fill="#58b662"/><circle cx="435.1" cy="499.9" r="0.76" fill="#44984e"/><circle cx="480.8" cy="498.7" r="0.63" fill="#4aa856"/><circle cx="454.9" cy="478.9" r="0.88" fill="#6cc474"/><circle cx="449.3" cy="493.1" r="1.05" fill="#9ce2a2"/><circle cx="443.1" cy="483.8" r="0.63" fill="#84d48a"/><circle cx="468.6" cy="473.8" r="0.90" fill="#84d48a"/><circle cx="474.5" cy="465.0" r="0.65" fill="#4aa856"/><circle cx="436.7" cy="481.4" r="0.67" fill="#6cc474"/><circle cx="467.0" cy="477.9" r="0.72" fill="#84d48a"/><circle cx="441.7" cy="504.0" r="1.01" fill="#84d48a"/><circle cx="449.5" cy="504.2" r="0.92" fill="#44984e"/><circle cx="485.3" cy="479.0" r="0.65" fill="#4aa856"/><circle cx="446.8" cy="497.1" r="1.09" fill="#84d48a"/><circle cx="455.1" cy="480.1" r="0.85" fill="#4aa856"/><circle cx="463.5" cy="507.1" r="0.96" fill="#84d48a"/><circle cx="463.4" cy="462.3" r="1.04" fill="#9ce2a2"/><circle cx="478.4" cy="481.7" r="0.92" fill="#6cc474"/><circle cx="459.1" cy="493.5" r="1.04" fill="#9ce2a2"/><circle cx="447.1" cy="472.8" r="0.58" fill="#9ce2a2"/><circle cx="481.8" cy="490.1" r="0.95" fill="#84d48a"/><circle cx="429.2" cy="489.9" r="0.53" fill="#44984e"/><circle cx="449.7" cy="492.9" r="0.85" fill="#44984e"/><circle cx="430.5" cy="490.7" r="0.75" fill="#9ce2a2"/><circle cx="478.7" cy="478.6" r="0.67" fill="#58b662"/><circle cx="447.3" cy="463.1" r="1.09" fill="#4aa856"/><circle cx="426.3" cy="489.2" r="1.03" fill="#4aa856"/><circle cx="462.7" cy="476.7" r="0.71" fill="#44984e"/><circle cx="440.7" cy="499.3" r="0.99" fill="#4aa856"/><circle cx="459.5" cy="474.7" r="1.08" fill="#58b662"/><circle cx="465.4" cy="496.2" r="0.63" fill="#58b662"/><circle cx="461.3" cy="485.1" r="0.69" fill="#44984e"/><circle cx="428.2" cy="476.6" r="1.01" fill="#6cc474"/><circle cx="450.9" cy="465.7" r="0.62" fill="#84d48a"/><circle cx="472.0" cy="478.2" r="0.65" fill="#84d48a"/><circle cx="453.2" cy="469.3" r="0.98" fill="#4aa856"/><circle cx="455.3" cy="463.5" r="0.65" fill="#4aa856"/><circle cx="460.1" cy="505.5" r="0.96" fill="#84d48a"/><circle cx="465.3" cy="483.8" r="1.08" fill="#9ce2a2"/><circle cx="430.2" cy="488.9" r="0.97" fill="#84d48a"/><circle cx="451.9" cy="468.4" r="0.53" fill="#9ce2a2"/><circle cx="463.9" cy="480.3" r="0.93" fill="#9ce2a2"/><circle cx="481.5" cy="470.9" r="0.99" fill="#58b662"/><circle cx="453.8" cy="482.5" r="0.96" fill="#4aa856"/><circle cx="429.1" cy="481.3" r="0.50" fill="#58b662"/><circle cx="478.0" cy="466.8" r="1.08" fill="#58b662"/><circle cx="438.8" cy="477.5" r="0.86" fill="#9ce2a2"/><circle cx="461.3" cy="467.7" r="0.66" fill="#6cc474"/><circle cx="447.6" cy="504.0" r="0.63" fill="#58b662"/><circle cx="466.8" cy="480.0" r="1.05" fill="#44984e"/><circle cx="449.6" cy="495.3" r="0.71" fill="#6cc474"/><circle cx="455.4" cy="469.4" r="0.81" fill="#58b662"/><circle cx="437.0" cy="466.4" r="0.78" fill="#9ce2a2"/><circle cx="448.5" cy="505.2" r="0.89" fill="#9ce2a2"/><circle cx="453.4" cy="494.4" r="0.84" fill="#4aa856"/><circle cx="435.4" cy="470.2" r="0.82" fill="#84d48a"/><circle cx="435.3" cy="466.9" r="0.66" fill="#44984e"/><circle cx="466.1" cy="500.0" r="1.08" fill="#84d48a"/><circle cx="478.5" cy="495.4" r="0.66" fill="#9ce2a2"/><circle cx="435.2" cy="492.1" r="0.65" fill="#4aa856"/><circle cx="477.3" cy="493.7" r="0.99" fill="#58b662"/><circle cx="469.8" cy="469.3" r="0.54" fill="#6cc474"/><circle cx="457.6" cy="486.2" r="0.96" fill="#6cc474"/><circle cx="483.8" cy="480.0" r="0.64" fill="#9ce2a2"/><circle cx="445.9" cy="461.3" r="1.01" fill="#9ce2a2"/><circle cx="454.2" cy="503.9" r="0.76" fill="#58b662"/><circle cx="448.4" cy="461.1" r="0.75" fill="#44984e"/><circle cx="447.0" cy="473.8" r="0.93" fill="#44984e"/><circle cx="470.0" cy="470.8" r="0.85" fill="#84d48a"/><circle cx="473.9" cy="489.3" r="0.72" fill="#4aa856"/><circle cx="433.5" cy="480.8" r="0.66" fill="#84d48a"/><circle cx="470.9" cy="480.9" r="0.61" fill="#4aa856"/><circle cx="438.9" cy="465.1" r="0.60" fill="#6cc474"/><circle cx="467.5" cy="500.4" r="0.93" fill="#44984e"/><circle cx="451.3" cy="481.3" r="0.53" fill="#44984e"/><circle cx="426.5" cy="486.7" r="0.86" fill="#84d48a"/><circle cx="475.0" cy="480.4" r="0.68" fill="#58b662"/><circle cx="468.1" cy="482.9" r="1.06" fill="#9ce2a2"/><circle cx="442.7" cy="471.4" r="0.74" fill="#9ce2a2"/><circle cx="441.5" cy="500.4" r="0.62" fill="#6cc474"/><circle cx="460.8" cy="477.4" r="1.09" fill="#58b662"/><circle cx="470.8" cy="493.8" r="0.89" fill="#6cc474"/><circle cx="433.7" cy="495.9" r="0.66" fill="#44984e"/><circle cx="462.4" cy="481.2" r="0.96" fill="#6cc474"/><circle cx="445.1" cy="479.8" r="0.81" fill="#58b662"/><circle cx="451.7" cy="490.9" r="0.74" fill="#44984e"/><circle cx="434.9" cy="489.0" r="0.67" fill="#6cc474"/><circle cx="462.5" cy="469.4" r="0.89" fill="#58b662"/><circle cx="459.7" cy="463.5" r="0.84" fill="#84d48a"/><circle cx="439.6" cy="486.2" r="0.98" fill="#9ce2a2"/><circle cx="459.4" cy="507.1" r="0.94" fill="#9ce2a2"/><circle cx="442.3" cy="493.6" r="1.07" fill="#84d48a"/><circle cx="444.7" cy="504.3" r="0.67" fill="#4aa856"/><circle cx="453.9" cy="480.4" r="0.88" fill="#4aa856"/><circle cx="465.9" cy="487.5" r="0.80" fill="#44984e"/><circle cx="428.1" cy="488.1" r="1.08" fill="#4aa856"/><circle cx="438.1" cy="495.1" r="0.55" fill="#84d48a"/><circle cx="468.3" cy="502.6" r="0.55" fill="#4aa856"/><circle cx="439.9" cy="471.4" r="1.08" fill="#6cc474"/><circle cx="447.6" cy="488.6" r="0.81" fill="#84d48a"/><circle cx="477.5" cy="493.8" r="1.07" fill="#44984e"/><circle cx="477.9" cy="480.1" r="0.75" fill="#84d48a"/><circle cx="459.9" cy="505.5" r="0.51" fill="#44984e"/><circle cx="455.1" cy="478.6" r="0.86" fill="#6cc474"/><circle cx="451.3" cy="473.9" r="0.57" fill="#9ce2a2"/><circle cx="454.1" cy="491.2" r="0.85" fill="#4aa856"/><circle cx="476.0" cy="469.4" r="0.52" fill="#84d48a"/><circle cx="480.8" cy="473.4" r="0.75" fill="#58b662"/><circle cx="440.5" cy="495.8" r="0.89" fill="#58b662"/><circle cx="486.0" cy="486.8" r="0.52" fill="#9ce2a2"/><circle cx="432.7" cy="478.1" r="0.69" fill="#44984e"/><circle cx="428.9" cy="488.7" r="0.55" fill="#4aa856"/><circle cx="466.5" cy="465.7" r="0.66" fill="#4aa856"/><circle cx="446.5" cy="503.1" r="0.58" fill="#6cc474"/><circle cx="475.2" cy="473.0" r="1.00" fill="#6cc474"/><circle cx="467.6" cy="471.8" r="0.81" fill="#58b662"/><circle cx="472.1" cy="482.3" r="0.92" fill="#58b662"/><circle cx="461.1" cy="470.4" r="0.78" fill="#4aa856"/><circle cx="484.5" cy="494.1" r="0.94" fill="#4aa856"/><circle cx="457.0" cy="503.6" r="0.63" fill="#84d48a"/><circle cx="464.0" cy="464.7" r="0.88" fill="#9ce2a2"/><circle cx="468.3" cy="480.9" r="0.82" fill="#9ce2a2"/><circle cx="486.8" cy="481.0" r="0.54" fill="#84d48a"/><circle cx="455.6" cy="488.8" r="0.89" fill="#44984e"/><circle cx="436.3" cy="476.4" r="0.88" fill="#84d48a"/><circle cx="461.7" cy="497.9" r="0.79" fill="#58b662"/><circle cx="463.6" cy="477.5" r="0.71" fill="#9ce2a2"/><circle cx="448.0" cy="472.8" r="0.72" fill="#4aa856"/><circle cx="463.7" cy="504.9" r="0.61" fill="#4aa856"/><circle cx="460.0" cy="480.9" r="0.97" fill="#84d48a"/><circle cx="430.9" cy="480.6" r="0.85" fill="#9ce2a2"/><circle cx="460.6" cy="502.2" r="0.70" fill="#6cc474"/><circle cx="480.9" cy="485.0" r="0.84" fill="#9ce2a2"/><circle cx="470.5" cy="500.4" r="0.77" fill="#6cc474"/><circle cx="473.7" cy="503.5" r="0.76" fill="#44984e"/><circle cx="448.5" cy="476.7" r="1.02" fill="#6cc474"/><circle cx="438.0" cy="480.2" r="0.57" fill="#6cc474"/><circle cx="476.7" cy="481.9" r="0.66" fill="#58b662"/><circle cx="455.1" cy="487.1" r="0.65" fill="#9ce2a2"/><circle cx="462.1" cy="474.7" r="0.70" fill="#9ce2a2"/><circle cx="453.4" cy="470.1" r="0.61" fill="#44984e"/><circle cx="468.2" cy="473.0" r="0.99" fill="#84d48a"/><circle cx="464.8" cy="468.1" r="1.09" fill="#84d48a"/><circle cx="452.0" cy="467.5" r="0.87" fill="#9ce2a2"/><circle cx="465.0" cy="496.6" r="0.59" fill="#9ce2a2"/><circle cx="459.2" cy="461.9" r="0.83" fill="#9ce2a2"/><circle cx="442.6" cy="492.9" r="0.62" fill="#4aa856"/><circle cx="429.9" cy="474.6" r="0.81" fill="#4aa856"/><circle cx="437.5" cy="498.1" r="0.98" fill="#6cc474"/><circle cx="447.3" cy="476.4" r="0.95" fill="#9ce2a2"/><circle cx="452.5" cy="491.7" r="0.96" fill="#84d48a"/><circle cx="445.3" cy="465.2" r="0.52" fill="#84d48a"/><circle cx="445.6" cy="462.3" r="0.54" fill="#6cc474"/><circle cx="450.7" cy="475.3" r="0.62" fill="#9ce2a2"/><circle cx="464.9" cy="484.7" r="1.03" fill="#9ce2a2"/><circle cx="451.0" cy="486.5" r="0.79" fill="#9ce2a2"/><circle cx="467.6" cy="477.8" r="0.97" fill="#58b662"/><circle cx="480.0" cy="483.1" r="0.89" fill="#4aa856"/><circle cx="465.8" cy="491.7" r="0.97" fill="#44984e"/><circle cx="457.8" cy="461.7" r="0.81" fill="#4aa856"/><circle cx="464.5" cy="496.9" r="0.74" fill="#44984e"/><circle cx="432.5" cy="472.6" r="0.82" fill="#9ce2a2"/><circle cx="447.3" cy="502.1" r="0.76" fill="#58b662"/><circle cx="476.9" cy="500.5" r="0.88" fill="#9ce2a2"/></g>
<circle cx="429.0" cy="482.4" r="0.52" fill="#3a9a48"/><circle cx="427.5" cy="488.4" r="1.02" fill="#5ab862"/><circle cx="428.8" cy="483.7" r="0.72" fill="#48a654"/><circle cx="426.7" cy="487.4" r="1.25" fill="#3a9a48"/><circle cx="428.7" cy="484.3" r="1.21" fill="#5ab862"/><circle cx="427.6" cy="487.4" r="1.18" fill="#48a654"/><circle cx="427.4" cy="484.4" r="0.71" fill="#3a9a48"/><circle cx="429.2" cy="479.8" r="1.26" fill="#70c878"/><circle cx="430.2" cy="480.2" r="1.05" fill="#3a9a48"/><circle cx="428.5" cy="481.7" r="0.53" fill="#5ab862"/><circle cx="430.8" cy="478.5" r="0.83" fill="#70c878"/><circle cx="430.1" cy="479.9" r="0.97" fill="#5ab862"/><circle cx="431.0" cy="478.0" r="0.92" fill="#3a9a48"/><circle cx="427.6" cy="481.3" r="0.78" fill="#3a9a48"/><circle cx="439.4" cy="470.3" r="1.17" fill="#70c878"/><circle cx="437.0" cy="471.7" r="0.58" fill="#70c878"/><circle cx="434.4" cy="473.9" r="0.78" fill="#5ab862"/><circle cx="439.4" cy="468.6" r="0.85" fill="#48a654"/><circle cx="436.4" cy="471.0" r="1.02" fill="#70c878"/><circle cx="438.5" cy="471.1" r="0.66" fill="#48a654"/><circle cx="438.3" cy="468.8" r="0.87" fill="#48a654"/><circle cx="444.1" cy="465.7" r="0.97" fill="#3a9a48"/><circle cx="444.5" cy="466.7" r="1.07" fill="#48a654"/><circle cx="446.6" cy="463.9" r="1.25" fill="#48a654"/><circle cx="441.9" cy="467.5" r="0.55" fill="#48a654"/><circle cx="441.3" cy="467.0" r="0.85" fill="#5ab862"/><circle cx="442.2" cy="468.0" r="0.65" fill="#48a654"/><circle cx="448.0" cy="463.2" r="0.89" fill="#48a654"/><circle cx="449.7" cy="463.4" r="0.58" fill="#3a9a48"/><circle cx="453.0" cy="462.3" r="0.59" fill="#70c878"/><circle cx="448.5" cy="463.4" r="1.18" fill="#48a654"/><circle cx="449.6" cy="462.3" r="1.01" fill="#48a654"/><circle cx="454.0" cy="461.3" r="0.87" fill="#70c878"/><circle cx="455.2" cy="462.4" r="1.24" fill="#70c878"/><circle cx="449.2" cy="461.9" r="0.76" fill="#48a654"/><circle cx="460.5" cy="461.5" r="0.53" fill="#3a9a48"/><circle cx="462.1" cy="462.5" r="1.11" fill="#70c878"/><circle cx="461.9" cy="460.8" r="1.18" fill="#70c878"/><circle cx="459.9" cy="461.9" r="0.78" fill="#5ab862"/><circle cx="463.9" cy="461.5" r="0.51" fill="#3a9a48"/><circle cx="461.2" cy="462.7" r="1.18" fill="#5ab862"/><circle cx="458.6" cy="460.8" r="0.71" fill="#5ab862"/><circle cx="467.0" cy="464.0" r="1.17" fill="#3a9a48"/><circle cx="471.5" cy="464.4" r="1.28" fill="#70c878"/><circle cx="469.2" cy="464.5" r="1.20" fill="#48a654"/><circle cx="468.5" cy="463.5" r="0.66" fill="#70c878"/><circle cx="466.0" cy="461.7" r="0.77" fill="#48a654"/><circle cx="470.1" cy="463.4" r="0.62" fill="#5ab862"/><circle cx="472.7" cy="465.5" r="0.92" fill="#48a654"/><circle cx="474.6" cy="467.0" r="0.54" fill="#48a654"/><circle cx="473.8" cy="467.6" r="0.64" fill="#5ab862"/><circle cx="481.1" cy="472.3" r="0.83" fill="#5ab862"/><circle cx="476.3" cy="468.2" r="1.13" fill="#48a654"/><circle cx="480.7" cy="472.1" r="1.02" fill="#5ab862"/><circle cx="477.6" cy="471.5" r="0.69" fill="#48a654"/><circle cx="479.8" cy="472.8" r="0.52" fill="#5ab862"/><circle cx="482.1" cy="473.7" r="1.16" fill="#70c878"/><circle cx="481.1" cy="474.6" r="0.82" fill="#70c878"/><circle cx="484.4" cy="479.6" r="0.93" fill="#5ab862"/><circle cx="485.2" cy="480.3" r="0.72" fill="#70c878"/><circle cx="481.9" cy="473.6" r="1.10" fill="#70c878"/><circle cx="482.4" cy="476.8" r="0.70" fill="#70c878"/><circle cx="481.3" cy="474.0" r="1.14" fill="#3a9a48"/><circle cx="485.5" cy="481.6" r="0.80" fill="#3a9a48"/><circle cx="486.5" cy="484.5" r="0.82" fill="#3a9a48"/><circle cx="487.3" cy="487.5" r="0.79" fill="#5ab862"/><circle cx="487.7" cy="486.5" r="0.59" fill="#3a9a48"/><circle cx="485.9" cy="486.9" r="0.95" fill="#5ab862"/><circle cx="485.6" cy="486.0" r="1.24" fill="#5ab862"/><circle cx="486.7" cy="485.3" r="0.66" fill="#5ab862"/><circle cx="484.5" cy="494.0" r="1.07" fill="#3a9a48"/><circle cx="484.8" cy="493.6" r="1.14" fill="#3a9a48"/><circle cx="487.1" cy="490.9" r="1.13" fill="#70c878"/><circle cx="484.5" cy="493.3" r="0.73" fill="#48a654"/><circle cx="484.6" cy="493.0" r="0.94" fill="#5ab862"/><circle cx="486.3" cy="492.3" r="1.29" fill="#48a654"/><circle cx="484.6" cy="492.8" r="0.83" fill="#70c878"/><circle cx="475.5" cy="501.1" r="0.94" fill="#5ab862"/><circle cx="477.8" cy="499.3" r="1.15" fill="#70c878"/><circle cx="479.8" cy="497.8" r="0.90" fill="#5ab862"/><circle cx="483.0" cy="495.7" r="1.30" fill="#5ab862"/><circle cx="483.4" cy="497.2" r="0.91" fill="#70c878"/><circle cx="477.7" cy="499.8" r="0.60" fill="#70c878"/><circle cx="481.5" cy="496.5" r="0.90" fill="#5ab862"/><circle cx="469.0" cy="504.2" r="0.76" fill="#5ab862"/><circle cx="473.0" cy="502.1" r="1.19" fill="#48a654"/><circle cx="469.5" cy="503.7" r="0.51" fill="#3a9a48"/><circle cx="469.4" cy="503.7" r="0.84" fill="#48a654"/><circle cx="474.0" cy="503.1" r="0.83" fill="#48a654"/><circle cx="470.3" cy="504.0" r="0.72" fill="#5ab862"/><circle cx="466.6" cy="505.0" r="1.22" fill="#5ab862"/><circle cx="459.9" cy="505.0" r="1.26" fill="#48a654"/><circle cx="460.9" cy="505.4" r="0.56" fill="#48a654"/><circle cx="456.6" cy="505.8" r="0.73" fill="#70c878"/><circle cx="455.7" cy="507.3" r="0.59" fill="#3a9a48"/><circle cx="457.0" cy="505.6" r="1.17" fill="#3a9a48"/><circle cx="463.0" cy="504.5" r="1.29" fill="#70c878"/><circle cx="463.2" cy="506.0" r="1.14" fill="#5ab862"/><circle cx="451.6" cy="506.1" r="1.09" fill="#5ab862"/><circle cx="451.6" cy="505.9" r="1.28" fill="#70c878"/><circle cx="453.0" cy="505.7" r="0.56" fill="#5ab862"/><circle cx="446.9" cy="504.8" r="1.23" fill="#3a9a48"/><circle cx="449.0" cy="506.3" r="0.88" fill="#48a654"/><circle cx="452.6" cy="506.4" r="0.54" fill="#48a654"/><circle cx="446.4" cy="504.2" r="0.78" fill="#48a654"/><circle cx="437.7" cy="502.3" r="1.27" fill="#70c878"/><circle cx="442.6" cy="504.3" r="0.69" fill="#3a9a48"/><circle cx="438.7" cy="500.8" r="1.19" fill="#70c878"/><circle cx="442.4" cy="502.8" r="0.74" fill="#70c878"/><circle cx="435.7" cy="500.5" r="0.78" fill="#5ab862"/><circle cx="438.4" cy="502.0" r="1.04" fill="#70c878"/><circle cx="442.7" cy="503.3" r="0.62" fill="#5ab862"/><circle cx="435.2" cy="498.6" r="1.04" fill="#48a654"/><circle cx="431.1" cy="497.3" r="0.73" fill="#48a654"/><circle cx="432.2" cy="498.1" r="0.50" fill="#48a654"/><circle cx="430.6" cy="496.7" r="0.89" fill="#3a9a48"/><circle cx="432.4" cy="498.0" r="1.11" fill="#70c878"/><circle cx="434.6" cy="498.7" r="0.76" fill="#48a654"/><circle cx="434.8" cy="499.6" r="0.69" fill="#5ab862"/><circle cx="429.4" cy="493.5" r="0.98" fill="#48a654"/><circle cx="427.6" cy="492.4" r="0.52" fill="#5ab862"/><circle cx="426.4" cy="490.2" r="0.81" fill="#5ab862"/><circle cx="427.3" cy="493.0" r="0.58" fill="#48a654"/><circle cx="426.2" cy="490.3" r="0.79" fill="#70c878"/><circle cx="428.0" cy="493.9" r="0.58" fill="#5ab862"/><circle cx="428.6" cy="494.8" r="1.16" fill="#3a9a48"/>
<circle cx="427" cy="472" r="0.9" fill="#4aaa5a"/>
<circle cx="431" cy="474" r="0.9" fill="#4aaa5a"/>
<circle cx="425" cy="477" r="0.9" fill="#4aaa5a"/>
<circle cx="490" cy="484" r="0.9" fill="#4aaa5a"/>
<circle cx="493" cy="478" r="0.9" fill="#4aaa5a"/>
<circle cx="427" cy="466" r="0.9" fill="#4aaa5a"/>
<circle cx="489" cy="489" r="0.9" fill="#4aaa5a"/>
<text x="470.50" y="493.24" font-size="7.6" fill="#fff" font-weight="bold" text-anchor="middle" textLength="17" lengthAdjust="spacingAndGlyphs" >1 cm</text>
<rect x="462.70" y="494.80" width="18.00" height="1.30" fill="#fff" />
<rect x="361.50" y="451.30" width="136.10" height="109.10" fill="none" stroke="#333" stroke-width="1.0"/>
<text transform="translate(354.30,502.00) rotate(-90)" x="0" y="2.81" font-size="7.8" fill="#000" font-weight="bold" text-anchor="middle" textLength="61.7" lengthAdjust="spacingAndGlyphs" >Intensity (arb. u.)</text>
<line x1="361.50" y1="560.40" x2="361.50" y2="562.40" stroke="#333" stroke-width="0.7" />
<text x="361.50" y="569.34" font-size="6.5" fill="#000" font-weight="bold" text-anchor="middle" >10</text>
<line x1="380.94" y1="560.40" x2="380.94" y2="562.40" stroke="#333" stroke-width="0.7" />
<text x="380.94" y="569.34" font-size="6.5" fill="#000" font-weight="bold" text-anchor="middle" >20</text>
<line x1="400.39" y1="560.40" x2="400.39" y2="562.40" stroke="#333" stroke-width="0.7" />
<text x="400.39" y="569.34" font-size="6.5" fill="#000" font-weight="bold" text-anchor="middle" >30</text>
<line x1="419.83" y1="560.40" x2="419.83" y2="562.40" stroke="#333" stroke-width="0.7" />
<text x="419.83" y="569.34" font-size="6.5" fill="#000" font-weight="bold" text-anchor="middle" >40</text>
<line x1="439.27" y1="560.40" x2="439.27" y2="562.40" stroke="#333" stroke-width="0.7" />
<text x="439.27" y="569.34" font-size="6.5" fill="#000" font-weight="bold" text-anchor="middle" >50</text>
<line x1="458.71" y1="560.40" x2="458.71" y2="562.40" stroke="#333" stroke-width="0.7" />
<text x="458.71" y="569.34" font-size="6.5" fill="#000" font-weight="bold" text-anchor="middle" >60</text>
<line x1="478.16" y1="560.40" x2="478.16" y2="562.40" stroke="#333" stroke-width="0.7" />
<text x="478.16" y="569.34" font-size="6.5" fill="#000" font-weight="bold" text-anchor="middle" >70</text>
<line x1="497.60" y1="560.40" x2="497.60" y2="562.40" stroke="#333" stroke-width="0.7" />
<text x="497.60" y="569.34" font-size="6.5" fill="#000" font-weight="bold" text-anchor="middle" >80</text>
<line x1="371.22" y1="560.40" x2="371.22" y2="561.60" stroke="#333" stroke-width="0.6" />
<line x1="390.66" y1="560.40" x2="390.66" y2="561.60" stroke="#333" stroke-width="0.6" />
<line x1="410.11" y1="560.40" x2="410.11" y2="561.60" stroke="#333" stroke-width="0.6" />
<line x1="429.55" y1="560.40" x2="429.55" y2="561.60" stroke="#333" stroke-width="0.6" />
<line x1="448.99" y1="560.40" x2="448.99" y2="561.60" stroke="#333" stroke-width="0.6" />
<line x1="468.44" y1="560.40" x2="468.44" y2="561.60" stroke="#333" stroke-width="0.6" />
<line x1="487.88" y1="560.40" x2="487.88" y2="561.60" stroke="#333" stroke-width="0.6" />
<text x="429.30" y="575.84" font-size="7.9" fill="#000" font-weight="bold" text-anchor="middle" textLength="41" lengthAdjust="spacingAndGlyphs" >2θ (degree)</text>
<polyline points="362.00,520.24 362.40,520.09 362.80,520.55 363.20,520.04 363.60,520.46 364.00,520.32 364.41,520.05 364.81,520.46 365.21,520.05 365.61,520.41 366.01,520.09 366.41,520.12 366.81,520.42 367.21,520.79 367.61,520.17 368.01,520.27 368.41,520.64 368.82,520.93 369.22,520.61 369.62,520.45 370.02,520.98 370.42,520.15 370.82,520.89 371.22,520.39 371.62,520.26 372.02,520.25 372.42,520.43 372.82,520.89 373.22,520.33 373.63,520.70 374.03,520.76 374.43,520.52 374.83,520.69 375.23,520.26 375.63,520.26 376.03,520.40 376.43,520.84 376.83,520.61 377.23,520.48 377.63,520.50 378.04,519.42 378.44,516.33 378.84,510.30 379.24,500.47 379.64,491.12 379.95,488.81 380.04,489.00 380.44,495.28 380.84,505.20 381.24,513.33 381.64,518.71 382.04,519.79 382.45,520.59 382.85,521.01 383.25,520.49 383.65,520.80 384.05,520.41 384.45,520.98 384.85,521.08 385.25,520.91 385.65,521.19 386.05,520.69 386.45,521.04 386.86,520.96 387.26,520.96 387.66,520.85 388.06,521.21 388.46,521.31 388.86,520.89 389.26,521.07 389.66,520.53 390.06,521.12 390.46,521.08 390.86,521.40 391.26,521.25 391.67,520.77 392.07,520.87 392.47,521.14 392.87,520.56 393.27,520.96 393.67,520.71 394.07,520.67 394.47,520.63 394.87,521.27 395.27,520.70 395.67,520.82 396.08,520.96 396.48,521.40 396.88,520.69 397.28,521.03 397.68,521.13 398.08,521.44 398.48,521.39 398.88,521.43 399.28,520.92 399.68,521.05 400.08,521.00 400.49,521.48 400.89,521.56 401.29,520.84 401.69,520.87 402.09,520.93 402.49,520.94 402.89,521.17 403.29,521.27 403.69,520.99 404.09,520.76 404.49,521.14 404.90,521.10 405.30,521.13 405.70,519.43 406.10,510.02 406.50,498.75 406.58,498.36 406.90,504.37 407.30,515.92 407.70,521.08 408.10,521.51 408.50,521.63 408.90,521.57 409.31,521.21 409.71,521.22 410.11,520.97 410.51,521.45 410.91,520.94 411.31,520.96 411.71,521.09 412.11,521.06 412.51,521.22 412.91,520.97 413.31,520.93 413.71,521.08 414.12,521.03 414.52,521.22 414.92,520.64 415.32,520.24 415.72,516.51 416.12,508.64 416.52,497.92 416.92,488.60 417.20,486.34 417.32,486.60 417.72,494.40 418.12,505.58 418.53,514.13 418.93,519.01 419.33,520.50 419.73,521.03 420.13,521.36 420.53,521.31 420.93,521.83 421.33,521.23 421.73,521.12 422.13,521.96 422.53,521.59 422.94,521.25 423.34,521.61 423.74,521.16 424.14,521.62 424.54,522.03 424.94,521.93 425.34,521.79 425.74,521.41 426.14,521.51 426.54,521.34 426.94,521.89 427.35,521.68 427.75,521.91 428.15,521.51 428.55,521.43 428.95,521.96 429.35,522.13 429.75,522.02 430.15,521.98 430.55,522.00 430.95,521.94 431.35,521.48 431.75,521.75 432.16,521.61 432.56,521.33 432.96,521.34 433.36,521.57 433.76,521.56 434.16,521.96 434.56,522.20 434.96,521.75 435.36,522.20 435.76,522.25 436.16,522.23 436.57,521.71 436.97,521.59 437.37,521.60 437.77,521.58 438.17,521.59 438.57,521.98 438.97,522.24 439.37,522.19 439.77,521.87 440.17,522.04 440.57,522.17 440.98,521.50 441.38,521.84 441.78,521.33 442.18,519.30 442.58,516.03 442.98,512.70 443.25,511.67 443.38,512.39 443.78,514.41 444.18,518.29 444.58,520.91 444.98,521.50 445.39,521.83 445.79,522.40 446.19,522.22 446.59,521.72 446.99,521.69 447.39,521.72 447.79,522.41 448.19,522.33 448.59,521.74 448.99,522.36 449.39,522.51 449.79,522.22 450.20,521.96 450.60,522.14 451.00,521.77 451.40,521.68 451.80,522.55 452.20,522.26 452.60,522.16 453.00,522.53 453.40,522.09 453.80,522.49 454.20,522.46 454.61,521.92 455.01,521.96 455.41,521.95 455.81,521.17 456.21,517.48 456.61,510.81 456.76,510.14 457.01,511.90 457.41,519.18 457.81,521.66 458.21,522.18 458.61,522.33 459.02,522.62 459.42,522.20 459.82,522.65 460.22,522.28 460.62,522.32 461.02,522.32 461.42,521.87 461.82,522.26 462.22,521.98 462.62,521.36 463.02,520.12 463.43,516.20 463.71,515.33 463.83,515.76 464.23,518.51 464.63,521.10 465.03,522.24 465.43,522.42 465.83,522.65 466.23,522.04 466.63,522.46 467.03,522.19 467.43,522.22 467.84,522.67 468.24,522.44 468.64,522.50 469.04,522.69 469.44,522.83 469.84,522.42 470.24,522.58 470.64,522.49 471.04,522.50 471.44,522.67 471.84,522.46 472.24,522.54 472.65,522.50 473.05,522.93 473.45,522.72 473.85,522.88 474.25,522.94 474.65,522.31 475.05,522.46 475.45,522.43 475.85,521.61 476.25,520.14 476.64,519.75 476.65,520.04 477.06,520.09 477.46,520.93 477.86,521.04 478.26,521.15 478.66,520.59 478.96,520.49 479.06,519.86 479.46,520.94 479.86,521.76 480.26,521.94 480.66,522.91 481.06,523.07 481.47,522.36 481.87,522.73 482.27,521.36 482.67,519.97 483.07,519.26 483.20,519.02 483.47,518.78 483.87,520.46 484.27,521.88 484.67,522.38 485.07,522.45 485.47,522.60 485.88,522.97 486.28,522.35 486.68,522.84 487.08,522.74 487.48,522.37 487.88,522.66 488.28,522.93 488.68,522.84 489.08,522.44 489.48,523.28 489.88,523.11 490.28,523.28 490.69,522.51 491.09,522.66 491.49,522.47 491.89,523.14 492.29,522.69 492.69,522.57 493.09,522.84 493.49,523.29 493.89,523.22 494.29,522.72 494.69,522.63 495.10,523.33 495.50,523.02 495.90,523.15 496.30,522.61 496.70,522.58 497.10,523.16" fill="none" stroke="#4ab2e2" stroke-width="1.3" stroke-linejoin="round"/>
<line x1="379.58" y1="560.00" x2="379.58" y2="538.00" stroke="#d04868" stroke-width="1.0" />
<line x1="406.41" y1="560.00" x2="406.41" y2="549.80" stroke="#d04868" stroke-width="1.0" />
<line x1="416.91" y1="560.00" x2="416.91" y2="538.00" stroke="#d04868" stroke-width="1.0" />
<line x1="443.35" y1="560.00" x2="443.35" y2="552.00" stroke="#d04868" stroke-width="1.0" />
<line x1="456.96" y1="560.00" x2="456.96" y2="554.60" stroke="#d04868" stroke-width="1.0" />
<line x1="463.96" y1="560.00" x2="463.96" y2="556.40" stroke="#d04868" stroke-width="1.0" />
<line x1="476.80" y1="560.00" x2="476.80" y2="557.50" stroke="#d04868" stroke-width="1.0" />
<line x1="478.93" y1="560.00" x2="478.93" y2="557.00" stroke="#d04868" stroke-width="1.0" />
<line x1="483.41" y1="560.00" x2="483.41" y2="557.00" stroke="#d04868" stroke-width="1.0" />
<text x="446.00" y="536.54" font-size="7.6" fill="#c8506a" textLength="24.5" lengthAdjust="spacingAndGlyphs" >Ni(OH)<tspan font-size="5.4" dy="2">2</tspan></text>
<text x="435.70" y="546.74" font-size="7.6" fill="#c8506a" textLength="49.6" lengthAdjust="spacingAndGlyphs" >(PDF#14-0177)</text>
<text x="511.60" y="454.58" font-size="13" fill="#000" font-weight="bold" >n</text>
<defs><radialGradient id="nph" cx="0.5" cy="0.5" r="0.72"><stop offset="0.3" stop-color="#f6f5f2"/><stop offset="1" stop-color="#e0ddd8"/></radialGradient></defs>
<rect x="589.00" y="458.00" width="70.60" height="51.50" fill="url(#nph)" filter="url(#blur15)"/>
<defs><clipPath id="nclip"><path d="M592.0,490.0 L594.0,482.0 L598.0,476.0 L604.0,470.0 L611.0,466.0 L620.0,463.0 L630.0,462.0 L640.0,464.0 L648.0,469.0 L653.0,476.0 L655.0,484.0 L654.0,492.0 L649.0,499.0 L640.0,504.0 L628.0,507.0 L614.0,506.5 L603.0,503.0 L596.0,498.0 Z"/></clipPath></defs>
<path d="M592.0,490.0 L594.0,482.0 L598.0,476.0 L604.0,470.0 L611.0,466.0 L620.0,463.0 L630.0,462.0 L640.0,464.0 L648.0,469.0 L653.0,476.0 L655.0,484.0 L654.0,492.0 L649.0,499.0 L640.0,504.0 L628.0,507.0 L614.0,506.5 L603.0,503.0 L596.0,498.0 Z" fill="#d49496" filter="url(#blur06)"/>
<g clip-path="url(#nclip)"><circle cx="634.0" cy="485.6" r="0.77" fill="#b87074"/><circle cx="654.0" cy="491.3" r="0.87" fill="#b87074"/><circle cx="623.6" cy="475.8" r="1.02" fill="#b87074"/><circle cx="637.7" cy="489.3" r="1.01" fill="#d49496"/><circle cx="594.9" cy="497.5" r="0.57" fill="#c8888a"/><circle cx="626.9" cy="462.6" r="0.74" fill="#e0aaaa"/><circle cx="613.4" cy="497.7" r="1.17" fill="#e0aaaa"/><circle cx="619.5" cy="469.7" r="0.96" fill="#c8888a"/><circle cx="652.0" cy="478.7" r="0.75" fill="#e0aaaa"/><circle cx="640.7" cy="502.1" r="0.76" fill="#c8888a"/><circle cx="620.1" cy="462.7" r="0.96" fill="#e0aaaa"/><circle cx="628.7" cy="500.2" r="0.76" fill="#bc7a7e"/><circle cx="613.2" cy="476.3" r="0.53" fill="#bc7a7e"/><circle cx="616.3" cy="502.5" r="0.84" fill="#b87074"/><circle cx="639.7" cy="464.8" r="1.18" fill="#c8888a"/><circle cx="627.5" cy="472.1" r="0.62" fill="#d49496"/><circle cx="650.8" cy="476.4" r="0.71" fill="#e0aaaa"/><circle cx="634.1" cy="506.6" r="0.92" fill="#b87074"/><circle cx="649.0" cy="479.8" r="0.70" fill="#bc7a7e"/><circle cx="603.6" cy="465.7" r="0.64" fill="#eabcbc"/><circle cx="628.6" cy="498.3" r="0.78" fill="#c8888a"/><circle cx="612.5" cy="481.9" r="0.57" fill="#b87074"/><circle cx="633.6" cy="492.2" r="0.73" fill="#b87074"/><circle cx="635.8" cy="484.4" r="0.54" fill="#d49496"/><circle cx="627.2" cy="472.7" r="0.76" fill="#d49496"/><circle cx="597.7" cy="486.1" r="1.10" fill="#eabcbc"/><circle cx="641.2" cy="500.6" r="0.99" fill="#c8888a"/><circle cx="622.1" cy="506.0" r="1.19" fill="#bc7a7e"/><circle cx="623.8" cy="492.4" r="0.91" fill="#eabcbc"/><circle cx="626.1" cy="489.6" r="0.59" fill="#d49496"/><circle cx="647.6" cy="490.8" r="0.64" fill="#e0aaaa"/><circle cx="652.0" cy="477.7" r="0.98" fill="#d49496"/><circle cx="596.6" cy="490.6" r="0.87" fill="#d49496"/><circle cx="603.6" cy="495.1" r="1.00" fill="#eabcbc"/><circle cx="612.3" cy="505.3" r="0.73" fill="#bc7a7e"/><circle cx="643.8" cy="499.9" r="1.02" fill="#bc7a7e"/><circle cx="613.8" cy="468.0" r="0.62" fill="#b87074"/><circle cx="638.8" cy="495.6" r="0.60" fill="#eabcbc"/><circle cx="634.0" cy="477.7" r="1.12" fill="#bc7a7e"/><circle cx="607.3" cy="481.9" r="1.05" fill="#b87074"/><circle cx="629.0" cy="483.3" r="0.83" fill="#bc7a7e"/><circle cx="622.2" cy="495.8" r="1.07" fill="#bc7a7e"/><circle cx="624.5" cy="489.3" r="0.81" fill="#b87074"/><circle cx="627.9" cy="495.5" r="0.74" fill="#b87074"/><circle cx="633.7" cy="483.0" r="0.65" fill="#e0aaaa"/><circle cx="643.6" cy="471.8" r="1.12" fill="#eabcbc"/><circle cx="639.0" cy="480.0" r="0.63" fill="#c8888a"/><circle cx="634.8" cy="488.9" r="1.07" fill="#c8888a"/><circle cx="640.3" cy="483.5" r="0.69" fill="#bc7a7e"/><circle cx="613.2" cy="506.8" r="0.91" fill="#eabcbc"/><circle cx="648.5" cy="470.4" r="0.67" fill="#e0aaaa"/><circle cx="636.8" cy="470.5" r="0.72" fill="#c8888a"/><circle cx="609.7" cy="467.3" r="0.51" fill="#d49496"/><circle cx="604.8" cy="485.6" r="0.83" fill="#bc7a7e"/><circle cx="615.6" cy="498.9" r="0.97" fill="#d49496"/><circle cx="644.9" cy="471.2" r="0.53" fill="#d49496"/><circle cx="624.3" cy="505.1" r="0.53" fill="#eabcbc"/><circle cx="615.4" cy="472.5" r="1.19" fill="#d49496"/><circle cx="638.2" cy="489.5" r="0.84" fill="#eabcbc"/><circle cx="627.6" cy="489.1" r="0.72" fill="#c8888a"/><circle cx="637.4" cy="480.4" r="1.10" fill="#d49496"/><circle cx="626.2" cy="487.8" r="1.06" fill="#eabcbc"/><circle cx="619.1" cy="505.7" r="0.97" fill="#c8888a"/><circle cx="647.4" cy="472.3" r="1.01" fill="#bc7a7e"/><circle cx="626.1" cy="508.8" r="0.83" fill="#bc7a7e"/><circle cx="646.3" cy="491.3" r="1.14" fill="#bc7a7e"/><circle cx="612.1" cy="477.7" r="0.65" fill="#c8888a"/><circle cx="610.9" cy="464.9" r="0.53" fill="#b87074"/><circle cx="598.6" cy="495.9" r="0.60" fill="#b87074"/><circle cx="630.4" cy="462.2" r="0.86" fill="#bc7a7e"/><circle cx="600.9" cy="492.8" r="1.05" fill="#eabcbc"/><circle cx="651.9" cy="492.7" r="0.71" fill="#b87074"/><circle cx="631.0" cy="478.8" r="0.77" fill="#e0aaaa"/><circle cx="620.0" cy="498.8" r="1.14" fill="#bc7a7e"/><circle cx="635.9" cy="469.0" r="1.07" fill="#eabcbc"/><circle cx="615.2" cy="493.7" r="0.66" fill="#bc7a7e"/><circle cx="635.5" cy="463.2" r="0.58" fill="#c8888a"/><circle cx="618.2" cy="472.1" r="0.97" fill="#eabcbc"/><circle cx="614.6" cy="487.8" r="0.57" fill="#d49496"/><circle cx="638.6" cy="472.9" r="0.60" fill="#eabcbc"/><circle cx="614.8" cy="485.7" r="0.92" fill="#bc7a7e"/><circle cx="633.9" cy="474.3" r="0.54" fill="#bc7a7e"/><circle cx="643.2" cy="498.8" r="0.93" fill="#b87074"/><circle cx="641.3" cy="473.1" r="0.91" fill="#e0aaaa"/><circle cx="620.9" cy="502.7" r="1.05" fill="#d49496"/><circle cx="605.6" cy="489.9" r="0.92" fill="#b87074"/><circle cx="622.5" cy="491.6" r="0.93" fill="#e0aaaa"/><circle cx="618.3" cy="476.6" r="1.17" fill="#b87074"/><circle cx="635.6" cy="464.6" r="0.60" fill="#eabcbc"/><circle cx="636.4" cy="482.9" r="0.86" fill="#b87074"/><circle cx="637.1" cy="475.0" r="0.77" fill="#e0aaaa"/><circle cx="631.5" cy="472.5" r="0.85" fill="#b87074"/><circle cx="625.2" cy="464.7" r="0.84" fill="#bc7a7e"/><circle cx="637.6" cy="502.2" r="1.02" fill="#d49496"/><circle cx="591.0" cy="485.5" r="0.59" fill="#c8888a"/><circle cx="623.7" cy="462.2" r="0.92" fill="#e0aaaa"/><circle cx="627.2" cy="486.3" r="0.54" fill="#bc7a7e"/><circle cx="608.3" cy="480.2" r="0.76" fill="#eabcbc"/><circle cx="620.8" cy="490.2" r="0.71" fill="#c8888a"/><circle cx="642.2" cy="491.1" r="0.86" fill="#e0aaaa"/><circle cx="611.6" cy="473.6" r="0.88" fill="#eabcbc"/><circle cx="653.2" cy="481.4" r="0.99" fill="#c8888a"/><circle cx="615.5" cy="495.7" r="1.11" fill="#d49496"/><circle cx="594.4" cy="488.6" r="0.87" fill="#eabcbc"/><circle cx="616.8" cy="462.9" r="0.62" fill="#bc7a7e"/><circle cx="616.7" cy="466.5" r="0.67" fill="#e0aaaa"/><circle cx="611.4" cy="481.2" r="0.98" fill="#b87074"/><circle cx="608.1" cy="465.0" r="0.70" fill="#e0aaaa"/><circle cx="603.7" cy="485.8" r="0.61" fill="#eabcbc"/><circle cx="612.9" cy="462.9" r="0.69" fill="#bc7a7e"/><circle cx="606.0" cy="465.1" r="1.18" fill="#eabcbc"/><circle cx="608.4" cy="501.1" r="0.64" fill="#eabcbc"/><circle cx="593.2" cy="475.3" r="0.53" fill="#eabcbc"/><circle cx="599.5" cy="481.3" r="0.92" fill="#eabcbc"/><circle cx="602.2" cy="493.1" r="0.99" fill="#b87074"/><circle cx="640.9" cy="468.5" r="0.84" fill="#d49496"/><circle cx="623.6" cy="481.1" r="0.67" fill="#b87074"/><circle cx="642.7" cy="489.7" r="1.10" fill="#eabcbc"/><circle cx="619.0" cy="500.9" r="0.61" fill="#d49496"/><circle cx="623.5" cy="495.4" r="0.84" fill="#e0aaaa"/><circle cx="641.6" cy="499.0" r="0.92" fill="#bc7a7e"/><circle cx="613.8" cy="495.2" r="0.69" fill="#b87074"/><circle cx="626.4" cy="482.1" r="0.78" fill="#c8888a"/><circle cx="599.0" cy="488.9" r="0.81" fill="#d49496"/><circle cx="596.4" cy="489.0" r="1.04" fill="#e0aaaa"/><circle cx="641.1" cy="491.4" r="0.61" fill="#bc7a7e"/><circle cx="601.4" cy="501.2" r="0.58" fill="#bc7a7e"/><circle cx="615.2" cy="482.3" r="0.65" fill="#c8888a"/><circle cx="615.7" cy="500.0" r="0.68" fill="#b87074"/><circle cx="646.6" cy="490.9" r="0.87" fill="#c8888a"/><circle cx="646.8" cy="490.0" r="0.61" fill="#c8888a"/><circle cx="614.2" cy="487.2" r="0.54" fill="#e0aaaa"/><circle cx="610.2" cy="504.1" r="1.19" fill="#bc7a7e"/><circle cx="643.8" cy="499.6" r="1.07" fill="#c8888a"/><circle cx="644.0" cy="468.5" r="1.09" fill="#d49496"/><circle cx="646.3" cy="485.0" r="0.96" fill="#b87074"/><circle cx="642.0" cy="473.4" r="0.95" fill="#c8888a"/><circle cx="634.0" cy="466.6" r="1.08" fill="#d49496"/><circle cx="597.1" cy="482.7" r="0.60" fill="#eabcbc"/><circle cx="644.8" cy="476.1" r="0.92" fill="#c8888a"/><circle cx="615.5" cy="471.0" r="0.91" fill="#c8888a"/><circle cx="623.6" cy="468.3" r="0.87" fill="#bc7a7e"/><circle cx="609.5" cy="469.2" r="0.78" fill="#bc7a7e"/><circle cx="643.3" cy="495.3" r="0.61" fill="#c8888a"/><circle cx="648.1" cy="473.3" r="0.67" fill="#eabcbc"/><circle cx="642.4" cy="500.8" r="0.97" fill="#d49496"/><circle cx="631.9" cy="465.9" r="0.74" fill="#bc7a7e"/><circle cx="612.9" cy="471.8" r="0.70" fill="#d49496"/><circle cx="619.4" cy="474.3" r="0.72" fill="#c8888a"/><circle cx="614.0" cy="466.3" r="0.90" fill="#b87074"/><circle cx="607.8" cy="471.2" r="1.16" fill="#b87074"/><circle cx="645.5" cy="470.9" r="0.89" fill="#b87074"/><circle cx="648.6" cy="492.7" r="0.86" fill="#bc7a7e"/><circle cx="615.6" cy="468.6" r="0.92" fill="#bc7a7e"/><circle cx="621.5" cy="508.3" r="0.80" fill="#d49496"/><circle cx="648.6" cy="486.0" r="1.07" fill="#e0aaaa"/><circle cx="654.7" cy="484.4" r="0.72" fill="#d49496"/><circle cx="631.7" cy="473.3" r="1.14" fill="#bc7a7e"/><circle cx="620.4" cy="486.3" r="1.09" fill="#c8888a"/><circle cx="622.8" cy="484.6" r="0.56" fill="#d49496"/><circle cx="622.7" cy="473.8" r="0.80" fill="#eabcbc"/><circle cx="605.8" cy="490.4" r="1.02" fill="#e0aaaa"/><circle cx="646.6" cy="498.5" r="1.02" fill="#e0aaaa"/><circle cx="600.1" cy="469.5" r="0.77" fill="#eabcbc"/><circle cx="593.2" cy="474.8" r="0.84" fill="#bc7a7e"/><circle cx="596.3" cy="480.9" r="0.57" fill="#b87074"/><circle cx="625.3" cy="507.8" r="0.79" fill="#c8888a"/><circle cx="606.4" cy="484.2" r="0.63" fill="#c8888a"/><circle cx="619.6" cy="462.8" r="0.90" fill="#c8888a"/><circle cx="634.4" cy="472.2" r="0.86" fill="#b87074"/><circle cx="638.4" cy="500.1" r="0.94" fill="#b87074"/><circle cx="622.0" cy="488.4" r="0.94" fill="#b87074"/><circle cx="631.2" cy="477.2" r="0.91" fill="#e0aaaa"/><circle cx="594.6" cy="477.0" r="0.89" fill="#b87074"/><circle cx="640.1" cy="481.8" r="0.82" fill="#eabcbc"/><circle cx="634.7" cy="466.9" r="0.86" fill="#bc7a7e"/><circle cx="634.7" cy="503.7" r="0.85" fill="#c8888a"/><circle cx="640.2" cy="479.5" r="1.07" fill="#b87074"/><circle cx="626.8" cy="468.6" r="0.53" fill="#eabcbc"/><circle cx="654.0" cy="489.5" r="0.99" fill="#bc7a7e"/><circle cx="603.1" cy="486.5" r="0.66" fill="#b87074"/><circle cx="623.7" cy="499.8" r="1.09" fill="#e0aaaa"/><circle cx="606.3" cy="466.8" r="1.17" fill="#bc7a7e"/><circle cx="614.1" cy="491.3" r="0.71" fill="#bc7a7e"/><circle cx="638.9" cy="498.2" r="0.85" fill="#e0aaaa"/><circle cx="623.8" cy="505.3" r="1.03" fill="#d49496"/><circle cx="596.3" cy="476.0" r="1.00" fill="#d49496"/><circle cx="642.5" cy="467.4" r="0.87" fill="#c8888a"/><circle cx="620.5" cy="496.3" r="0.92" fill="#e0aaaa"/><circle cx="607.6" cy="499.3" r="1.06" fill="#c8888a"/><circle cx="615.6" cy="486.8" r="1.10" fill="#e0aaaa"/><circle cx="642.7" cy="486.0" r="1.15" fill="#c8888a"/><circle cx="608.2" cy="465.1" r="0.76" fill="#eabcbc"/><circle cx="606.7" cy="488.2" r="0.71" fill="#eabcbc"/><circle cx="604.8" cy="501.4" r="1.08" fill="#b87074"/><circle cx="625.0" cy="466.5" r="0.60" fill="#e0aaaa"/><circle cx="616.1" cy="474.4" r="0.82" fill="#eabcbc"/><circle cx="642.7" cy="481.7" r="0.69" fill="#b87074"/><circle cx="613.9" cy="482.1" r="0.99" fill="#c8888a"/><circle cx="596.4" cy="486.0" r="0.55" fill="#bc7a7e"/><circle cx="621.7" cy="462.0" r="0.94" fill="#b87074"/><circle cx="633.8" cy="475.0" r="1.18" fill="#bc7a7e"/><circle cx="600.1" cy="495.9" r="0.99" fill="#d49496"/><circle cx="616.7" cy="506.1" r="1.17" fill="#eabcbc"/><circle cx="603.4" cy="467.2" r="1.17" fill="#b87074"/><circle cx="653.2" cy="477.4" r="0.64" fill="#e0aaaa"/><circle cx="610.5" cy="489.9" r="0.67" fill="#e0aaaa"/><circle cx="645.4" cy="471.1" r="0.53" fill="#eabcbc"/><circle cx="637.1" cy="466.9" r="0.63" fill="#c8888a"/><circle cx="600.8" cy="469.9" r="0.59" fill="#e0aaaa"/><circle cx="614.5" cy="467.8" r="1.01" fill="#c8888a"/><circle cx="603.7" cy="483.8" r="0.54" fill="#b87074"/><circle cx="592.8" cy="479.1" r="0.86" fill="#b87074"/><circle cx="605.0" cy="474.3" r="1.16" fill="#bc7a7e"/><circle cx="597.0" cy="486.3" r="1.01" fill="#e0aaaa"/><circle cx="643.2" cy="494.8" r="0.72" fill="#d49496"/><circle cx="648.9" cy="473.2" r="0.77" fill="#c8888a"/><circle cx="621.1" cy="476.0" r="1.07" fill="#eabcbc"/><circle cx="599.4" cy="473.8" r="0.99" fill="#e0aaaa"/><circle cx="627.1" cy="492.0" r="0.51" fill="#bc7a7e"/><circle cx="609.0" cy="463.4" r="0.88" fill="#bc7a7e"/><circle cx="591.6" cy="482.1" r="0.62" fill="#eabcbc"/><circle cx="620.9" cy="481.3" r="0.64" fill="#b87074"/><circle cx="604.3" cy="497.2" r="0.97" fill="#b87074"/><circle cx="594.2" cy="485.0" r="1.10" fill="#bc7a7e"/><circle cx="601.6" cy="495.3" r="1.18" fill="#c8888a"/><circle cx="604.1" cy="488.5" r="0.75" fill="#bc7a7e"/><circle cx="627.2" cy="480.4" r="1.08" fill="#c8888a"/><circle cx="606.0" cy="481.0" r="1.20" fill="#e0aaaa"/><circle cx="626.4" cy="466.7" r="1.09" fill="#bc7a7e"/><circle cx="636.0" cy="472.3" r="1.16" fill="#bc7a7e"/><circle cx="605.3" cy="492.0" r="0.73" fill="#bc7a7e"/><circle cx="622.6" cy="486.9" r="0.94" fill="#b87074"/><circle cx="648.7" cy="485.1" r="0.80" fill="#eabcbc"/><circle cx="650.9" cy="484.4" r="1.01" fill="#eabcbc"/><circle cx="635.4" cy="492.5" r="0.93" fill="#b87074"/><circle cx="608.8" cy="479.8" r="0.65" fill="#eabcbc"/><circle cx="632.1" cy="482.0" r="1.11" fill="#eabcbc"/><circle cx="641.4" cy="487.9" r="0.82" fill="#d49496"/><circle cx="620.6" cy="499.4" r="0.80" fill="#e0aaaa"/><circle cx="649.3" cy="487.4" r="0.81" fill="#c8888a"/><circle cx="637.9" cy="475.7" r="0.73" fill="#eabcbc"/><circle cx="606.6" cy="474.3" r="0.60" fill="#bc7a7e"/><circle cx="613.8" cy="475.3" r="1.16" fill="#c8888a"/><circle cx="634.0" cy="492.4" r="0.57" fill="#bc7a7e"/><circle cx="599.8" cy="485.6" r="0.53" fill="#e0aaaa"/><circle cx="626.8" cy="484.5" r="1.19" fill="#eabcbc"/><circle cx="612.1" cy="467.6" r="0.63" fill="#c8888a"/><circle cx="597.0" cy="497.0" r="0.50" fill="#e0aaaa"/><circle cx="630.8" cy="493.7" r="0.73" fill="#bc7a7e"/><circle cx="626.4" cy="470.0" r="1.00" fill="#e0aaaa"/><circle cx="631.2" cy="470.4" r="0.72" fill="#bc7a7e"/><circle cx="642.7" cy="492.8" r="0.78" fill="#c8888a"/><circle cx="642.8" cy="487.1" r="0.99" fill="#eabcbc"/><circle cx="606.4" cy="486.4" r="0.59" fill="#bc7a7e"/><circle cx="617.7" cy="473.9" r="0.96" fill="#e0aaaa"/><circle cx="640.1" cy="476.7" r="0.51" fill="#bc7a7e"/><circle cx="609.1" cy="472.9" r="0.68" fill="#c8888a"/><circle cx="646.8" cy="486.1" r="0.97" fill="#b87074"/><circle cx="626.2" cy="486.2" r="0.83" fill="#c8888a"/><circle cx="632.0" cy="499.3" r="0.59" fill="#e0aaaa"/><circle cx="634.9" cy="499.6" r="0.79" fill="#e0aaaa"/><circle cx="625.7" cy="471.4" r="0.54" fill="#eabcbc"/><circle cx="628.1" cy="486.5" r="0.86" fill="#bc7a7e"/><circle cx="608.3" cy="484.7" r="0.86" fill="#e0aaaa"/><circle cx="633.0" cy="505.7" r="0.51" fill="#b87074"/><circle cx="645.6" cy="476.9" r="0.74" fill="#c8888a"/><circle cx="643.1" cy="476.8" r="0.80" fill="#e0aaaa"/><circle cx="618.5" cy="475.9" r="1.03" fill="#c8888a"/><circle cx="627.5" cy="464.1" r="0.75" fill="#c8888a"/><circle cx="645.7" cy="486.8" r="1.14" fill="#b87074"/><circle cx="592.2" cy="488.5" r="1.15" fill="#d49496"/><circle cx="625.2" cy="493.6" r="0.58" fill="#d49496"/><circle cx="652.0" cy="485.8" r="0.68" fill="#d49496"/><circle cx="593.9" cy="493.8" r="0.62" fill="#b87074"/><circle cx="595.4" cy="479.8" r="0.93" fill="#b87074"/><circle cx="635.3" cy="463.6" r="1.08" fill="#d49496"/><circle cx="608.7" cy="486.0" r="0.73" fill="#bc7a7e"/><circle cx="603.6" cy="475.7" r="0.80" fill="#eabcbc"/><circle cx="591.8" cy="489.0" r="0.80" fill="#b87074"/><circle cx="597.8" cy="478.3" r="0.79" fill="#bc7a7e"/><circle cx="630.0" cy="474.3" r="0.79" fill="#c8888a"/><circle cx="641.4" cy="472.3" r="0.53" fill="#b87074"/><circle cx="652.1" cy="484.6" r="0.58" fill="#b87074"/><circle cx="632.3" cy="495.7" r="1.07" fill="#eabcbc"/><circle cx="633.5" cy="466.8" r="0.77" fill="#bc7a7e"/><circle cx="614.0" cy="506.0" r="1.19" fill="#b87074"/><circle cx="631.1" cy="499.0" r="0.90" fill="#bc7a7e"/><circle cx="616.8" cy="505.2" r="0.58" fill="#e0aaaa"/><circle cx="616.7" cy="493.9" r="0.88" fill="#e0aaaa"/><circle cx="628.9" cy="463.9" r="0.81" fill="#eabcbc"/><circle cx="646.0" cy="476.0" r="1.10" fill="#c8888a"/><circle cx="649.6" cy="478.8" r="0.98" fill="#eabcbc"/><circle cx="626.2" cy="468.2" r="0.85" fill="#c8888a"/><circle cx="602.2" cy="473.5" r="0.94" fill="#d49496"/><circle cx="614.0" cy="485.7" r="0.85" fill="#bc7a7e"/><circle cx="626.2" cy="464.6" r="0.95" fill="#e0aaaa"/><circle cx="616.3" cy="476.3" r="0.84" fill="#c8888a"/><circle cx="646.4" cy="501.7" r="1.10" fill="#b87074"/><circle cx="612.3" cy="502.6" r="1.03" fill="#c8888a"/></g>
<circle cx="592.9" cy="489.2" r="0.74" fill="#d08c8e"/><circle cx="592.8" cy="486.0" r="0.58" fill="#dca0a0"/><circle cx="593.7" cy="487.2" r="1.05" fill="#c27e82"/><circle cx="593.9" cy="486.9" r="1.10" fill="#d08c8e"/><circle cx="593.3" cy="485.8" r="1.12" fill="#d08c8e"/><circle cx="593.0" cy="483.3" r="0.66" fill="#d08c8e"/><circle cx="596.5" cy="480.2" r="0.92" fill="#dca0a0"/><circle cx="595.8" cy="481.2" r="0.54" fill="#d08c8e"/><circle cx="597.0" cy="478.8" r="0.87" fill="#dca0a0"/><circle cx="598.6" cy="476.7" r="1.15" fill="#dca0a0"/><circle cx="595.3" cy="480.2" r="0.57" fill="#d08c8e"/><circle cx="597.1" cy="478.6" r="0.76" fill="#d08c8e"/><circle cx="601.6" cy="471.8" r="0.73" fill="#dca0a0"/><circle cx="598.7" cy="475.7" r="1.15" fill="#c27e82"/><circle cx="598.3" cy="474.8" r="1.19" fill="#d08c8e"/><circle cx="602.9" cy="472.6" r="0.74" fill="#c27e82"/><circle cx="598.4" cy="475.7" r="0.89" fill="#dca0a0"/><circle cx="603.6" cy="470.2" r="1.26" fill="#c27e82"/><circle cx="606.9" cy="467.7" r="0.70" fill="#c27e82"/><circle cx="607.8" cy="468.1" r="0.68" fill="#c27e82"/><circle cx="608.4" cy="468.0" r="1.16" fill="#dca0a0"/><circle cx="604.8" cy="469.4" r="0.78" fill="#c27e82"/><circle cx="605.5" cy="469.9" r="0.50" fill="#d08c8e"/><circle cx="605.7" cy="470.3" r="1.18" fill="#d08c8e"/><circle cx="618.2" cy="464.2" r="1.27" fill="#d08c8e"/><circle cx="615.5" cy="465.6" r="0.75" fill="#d08c8e"/><circle cx="619.6" cy="463.8" r="1.23" fill="#dca0a0"/><circle cx="620.0" cy="463.8" r="1.12" fill="#dca0a0"/><circle cx="613.3" cy="465.1" r="0.79" fill="#d08c8e"/><circle cx="618.7" cy="464.6" r="1.27" fill="#d08c8e"/><circle cx="628.6" cy="463.2" r="0.98" fill="#d08c8e"/><circle cx="626.8" cy="462.1" r="0.80" fill="#d08c8e"/><circle cx="624.0" cy="463.4" r="1.02" fill="#d08c8e"/><circle cx="622.3" cy="463.1" r="0.86" fill="#d08c8e"/><circle cx="620.0" cy="462.6" r="0.70" fill="#dca0a0"/><circle cx="620.8" cy="463.5" r="1.08" fill="#d08c8e"/><circle cx="635.3" cy="462.4" r="1.19" fill="#dca0a0"/><circle cx="630.7" cy="462.2" r="1.29" fill="#dca0a0"/><circle cx="637.4" cy="464.4" r="1.26" fill="#d08c8e"/><circle cx="639.3" cy="464.5" r="0.75" fill="#dca0a0"/><circle cx="636.2" cy="463.7" r="0.99" fill="#d08c8e"/><circle cx="636.0" cy="463.7" r="0.52" fill="#dca0a0"/><circle cx="640.6" cy="463.7" r="0.59" fill="#dca0a0"/><circle cx="646.2" cy="467.3" r="0.80" fill="#c27e82"/><circle cx="640.4" cy="464.2" r="1.21" fill="#c27e82"/><circle cx="641.6" cy="465.9" r="0.66" fill="#d08c8e"/><circle cx="645.5" cy="467.1" r="1.17" fill="#d08c8e"/><circle cx="643.0" cy="465.2" r="1.15" fill="#c27e82"/><circle cx="651.6" cy="473.4" r="0.67" fill="#c27e82"/><circle cx="649.8" cy="473.1" r="0.92" fill="#c27e82"/><circle cx="649.3" cy="469.6" r="0.74" fill="#dca0a0"/><circle cx="650.3" cy="474.2" r="0.86" fill="#d08c8e"/><circle cx="647.6" cy="469.7" r="0.69" fill="#dca0a0"/><circle cx="653.1" cy="475.6" r="0.99" fill="#dca0a0"/><circle cx="653.9" cy="482.2" r="0.61" fill="#c27e82"/><circle cx="653.8" cy="480.2" r="0.88" fill="#d08c8e"/><circle cx="654.5" cy="480.5" r="1.24" fill="#c27e82"/><circle cx="655.2" cy="482.9" r="1.08" fill="#c27e82"/><circle cx="652.7" cy="479.0" r="0.78" fill="#dca0a0"/><circle cx="653.5" cy="477.6" r="0.58" fill="#dca0a0"/><circle cx="654.5" cy="484.2" r="0.96" fill="#dca0a0"/><circle cx="653.8" cy="488.5" r="0.68" fill="#c27e82"/><circle cx="654.8" cy="486.3" r="1.00" fill="#dca0a0"/><circle cx="654.1" cy="487.1" r="0.55" fill="#dca0a0"/><circle cx="653.9" cy="488.9" r="0.83" fill="#dca0a0"/><circle cx="653.4" cy="489.3" r="1.09" fill="#d08c8e"/><circle cx="649.7" cy="497.7" r="0.63" fill="#d08c8e"/><circle cx="650.7" cy="497.2" r="0.95" fill="#dca0a0"/><circle cx="652.3" cy="492.9" r="0.86" fill="#dca0a0"/><circle cx="651.3" cy="494.4" r="0.73" fill="#d08c8e"/><circle cx="651.7" cy="495.0" r="1.25" fill="#d08c8e"/><circle cx="649.2" cy="497.3" r="1.21" fill="#c27e82"/><circle cx="648.1" cy="499.7" r="1.18" fill="#c27e82"/><circle cx="645.1" cy="501.8" r="0.84" fill="#d08c8e"/><circle cx="645.4" cy="500.5" r="0.58" fill="#d08c8e"/><circle cx="644.9" cy="501.4" r="0.87" fill="#dca0a0"/><circle cx="647.0" cy="499.8" r="0.67" fill="#d08c8e"/><circle cx="645.8" cy="499.6" r="0.83" fill="#c27e82"/><circle cx="638.9" cy="504.1" r="1.06" fill="#c27e82"/><circle cx="630.6" cy="505.3" r="1.28" fill="#c27e82"/><circle cx="634.6" cy="504.3" r="0.84" fill="#dca0a0"/><circle cx="637.3" cy="504.4" r="1.30" fill="#d08c8e"/><circle cx="631.5" cy="505.8" r="1.17" fill="#d08c8e"/><circle cx="628.7" cy="507.5" r="1.11" fill="#d08c8e"/><circle cx="617.5" cy="506.1" r="0.61" fill="#c27e82"/><circle cx="621.7" cy="507.2" r="1.12" fill="#d08c8e"/><circle cx="623.8" cy="507.0" r="1.23" fill="#dca0a0"/><circle cx="627.0" cy="506.1" r="0.82" fill="#d08c8e"/><circle cx="619.3" cy="506.1" r="0.86" fill="#d08c8e"/><circle cx="627.9" cy="507.1" r="0.55" fill="#d08c8e"/><circle cx="609.3" cy="504.0" r="1.29" fill="#dca0a0"/><circle cx="612.6" cy="505.2" r="0.69" fill="#dca0a0"/><circle cx="608.7" cy="505.4" r="1.03" fill="#c27e82"/><circle cx="603.5" cy="503.3" r="0.85" fill="#c27e82"/><circle cx="611.6" cy="506.0" r="0.85" fill="#dca0a0"/><circle cx="604.3" cy="502.7" r="1.06" fill="#dca0a0"/><circle cx="600.8" cy="501.5" r="1.03" fill="#d08c8e"/><circle cx="602.1" cy="502.1" r="0.98" fill="#d08c8e"/><circle cx="602.2" cy="501.3" r="1.12" fill="#d08c8e"/><circle cx="597.4" cy="498.9" r="0.56" fill="#d08c8e"/><circle cx="598.0" cy="498.3" r="0.58" fill="#dca0a0"/><circle cx="600.7" cy="501.7" r="0.80" fill="#dca0a0"/><circle cx="592.5" cy="491.7" r="0.81" fill="#d08c8e"/><circle cx="594.9" cy="495.2" r="0.84" fill="#dca0a0"/><circle cx="594.6" cy="495.8" r="1.26" fill="#d08c8e"/><circle cx="593.5" cy="493.6" r="1.13" fill="#d08c8e"/><circle cx="593.8" cy="494.7" r="1.12" fill="#d08c8e"/><circle cx="595.7" cy="497.7" r="0.52" fill="#d08c8e"/>
<text x="639.80" y="493.04" font-size="7.6" fill="#fff" font-weight="bold" text-anchor="middle" textLength="17.7" lengthAdjust="spacingAndGlyphs" >1 cm</text>
<rect x="632.00" y="495.00" width="18.00" height="1.40" fill="#fff" />
<rect x="525.50" y="451.00" width="136.40" height="110.40" fill="none" stroke="#333" stroke-width="1.0"/>
<text transform="translate(517.30,503.20) rotate(-90)" x="0" y="2.81" font-size="7.8" fill="#000" font-weight="bold" text-anchor="middle" textLength="62.5" lengthAdjust="spacingAndGlyphs" >Intensity (arb. u.)</text>
<line x1="525.50" y1="561.40" x2="525.50" y2="563.40" stroke="#333" stroke-width="0.7" />
<text x="525.50" y="570.34" font-size="6.5" fill="#000" font-weight="bold" text-anchor="middle" >10</text>
<line x1="544.99" y1="561.40" x2="544.99" y2="563.40" stroke="#333" stroke-width="0.7" />
<text x="544.99" y="570.34" font-size="6.5" fill="#000" font-weight="bold" text-anchor="middle" >20</text>
<line x1="564.47" y1="561.40" x2="564.47" y2="563.40" stroke="#333" stroke-width="0.7" />
<text x="564.47" y="570.34" font-size="6.5" fill="#000" font-weight="bold" text-anchor="middle" >30</text>
<line x1="583.96" y1="561.40" x2="583.96" y2="563.40" stroke="#333" stroke-width="0.7" />
<text x="583.96" y="570.34" font-size="6.5" fill="#000" font-weight="bold" text-anchor="middle" >40</text>
<line x1="603.44" y1="561.40" x2="603.44" y2="563.40" stroke="#333" stroke-width="0.7" />
<text x="603.44" y="570.34" font-size="6.5" fill="#000" font-weight="bold" text-anchor="middle" >50</text>
<line x1="622.93" y1="561.40" x2="622.93" y2="563.40" stroke="#333" stroke-width="0.7" />
<text x="622.93" y="570.34" font-size="6.5" fill="#000" font-weight="bold" text-anchor="middle" >60</text>
<line x1="642.41" y1="561.40" x2="642.41" y2="563.40" stroke="#333" stroke-width="0.7" />
<text x="642.41" y="570.34" font-size="6.5" fill="#000" font-weight="bold" text-anchor="middle" >70</text>
<line x1="661.90" y1="561.40" x2="661.90" y2="563.40" stroke="#333" stroke-width="0.7" />
<text x="661.90" y="570.34" font-size="6.5" fill="#000" font-weight="bold" text-anchor="middle" >80</text>
<line x1="535.24" y1="561.40" x2="535.24" y2="562.60" stroke="#333" stroke-width="0.6" />
<line x1="554.73" y1="561.40" x2="554.73" y2="562.60" stroke="#333" stroke-width="0.6" />
<line x1="574.21" y1="561.40" x2="574.21" y2="562.60" stroke="#333" stroke-width="0.6" />
<line x1="593.70" y1="561.40" x2="593.70" y2="562.60" stroke="#333" stroke-width="0.6" />
<line x1="613.19" y1="561.40" x2="613.19" y2="562.60" stroke="#333" stroke-width="0.6" />
<line x1="632.67" y1="561.40" x2="632.67" y2="562.60" stroke="#333" stroke-width="0.6" />
<line x1="652.16" y1="561.40" x2="652.16" y2="562.60" stroke="#333" stroke-width="0.6" />
<text x="593.00" y="578.14" font-size="7.9" fill="#000" font-weight="bold" text-anchor="middle" textLength="41" lengthAdjust="spacingAndGlyphs" >2θ (degree)</text>
<polyline points="526.00,528.77 526.40,528.69 526.80,528.47 527.20,529.13 527.60,528.36 528.00,528.80 528.40,529.16 528.80,528.42 529.20,528.85 529.61,528.90 530.01,528.39 530.41,528.69 530.81,528.98 531.21,528.76 531.61,529.00 532.01,528.49 532.41,528.56 532.81,528.45 533.21,528.81 533.61,529.18 534.01,528.88 534.41,529.05 534.81,528.70 535.21,529.02 535.61,528.44 536.01,528.61 536.42,528.96 536.82,529.00 537.22,528.73 537.62,528.43 538.02,528.59 538.42,528.54 538.82,528.60 539.22,529.08 539.62,528.53 540.02,529.15 540.42,529.14 540.82,528.40 541.22,528.69 541.62,528.79 542.02,528.35 542.42,528.20 542.82,523.68 543.23,506.79 543.60,495.89 543.63,495.52 544.03,509.55 544.43,524.79 544.83,528.15 545.23,528.34 545.63,528.42 546.03,528.84 546.43,528.37 546.83,528.43 547.23,528.80 547.63,529.18 548.03,528.73 548.43,528.71 548.83,528.92 549.23,528.43 549.63,528.87 550.04,528.51 550.44,528.90 550.84,529.21 551.24,528.40 551.64,528.85 552.04,528.90 552.44,528.48 552.84,528.59 553.24,529.25 553.64,529.25 554.04,528.46 554.44,528.98 554.84,529.21 555.24,528.56 555.64,528.90 556.04,528.39 556.44,528.68 556.85,528.96 557.25,528.88 557.65,529.05 558.05,528.43 558.45,528.66 558.85,529.13 559.25,528.88 559.65,528.76 560.05,528.71 560.45,529.24 560.85,528.87 561.25,528.37 561.65,529.07 562.05,528.65 562.45,528.74 562.85,528.54 563.26,528.75 563.66,528.64 564.06,528.43 564.46,528.92 564.86,528.44 565.26,529.06 565.66,528.37 566.06,529.05 566.46,529.08 566.86,528.80 567.26,528.99 567.66,528.57 568.06,528.98 568.46,527.98 568.86,522.76 569.26,511.97 569.52,507.71 569.66,508.92 570.07,520.39 570.47,527.20 570.87,528.85 571.27,528.50 571.67,529.11 572.07,528.58 572.47,528.40 572.87,529.23 573.27,528.51 573.67,529.20 574.07,529.24 574.47,528.90 574.87,528.36 575.27,528.40 575.67,528.54 576.07,528.70 576.47,528.90 576.88,529.22 577.28,528.67 577.68,528.48 578.08,528.85 578.48,528.43 578.88,527.70 579.28,522.76 579.68,505.72 580.08,488.05 580.16,487.76 580.48,497.12 580.88,517.59 581.28,526.83 581.68,529.01 582.08,528.50 582.48,528.99 582.88,529.04 583.28,529.14 583.69,528.79 584.09,528.44 584.49,528.39 584.89,528.83 585.29,528.51 585.69,528.92 586.09,528.43 586.49,529.05 586.89,528.55 587.29,528.36 587.69,528.51 588.09,528.76 588.49,528.85 588.89,528.70 589.29,528.51 589.69,528.78 590.09,529.20 590.50,528.83 590.90,529.20 591.30,528.38 591.70,529.24 592.10,529.15 592.50,528.84 592.90,528.82 593.30,528.83 593.70,529.17 594.10,528.41 594.50,528.93 594.90,528.84 595.30,528.62 595.70,529.00 596.10,529.00 596.50,528.44 596.90,528.98 597.31,528.76 597.71,528.79 598.11,528.92 598.51,528.40 598.91,528.89 599.31,528.69 599.71,529.14 600.11,528.56 600.51,529.09 600.91,529.01 601.31,528.91 601.71,529.14 602.11,528.38 602.51,528.89 602.91,528.90 603.31,528.96 603.71,528.72 604.12,528.41 604.52,528.51 604.92,528.67 605.32,526.27 605.72,519.86 606.08,516.07 606.12,516.23 606.52,521.73 606.92,526.82 607.32,528.92 607.72,528.65 608.12,529.05 608.52,528.36 608.92,529.21 609.32,528.88 609.72,529.23 610.12,529.24 610.52,529.10 610.93,528.45 611.33,528.66 611.73,528.56 612.13,529.05 612.53,528.52 612.93,528.55 613.33,528.45 613.73,528.46 614.13,529.19 614.53,529.23 614.93,528.69 615.33,529.02 615.73,528.77 616.13,528.82 616.53,528.68 616.93,528.92 617.33,528.55 617.74,528.20 618.14,525.50 618.54,517.38 618.85,513.95 618.94,514.76 619.34,521.16 619.74,527.06 620.14,528.97 620.54,528.40 620.94,528.58 621.34,529.12 621.74,528.89 622.14,528.55 622.54,528.40 622.94,528.60 623.34,528.62 623.74,529.07 624.14,529.23 624.55,528.99 624.95,528.31 625.35,525.05 625.75,521.43 625.81,521.38 626.15,523.67 626.55,526.90 626.95,528.47 627.35,528.57 627.75,528.89 628.15,528.79 628.55,528.66 628.95,529.10 629.35,528.71 629.75,528.54 630.15,528.60 630.55,528.77 630.96,528.90 631.36,528.86 631.76,528.75 632.16,528.52 632.56,528.71 632.96,528.64 633.36,528.50 633.76,528.84 634.16,528.52 634.56,528.99 634.96,528.94 635.36,528.47 635.76,528.91 636.16,528.65 636.56,528.75 636.96,528.89 637.36,528.92 637.77,528.34 638.17,526.83 638.38,526.04 638.57,526.58 638.97,527.75 639.37,528.23 639.77,528.83 640.17,528.67 640.57,528.25 640.97,525.65 641.28,525.10 641.37,524.90 641.77,526.46 642.17,528.61 642.57,528.58 642.97,528.83 643.37,528.41 643.77,528.29 644.17,528.45 644.58,525.48 644.96,523.98 644.98,524.00 645.38,525.76 645.78,528.48 646.18,529.19 646.58,528.93 646.98,528.71 647.38,529.15 647.78,528.81 648.18,528.47 648.58,528.97 648.98,528.67 649.38,528.59 649.78,528.64 650.18,528.70 650.58,528.51 650.98,528.90 651.39,529.13 651.79,528.86 652.19,528.36 652.59,528.97 652.99,528.37 653.39,528.78 653.79,529.13 654.19,528.96 654.59,529.17 654.99,529.03 655.39,528.60 655.79,528.48 656.19,528.76 656.59,528.96 656.99,528.56 657.39,528.65 657.79,529.02 658.20,528.66 658.60,528.89 659.00,528.84 659.40,529.19 659.80,528.37 660.20,528.52 660.60,529.05 661.00,528.95 661.40,528.44" fill="none" stroke="#4ab2e2" stroke-width="1.1" stroke-linejoin="round"/>
<line x1="543.23" y1="561.00" x2="543.23" y2="549.80" stroke="#d04868" stroke-width="1.0" />
<line x1="569.34" y1="561.00" x2="569.34" y2="552.50" stroke="#d04868" stroke-width="1.0" />
<line x1="580.06" y1="561.00" x2="580.06" y2="542.50" stroke="#d04868" stroke-width="1.0" />
<line x1="606.17" y1="561.00" x2="606.17" y2="552.50" stroke="#d04868" stroke-width="1.0" />
<line x1="619.03" y1="561.00" x2="619.03" y2="554.30" stroke="#d04868" stroke-width="1.0" />
<line x1="626.05" y1="561.00" x2="626.05" y2="556.10" stroke="#d04868" stroke-width="1.0" />
<line x1="638.52" y1="561.00" x2="638.52" y2="557.50" stroke="#d04868" stroke-width="1.0" />
<line x1="641.63" y1="561.00" x2="641.63" y2="557.00" stroke="#d04868" stroke-width="1.0" />
<line x1="645.34" y1="561.00" x2="645.34" y2="557.50" stroke="#d04868" stroke-width="1.0" />
<text x="616.00" y="538.94" font-size="7.6" fill="#c8506a" textLength="27" lengthAdjust="spacingAndGlyphs" >Co(OH)<tspan font-size="5.4" dy="2">2</tspan></text>
<text x="603.70" y="549.24" font-size="7.6" fill="#c8506a" textLength="50.4" lengthAdjust="spacingAndGlyphs" >(PDF#30-0443)</text>
</svg></div></body></html>
